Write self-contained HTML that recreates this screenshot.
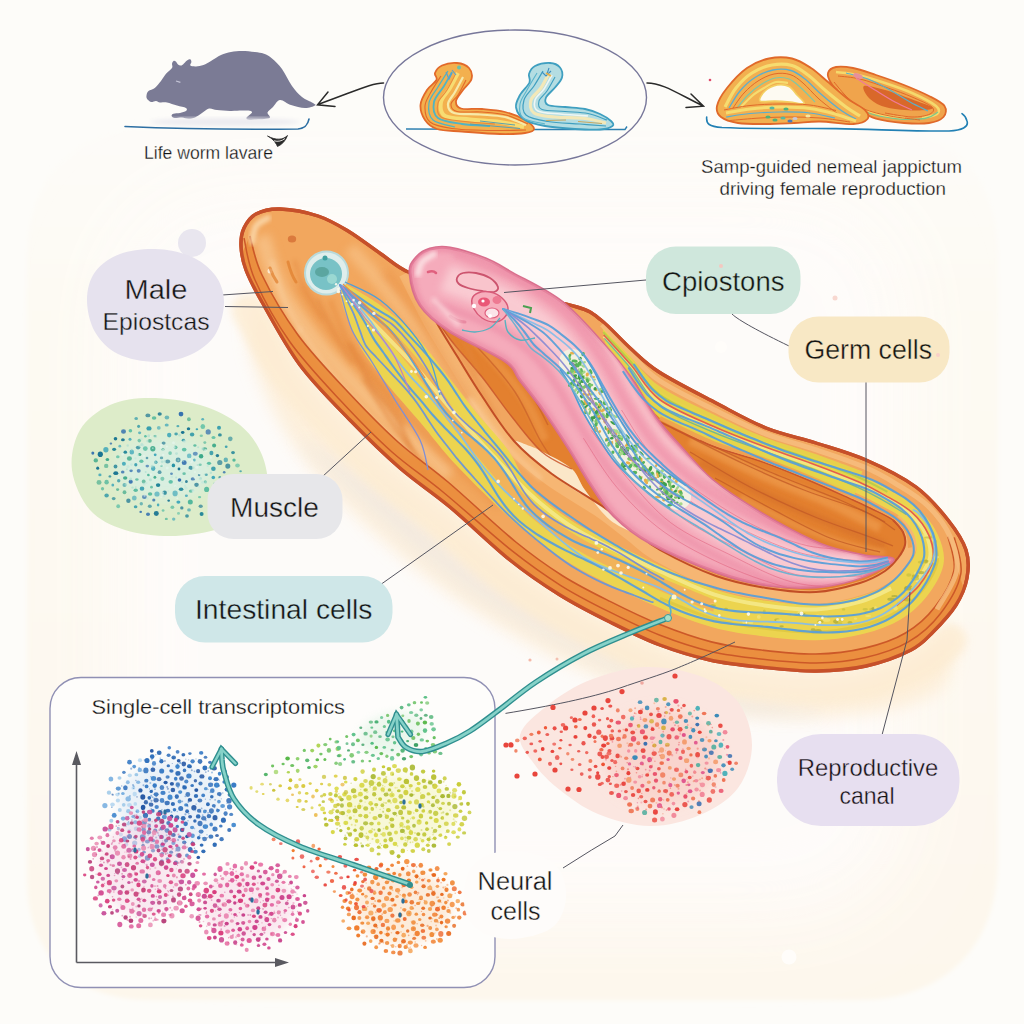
<!DOCTYPE html>
<html><head><meta charset="utf-8"><title>Worm single-cell atlas</title>
<style>
html,body{margin:0;padding:0;background:#fdfcf9;}
body{width:1024px;height:1024px;overflow:hidden;font-family:"Liberation Sans",sans-serif;}
svg{display:block}
text{font-family:"Liberation Sans",sans-serif;fill:#141414}
</style></head><body>
<svg width="1024" height="1024" viewBox="0 0 1024 1024">
<defs>
<filter id="b2" x="-20%" y="-20%" width="140%" height="140%"><feGaussianBlur stdDeviation="2"/></filter>
<filter id="b4" x="-20%" y="-20%" width="140%" height="140%"><feGaussianBlur stdDeviation="4"/></filter>
<filter id="b8" x="-20%" y="-20%" width="140%" height="140%"><feGaussianBlur stdDeviation="8"/></filter>
<filter id="b14" x="-20%" y="-20%" width="140%" height="140%"><feGaussianBlur stdDeviation="14"/></filter>
<linearGradient id="gOr" x1="0" y1="0" x2="1" y2="1">
<stop offset="0" stop-color="#f3a75a"/><stop offset="0.5" stop-color="#f0a052"/><stop offset="1" stop-color="#ec9440"/></linearGradient>
<linearGradient id="gPk" x1="0" y1="0" x2="1" y2="1">
<stop offset="0" stop-color="#f4a6b4"/><stop offset="1" stop-color="#f2a0b2"/></linearGradient>
</defs>
<rect width="1024" height="1024" fill="#fdfcf9"/>
<linearGradient id="gBlob" x1="0" y1="120" x2="0" y2="1000" gradientUnits="userSpaceOnUse"><stop offset="0" stop-color="#fdfcf9"/><stop offset="0.2" stop-color="#fdfaf3"/><stop offset="1" stop-color="#fdf7ec"/></linearGradient><filter id="b40" x="-20%" y="-20%" width="140%" height="140%"><feGaussianBlur stdDeviation="40"/></filter>
<path d="M27,260 C27,170 80,125 160,122 L870,122 C950,125 998,170 998,260 L998,860 C998,950 940,1000 860,1000 L150,1000 C70,1000 27,950 27,880 Z" fill="url(#gBlob)" filter="url(#b2)"/>
<rect x="110" y="190" width="800" height="730" rx="120" fill="#fefcfa" opacity="0.95" filter="url(#b40)"/>
<path d="M146.6,95.0 C146.8,93.7 147.1,92.2 148.5,91.0 C149.9,89.8 152.7,89.7 154.8,88.0 C156.8,86.3 159.1,83.4 161.0,81.0 C162.9,78.6 164.2,75.9 166.0,73.8 C167.8,71.6 171.0,69.7 172.0,68.0 C173.0,66.3 171.8,64.9 172.0,63.8 C172.2,62.6 172.9,61.4 173.5,61.0 C174.1,60.6 175.0,60.9 175.8,61.5 C176.5,62.1 177.2,63.7 178.0,64.4 C178.8,65.1 179.6,65.6 180.4,65.6 C181.2,65.6 181.9,65.2 183.0,64.4 C184.1,63.6 185.8,61.4 187.0,60.6 C188.2,59.8 189.7,59.2 190.4,59.4 C191.1,59.6 191.4,61.0 191.4,62.0 C191.4,63.0 189.6,64.8 190.4,65.6 C191.2,66.3 193.8,66.6 196.0,66.5 C198.2,66.4 201.0,65.9 203.5,65.0 C206.0,64.1 208.1,62.7 211.0,61.0 C213.9,59.3 217.7,56.5 221.0,55.0 C224.3,53.5 227.5,52.7 231.0,52.0 C234.5,51.3 238.0,51.0 242.0,51.0 C246.0,51.0 251.1,51.5 254.8,52.0 C258.4,52.5 261.1,52.7 264.0,53.8 C266.9,54.8 269.0,56.0 272.0,58.5 C275.0,61.0 278.7,64.4 282.0,69.0 C285.3,73.6 288.7,81.3 292.0,86.0 C295.3,90.7 298.5,94.2 302.0,97.0 C305.5,99.8 310.8,101.6 313.0,103.0 C315.2,104.4 316.3,104.7 315.0,105.5 C313.7,106.3 309.0,108.1 305.0,108.0 C301.0,107.9 295.2,106.3 291.0,105.0 C286.8,103.7 283.0,99.7 280.0,100.0 C277.0,100.3 275.1,104.9 273.0,107.0 C270.9,109.1 268.0,110.8 267.5,112.5 C267.0,114.2 270.6,116.4 270.0,117.5 C269.4,118.6 266.3,118.7 264.0,119.0 C261.7,119.3 258.6,119.3 256.0,119.4 C253.4,119.5 250.1,120.1 248.5,119.8 C246.9,119.4 246.0,118.7 246.6,117.5 C247.2,116.3 251.7,113.7 252.0,112.5 C252.3,111.3 250.2,110.9 248.5,110.6 C246.8,110.3 245.1,110.5 242.0,110.6 C238.9,110.7 234.2,111.1 230.0,111.0 C225.8,110.9 220.5,110.4 217.0,110.0 C213.5,109.6 211.5,108.0 209.0,108.5 C206.5,109.0 204.3,111.5 202.0,113.0 C199.7,114.5 197.2,116.5 195.0,117.5 C192.8,118.5 190.7,118.8 188.5,118.8 C186.3,118.8 184.3,117.6 182.0,117.5 C179.7,117.4 176.5,118.2 174.8,118.0 C173.0,117.8 171.8,116.7 171.6,116.0 C171.4,115.3 172.1,114.2 173.5,113.8 C174.9,113.2 177.9,113.5 180.0,113.0 C182.1,112.5 185.0,111.8 186.0,111.0 C187.0,110.2 187.5,108.9 186.0,108.0 C184.5,107.1 180.2,106.5 177.0,105.6 C173.8,104.7 169.8,103.0 167.0,102.5 C164.2,102.0 161.8,102.8 160.0,102.5 C158.2,102.2 157.5,101.1 156.0,101.0 C154.5,100.9 152.5,102.4 151.0,102.0 C149.5,101.6 147.7,99.9 147.0,98.8 C146.3,97.6 146.3,96.3 146.6,95.0Z" fill="#7b7b95"/>
<path d="M176,81 l4.4,1.3" stroke="#c4c4d6" stroke-width="1.3" fill="none"/>
<ellipse cx="225" cy="122" rx="75" ry="4" fill="#ecebf0" filter="url(#b2)"/>
<path d="M125,126.5 C180,129 250,129.5 298,129 C306,128 308,124 309,119" stroke="#2d6fa3" stroke-width="1.6" fill="none" stroke-linecap="round"/>
<path d="M267.5,136 C272,138.5 275,141 277.5,146.5 C282,144.5 285.5,141 287.5,135.5 C283,140 276,140.5 267.5,136Z" fill="#2a2a2a" stroke="#2a2a2a" stroke-width="0.8" stroke-linejoin="round"/>
<path d="M274,140.8 C278,142 282,141 285,138.5" stroke="#f4f2ee" stroke-width="0.9" fill="none"/>
<text x="144" y="159" font-size="18" textLength="129" lengthAdjust="spacingAndGlyphs" stroke="#fdfcf9" stroke-width="0.26">Life worm lavare</text>
<ellipse cx="515" cy="97.5" rx="131.5" ry="67.5" fill="#fdfcf9" stroke="#77779a" stroke-width="1.4"/>
<path d="M383.5,83 C372,83 358,90 318,104.5 M328,92 L317.5,104.8 L335,106.5" stroke="#2a2a2a" stroke-width="1.5" fill="none" stroke-linecap="round"/>
<path d="M647,83 C662,83 675,92 703,106 M691,94 L703.5,106.2 L686,107.5" stroke="#2a2a2a" stroke-width="1.5" fill="none" stroke-linecap="round"/>
<path d="M406,129 C470,129.5 560,129.5 625,129.5 L627,126.5" stroke="#2d7fb0" stroke-width="1.4" fill="none"/>
<path d="M435.0,73.0 C435.9,70.6 438.3,67.2 442.0,65.5 C445.7,63.8 452.5,62.6 457.0,63.0 C461.5,63.4 466.6,65.3 469.0,68.0 C471.4,70.7 472.5,75.3 471.5,79.0 C470.5,82.7 465.6,86.3 463.0,90.0 C460.4,93.7 456.3,97.9 456.0,101.0 C455.7,104.1 456.7,107.2 461.0,108.5 C465.3,109.8 474.7,108.4 482.0,109.0 C489.3,109.6 497.8,110.2 505.0,112.0 C512.2,113.8 520.2,117.2 525.0,120.0 C529.8,122.8 534.0,126.8 534.0,129.0 C534.0,131.2 530.7,132.2 525.0,133.0 C519.3,133.8 510.5,134.2 500.0,134.0 C489.5,133.8 472.5,132.3 462.0,131.5 C451.5,130.7 443.2,130.9 437.0,129.0 C430.8,127.1 427.8,124.0 425.0,120.0 C422.2,116.0 420.2,110.0 420.5,105.0 C420.8,100.0 424.3,94.2 427.0,90.0 C429.7,85.8 435.2,82.8 436.5,80.0 C437.8,77.2 434.1,75.4 435.0,73.0Z" fill="#f3b04e" stroke="#e2692a" stroke-width="1.8"/>
<path d="M458.0,73.0 C456.7,75.5 452.8,83.2 450.0,88.0 C447.2,92.8 441.8,97.3 441.0,102.0 C440.2,106.7 440.2,113.1 445.0,116.0 C449.8,118.9 460.8,118.5 470.0,119.5 C479.2,120.5 491.0,120.8 500.0,122.0 C509.0,123.2 520.0,126.2 524.0,127.0" fill="none" stroke="#f7dc72" stroke-width="4"/>
<path d="M463.0,77.0 C461.7,79.5 457.5,87.5 455.0,92.0 C452.5,96.5 448.2,100.5 448.0,104.0 C447.8,107.5 448.7,111.2 454.0,113.0 C459.3,114.8 471.5,113.8 480.0,114.5 C488.5,115.2 497.3,115.2 505.0,117.0 C512.7,118.8 522.5,123.7 526.0,125.0" fill="none" stroke="#f7e9a8" stroke-width="2.2"/>
<path d="M452.0,72.0 C450.7,74.3 447.0,81.0 444.0,86.0 C441.0,91.0 435.0,96.7 434.0,102.0 C433.0,107.3 433.3,114.3 438.0,118.0 C442.7,121.7 453.3,122.7 462.0,124.0 C470.7,125.3 485.3,125.7 490.0,126.0" fill="none" stroke="#4fb4c4" stroke-width="1.8"/>
<path d="M448.0,71.0 C446.3,73.7 441.2,81.7 438.0,87.0 C434.8,92.3 429.8,97.5 429.0,103.0 C428.2,108.5 428.7,116.0 433.0,120.0 C437.3,124.0 451.3,125.8 455.0,127.0" fill="none" stroke="#4fb4c4" stroke-width="1.2"/>
<path d="M466.0,80.0 C464.7,82.5 460.5,91.0 458.0,95.0 C455.5,99.0 451.2,101.2 451.0,104.0 C450.8,106.8 451.8,110.2 457.0,111.5 C462.2,112.8 473.8,111.4 482.0,112.0 C490.2,112.6 498.3,113.0 506.0,115.0 C513.7,117.0 524.3,122.5 528.0,124.0" fill="none" stroke="#e2692a" stroke-width="1.1"/>
<path d="M441.0,76.0 C439.3,78.7 433.7,87.0 431.0,92.0 C428.3,97.0 425.2,101.0 425.0,106.0 C424.8,111.0 425.5,118.2 430.0,122.0 C434.5,125.8 442.0,127.1 452.0,128.5 C462.0,129.9 477.7,130.2 490.0,130.5 C502.3,130.8 520.0,130.1 526.0,130.0" fill="none" stroke="#e2692a" stroke-width="1.1"/>
<path d="M455.0,75.0 C453.7,77.5 449.8,85.3 447.0,90.0 C444.2,94.7 439.0,98.5 438.0,103.0 C437.0,107.5 436.5,113.9 441.0,117.0 C445.5,120.1 456.0,120.3 465.0,121.5 C474.0,122.7 490.0,123.6 495.0,124.0" fill="none" stroke="#e98a3a" stroke-width="1.1"/>
<path d="M446,72 l3,7 l3,-6 M452,70 l4,5" stroke="#5a9fd0" stroke-width="1.2" fill="none"/>
<circle cx="459" cy="67.5" r="2" fill="#6cc0a8"/>
<path d="M470,124 L520,128.5 M480,121 L515,125" stroke="#5aa0b0" stroke-width="1" fill="none"/>
<path d="M529.0,74.0 C529.9,71.2 531.5,67.8 535.0,66.0 C538.5,64.2 545.8,62.8 550.0,63.0 C554.2,63.2 558.0,65.1 560.0,67.5 C562.0,69.9 562.8,74.2 562.0,77.5 C561.2,80.8 557.7,84.2 555.0,87.5 C552.3,90.8 547.2,94.6 546.0,97.5 C544.8,100.4 544.8,103.4 548.0,105.0 C551.2,106.6 558.8,106.3 565.0,107.0 C571.2,107.7 579.2,107.8 585.0,109.0 C590.8,110.2 595.7,112.0 600.0,114.0 C604.3,116.0 608.9,119.0 611.0,121.0 C613.1,123.0 614.3,124.6 612.5,126.0 C610.7,127.4 606.2,129.0 600.0,129.5 C593.8,130.0 584.2,129.6 575.0,129.0 C565.8,128.4 553.3,127.5 545.0,126.0 C536.7,124.5 529.8,123.1 525.0,120.0 C520.2,116.9 516.8,111.7 516.0,107.5 C515.2,103.3 517.8,99.2 520.0,95.0 C522.2,90.8 528.0,86.0 529.5,82.5 C531.0,79.0 528.1,76.8 529.0,74.0Z" fill="#b4dde2" stroke="#3f9fc0" stroke-width="1.8"/>
<path d="M549.0,73.0 C547.7,75.5 544.0,83.5 541.0,88.0 C538.0,92.5 532.2,95.8 531.0,100.0 C529.8,104.2 530.0,110.2 534.0,113.0 C538.0,115.8 546.5,116.1 555.0,117.0 C563.5,117.9 576.5,117.5 585.0,118.5 C593.5,119.5 602.5,122.2 606.0,123.0" fill="none" stroke="#f3e8b8" stroke-width="3.2"/>
<path d="M543.0,71.0 C541.5,73.5 537.2,81.2 534.0,86.0 C530.8,90.8 525.3,95.2 524.0,100.0 C522.7,104.8 522.0,111.4 526.0,115.0 C530.0,118.6 539.0,120.0 548.0,121.5 C557.0,123.0 570.3,123.2 580.0,124.0 C589.7,124.8 601.7,125.7 606.0,126.0" fill="none" stroke="#3f9fc0" stroke-width="1.2"/>
<path d="M555.0,77.0 C553.7,79.3 549.7,87.0 547.0,91.0 C544.3,95.0 539.8,97.9 539.0,101.0 C538.2,104.1 537.7,107.8 542.0,109.5 C546.3,111.2 557.3,110.8 565.0,111.5 C572.7,112.2 581.0,112.1 588.0,113.5 C595.0,114.9 603.8,118.9 607.0,120.0" fill="none" stroke="#3f9fc0" stroke-width="1.1"/>
<path d="M537.0,73.0 C535.3,75.8 529.8,84.8 527.0,90.0 C524.2,95.2 520.7,99.3 520.0,104.0 C519.3,108.7 518.8,114.7 523.0,118.0 C527.2,121.3 541.3,123.0 545.0,124.0" fill="none" stroke="#5ab4cc" stroke-width="1.1"/>
<path d="M552.0,75.0 C550.7,77.3 546.8,84.8 544.0,89.0 C541.2,93.2 536.0,96.3 535.0,100.0 C534.0,103.7 533.8,108.7 538.0,111.0 C542.2,113.3 551.7,113.2 560.0,114.0 C568.3,114.8 583.3,115.7 588.0,116.0" fill="none" stroke="#eef6f4" stroke-width="1.6"/>
<path d="M542,72 l4,4 l5,-5 M549,68 l-2,6" stroke="#3f8fc0" stroke-width="1.1" fill="none"/>
<path d="M546,73 l5,3" stroke="#e8b04a" stroke-width="1.6" fill="none"/>
<path d="M546,120.5 L566,120 M578,121.5 L602,123.5" stroke="#c8a860" stroke-width="1" fill="none"/>
<path d="M706.7,117 C706,124 709,126.5 722,127.5 C760,129.5 800,128 836,128.6 C880,129.5 920,131.5 949,131 C962,130.5 969,127 967,121 C966,117 964,115 962,113.7" stroke="#2280b4" stroke-width="1.6" fill="none" stroke-linecap="round"/>
<path d="M828.0,73.0 C828.8,70.3 831.8,67.8 836.0,67.0 C840.2,66.2 846.3,66.7 853.0,68.0 C859.7,69.3 867.5,72.2 876.0,75.0 C884.5,77.8 895.2,81.5 904.0,85.0 C912.8,88.5 922.2,92.5 929.0,96.0 C935.8,99.5 942.1,102.5 944.5,106.0 C946.9,109.5 946.1,114.2 943.5,117.0 C940.9,119.8 935.6,122.0 929.0,123.0 C922.4,124.0 912.8,123.7 904.0,123.0 C895.2,122.3 883.5,120.9 876.0,118.7 C868.5,116.5 864.7,113.8 859.0,110.0 C853.3,106.2 846.7,100.5 842.0,96.0 C837.3,91.5 833.3,86.8 831.0,83.0 C828.7,79.2 827.2,75.7 828.0,73.0Z" fill="#f0a44c" stroke="#e0692a" stroke-width="1.8"/>
<path d="M864.0,86.0 C866.8,84.6 878.5,88.2 887.0,90.6 C895.5,93.0 907.3,97.6 915.0,100.5 C922.7,103.4 933.0,106.3 933.0,108.0 C933.0,109.7 922.7,110.6 915.0,110.5 C907.3,110.4 894.5,109.4 887.0,107.5 C879.5,105.6 873.8,102.6 870.0,99.0 C866.2,95.4 861.2,87.4 864.0,86.0Z" fill="#d9682a"/>
<path d="M836.0,72.0 C839.7,72.5 849.8,73.2 858.0,75.0 C866.2,76.8 876.0,80.0 885.0,83.0 C894.0,86.0 903.5,89.2 912.0,93.0 C920.5,96.8 931.8,102.5 936.0,106.0 C940.2,109.5 939.3,112.0 937.0,114.0 C934.7,116.0 924.5,117.3 922.0,118.0" fill="none" stroke="#f5d96c" stroke-width="2.6"/>
<path d="M838.0,76.0 C841.7,76.5 851.7,77.0 860.0,79.0 C868.3,81.0 879.3,85.0 888.0,88.0 C896.7,91.0 904.7,93.8 912.0,97.0 C919.3,100.2 929.0,104.2 932.0,107.0 C935.0,109.8 933.3,112.3 930.0,114.0 C926.7,115.7 919.5,117.2 912.0,117.0 C904.5,116.8 889.5,113.7 885.0,113.0" fill="none" stroke="#e0692a" stroke-width="1"/>
<path d="M846.0,73.0 C849.7,74.0 860.7,76.2 868.0,79.0 C875.3,81.8 883.0,86.2 890.0,90.0 C897.0,93.8 903.7,98.5 910.0,102.0 C916.3,105.5 925.0,109.5 928.0,111.0" fill="none" stroke="#5ab0c8" stroke-width="1.2"/>
<path d="M856.0,78.0 C859.2,80.0 868.5,86.0 875.0,90.0 C881.5,94.0 888.8,98.7 895.0,102.0 C901.2,105.3 909.2,108.7 912.0,110.0" fill="none" stroke="#f07a9a" stroke-width="1.3"/>
<path d="M846.0,98.0 C849.3,100.3 857.8,108.6 866.0,112.0 C874.2,115.4 885.2,117.4 895.0,118.5 C904.8,119.6 917.8,119.6 925.0,118.5 C932.2,117.4 935.8,113.1 938.0,112.0" fill="none" stroke="#7cc78c" stroke-width="1.3"/>
<path d="M838.0,90.0 C841.0,92.7 849.0,101.9 856.0,106.0 C863.0,110.1 871.8,112.5 880.0,114.5 C888.2,116.5 900.8,117.4 905.0,118.0" fill="none" stroke="#f5d96c" stroke-width="2"/>
<path d="M834.0,82.0 C836.3,84.7 843.0,93.5 848.0,98.0 C853.0,102.5 857.0,106.0 864.0,109.0 C871.0,112.0 880.7,114.2 890.0,116.0 C899.3,117.8 915.0,119.3 920.0,120.0" fill="none" stroke="#e0692a" stroke-width="1"/>
<ellipse cx="858" cy="76" rx="5" ry="2.5" fill="#e8909a" transform="rotate(20 858 76)"/>
<path d="M717.0,106.0 C718.0,101.2 722.0,94.3 727.0,88.0 C732.0,81.7 740.0,72.9 747.0,68.0 C754.0,63.1 761.5,60.1 769.0,58.5 C776.5,56.9 785.0,56.9 792.0,58.5 C799.0,60.1 805.0,64.1 811.0,68.0 C817.0,71.9 821.8,76.8 828.0,82.0 C834.2,87.2 841.8,94.3 848.0,99.0 C854.2,103.7 861.8,106.7 865.0,110.0 C868.2,113.3 869.4,116.7 867.5,119.0 C865.6,121.3 861.4,123.6 853.5,124.0 C845.6,124.4 829.9,121.7 820.0,121.5 C810.1,121.3 803.0,122.6 794.0,123.0 C785.0,123.4 775.3,124.0 766.0,124.0 C756.7,124.0 745.5,124.2 738.0,123.0 C730.5,121.8 724.5,119.8 721.0,117.0 C717.5,114.2 716.0,110.8 717.0,106.0Z" fill="#f2b050" stroke="#e0692a" stroke-width="1.8"/>
<path d="M725.0,107.0 C726.8,103.8 731.5,93.7 736.0,88.0 C740.5,82.3 746.0,76.8 752.0,73.0 C758.0,69.2 765.3,66.2 772.0,65.0 C778.7,63.8 786.0,63.8 792.0,65.5 C798.0,67.2 802.3,70.8 808.0,75.0 C813.7,79.2 819.7,85.7 826.0,91.0 C832.3,96.3 840.3,102.8 846.0,107.0 C851.7,111.2 857.7,114.5 860.0,116.0" fill="none" stroke="#f6dc70" stroke-width="3.2"/>
<path d="M729.0,108.0 C730.8,105.2 735.7,96.1 740.0,91.0 C744.3,85.9 749.5,81.0 755.0,77.5 C760.5,74.0 767.0,71.2 773.0,70.0 C779.0,68.8 785.7,69.0 791.0,70.5 C796.3,72.0 799.8,74.9 805.0,79.0 C810.2,83.1 815.8,89.7 822.0,95.0 C828.2,100.3 836.3,107.0 842.0,111.0 C847.7,115.0 853.7,117.7 856.0,119.0" fill="none" stroke="#5aaed0" stroke-width="1.3"/>
<path d="M733.0,108.0 C734.8,105.5 739.8,97.5 744.0,93.0 C748.2,88.5 753.0,84.2 758.0,81.0 C763.0,77.8 768.7,75.1 774.0,74.0 C779.3,72.9 785.2,73.0 790.0,74.5 C794.8,76.0 798.2,78.9 803.0,83.0 C807.8,87.1 813.2,93.8 819.0,99.0 C824.8,104.2 834.8,111.5 838.0,114.0" fill="none" stroke="#e0692a" stroke-width="1"/>
<path d="M737.0,108.0 C738.8,105.8 744.0,98.9 748.0,95.0 C752.0,91.1 756.5,87.3 761.0,84.5 C765.5,81.7 770.3,78.9 775.0,78.0 C779.7,77.1 784.8,77.5 789.0,79.0 C793.2,80.5 795.7,83.2 800.0,87.0 C804.3,90.8 812.5,99.5 815.0,102.0" fill="none" stroke="#7cc8a8" stroke-width="1.2"/>
<path d="M741.0,107.0 C742.8,105.2 748.2,99.2 752.0,96.0 C755.8,92.8 760.0,90.3 764.0,88.0 C768.0,85.7 772.0,82.8 776.0,82.0 C780.0,81.2 786.0,82.8 788.0,83.0" fill="none" stroke="#f6dc70" stroke-width="2.2"/>
<path d="M760.0,101.0 C758.3,99.3 762.2,93.7 765.0,91.0 C767.8,88.3 773.0,85.8 777.0,85.0 C781.0,84.2 785.7,84.8 789.0,86.5 C792.3,88.2 794.5,92.2 797.0,95.0 C799.5,97.8 805.2,102.3 804.0,103.5 C802.8,104.7 794.8,102.4 790.0,102.0 C785.2,101.6 780.0,101.2 775.0,101.0 C770.0,100.8 761.7,102.7 760.0,101.0Z" fill="#fdfaf2" stroke="#f3cf62" stroke-width="1.6"/>
<path d="M726.0,113.0 C730.0,112.3 741.0,110.0 750.0,109.0 C759.0,108.0 770.0,107.1 780.0,107.0 C790.0,106.9 800.8,107.3 810.0,108.5 C819.2,109.7 827.3,111.9 835.0,114.0 C842.7,116.1 852.5,119.8 856.0,121.0" fill="none" stroke="#f6dc70" stroke-width="3"/>
<path d="M724.0,110.0 C728.3,109.2 740.7,106.5 750.0,105.5 C759.3,104.5 770.0,104.1 780.0,104.0 C790.0,103.9 800.7,103.9 810.0,105.0 C819.3,106.1 831.7,109.6 836.0,110.5" fill="none" stroke="#e0692a" stroke-width="1"/>
<path d="M726.0,117.0 C730.0,116.4 741.0,114.3 750.0,113.5 C759.0,112.7 770.0,112.1 780.0,112.0 C790.0,111.9 800.8,112.0 810.0,113.0 C819.2,114.0 830.8,117.2 835.0,118.0" fill="none" stroke="#5aaed0" stroke-width="1.2"/>
<path d="M730.0,120.5 C735.0,120.1 750.0,118.6 760.0,118.0 C770.0,117.4 780.0,117.0 790.0,117.0 C800.0,117.0 810.0,117.2 820.0,118.0 C830.0,118.8 845.0,121.3 850.0,122.0" fill="none" stroke="#e0692a" stroke-width="1"/>
<ellipse cx="768.0" cy="117.0" rx="2.6" ry="1.6" fill="#4fb07a"/>
<ellipse cx="775.0" cy="120.0" rx="2.6" ry="1.6" fill="#4fb07a"/>
<ellipse cx="783.0" cy="118.0" rx="2.6" ry="1.6" fill="#58b8a0"/>
<ellipse cx="795.0" cy="118.5" rx="2.6" ry="1.6" fill="#c8c8d8"/>
<ellipse cx="790.0" cy="121.0" rx="2.6" ry="1.6" fill="#4a7ab8"/>
<ellipse cx="808.0" cy="116.0" rx="2.6" ry="1.6" fill="#f6e8a0"/>
<ellipse cx="772.0" cy="108.0" rx="2.6" ry="1.6" fill="#58b8a0"/>
<ellipse cx="786.0" cy="109.0" rx="2.6" ry="1.6" fill="#4fb07a"/>
<text x="701" y="172.5" font-size="17.5" textLength="261" lengthAdjust="spacingAndGlyphs" stroke="#fdfcf9" stroke-width="0.26">Samp-guided nemeal jappictum</text>
<text x="719.5" y="195" font-size="17.5" textLength="226.5" lengthAdjust="spacingAndGlyphs" stroke="#fdfcf9" stroke-width="0.26">driving female reproduction</text>
<path d="M262.0,300.0 C270.3,305.0 282.0,353.3 300.0,380.0 C318.0,406.7 345.0,435.8 370.0,460.0 C395.0,484.2 418.3,500.8 450.0,525.0 C481.7,549.2 521.7,581.2 560.0,605.0 C598.3,628.8 640.0,653.8 680.0,668.0 C720.0,682.2 763.3,689.7 800.0,690.0 C836.7,690.3 875.0,678.3 900.0,670.0 C925.0,661.7 943.3,636.7 950.0,640.0 C956.7,643.3 955.0,677.5 940.0,690.0 C925.0,702.5 893.3,710.8 860.0,715.0 C826.7,719.2 783.3,721.2 740.0,715.0 C696.7,708.8 645.0,695.8 600.0,678.0 C555.0,660.2 510.0,634.3 470.0,608.0 C430.0,581.7 390.0,548.0 360.0,520.0 C330.0,492.0 308.3,468.3 290.0,440.0 C271.7,411.7 254.7,373.3 250.0,350.0 C245.3,326.7 253.7,295.0 262.0,300.0Z" fill="#fdebd0" opacity="0.7" filter="url(#b8)"/>
<path d="M300.0,440.0 C300.0,445.0 350.0,493.3 380.0,520.0 C410.0,546.7 443.3,575.8 480.0,600.0 C516.7,624.2 560.0,646.7 600.0,665.0 C640.0,683.3 683.3,702.2 720.0,710.0 C756.7,717.8 820.0,715.3 820.0,712.0 C820.0,708.7 756.7,701.2 720.0,690.0 C683.3,678.8 640.0,664.2 600.0,645.0 C560.0,625.8 516.7,600.8 480.0,575.0 C443.3,549.2 410.0,512.5 380.0,490.0 C350.0,467.5 300.0,435.0 300.0,440.0Z" fill="#ebe6e2" opacity="0.55" filter="url(#b8)"/>
<path d="M248.3,310.3 C254.8,321.0 272.1,354.4 287.2,374.6 C302.2,394.7 321.5,413.6 338.5,431.1 C355.6,448.7 372.6,465.4 389.5,480.1 C406.4,494.8 421.3,503.9 439.7,519.3 C458.2,534.7 481.4,557.6 500.0,572.5 C518.6,587.4 534.4,598.0 551.6,608.6 C568.7,619.2 585.7,627.8 602.8,636.3 C620.0,644.9 637.0,653.4 654.3,660.0 C671.6,666.5 689.2,671.8 706.6,675.6 C723.9,679.5 740.1,681.0 758.3,682.9 C776.6,684.8 797.6,687.2 816.2,687.0 C834.7,686.8 852.4,685.4 869.5,681.6 C886.5,677.8 904.9,671.0 918.3,664.2 C931.7,657.4 944.4,644.7 949.7,640.7" fill="none" stroke="#fdecd2" stroke-width="34" opacity="0.8" stroke-linecap="round" filter="url(#b4)"/>
<path d="M241.0,246.0 C240.7,239.0 241.5,233.3 244.0,228.0 C246.5,222.7 250.0,217.2 256.0,214.0 C262.0,210.8 269.7,208.7 280.0,209.0 C290.3,209.3 306.7,212.3 318.0,216.0 C329.3,219.7 337.5,224.7 348.0,231.0 C358.5,237.3 370.7,247.0 381.0,254.0 C391.3,261.0 396.8,267.0 410.0,273.0 C423.2,279.0 441.7,286.2 460.0,290.0 C478.3,293.8 500.5,293.2 520.0,296.0 C539.5,298.8 563.5,303.0 577.0,307.0 C590.5,311.0 592.2,313.2 601.0,320.0 C609.8,326.8 620.3,339.3 630.0,348.0 C639.7,356.7 644.7,362.8 659.0,372.0 C673.3,381.2 698.2,393.7 716.0,403.0 C733.8,412.3 749.3,421.3 766.0,428.0 C782.7,434.7 799.3,437.7 816.0,443.0 C832.7,448.3 849.3,452.7 866.0,460.0 C882.7,467.3 902.3,477.0 916.0,487.0 C929.7,497.0 939.7,509.5 948.0,520.0 C956.3,530.5 962.8,540.3 966.0,550.0 C969.2,559.7 968.7,568.8 967.0,578.0 C965.3,587.2 961.7,596.0 956.0,605.0 C950.3,614.0 940.5,624.5 933.0,632.0 C925.5,639.5 922.2,644.3 911.0,650.0 C899.8,655.7 881.8,662.5 866.0,666.0 C850.2,669.5 833.7,670.8 816.0,671.0 C798.3,671.2 777.7,668.8 760.0,667.0 C742.3,665.2 726.7,663.7 710.0,660.0 C693.3,656.3 676.7,651.3 660.0,645.0 C643.3,638.7 626.7,630.3 610.0,622.0 C593.3,613.7 576.7,605.3 560.0,595.0 C543.3,584.7 528.3,574.7 510.0,560.0 C491.7,545.3 468.3,522.3 450.0,507.0 C431.7,491.7 416.7,482.5 400.0,468.0 C383.3,453.5 366.7,437.2 350.0,420.0 C333.3,402.8 314.7,384.7 300.0,365.0 C285.3,345.3 271.0,317.8 262.0,302.0 C253.0,286.2 249.5,279.3 246.0,270.0 C242.5,260.7 241.3,253.0 241.0,246.0Z" fill="#f2a75e" stroke="#c6502a" stroke-width="3.4" stroke-linejoin="round"/>
<clipPath id="cOuter"><path d="M241.0,246.0 C240.7,239.0 241.5,233.3 244.0,228.0 C246.5,222.7 250.0,217.2 256.0,214.0 C262.0,210.8 269.7,208.7 280.0,209.0 C290.3,209.3 306.7,212.3 318.0,216.0 C329.3,219.7 337.5,224.7 348.0,231.0 C358.5,237.3 370.7,247.0 381.0,254.0 C391.3,261.0 396.8,267.0 410.0,273.0 C423.2,279.0 441.7,286.2 460.0,290.0 C478.3,293.8 500.5,293.2 520.0,296.0 C539.5,298.8 563.5,303.0 577.0,307.0 C590.5,311.0 592.2,313.2 601.0,320.0 C609.8,326.8 620.3,339.3 630.0,348.0 C639.7,356.7 644.7,362.8 659.0,372.0 C673.3,381.2 698.2,393.7 716.0,403.0 C733.8,412.3 749.3,421.3 766.0,428.0 C782.7,434.7 799.3,437.7 816.0,443.0 C832.7,448.3 849.3,452.7 866.0,460.0 C882.7,467.3 902.3,477.0 916.0,487.0 C929.7,497.0 939.7,509.5 948.0,520.0 C956.3,530.5 962.8,540.3 966.0,550.0 C969.2,559.7 968.7,568.8 967.0,578.0 C965.3,587.2 961.7,596.0 956.0,605.0 C950.3,614.0 940.5,624.5 933.0,632.0 C925.5,639.5 922.2,644.3 911.0,650.0 C899.8,655.7 881.8,662.5 866.0,666.0 C850.2,669.5 833.7,670.8 816.0,671.0 C798.3,671.2 777.7,668.8 760.0,667.0 C742.3,665.2 726.7,663.7 710.0,660.0 C693.3,656.3 676.7,651.3 660.0,645.0 C643.3,638.7 626.7,630.3 610.0,622.0 C593.3,613.7 576.7,605.3 560.0,595.0 C543.3,584.7 528.3,574.7 510.0,560.0 C491.7,545.3 468.3,522.3 450.0,507.0 C431.7,491.7 416.7,482.5 400.0,468.0 C383.3,453.5 366.7,437.2 350.0,420.0 C333.3,402.8 314.7,384.7 300.0,365.0 C285.3,345.3 271.0,317.8 262.0,302.0 C253.0,286.2 249.5,279.3 246.0,270.0 C242.5,260.7 241.3,253.0 241.0,246.0Z"/></clipPath>
<g clip-path="url(#cOuter)">
<path d="M420.0,300.0 C420.0,297.0 433.3,314.5 450.0,322.0 C466.7,329.5 495.0,339.5 520.0,345.0 C545.0,350.5 579.2,347.2 600.0,355.0 C620.8,362.8 634.0,381.2 645.0,392.0 C656.0,402.8 654.8,411.0 666.0,420.0 C677.2,429.0 696.3,439.2 712.0,446.0 C727.7,452.8 744.0,455.3 760.0,461.0 C776.0,466.7 792.5,473.5 808.0,480.0 C823.5,486.5 842.3,495.2 853.0,500.0 C863.7,504.8 865.3,505.7 872.0,509.0 C878.7,512.3 887.8,516.2 893.0,520.0 C898.2,523.8 901.0,527.8 903.0,532.0 C905.0,536.2 905.8,540.8 905.0,545.0 C904.2,549.2 901.3,553.0 898.0,557.0 C894.7,561.0 891.3,565.0 885.0,569.0 C878.7,573.0 871.5,577.5 860.0,581.0 C848.5,584.5 831.7,589.2 816.0,590.0 C800.3,590.8 782.7,588.7 766.0,586.0 C749.3,583.3 733.7,580.3 716.0,574.0 C698.3,567.7 677.7,556.3 660.0,548.0 C642.3,539.7 621.7,532.0 610.0,524.0 C598.3,516.0 596.3,509.0 590.0,500.0 C583.7,491.0 579.5,477.5 572.0,470.0 C564.5,462.5 555.0,463.7 545.0,455.0 C535.0,446.3 522.5,431.0 512.0,418.0 C501.5,405.0 492.3,390.0 482.0,377.0 C471.7,364.0 460.3,352.8 450.0,340.0 C439.7,327.2 420.0,303.0 420.0,300.0Z" fill="#e3802f"/>
<path d="M690.0,440.0 C701.7,445.7 736.7,463.5 760.0,474.0 C783.3,484.5 810.0,494.0 830.0,503.0 C850.0,512.0 871.7,523.8 880.0,528.0" fill="none" stroke="#ee9a4c" stroke-width="10" opacity="0.75" filter="url(#b2)"/>
<path d="M700.0,462.0 C711.7,467.8 746.7,486.2 770.0,497.0 C793.3,507.8 820.8,519.0 840.0,527.0 C859.2,535.0 877.5,542.0 885.0,545.0" fill="none" stroke="#d5702a" stroke-width="8" opacity="0.6" filter="url(#b2)"/>
<path d="M740.0,497.0 C750.0,502.0 781.7,519.0 800.0,527.0 C818.3,535.0 835.8,540.7 850.0,545.0 C864.2,549.3 879.2,551.7 885.0,553.0" fill="none" stroke="#ec974a" stroke-width="6" opacity="0.7" filter="url(#b2)"/>
<path d="M672.0,428.0 C683.7,433.8 720.0,452.7 742.0,463.0 C764.0,473.3 783.3,481.8 804.0,490.0 C824.7,498.2 850.8,505.3 866.0,512.0 C881.2,518.7 890.2,527.0 895.0,530.0" fill="none" stroke="#c25a26" stroke-width="1.3" opacity="0.75"/>
<path d="M690.0,452.0 C700.0,457.8 729.2,476.2 750.0,487.0 C770.8,497.8 795.0,508.7 815.0,517.0 C835.0,525.3 857.0,532.2 870.0,537.0 C883.0,541.8 889.2,544.5 893.0,546.0" fill="none" stroke="#c25a26" stroke-width="1.3" opacity="0.75"/>
<path d="M715.0,478.0 C724.2,483.0 750.8,498.0 770.0,508.0 C789.2,518.0 811.7,530.7 830.0,538.0 C848.3,545.3 871.7,549.7 880.0,552.0" fill="none" stroke="#c25a26" stroke-width="1.3" opacity="0.75"/>
<path d="M700.0,440.0 C711.7,445.3 746.7,462.0 770.0,472.0 C793.3,482.0 820.8,491.7 840.0,500.0 C859.2,508.3 877.5,518.3 885.0,522.0" fill="none" stroke="#c25a26" stroke-width="1.3" opacity="0.75"/>
<path d="M450.0,318.0 C456.7,324.3 477.5,342.3 490.0,356.0 C502.5,369.7 515.8,386.0 525.0,400.0 C534.2,414.0 541.7,433.3 545.0,440.0" fill="none" stroke="#ee9a4c" stroke-width="9" opacity="0.6" filter="url(#b2)"/>
<path d="M440.0,312.0 C446.7,318.3 467.5,336.7 480.0,350.0 C492.5,363.3 505.0,377.0 515.0,392.0 C525.0,407.0 532.5,427.0 540.0,440.0 C547.5,453.0 556.7,465.0 560.0,470.0" fill="none" stroke="#c9602a" stroke-width="1.4" opacity="0.7"/>
<path d="M462.0,320.0 C468.3,325.3 488.7,340.0 500.0,352.0 C511.3,364.0 522.0,379.8 530.0,392.0 C538.0,404.2 545.0,419.5 548.0,425.0" fill="none" stroke="#c9602a" stroke-width="1.4" opacity="0.7"/>
<path d="M404.7,273.7 C408.7,281.6 420.9,306.7 428.7,320.9 C436.6,335.1 443.8,346.1 451.9,359.1 C459.9,372.2 467.4,385.0 477.0,399.3 C486.6,413.7 497.6,431.8 509.5,445.0 C521.4,458.3 533.6,467.8 548.4,478.8 C563.3,489.8 584.8,501.5 598.6,510.9 C612.4,520.4 621.6,528.4 631.4,535.8 C641.1,543.2 643.3,547.6 657.1,555.2 C670.9,562.9 696.0,575.2 714.0,581.6 C732.0,588.1 748.0,591.2 765.1,593.9 C782.1,596.6 800.2,598.9 816.3,598.0 C832.4,597.1 849.8,592.4 861.7,588.7 C873.7,585.1 881.5,580.5 888.3,576.0 C895.1,571.5 899.0,566.6 902.8,561.7 C906.5,556.7 909.9,551.5 910.9,546.1 C911.8,540.8 910.6,534.4 908.4,529.4 C906.2,524.4 899.4,518.4 897.6,516.2" fill="none" stroke="#f6b673" stroke-width="12"/>
<path d="M410.0,271.0 C414.0,278.8 426.2,303.8 434.0,318.0 C441.8,332.2 449.0,343.0 457.0,356.0 C465.0,369.0 472.5,381.8 482.0,396.0 C491.5,410.2 502.3,428.0 514.0,441.0 C525.7,454.0 545.7,468.5 552.0,474.0 L572.0,469.0 C567.0,466.2 552.0,460.7 542.0,452.0 C532.0,443.3 522.0,429.5 512.0,417.0 C502.0,404.5 492.3,390.0 482.0,377.0 C471.7,364.0 459.7,351.8 450.0,339.0 C440.3,326.2 428.3,306.5 424.0,300.0Z" fill="#f1a660"/>
<path d="M514.0,441.0 C514.0,439.3 524.8,444.0 530.0,446.0 C535.2,448.0 538.0,449.2 545.0,453.0 C552.0,456.8 565.3,462.8 572.0,469.0 C578.7,475.2 578.7,481.5 585.0,490.0 C591.3,498.5 601.3,512.8 610.0,520.0 C618.7,527.2 638.3,535.3 637.0,533.0 C635.7,530.7 612.2,513.0 602.0,506.0 C591.8,499.0 584.3,496.3 576.0,491.0 C567.7,485.7 559.7,479.8 552.0,474.0 C544.3,468.2 536.3,461.5 530.0,456.0 C523.7,450.5 514.0,442.7 514.0,441.0Z" fill="#fbe7c8"/>
<path d="M424.0,300.0 C428.3,306.5 440.3,326.2 450.0,339.0 C459.7,351.8 471.7,364.0 482.0,377.0 C492.3,390.0 502.0,404.5 512.0,417.0 C522.0,429.5 532.0,443.3 542.0,452.0 C552.0,460.7 567.0,466.2 572.0,469.0" fill="none" stroke="#c9552a" stroke-width="1.4" opacity="0.85"/>
<path d="M262.0,236.0 C265.3,245.3 271.5,272.7 282.0,292.0 C292.5,311.3 307.8,331.5 325.0,352.0 C342.2,372.5 364.2,394.5 385.0,415.0 C405.8,435.5 439.2,465.0 450.0,475.0" fill="none" stroke="#f9cc98" stroke-width="16" opacity="0.6" filter="url(#b4)"/>
<path d="M350.0,248.0 C357.0,256.0 378.3,279.3 392.0,296.0 C405.7,312.7 419.0,329.8 432.0,348.0 C445.0,366.2 458.7,388.8 470.0,405.0 C481.3,421.2 495.0,438.3 500.0,445.0" fill="none" stroke="#f8c48a" stroke-width="14" opacity="0.65" filter="url(#b4)"/>
<path d="M300.0,285.0 C306.7,294.2 325.0,321.7 340.0,340.0 C355.0,358.3 373.3,376.7 390.0,395.0 C406.7,413.3 421.7,431.7 440.0,450.0 C458.3,468.3 490.0,495.8 500.0,505.0" fill="none" stroke="#e88c40" stroke-width="9" opacity="0.5" filter="url(#b4)"/>
<path d="M385.0,272.0 C390.0,278.7 405.0,297.0 415.0,312.0 C425.0,327.0 435.8,347.3 445.0,362.0 C454.2,376.7 465.8,393.7 470.0,400.0" fill="none" stroke="#e88c40" stroke-width="8" opacity="0.5" filter="url(#b4)"/>
<path d="M330.0,300.0 C333.3,307.5 341.7,330.8 350.0,345.0 C358.3,359.2 370.8,371.7 380.0,385.0 C389.2,398.3 400.8,418.3 405.0,425.0" fill="none" stroke="#e88c40" stroke-width="6" opacity="0.45" filter="url(#b2)"/>
<path d="M350.0,345.0 C353.7,351.7 364.0,372.5 372.0,385.0 C380.0,397.5 391.3,408.3 398.0,420.0 C404.7,431.7 409.7,449.2 412.0,455.0" fill="none" stroke="#e2853e" stroke-width="5.0" opacity="0.55" stroke-linecap="round" filter="url(#b2)"/>
<path d="M365.0,380.0 C369.2,386.7 380.8,406.3 390.0,420.0 C399.2,433.7 413.7,450.3 420.0,462.0 C426.3,473.7 426.7,485.3 428.0,490.0" fill="none" stroke="#e2853e" stroke-width="5.0" opacity="0.50" stroke-linecap="round" filter="url(#b2)"/>
<path d="M318.0,300.0 C320.8,305.8 329.3,324.7 335.0,335.0 C340.7,345.3 349.2,357.5 352.0,362.0" fill="none" stroke="#e2853e" stroke-width="4.0" opacity="0.45" stroke-linecap="round" filter="url(#b2)"/>
<path d="M295.0,262.0 C296.7,266.7 300.5,280.7 305.0,290.0 C309.5,299.3 319.2,313.3 322.0,318.0" fill="none" stroke="#e2853e" stroke-width="4.0" opacity="0.40" stroke-linecap="round" filter="url(#b2)"/>
<path d="M440.0,305.0 C443.7,310.5 455.7,326.8 462.0,338.0 C468.3,349.2 475.3,366.3 478.0,372.0" fill="none" stroke="#e2853e" stroke-width="4.0" opacity="0.45" stroke-linecap="round" filter="url(#b2)"/>
<path d="M455.0,345.0 C458.5,350.8 469.3,368.3 476.0,380.0 C482.7,391.7 491.8,409.2 495.0,415.0" fill="none" stroke="#e2853e" stroke-width="3.5" opacity="0.40" stroke-linecap="round" filter="url(#b2)"/>
<path d="M400.0,262.0 C403.3,265.3 414.0,275.3 420.0,282.0 C426.0,288.7 433.3,298.7 436.0,302.0" fill="none" stroke="#e2853e" stroke-width="3.5" opacity="0.40" stroke-linecap="round" filter="url(#b2)"/>
<path d="M500.0,470.0 C506.7,475.8 527.5,495.0 540.0,505.0 C552.5,515.0 569.2,525.8 575.0,530.0" fill="none" stroke="#e2853e" stroke-width="4.0" opacity="0.40" stroke-linecap="round" filter="url(#b2)"/>
<path d="M300.0,330.0 C305.0,337.0 318.7,357.8 330.0,372.0 C341.3,386.2 354.7,401.2 368.0,415.0 C381.3,428.8 403.0,448.3 410.0,455.0" fill="none" stroke="#fbd0a0" stroke-width="6.0" opacity="0.50" stroke-linecap="round" filter="url(#b2)"/>
<path d="M272.0,262.0 C274.0,268.3 279.3,288.7 284.0,300.0 C288.7,311.3 297.3,325.0 300.0,330.0" fill="none" stroke="#fbd0a0" stroke-width="5.0" opacity="0.50" stroke-linecap="round" filter="url(#b2)"/>
<path d="M470.0,400.0 C475.0,406.7 488.3,427.0 500.0,440.0 C511.7,453.0 533.3,471.7 540.0,478.0" fill="none" stroke="#fbd0a0" stroke-width="5.0" opacity="0.50" stroke-linecap="round" filter="url(#b2)"/>
<path d="M338.0,286.0 C339.3,290.8 342.0,304.3 346.0,315.0 C350.0,325.7 355.0,338.3 362.0,350.0 C369.0,361.7 378.3,373.0 388.0,385.0 C397.7,397.0 408.3,408.3 420.0,422.0 C431.7,435.7 441.4,449.6 458.0,467.0 C474.6,484.4 501.7,511.1 519.5,526.6 C537.3,542.1 549.5,550.3 564.6,560.0 C579.6,569.7 594.1,576.7 610.0,584.8 C625.9,592.8 643.0,601.0 660.0,608.1 C677.0,615.2 695.2,622.6 712.3,627.3 C729.3,632.0 745.0,634.1 762.3,636.2 C779.6,638.4 799.1,640.6 816.0,640.2 C832.9,639.8 849.5,637.2 863.7,633.7 C877.9,630.2 890.5,625.5 901.1,619.2 C911.7,612.9 920.1,605.1 927.1,596.1 C934.2,587.0 941.6,574.9 943.4,564.8 C945.3,554.8 942.4,545.0 938.3,535.7 C934.3,526.5 927.2,517.1 919.0,509.5 C910.9,501.8 899.0,495.5 889.4,489.8 C879.7,484.1 873.8,480.7 861.1,475.2 C848.3,469.7 829.2,462.8 813.0,457.1 C796.7,451.3 780.1,446.8 763.7,440.5 C747.3,434.3 731.9,427.6 714.5,419.3 C697.1,411.1 673.3,400.9 659.4,391.0 C645.4,381.1 640.2,369.9 630.8,359.8 C621.3,349.7 607.5,335.2 602.9,330.3 L605.1,342.1 C609.5,347.4 622.5,361.6 631.6,373.4 C640.8,385.2 646.3,402.2 659.8,413.0 C673.3,423.8 695.8,431.2 712.7,438.3 C729.6,445.3 745.0,449.2 761.1,455.1 C777.2,460.9 793.7,467.0 809.4,473.3 C825.2,479.6 844.1,487.8 855.3,492.8 C866.6,497.8 869.5,499.4 877.0,503.4 C884.6,507.4 894.5,512.0 900.6,516.9 C906.6,521.9 910.7,527.4 913.3,533.1 C915.9,538.7 917.3,544.9 916.2,550.8 C915.0,556.6 910.9,562.9 906.5,568.3 C902.0,573.8 897.2,578.9 889.7,583.6 C882.1,588.2 873.4,592.8 861.1,596.3 C848.8,599.8 832.0,603.9 816.0,604.6 C800.0,605.3 781.8,603.1 764.9,600.6 C748.1,598.1 732.4,595.3 714.9,589.5 C697.4,583.6 677.5,573.4 660.0,565.5 C642.5,557.5 625.0,549.3 610.0,541.6 C595.0,534.0 583.1,528.5 569.8,519.6 C556.6,510.6 540.8,499.4 530.5,487.8 C520.2,476.2 517.1,462.6 508.0,450.0 C498.9,437.4 486.2,424.5 476.0,412.0 C465.8,399.5 457.2,387.8 447.0,375.0 C436.8,362.2 426.2,346.7 415.0,335.0 C403.8,323.3 391.8,313.7 380.0,305.0 C368.2,296.3 350.0,286.7 344.0,283.0Z" fill="#ecd84e" opacity="0.92"/>
<path d="M862.4,471.2 C854.3,468.2 830.1,459.0 813.8,453.4 C797.4,447.7 780.8,443.6 764.3,437.2 C747.8,430.9 732.4,423.6 714.9,415.0 C697.4,406.5 673.3,395.7 659.3,386.0 C645.2,376.3 640.0,366.4 630.6,356.7 C621.1,346.9 607.1,332.4 602.4,327.6 L605.6,344.8 C610.0,350.1 622.8,364.3 631.8,376.5 C640.9,388.7 646.5,407.0 659.9,418.0 C673.3,429.0 695.6,435.8 712.3,442.6 C729.1,449.3 744.4,452.6 760.5,458.4 C776.5,464.1 793.0,470.6 808.6,477.0 C824.2,483.4 846.5,493.5 854.0,496.8Z" fill="#e6d548" opacity="0.9"/>
<path d="M341.0,285.0 C344.5,289.3 353.5,301.0 362.0,311.0 C370.5,321.0 382.0,333.2 392.0,345.0 C402.0,356.8 412.8,369.5 422.0,382.0 C431.2,394.5 437.0,406.7 447.0,420.0 C457.0,433.3 469.2,446.9 482.0,462.0 C494.8,477.1 509.9,497.1 524.0,510.7 C538.1,524.3 552.4,534.1 566.7,543.5 C581.1,552.9 594.5,559.3 610.0,567.1 C625.5,575.0 642.8,583.2 660.0,590.7 C677.2,598.1 704.5,608.3 713.4,611.8 L714.2,599.8 C705.2,596.0 677.4,584.8 660.0,577.1 C642.6,569.4 625.3,561.1 610.0,553.4 C594.7,545.6 582.1,539.8 568.4,530.6 C554.6,521.4 540.1,510.8 527.5,498.4 C514.9,486.0 504.6,469.9 493.0,456.0 C481.4,442.1 468.0,428.0 458.0,415.0 C448.0,402.0 442.3,390.3 433.0,378.0 C423.7,365.7 412.5,352.5 402.0,341.0 C391.5,329.5 379.8,318.5 370.0,309.0 C360.2,299.5 347.5,288.2 343.0,284.0Z" fill="#f2ad5c" opacity="0.85"/>
<path d="M350.0,300.0 C355.8,305.8 373.3,323.0 385.0,335.0 C396.7,347.0 409.2,359.8 420.0,372.0 C430.8,384.2 439.2,395.5 450.0,408.0 C460.8,420.5 471.8,432.8 485.0,447.0 C498.2,461.2 515.0,480.1 529.0,493.1 C543.0,506.1 555.6,516.0 569.1,525.1 C582.6,534.1 594.9,539.8 610.0,547.5 C625.1,555.2 642.6,563.4 660.0,571.3 C677.4,579.1 697.1,588.9 714.6,594.6 C732.0,600.3 747.7,603.0 764.6,605.4 C781.5,607.9 799.9,610.1 816.0,609.4 C832.1,608.8 848.9,604.9 861.4,601.4 C874.0,597.9 886.3,590.6 891.2,588.4" fill="none" stroke="#f6ea8c" stroke-width="4" opacity="0.85"/>
<path d="M660.0,598.4 C668.8,601.8 695.7,613.8 712.9,618.7 C730.0,623.7 745.7,625.9 762.9,628.1 C780.1,630.4 799.3,632.6 816.0,632.1 C832.7,631.6 849.4,628.7 863.1,625.2 C876.9,621.7 888.6,617.0 898.5,611.1 C908.4,605.2 916.0,598.0 922.4,589.8 C928.9,581.5 935.5,570.7 937.2,561.6 C938.9,552.5 933.4,539.5 932.6,535.1" fill="none" stroke="#d8c23a" stroke-width="3" opacity="0.6"/>
<path d="M916.8,582.2 C919.0,578.1 928.3,565.8 929.8,557.8 C931.3,549.8 929.1,541.8 925.8,534.4 C922.5,527.0 916.9,519.5 909.8,513.2 C902.7,506.9 891.8,501.5 883.2,496.6 C874.6,491.7 870.2,489.2 858.2,484.0 C846.2,478.8 827.2,471.2 811.2,465.2 C795.2,459.2 778.7,453.9 762.4,447.8 C746.1,441.7 730.7,436.4 713.6,428.8 C696.5,421.2 673.3,412.4 659.6,402.0 C645.9,391.6 640.5,377.6 631.2,366.6 C621.9,355.6 608.5,341.3 604.0,336.2" fill="none" stroke="#f6ea8c" stroke-width="3.5" opacity="0.8"/>
<ellipse cx="907.5" cy="599.8" rx="3.9" ry="1.7" fill="#b8b030" opacity="0.7"/>
<ellipse cx="933.2" cy="556.2" rx="1.6" ry="1.2" fill="#f4e47a" opacity="0.7"/>
<ellipse cx="867.2" cy="611.9" rx="2.9" ry="1.0" fill="#c8c040" opacity="0.7"/>
<ellipse cx="850.0" cy="622.7" rx="2.5" ry="1.8" fill="#b8b030" opacity="0.7"/>
<ellipse cx="764.3" cy="611.4" rx="1.5" ry="1.9" fill="#c8c040" opacity="0.7"/>
<ellipse cx="930.5" cy="566.1" rx="1.9" ry="1.3" fill="#c8c040" opacity="0.7"/>
<ellipse cx="891.2" cy="599.2" rx="3.9" ry="1.7" fill="#a8a838" opacity="0.7"/>
<ellipse cx="817.7" cy="615.7" rx="1.9" ry="1.1" fill="#f4e47a" opacity="0.7"/>
<ellipse cx="927.7" cy="566.3" rx="3.3" ry="1.1" fill="#f4e47a" opacity="0.7"/>
<ellipse cx="925.9" cy="561.1" rx="2.7" ry="1.7" fill="#b8b030" opacity="0.7"/>
<ellipse cx="813.1" cy="629.7" rx="2.4" ry="1.4" fill="#a8a838" opacity="0.7"/>
<ellipse cx="843.6" cy="609.4" rx="1.6" ry="1.2" fill="#c8c040" opacity="0.7"/>
<ellipse cx="750.7" cy="622.5" rx="2.7" ry="1.5" fill="#f4e47a" opacity="0.7"/>
<ellipse cx="915.3" cy="576.2" rx="3.5" ry="1.9" fill="#b8b030" opacity="0.7"/>
<ellipse cx="872.0" cy="609.3" rx="2.8" ry="1.4" fill="#c8c040" opacity="0.7"/>
<ellipse cx="841.3" cy="620.4" rx="2.3" ry="1.3" fill="#c8c040" opacity="0.7"/>
<ellipse cx="926.8" cy="571.7" rx="2.3" ry="1.5" fill="#b8b030" opacity="0.7"/>
<ellipse cx="743.7" cy="621.7" rx="1.6" ry="1.7" fill="#f4e47a" opacity="0.7"/>
<ellipse cx="926.2" cy="561.7" rx="1.6" ry="1.9" fill="#b8b030" opacity="0.7"/>
<ellipse cx="921.8" cy="562.0" rx="4.0" ry="1.6" fill="#c8c040" opacity="0.7"/>
<ellipse cx="909.4" cy="586.4" rx="2.6" ry="1.1" fill="#a8a838" opacity="0.7"/>
<ellipse cx="818.1" cy="630.9" rx="3.6" ry="2.0" fill="#a8a838" opacity="0.7"/>
<ellipse cx="930.3" cy="537.6" rx="2.2" ry="1.5" fill="#c8c040" opacity="0.7"/>
<ellipse cx="758.8" cy="616.9" rx="1.9" ry="1.9" fill="#f4e47a" opacity="0.7"/>
<ellipse cx="777.1" cy="619.7" rx="2.9" ry="1.5" fill="#b8b030" opacity="0.7"/>
<ellipse cx="928.3" cy="573.5" rx="3.2" ry="1.8" fill="#f4e47a" opacity="0.7"/>
<ellipse cx="895.6" cy="608.6" rx="2.2" ry="2.0" fill="#f4e47a" opacity="0.7"/>
<ellipse cx="924.1" cy="535.7" rx="3.6" ry="1.5" fill="#f4e47a" opacity="0.7"/>
<ellipse cx="825.0" cy="616.5" rx="2.8" ry="1.7" fill="#f4e47a" opacity="0.7"/>
<ellipse cx="838.8" cy="623.5" rx="3.6" ry="1.4" fill="#c8c040" opacity="0.7"/>
<ellipse cx="932.8" cy="564.3" rx="3.9" ry="1.5" fill="#c8c040" opacity="0.7"/>
<ellipse cx="781.6" cy="626.3" rx="2.2" ry="1.1" fill="#a8a838" opacity="0.7"/>
<ellipse cx="779.3" cy="620.7" rx="3.2" ry="1.4" fill="#f4e47a" opacity="0.7"/>
<ellipse cx="908.9" cy="575.0" rx="2.6" ry="1.7" fill="#c8c040" opacity="0.7"/>
<ellipse cx="915.1" cy="578.5" rx="4.0" ry="2.0" fill="#c8c040" opacity="0.7"/>
<ellipse cx="726.0" cy="608.9" rx="2.0" ry="1.2" fill="#b8b030" opacity="0.7"/>
<ellipse cx="855.5" cy="618.6" rx="1.7" ry="1.2" fill="#f4e47a" opacity="0.7"/>
<ellipse cx="712.1" cy="604.5" rx="2.5" ry="1.1" fill="#f4e47a" opacity="0.7"/>
<ellipse cx="927.7" cy="536.7" rx="2.2" ry="1.5" fill="#f4e47a" opacity="0.7"/>
<ellipse cx="932.7" cy="539.8" rx="3.5" ry="1.6" fill="#f4e47a" opacity="0.7"/>
<ellipse cx="865.2" cy="609.2" rx="2.7" ry="1.2" fill="#c8c040" opacity="0.7"/>
<ellipse cx="898.3" cy="603.5" rx="1.5" ry="1.1" fill="#c8c040" opacity="0.7"/>
<ellipse cx="835.7" cy="621.5" rx="2.6" ry="2.0" fill="#a8a838" opacity="0.7"/>
<ellipse cx="826.4" cy="619.9" rx="3.9" ry="1.9" fill="#f4e47a" opacity="0.7"/>
<ellipse cx="915.6" cy="573.2" rx="1.5" ry="1.9" fill="#f4e47a" opacity="0.7"/>
<ellipse cx="873.2" cy="608.6" rx="1.8" ry="1.6" fill="#a8a838" opacity="0.7"/>
<ellipse cx="793.0" cy="614.7" rx="2.5" ry="1.5" fill="#f4e47a" opacity="0.7"/>
<ellipse cx="800.0" cy="612.9" rx="2.7" ry="1.8" fill="#f4e47a" opacity="0.7"/>
<ellipse cx="820.4" cy="621.6" rx="3.1" ry="1.6" fill="#b8b030" opacity="0.7"/>
<ellipse cx="712.5" cy="605.6" rx="3.3" ry="1.6" fill="#b8b030" opacity="0.7"/>
<ellipse cx="868.2" cy="616.0" rx="3.0" ry="1.0" fill="#f4e47a" opacity="0.7"/>
<ellipse cx="894.5" cy="596.1" rx="3.2" ry="1.2" fill="#a8a838" opacity="0.7"/>
<ellipse cx="921.3" cy="572.6" rx="3.3" ry="1.6" fill="#a8a838" opacity="0.7"/>
<ellipse cx="935.9" cy="557.1" rx="3.2" ry="1.7" fill="#f4e47a" opacity="0.7"/>
<ellipse cx="875.5" cy="608.0" rx="1.5" ry="1.8" fill="#f4e47a" opacity="0.7"/>
<ellipse cx="906.4" cy="587.7" rx="1.9" ry="1.7" fill="#a8a838" opacity="0.7"/>
<ellipse cx="927.2" cy="537.5" rx="2.9" ry="1.0" fill="#c8c040" opacity="0.7"/>
<ellipse cx="801.7" cy="614.0" rx="3.9" ry="1.3" fill="#a8a838" opacity="0.7"/>
<ellipse cx="935.4" cy="541.5" rx="1.6" ry="1.8" fill="#c8c040" opacity="0.7"/>
<ellipse cx="907.7" cy="588.6" rx="3.7" ry="2.0" fill="#a8a838" opacity="0.7"/>
<path d="M250.0,236.0 C252.0,242.5 254.0,258.5 262.0,275.0 C270.0,291.5 283.7,315.5 298.0,335.0 C312.3,354.5 331.3,374.2 348.0,392.0 C364.7,409.8 381.3,427.0 398.0,442.0 C414.7,457.0 428.5,465.4 448.0,482.0 C467.5,498.6 496.2,525.9 515.2,541.5 C534.3,557.1 546.7,565.7 562.5,575.7 C578.3,585.7 593.8,593.3 610.0,601.4 C626.2,609.6 643.1,617.9 660.0,624.6 C676.9,631.4 694.4,637.7 711.3,641.9 C728.1,646.2 743.8,648.0 761.3,650.0 C778.7,652.0 798.8,654.3 816.0,654.0 C833.2,653.7 849.8,651.6 864.7,648.1 C879.7,644.6 893.8,639.9 905.5,633.0 C917.3,626.1 927.1,617.2 935.1,606.8 C943.2,596.3 951.8,582.0 954.0,570.3 C956.1,558.6 949.0,542.3 948.0,536.7 L967,600 L990,700 L700,760 L400,600 L220,300Z" fill="#ea8d3c" opacity="0.9"/>
<path d="M244.0,238.0 C245.8,245.0 247.3,262.7 255.0,280.0 C262.7,297.3 275.8,322.0 290.0,342.0 C304.2,362.0 323.0,381.7 340.0,400.0 C357.0,418.3 374.8,436.7 392.0,452.0 C409.2,467.3 422.9,475.5 443.0,492.0 C463.1,508.5 492.8,535.6 512.5,551.2 C532.2,566.8 545.0,575.6 561.2,585.8 C577.5,596.0 593.5,604.0 610.0,612.2 C626.5,620.5 643.2,628.8 660.0,635.3 C676.8,641.8 693.8,647.5 710.6,651.4 C727.4,655.3 743.0,657.0 760.6,658.9 C778.2,660.8 798.5,663.1 816.0,662.9 C833.5,662.7 850.0,661.0 865.4,657.5 C880.8,654.0 895.9,649.2 908.4,641.9 C920.9,634.6 931.6,625.1 940.3,613.7 C949.0,602.4 958.5,586.5 960.8,573.8 C963.1,561.1 955.4,543.5 954.3,537.4" fill="none" stroke="#cc5828" stroke-width="1.5"/>
<path d="M250.0,236.0 C252.0,242.5 254.0,258.5 262.0,275.0 C270.0,291.5 283.7,315.5 298.0,335.0 C312.3,354.5 331.3,374.2 348.0,392.0 C364.7,409.8 381.3,427.0 398.0,442.0 C414.7,457.0 428.5,465.4 448.0,482.0 C467.5,498.6 496.2,525.9 515.2,541.5 C534.3,557.1 546.7,565.7 562.5,575.7 C578.3,585.7 593.8,593.3 610.0,601.4 C626.2,609.6 643.1,617.9 660.0,624.6 C676.9,631.4 694.4,637.7 711.3,641.9 C728.1,646.2 743.8,648.0 761.3,650.0 C778.7,652.0 798.8,654.3 816.0,654.0 C833.2,653.7 849.8,651.6 864.7,648.1 C879.7,644.6 893.8,639.9 905.5,633.0 C917.3,626.1 927.1,617.2 935.1,606.8 C943.2,596.3 951.8,582.0 954.0,570.3 C956.1,558.6 949.0,542.3 948.0,536.7" fill="none" stroke="#cc5828" stroke-width="1.6"/>
<path d="M410.0,271.0 C414.0,278.8 426.2,303.8 434.0,318.0 C441.8,332.2 449.0,343.0 457.0,356.0 C465.0,369.0 472.5,381.8 482.0,396.0 C491.5,410.2 502.3,428.0 514.0,441.0 C525.7,454.0 537.3,463.2 552.0,474.0 C566.7,484.8 588.2,496.5 602.0,506.0 C615.8,515.5 625.3,523.7 635.0,531.0 C644.7,538.3 646.5,542.5 660.0,550.0 C673.5,557.5 698.3,569.7 716.0,576.0 C733.7,582.3 749.3,585.3 766.0,588.0 C782.7,590.7 800.3,592.8 816.0,592.0 C831.7,591.2 848.5,586.5 860.0,583.0 C871.5,579.5 878.7,575.2 885.0,571.0 C891.3,566.8 894.7,562.3 898.0,558.0 C901.3,553.7 904.2,549.3 905.0,545.0 C905.8,540.7 905.0,536.2 903.0,532.0 C901.0,527.8 894.7,522.0 893.0,520.0" fill="none" stroke="#c24e26" stroke-width="2"/>
<path d="M903.0,532.0 C901.3,530.0 898.2,523.8 893.0,520.0 C887.8,516.2 878.7,512.3 872.0,509.0 C865.3,505.7 863.7,504.8 853.0,500.0 C842.3,495.2 823.5,486.5 808.0,480.0 C792.5,473.5 776.0,466.7 760.0,461.0 C744.0,455.3 728.7,452.5 712.0,446.0 C695.3,439.5 668.7,426.0 660.0,422.0" fill="none" stroke="#c9552a" stroke-width="1.5"/>
<path d="M896.7,605.5 C900.4,602.1 913.1,593.0 919.1,585.4 C925.2,577.7 931.3,567.8 932.9,559.4 C934.5,551.0 932.1,542.5 928.6,534.7 C925.1,526.9 919.2,519.0 911.9,512.4 C904.6,505.7 893.4,500.1 884.6,495.1 C875.8,490.0 871.0,487.3 858.9,482.0 C846.7,476.7 827.6,469.3 811.6,463.4 C795.6,457.4 779.0,452.3 762.7,446.1 C746.4,440.0 731.0,434.4 713.8,426.6 C696.6,418.9 673.3,409.8 659.5,399.5 C645.8,389.2 640.4,375.8 631.1,365.1 C621.8,354.3 608.3,339.9 603.8,334.9" fill="none" stroke="#e4504c" stroke-width="1.6" opacity="0.9"/>
<path d="M937.0,609.3 C940.3,603.0 954.2,583.6 956.5,571.6 C958.7,559.5 955.1,547.9 950.3,537.0 C945.5,526.0 937.0,514.8 927.9,505.9 C918.7,496.9 905.9,489.8 895.2,483.3 C884.6,476.8 877.2,472.5 863.8,466.8 C850.4,461.1 831.1,454.8 814.6,449.3 C798.2,443.8 781.5,440.1 765.0,433.6 C748.4,427.1 733.0,419.2 715.3,410.3 C697.7,401.5 673.3,390.0 659.2,380.5 C645.0,371.0 639.9,362.6 630.3,353.3 C620.8,344.0 606.6,329.4 601.9,324.6" fill="none" stroke="#f7c084" stroke-width="5" opacity="0.75"/>
<path d="M910.0,547.6 C909.6,545.0 909.8,537.3 907.6,532.5 C905.3,527.7 901.9,523.0 896.4,518.6 C890.8,514.3 881.3,510.2 874.2,506.5 C867.2,502.9 865.0,501.7 854.0,496.8 C843.1,491.9 824.2,483.4 808.6,477.0 C793.0,470.6 776.5,464.1 760.5,458.4 C744.4,452.6 729.1,449.3 712.3,442.6 C695.6,435.8 668.7,422.1 659.9,418.0" fill="none" stroke="#f0a050" stroke-width="4" opacity="0.9"/>
<path d="M887.4,491.9 C882.9,489.6 872.6,483.4 860.1,478.0 C847.6,472.6 828.5,465.5 812.4,459.6 C796.3,453.8 779.7,449.1 763.3,442.9 C746.9,436.6 731.5,430.4 714.2,422.4 C696.9,414.3 673.3,404.6 659.5,394.5 C645.6,384.4 640.3,372.3 630.9,361.9 C621.5,351.6 607.9,337.1 603.2,332.1" fill="none" stroke="#9cc84a" stroke-width="2" opacity="0.6"/>
<path d="M906.4,514.6 C902.2,512.0 889.2,503.6 881.0,499.1 C872.7,494.5 868.9,492.4 857.2,487.2 C845.4,482.0 826.4,474.3 810.6,468.2 C794.7,462.0 778.1,456.4 761.9,450.4 C745.7,444.5 730.3,439.6 713.3,432.2 C696.2,424.8 673.3,416.5 659.7,406.0 C646.0,395.5 640.6,380.4 631.4,369.1 C622.1,357.8 608.9,343.5 604.4,338.4" fill="none" stroke="#58b0a0" stroke-width="1.3" opacity="0.8"/>
<ellipse cx="292" cy="239" rx="4.2" ry="3.6" fill="#d8763a" opacity="0.9"/><circle cx="270" cy="271" r="2.5" fill="#fde8d0"/>
<path d="M288,262 C290,270 292,276 296,282" stroke="#e07f2e" stroke-width="3" fill="none" stroke-linecap="round" opacity="0.7"/>
<path d="M270,268 C272,274 274,278 277,282" stroke="#e07f2e" stroke-width="3" fill="none" stroke-linecap="round" opacity="0.7"/>
<path d="M252.0,242.0 C252.7,239.3 253.3,230.0 256.0,226.0 C258.7,222.0 266.0,219.3 268.0,218.0" fill="none" stroke="#fbdcb0" stroke-width="6" opacity="0.85" stroke-linecap="round" filter="url(#b2)"/>
</g>
<path d="M241.0,246.0 C240.7,239.0 241.5,233.3 244.0,228.0 C246.5,222.7 250.0,217.2 256.0,214.0 C262.0,210.8 269.7,208.7 280.0,209.0 C290.3,209.3 306.7,212.3 318.0,216.0 C329.3,219.7 337.5,224.7 348.0,231.0 C358.5,237.3 370.7,247.0 381.0,254.0 C391.3,261.0 396.8,267.0 410.0,273.0 C423.2,279.0 441.7,286.2 460.0,290.0 C478.3,293.8 500.5,293.2 520.0,296.0 C539.5,298.8 563.5,303.0 577.0,307.0 C590.5,311.0 592.2,313.2 601.0,320.0 C609.8,326.8 620.3,339.3 630.0,348.0 C639.7,356.7 644.7,362.8 659.0,372.0 C673.3,381.2 698.2,393.7 716.0,403.0 C733.8,412.3 749.3,421.3 766.0,428.0 C782.7,434.7 799.3,437.7 816.0,443.0 C832.7,448.3 849.3,452.7 866.0,460.0 C882.7,467.3 902.3,477.0 916.0,487.0 C929.7,497.0 939.7,509.5 948.0,520.0 C956.3,530.5 962.8,540.3 966.0,550.0 C969.2,559.7 968.7,568.8 967.0,578.0 C965.3,587.2 961.7,596.0 956.0,605.0 C950.3,614.0 940.5,624.5 933.0,632.0 C925.5,639.5 922.2,644.3 911.0,650.0 C899.8,655.7 881.8,662.5 866.0,666.0 C850.2,669.5 833.7,670.8 816.0,671.0 C798.3,671.2 777.7,668.8 760.0,667.0 C742.3,665.2 726.7,663.7 710.0,660.0 C693.3,656.3 676.7,651.3 660.0,645.0 C643.3,638.7 626.7,630.3 610.0,622.0 C593.3,613.7 576.7,605.3 560.0,595.0 C543.3,584.7 528.3,574.7 510.0,560.0 C491.7,545.3 468.3,522.3 450.0,507.0 C431.7,491.7 416.7,482.5 400.0,468.0 C383.3,453.5 366.7,437.2 350.0,420.0 C333.3,402.8 314.7,384.7 300.0,365.0 C285.3,345.3 271.0,317.8 262.0,302.0 C253.0,286.2 249.5,279.3 246.0,270.0 C242.5,260.7 241.3,253.0 241.0,246.0Z" fill="none" stroke="#c6502a" stroke-width="3.4" stroke-linejoin="round"/>
<path d="M410.0,273.0 C409.3,265.2 412.7,262.0 416.0,258.0 C419.3,254.0 424.3,250.7 430.0,249.0 C435.7,247.3 440.7,246.3 450.0,248.0 C459.3,249.7 475.7,254.8 486.0,259.0 C496.3,263.2 499.3,265.8 512.0,273.0 C524.7,280.2 546.3,289.7 562.0,302.0 C577.7,314.3 594.7,334.5 606.0,347.0 C617.3,359.5 621.7,365.2 630.0,377.0 C638.3,388.8 647.7,406.5 656.0,418.0 C664.3,429.5 670.7,435.7 680.0,446.0 C689.3,456.3 700.2,469.8 712.0,480.0 C723.8,490.2 737.8,498.7 751.0,507.0 C764.2,515.3 778.2,523.3 791.0,530.0 C803.8,536.7 815.5,542.7 828.0,547.0 C840.5,551.3 855.2,554.0 866.0,556.0 C876.8,558.0 891.0,556.7 893.0,559.0 C895.0,561.3 884.7,566.5 878.0,570.0 C871.3,573.5 863.3,577.2 853.0,580.0 C842.7,582.8 830.5,586.2 816.0,587.0 C801.5,587.8 782.7,587.5 766.0,585.0 C749.3,582.5 735.3,579.0 716.0,572.0 C696.7,565.0 667.0,552.3 650.0,543.0 C633.0,533.7 623.8,525.7 614.0,516.0 C604.2,506.3 598.5,496.2 591.0,485.0 C583.5,473.8 577.0,461.5 569.0,449.0 C561.0,436.5 551.2,421.5 543.0,410.0 C534.8,398.5 526.3,388.2 520.0,380.0 C513.7,371.8 516.8,369.2 505.0,361.0 C493.2,352.8 463.2,340.3 449.0,331.0 C434.8,321.7 426.5,314.7 420.0,305.0 C413.5,295.3 410.7,280.8 410.0,273.0Z" fill="#f5abbb" stroke="#d96f8d" stroke-width="3" stroke-linejoin="round"/>
<clipPath id="cPink"><path d="M410.0,273.0 C409.3,265.2 412.7,262.0 416.0,258.0 C419.3,254.0 424.3,250.7 430.0,249.0 C435.7,247.3 440.7,246.3 450.0,248.0 C459.3,249.7 475.7,254.8 486.0,259.0 C496.3,263.2 499.3,265.8 512.0,273.0 C524.7,280.2 546.3,289.7 562.0,302.0 C577.7,314.3 594.7,334.5 606.0,347.0 C617.3,359.5 621.7,365.2 630.0,377.0 C638.3,388.8 647.7,406.5 656.0,418.0 C664.3,429.5 670.7,435.7 680.0,446.0 C689.3,456.3 700.2,469.8 712.0,480.0 C723.8,490.2 737.8,498.7 751.0,507.0 C764.2,515.3 778.2,523.3 791.0,530.0 C803.8,536.7 815.5,542.7 828.0,547.0 C840.5,551.3 855.2,554.0 866.0,556.0 C876.8,558.0 891.0,556.7 893.0,559.0 C895.0,561.3 884.7,566.5 878.0,570.0 C871.3,573.5 863.3,577.2 853.0,580.0 C842.7,582.8 830.5,586.2 816.0,587.0 C801.5,587.8 782.7,587.5 766.0,585.0 C749.3,582.5 735.3,579.0 716.0,572.0 C696.7,565.0 667.0,552.3 650.0,543.0 C633.0,533.7 623.8,525.7 614.0,516.0 C604.2,506.3 598.5,496.2 591.0,485.0 C583.5,473.8 577.0,461.5 569.0,449.0 C561.0,436.5 551.2,421.5 543.0,410.0 C534.8,398.5 526.3,388.2 520.0,380.0 C513.7,371.8 516.8,369.2 505.0,361.0 C493.2,352.8 463.2,340.3 449.0,331.0 C434.8,321.7 426.5,314.7 420.0,305.0 C413.5,295.3 410.7,280.8 410.0,273.0Z"/></clipPath>
<g clip-path="url(#cPink)">
<path d="M410.0,273.0 C409.3,265.2 412.7,262.0 416.0,258.0 C419.3,254.0 424.3,250.7 430.0,249.0 C435.7,247.3 440.7,246.3 450.0,248.0 C459.3,249.7 475.7,254.8 486.0,259.0 C496.3,263.2 499.3,265.8 512.0,273.0 C524.7,280.2 546.3,289.7 562.0,302.0 C577.7,314.3 594.7,334.5 606.0,347.0 C617.3,359.5 621.7,365.2 630.0,377.0 C638.3,388.8 647.7,406.5 656.0,418.0 C664.3,429.5 670.7,435.7 680.0,446.0 C689.3,456.3 700.2,469.8 712.0,480.0 C723.8,490.2 737.8,498.7 751.0,507.0 C764.2,515.3 778.2,523.3 791.0,530.0 C803.8,536.7 815.5,542.7 828.0,547.0 C840.5,551.3 855.2,554.0 866.0,556.0 C876.8,558.0 891.0,556.7 893.0,559.0 C895.0,561.3 884.7,566.5 878.0,570.0 C871.3,573.5 863.3,577.2 853.0,580.0 C842.7,582.8 830.5,586.2 816.0,587.0 C801.5,587.8 782.7,587.5 766.0,585.0 C749.3,582.5 735.3,579.0 716.0,572.0 C696.7,565.0 667.0,552.3 650.0,543.0 C633.0,533.7 623.8,525.7 614.0,516.0 C604.2,506.3 598.5,496.2 591.0,485.0 C583.5,473.8 577.0,461.5 569.0,449.0 C561.0,436.5 551.2,421.5 543.0,410.0 C534.8,398.5 526.3,388.2 520.0,380.0 C513.7,371.8 516.8,369.2 505.0,361.0 C493.2,352.8 463.2,340.3 449.0,331.0 C434.8,321.7 426.5,314.7 420.0,305.0 C413.5,295.3 410.7,280.8 410.0,273.0Z" fill="none" stroke="#ea86a2" stroke-width="10" opacity="0.6" filter="url(#b2)"/>
<path d="M445.0,278.0 C454.2,281.7 482.8,291.0 500.0,300.0 C517.2,309.0 534.7,320.0 548.0,332.0 C561.3,344.0 570.0,357.3 580.0,372.0 C590.0,386.7 598.0,404.5 608.0,420.0 C618.0,435.5 627.2,450.8 640.0,465.0 C652.8,479.2 668.3,492.8 685.0,505.0 C701.7,517.2 720.8,528.5 740.0,538.0 C759.2,547.5 780.0,557.0 800.0,562.0 C820.0,567.0 850.0,567.0 860.0,568.0" fill="none" stroke="#fad3d8" stroke-width="28" opacity="0.8" filter="url(#b4)"/>
<path d="M435.0,303.1 C443.7,306.5 471.6,315.7 487.5,323.9 C503.3,332.1 518.2,341.5 529.9,352.1 C541.6,362.6 548.5,373.4 557.7,387.2 C566.9,401.0 574.9,418.7 585.3,434.6 C595.7,450.6 606.0,467.8 620.0,483.1 C634.0,498.5 651.1,513.6 669.1,526.8 C687.1,540.0 707.3,552.0 728.0,562.2 C748.7,572.4 771.9,582.7 793.5,588.2 C815.0,593.6 846.7,593.8 857.3,594.9" fill="none" stroke="#ec8ca6" stroke-width="8" opacity="0.55" filter="url(#b2)"/>
<path d="M454.3,254.8 C463.8,258.6 493.2,268.1 511.6,277.9 C530.0,287.6 549.9,300.1 564.7,313.4 C579.6,326.8 589.9,342.4 600.7,357.9 C611.4,373.4 619.4,391.4 629.0,406.4 C638.7,421.5 646.7,435.2 658.5,448.2 C670.3,461.3 684.3,473.6 699.7,484.8 C715.2,496.0 733.4,506.8 751.1,515.6 C768.8,524.4 787.5,533.2 806.1,537.7 C824.6,542.3 853.1,542.2 862.5,543.1" fill="none" stroke="#ee90a8" stroke-width="7" opacity="0.55" filter="url(#b2)"/>
<path d="M458.4,244.6 C468.1,248.5 497.8,258.0 516.7,268.1 C535.7,278.2 556.6,291.3 572.1,305.2 C587.6,319.2 598.7,335.8 609.7,351.7 C620.8,367.6 628.8,385.6 638.3,400.5 C647.7,415.3 655.4,428.3 666.7,440.8 C678.0,453.4 691.3,465.1 706.2,475.9 C721.1,486.7 738.9,497.2 756.0,505.7 C773.1,514.3 790.8,522.7 808.7,527.1 C826.7,531.5 854.4,531.3 863.6,532.2" fill="none" stroke="#f9c6cc" stroke-width="6" opacity="0.8" filter="url(#b2)"/>
<path d="M621.5,410.0 C626.6,417.5 639.6,441.5 651.9,454.8 C664.3,468.0 679.0,478.0 695.4,489.5 C711.8,500.9 731.9,514.3 750.4,523.6 C768.9,533.0 788.3,541.2 806.5,545.5 C824.8,549.8 851.0,548.8 859.9,549.4" fill="none" stroke="#e0607e" stroke-width="1" opacity="0.55"/>
<path d="M614.5,415.7 C620.0,422.8 635.4,444.6 647.8,458.6 C660.1,472.6 672.7,487.8 688.6,499.7 C704.6,511.6 724.7,521.1 743.5,530.0 C762.3,538.9 782.2,548.1 801.4,553.2 C820.6,558.4 849.2,559.6 858.8,560.8" fill="none" stroke="#e0607e" stroke-width="1" opacity="0.55"/>
<path d="M602.4,423.8 C607.9,431.6 622.7,454.9 635.4,470.1 C648.2,485.4 662.3,502.7 678.9,515.5 C695.4,528.3 715.3,537.2 734.7,547.0 C754.1,556.8 774.3,569.6 795.5,574.5 C816.7,579.3 850.9,575.7 861.9,576.0" fill="none" stroke="#e0607e" stroke-width="1" opacity="0.55"/>
<path d="M591.4,430.4 C597.4,438.4 614.4,463.0 627.6,478.3 C640.9,493.7 653.9,510.0 670.7,522.7 C687.6,535.3 708.3,544.2 728.6,554.1 C748.9,564.1 770.7,576.4 792.6,582.2 C814.5,587.9 848.8,587.5 860.1,588.6" fill="none" stroke="#e0607e" stroke-width="1" opacity="0.55"/>
<path d="M583.4,438.2 C589.0,446.4 603.7,472.0 617.2,487.7 C630.7,503.3 646.0,519.0 664.4,532.2 C682.9,545.3 706.2,557.2 727.9,566.7 C749.6,576.2 772.7,584.0 794.5,589.3 C816.4,594.7 848.2,597.2 858.9,598.8" fill="none" stroke="#e0607e" stroke-width="1" opacity="0.55"/>
</g>
<path d="M572.0,362.0 C573.8,365.0 579.2,372.8 583.0,380.0 C586.8,387.2 590.5,396.7 595.0,405.0 C599.5,413.3 605.0,422.2 610.0,430.0 C615.0,437.8 619.2,445.0 625.0,452.0 C630.8,459.0 638.3,466.0 645.0,472.0 C651.7,478.0 659.5,483.8 665.0,488.0 C670.5,492.2 675.8,495.5 678.0,497.0" fill="none" stroke="#f3f1e2" stroke-width="26" stroke-linecap="round"/>
<ellipse cx="591.9" cy="393.9" rx="2.3" ry="1.5" fill="#a5d88a" transform="rotate(155 591.9 393.9)"/>
<ellipse cx="580.1" cy="358.6" rx="1.8" ry="1.6" fill="#3f9e4a" transform="rotate(138 580.1 358.6)"/>
<ellipse cx="661.6" cy="488.6" rx="1.9" ry="1.1" fill="#3f9e4a" transform="rotate(133 661.6 488.6)"/>
<ellipse cx="595.8" cy="429.1" rx="2.8" ry="1.5" fill="#3f9e4a" transform="rotate(77 595.8 429.1)"/>
<ellipse cx="661.0" cy="474.5" rx="2.7" ry="1.7" fill="#a5d88a" transform="rotate(109 661.0 474.5)"/>
<ellipse cx="612.8" cy="423.0" rx="3.0" ry="1.1" fill="#3f9e4a" transform="rotate(34 612.8 423.0)"/>
<ellipse cx="611.9" cy="443.8" rx="3.0" ry="1.3" fill="#e8b04a" transform="rotate(98 611.9 443.8)"/>
<ellipse cx="626.1" cy="450.4" rx="3.0" ry="1.5" fill="#3f9e4a" transform="rotate(7 626.1 450.4)"/>
<ellipse cx="675.2" cy="491.5" rx="2.7" ry="1.3" fill="#3f9e4a" transform="rotate(138 675.2 491.5)"/>
<ellipse cx="670.8" cy="495.5" rx="2.6" ry="1.8" fill="#3f9e4a" transform="rotate(68 670.8 495.5)"/>
<ellipse cx="585.8" cy="412.3" rx="1.7" ry="1.6" fill="#57b35a" transform="rotate(105 585.8 412.3)"/>
<ellipse cx="658.6" cy="489.0" rx="3.0" ry="1.0" fill="#57b35a" transform="rotate(157 658.6 489.0)"/>
<ellipse cx="649.1" cy="479.1" rx="3.0" ry="1.8" fill="#a5d88a" transform="rotate(129 649.1 479.1)"/>
<ellipse cx="581.1" cy="385.9" rx="2.5" ry="1.0" fill="#57b35a" transform="rotate(50 581.1 385.9)"/>
<ellipse cx="671.0" cy="490.2" rx="1.6" ry="1.7" fill="#e8b04a" transform="rotate(80 671.0 490.2)"/>
<ellipse cx="595.2" cy="425.6" rx="2.3" ry="1.4" fill="#57b35a" transform="rotate(164 595.2 425.6)"/>
<ellipse cx="669.7" cy="480.3" rx="2.0" ry="1.5" fill="#a5d88a" transform="rotate(60 669.7 480.3)"/>
<ellipse cx="670.9" cy="487.9" rx="2.4" ry="1.0" fill="#7cc66a" transform="rotate(106 670.9 487.9)"/>
<ellipse cx="673.0" cy="493.6" rx="2.6" ry="1.0" fill="#a5d88a" transform="rotate(160 673.0 493.6)"/>
<ellipse cx="596.8" cy="421.9" rx="2.7" ry="1.6" fill="#a5d88a" transform="rotate(5 596.8 421.9)"/>
<ellipse cx="637.1" cy="444.5" rx="1.9" ry="1.4" fill="#7cc66a" transform="rotate(151 637.1 444.5)"/>
<ellipse cx="622.4" cy="449.6" rx="2.9" ry="1.2" fill="#7cc66a" transform="rotate(96 622.4 449.6)"/>
<ellipse cx="586.6" cy="385.1" rx="2.7" ry="1.2" fill="#e8b04a" transform="rotate(56 586.6 385.1)"/>
<ellipse cx="631.7" cy="459.9" rx="2.2" ry="1.6" fill="#e8b04a" transform="rotate(26 631.7 459.9)"/>
<ellipse cx="638.5" cy="459.8" rx="2.2" ry="1.7" fill="#3f9e4a" transform="rotate(43 638.5 459.8)"/>
<ellipse cx="583.2" cy="366.2" rx="2.3" ry="1.2" fill="#a5d88a" transform="rotate(30 583.2 366.2)"/>
<ellipse cx="584.2" cy="362.4" rx="1.8" ry="1.2" fill="#a5d88a" transform="rotate(164 584.2 362.4)"/>
<ellipse cx="581.1" cy="374.7" rx="2.0" ry="1.6" fill="#57b35a" transform="rotate(69 581.1 374.7)"/>
<ellipse cx="616.6" cy="431.2" rx="2.2" ry="1.7" fill="#a5d88a" transform="rotate(39 616.6 431.2)"/>
<ellipse cx="587.3" cy="396.9" rx="3.2" ry="1.3" fill="#a5d88a" transform="rotate(56 587.3 396.9)"/>
<ellipse cx="573.6" cy="371.4" rx="2.4" ry="1.2" fill="#e8b04a" transform="rotate(87 573.6 371.4)"/>
<ellipse cx="675.6" cy="497.6" rx="1.7" ry="1.2" fill="#7cc66a" transform="rotate(8 675.6 497.6)"/>
<ellipse cx="673.3" cy="499.8" rx="2.5" ry="1.0" fill="#57b35a" transform="rotate(30 673.3 499.8)"/>
<ellipse cx="581.2" cy="388.5" rx="2.4" ry="1.0" fill="#a5d88a" transform="rotate(156 581.2 388.5)"/>
<ellipse cx="572.9" cy="386.2" rx="2.3" ry="1.6" fill="#a5d88a" transform="rotate(90 572.9 386.2)"/>
<ellipse cx="581.6" cy="401.8" rx="1.8" ry="1.6" fill="#57b35a" transform="rotate(32 581.6 401.8)"/>
<ellipse cx="649.9" cy="486.9" rx="1.6" ry="1.2" fill="#57b35a" transform="rotate(68 649.9 486.9)"/>
<ellipse cx="631.9" cy="449.1" rx="2.8" ry="1.0" fill="#7cc66a" transform="rotate(14 631.9 449.1)"/>
<ellipse cx="644.0" cy="469.4" rx="3.2" ry="1.7" fill="#57b35a" transform="rotate(22 644.0 469.4)"/>
<ellipse cx="618.9" cy="436.2" rx="2.1" ry="1.5" fill="#57b35a" transform="rotate(150 618.9 436.2)"/>
<ellipse cx="592.0" cy="418.5" rx="1.7" ry="1.4" fill="#57b35a" transform="rotate(97 592.0 418.5)"/>
<ellipse cx="657.7" cy="471.5" rx="2.5" ry="1.6" fill="#57b35a" transform="rotate(97 657.7 471.5)"/>
<ellipse cx="624.5" cy="469.3" rx="2.1" ry="1.4" fill="#57b35a" transform="rotate(179 624.5 469.3)"/>
<ellipse cx="607.5" cy="408.4" rx="1.9" ry="1.4" fill="#57b35a" transform="rotate(177 607.5 408.4)"/>
<ellipse cx="634.0" cy="448.8" rx="3.0" ry="1.7" fill="#3f9e4a" transform="rotate(95 634.0 448.8)"/>
<ellipse cx="676.4" cy="502.8" rx="2.3" ry="1.1" fill="#57b35a" transform="rotate(169 676.4 502.8)"/>
<ellipse cx="664.6" cy="484.6" rx="2.7" ry="1.5" fill="#57b35a" transform="rotate(26 664.6 484.6)"/>
<ellipse cx="663.2" cy="482.3" rx="2.8" ry="1.0" fill="#3f9e4a" transform="rotate(23 663.2 482.3)"/>
<ellipse cx="627.6" cy="448.3" rx="2.1" ry="1.7" fill="#57b35a" transform="rotate(6 627.6 448.3)"/>
<ellipse cx="666.8" cy="493.6" rx="2.5" ry="1.6" fill="#7cc66a" transform="rotate(9 666.8 493.6)"/>
<ellipse cx="679.0" cy="497.4" rx="1.7" ry="1.6" fill="#3f9e4a" transform="rotate(141 679.0 497.4)"/>
<ellipse cx="573.0" cy="371.0" rx="1.9" ry="1.1" fill="#57b35a" transform="rotate(63 573.0 371.0)"/>
<ellipse cx="616.9" cy="443.2" rx="2.1" ry="1.3" fill="#7cc66a" transform="rotate(89 616.9 443.2)"/>
<ellipse cx="633.2" cy="447.1" rx="3.2" ry="1.3" fill="#3f9e4a" transform="rotate(41 633.2 447.1)"/>
<ellipse cx="610.0" cy="429.3" rx="2.7" ry="1.1" fill="#a5d88a" transform="rotate(102 610.0 429.3)"/>
<ellipse cx="661.3" cy="482.0" rx="2.3" ry="1.6" fill="#e8b04a" transform="rotate(113 661.3 482.0)"/>
<ellipse cx="634.6" cy="446.5" rx="1.7" ry="1.4" fill="#3f9e4a" transform="rotate(59 634.6 446.5)"/>
<ellipse cx="665.0" cy="493.2" rx="2.7" ry="1.3" fill="#e8b04a" transform="rotate(149 665.0 493.2)"/>
<ellipse cx="622.0" cy="447.9" rx="2.0" ry="1.6" fill="#57b35a" transform="rotate(51 622.0 447.9)"/>
<ellipse cx="582.5" cy="381.4" rx="2.2" ry="1.6" fill="#3f9e4a" transform="rotate(179 582.5 381.4)"/>
<ellipse cx="628.2" cy="462.9" rx="2.4" ry="1.4" fill="#e8b04a" transform="rotate(18 628.2 462.9)"/>
<ellipse cx="662.8" cy="492.9" rx="2.3" ry="1.2" fill="#57b35a" transform="rotate(60 662.8 492.9)"/>
<ellipse cx="641.6" cy="453.7" rx="3.0" ry="1.2" fill="#3f9e4a" transform="rotate(48 641.6 453.7)"/>
<ellipse cx="646.0" cy="481.4" rx="3.0" ry="1.7" fill="#e8b04a" transform="rotate(65 646.0 481.4)"/>
<ellipse cx="575.7" cy="378.0" rx="2.7" ry="1.1" fill="#57b35a" transform="rotate(23 575.7 378.0)"/>
<ellipse cx="601.9" cy="391.5" rx="2.5" ry="1.5" fill="#57b35a" transform="rotate(1 601.9 391.5)"/>
<ellipse cx="570.7" cy="363.2" rx="1.9" ry="1.5" fill="#57b35a" transform="rotate(125 570.7 363.2)"/>
<ellipse cx="607.0" cy="415.4" rx="1.6" ry="1.3" fill="#7cc66a" transform="rotate(112 607.0 415.4)"/>
<ellipse cx="676.3" cy="481.4" rx="2.1" ry="1.6" fill="#e8b04a" transform="rotate(115 676.3 481.4)"/>
<ellipse cx="599.7" cy="410.0" rx="1.7" ry="1.8" fill="#7cc66a" transform="rotate(86 599.7 410.0)"/>
<ellipse cx="640.0" cy="458.1" rx="2.4" ry="1.0" fill="#57b35a" transform="rotate(75 640.0 458.1)"/>
<ellipse cx="641.4" cy="460.3" rx="2.7" ry="1.1" fill="#e8b04a" transform="rotate(94 641.4 460.3)"/>
<ellipse cx="671.2" cy="482.2" rx="1.7" ry="1.3" fill="#a5d88a" transform="rotate(166 671.2 482.2)"/>
<ellipse cx="629.8" cy="458.7" rx="2.3" ry="1.6" fill="#57b35a" transform="rotate(180 629.8 458.7)"/>
<ellipse cx="581.8" cy="376.0" rx="2.5" ry="1.3" fill="#a5d88a" transform="rotate(25 581.8 376.0)"/>
<ellipse cx="590.9" cy="409.3" rx="2.3" ry="1.2" fill="#57b35a" transform="rotate(178 590.9 409.3)"/>
<ellipse cx="649.6" cy="474.6" rx="2.3" ry="1.6" fill="#57b35a" transform="rotate(17 649.6 474.6)"/>
<ellipse cx="609.3" cy="408.6" rx="2.5" ry="1.5" fill="#7cc66a" transform="rotate(144 609.3 408.6)"/>
<ellipse cx="658.8" cy="472.6" rx="2.5" ry="1.5" fill="#3f9e4a" transform="rotate(100 658.8 472.6)"/>
<ellipse cx="664.4" cy="485.3" rx="3.0" ry="1.6" fill="#3f9e4a" transform="rotate(139 664.4 485.3)"/>
<ellipse cx="621.8" cy="439.0" rx="2.1" ry="1.2" fill="#7cc66a" transform="rotate(113 621.8 439.0)"/>
<ellipse cx="677.5" cy="487.7" rx="3.0" ry="1.2" fill="#a5d88a" transform="rotate(127 677.5 487.7)"/>
<ellipse cx="679.8" cy="491.3" rx="2.3" ry="1.5" fill="#e8b04a" transform="rotate(162 679.8 491.3)"/>
<ellipse cx="577.9" cy="365.7" rx="1.8" ry="1.5" fill="#57b35a" transform="rotate(50 577.9 365.7)"/>
<ellipse cx="587.9" cy="379.1" rx="3.1" ry="1.8" fill="#a5d88a" transform="rotate(28 587.9 379.1)"/>
<ellipse cx="634.1" cy="459.4" rx="2.3" ry="1.1" fill="#3f9e4a" transform="rotate(12 634.1 459.4)"/>
<ellipse cx="576.5" cy="365.3" rx="2.4" ry="1.7" fill="#57b35a" transform="rotate(82 576.5 365.3)"/>
<ellipse cx="596.2" cy="416.5" rx="3.0" ry="1.5" fill="#57b35a" transform="rotate(8 596.2 416.5)"/>
<ellipse cx="650.3" cy="468.9" rx="3.1" ry="1.7" fill="#3f9e4a" transform="rotate(111 650.3 468.9)"/>
<ellipse cx="637.0" cy="466.0" rx="2.2" ry="1.7" fill="#57b35a" transform="rotate(180 637.0 466.0)"/>
<ellipse cx="584.4" cy="387.3" rx="2.9" ry="1.2" fill="#a5d88a" transform="rotate(125 584.4 387.3)"/>
<ellipse cx="596.2" cy="413.7" rx="2.2" ry="1.4" fill="#57b35a" transform="rotate(9 596.2 413.7)"/>
<ellipse cx="643.0" cy="469.9" rx="2.1" ry="1.3" fill="#a5d88a" transform="rotate(0 643.0 469.9)"/>
<ellipse cx="652.5" cy="479.3" rx="2.4" ry="1.1" fill="#57b35a" transform="rotate(5 652.5 479.3)"/>
<ellipse cx="583.3" cy="377.9" rx="1.7" ry="1.5" fill="#57b35a" transform="rotate(113 583.3 377.9)"/>
<ellipse cx="607.2" cy="429.5" rx="2.0" ry="1.0" fill="#57b35a" transform="rotate(13 607.2 429.5)"/>
<ellipse cx="581.4" cy="396.7" rx="1.9" ry="1.3" fill="#3f9e4a" transform="rotate(48 581.4 396.7)"/>
<ellipse cx="587.4" cy="380.6" rx="2.5" ry="1.6" fill="#57b35a" transform="rotate(74 587.4 380.6)"/>
<ellipse cx="600.2" cy="402.4" rx="2.3" ry="1.4" fill="#7cc66a" transform="rotate(7 600.2 402.4)"/>
<ellipse cx="661.8" cy="480.0" rx="1.6" ry="1.3" fill="#57b35a" transform="rotate(22 661.8 480.0)"/>
<ellipse cx="617.5" cy="445.1" rx="1.5" ry="1.4" fill="#57b35a" transform="rotate(123 617.5 445.1)"/>
<ellipse cx="579.4" cy="377.2" rx="3.0" ry="1.6" fill="#3f9e4a" transform="rotate(87 579.4 377.2)"/>
<ellipse cx="666.3" cy="491.2" rx="2.1" ry="1.6" fill="#57b35a" transform="rotate(161 666.3 491.2)"/>
<ellipse cx="664.5" cy="489.3" rx="1.7" ry="1.3" fill="#57b35a" transform="rotate(85 664.5 489.3)"/>
<ellipse cx="627.2" cy="444.6" rx="3.0" ry="1.3" fill="#e8b04a" transform="rotate(141 627.2 444.6)"/>
<ellipse cx="596.1" cy="424.2" rx="1.9" ry="1.6" fill="#57b35a" transform="rotate(123 596.1 424.2)"/>
<ellipse cx="608.0" cy="415.6" rx="3.1" ry="1.6" fill="#a5d88a" transform="rotate(124 608.0 415.6)"/>
<ellipse cx="568.4" cy="372.7" rx="1.7" ry="1.6" fill="#57b35a" transform="rotate(169 568.4 372.7)"/>
<ellipse cx="574.0" cy="381.4" rx="1.6" ry="1.5" fill="#e8b04a" transform="rotate(12 574.0 381.4)"/>
<ellipse cx="620.6" cy="438.2" rx="3.2" ry="1.0" fill="#7cc66a" transform="rotate(49 620.6 438.2)"/>
<ellipse cx="616.5" cy="416.6" rx="2.0" ry="1.4" fill="#a5d88a" transform="rotate(166 616.5 416.6)"/>
<ellipse cx="592.6" cy="401.9" rx="1.7" ry="1.8" fill="#e8b04a" transform="rotate(28 592.6 401.9)"/>
<ellipse cx="600.1" cy="389.4" rx="2.4" ry="1.4" fill="#a5d88a" transform="rotate(154 600.1 389.4)"/>
<ellipse cx="606.5" cy="416.7" rx="1.8" ry="1.1" fill="#57b35a" transform="rotate(28 606.5 416.7)"/>
<ellipse cx="636.3" cy="447.4" rx="1.6" ry="1.4" fill="#7cc66a" transform="rotate(57 636.3 447.4)"/>
<ellipse cx="664.4" cy="476.2" rx="2.8" ry="1.7" fill="#57b35a" transform="rotate(88 664.4 476.2)"/>
<ellipse cx="610.7" cy="431.3" rx="2.9" ry="1.5" fill="#7cc66a" transform="rotate(97 610.7 431.3)"/>
<ellipse cx="589.1" cy="390.3" rx="2.6" ry="1.3" fill="#e8b04a" transform="rotate(49 589.1 390.3)"/>
<ellipse cx="606.9" cy="439.7" rx="2.1" ry="1.6" fill="#e8b04a" transform="rotate(17 606.9 439.7)"/>
<ellipse cx="623.8" cy="453.7" rx="2.1" ry="1.3" fill="#57b35a" transform="rotate(21 623.8 453.7)"/>
<ellipse cx="588.4" cy="404.2" rx="2.7" ry="1.7" fill="#3f9e4a" transform="rotate(156 588.4 404.2)"/>
<ellipse cx="618.1" cy="442.8" rx="3.1" ry="1.7" fill="#7cc66a" transform="rotate(104 618.1 442.8)"/>
<ellipse cx="621.6" cy="436.6" rx="3.1" ry="1.2" fill="#a5d88a" transform="rotate(4 621.6 436.6)"/>
<ellipse cx="578.0" cy="392.0" rx="2.4" ry="1.0" fill="#7cc66a" transform="rotate(120 578.0 392.0)"/>
<ellipse cx="580.3" cy="362.4" rx="1.6" ry="1.4" fill="#57b35a" transform="rotate(50 580.3 362.4)"/>
<ellipse cx="645.1" cy="467.3" rx="3.0" ry="1.4" fill="#7cc66a" transform="rotate(52 645.1 467.3)"/>
<ellipse cx="589.4" cy="386.0" rx="3.2" ry="1.7" fill="#57b35a" transform="rotate(95 589.4 386.0)"/>
<ellipse cx="671.4" cy="502.6" rx="2.4" ry="1.4" fill="#57b35a" transform="rotate(92 671.4 502.6)"/>
<ellipse cx="669.6" cy="484.4" rx="3.0" ry="1.6" fill="#7cc66a" transform="rotate(76 669.6 484.4)"/>
<ellipse cx="658.7" cy="476.1" rx="1.7" ry="1.4" fill="#57b35a" transform="rotate(137 658.7 476.1)"/>
<ellipse cx="583.1" cy="354.2" rx="2.1" ry="1.8" fill="#57b35a" transform="rotate(92 583.1 354.2)"/>
<ellipse cx="666.3" cy="489.1" rx="2.0" ry="1.7" fill="#57b35a" transform="rotate(13 666.3 489.1)"/>
<ellipse cx="636.0" cy="455.4" rx="1.9" ry="1.6" fill="#7cc66a" transform="rotate(107 636.0 455.4)"/>
<ellipse cx="642.8" cy="463.1" rx="2.6" ry="1.5" fill="#57b35a" transform="rotate(144 642.8 463.1)"/>
<ellipse cx="584.1" cy="403.7" rx="2.4" ry="1.7" fill="#57b35a" transform="rotate(141 584.1 403.7)"/>
<ellipse cx="572.1" cy="369.3" rx="2.6" ry="1.7" fill="#57b35a" transform="rotate(117 572.1 369.3)"/>
<ellipse cx="617.6" cy="445.0" rx="2.4" ry="1.3" fill="#a5d88a" transform="rotate(161 617.6 445.0)"/>
<ellipse cx="578.7" cy="388.7" rx="1.7" ry="1.6" fill="#a5d88a" transform="rotate(113 578.7 388.7)"/>
<ellipse cx="619.1" cy="433.1" rx="1.8" ry="1.3" fill="#a5d88a" transform="rotate(133 619.1 433.1)"/>
<ellipse cx="574.6" cy="361.1" rx="3.1" ry="1.5" fill="#57b35a" transform="rotate(7 574.6 361.1)"/>
<ellipse cx="600.3" cy="402.3" rx="2.0" ry="1.6" fill="#3f9e4a" transform="rotate(68 600.3 402.3)"/>
<ellipse cx="583.4" cy="372.2" rx="2.3" ry="1.6" fill="#a5d88a" transform="rotate(164 583.4 372.2)"/>
<ellipse cx="608.1" cy="429.7" rx="2.2" ry="1.7" fill="#e8b04a" transform="rotate(80 608.1 429.7)"/>
<ellipse cx="569.8" cy="358.5" rx="2.0" ry="1.3" fill="#7cc66a" transform="rotate(72 569.8 358.5)"/>
<ellipse cx="573.0" cy="364.7" rx="2.3" ry="1.8" fill="#57b35a" transform="rotate(20 573.0 364.7)"/>
<ellipse cx="634.7" cy="472.5" rx="2.6" ry="1.7" fill="#57b35a" transform="rotate(1 634.7 472.5)"/>
<ellipse cx="682.7" cy="497.4" rx="2.0" ry="1.4" fill="#57b35a" transform="rotate(68 682.7 497.4)"/>
<ellipse cx="596.6" cy="398.8" rx="3.1" ry="1.1" fill="#57b35a" transform="rotate(180 596.6 398.8)"/>
<ellipse cx="596.3" cy="389.8" rx="1.5" ry="1.3" fill="#e8b04a" transform="rotate(46 596.3 389.8)"/>
<ellipse cx="644.5" cy="470.5" rx="3.0" ry="1.0" fill="#3f9e4a" transform="rotate(38 644.5 470.5)"/>
<ellipse cx="618.7" cy="438.1" rx="1.8" ry="1.0" fill="#57b35a" transform="rotate(26 618.7 438.1)"/>
<ellipse cx="574.7" cy="370.7" rx="3.1" ry="1.5" fill="#7cc66a" transform="rotate(49 574.7 370.7)"/>
<ellipse cx="569.9" cy="355.4" rx="1.9" ry="1.3" fill="#57b35a" transform="rotate(124 569.9 355.4)"/>
<ellipse cx="587.3" cy="374.5" rx="2.1" ry="1.6" fill="#e8b04a" transform="rotate(113 587.3 374.5)"/>
<ellipse cx="624.0" cy="452.4" rx="1.8" ry="1.4" fill="#57b35a" transform="rotate(98 624.0 452.4)"/>
<ellipse cx="589.8" cy="399.2" rx="1.8" ry="1.8" fill="#e8b04a" transform="rotate(42 589.8 399.2)"/>
<ellipse cx="605.4" cy="402.7" rx="3.2" ry="1.3" fill="#a5d88a" transform="rotate(45 605.4 402.7)"/>
<ellipse cx="570.6" cy="384.2" rx="3.2" ry="1.5" fill="#57b35a" transform="rotate(134 570.6 384.2)"/>
<ellipse cx="637.9" cy="468.8" rx="2.3" ry="1.1" fill="#a5d88a" transform="rotate(153 637.9 468.8)"/>
<ellipse cx="588.4" cy="394.6" rx="2.0" ry="1.3" fill="#e8b04a" transform="rotate(153 588.4 394.6)"/>
<ellipse cx="657.6" cy="475.1" rx="2.9" ry="1.2" fill="#e8b04a" transform="rotate(76 657.6 475.1)"/>
<ellipse cx="585.7" cy="402.2" rx="3.2" ry="1.6" fill="#e8b04a" transform="rotate(63 585.7 402.2)"/>
<ellipse cx="604.5" cy="403.4" rx="2.1" ry="1.6" fill="#57b35a" transform="rotate(45 604.5 403.4)"/>
<ellipse cx="677.4" cy="494.9" rx="1.6" ry="1.3" fill="#a5d88a" transform="rotate(140 677.4 494.9)"/>
<ellipse cx="669.5" cy="477.7" rx="2.2" ry="1.8" fill="#57b35a" transform="rotate(93 669.5 477.7)"/>
<ellipse cx="609.6" cy="443.0" rx="2.2" ry="1.7" fill="#57b35a" transform="rotate(143 609.6 443.0)"/>
<ellipse cx="598.8" cy="418.4" rx="2.2" ry="1.7" fill="#57b35a" transform="rotate(175 598.8 418.4)"/>
<ellipse cx="668.4" cy="481.7" rx="1.5" ry="1.1" fill="#3f9e4a" transform="rotate(0 668.4 481.7)"/>
<ellipse cx="574.0" cy="375.8" rx="1.8" ry="1.0" fill="#7cc66a" transform="rotate(80 574.0 375.8)"/>
<ellipse cx="626.1" cy="453.2" rx="2.3" ry="1.5" fill="#3f9e4a" transform="rotate(30 626.1 453.2)"/>
<ellipse cx="627.5" cy="436.7" rx="3.0" ry="1.2" fill="#3f9e4a" transform="rotate(48 627.5 436.7)"/>
<ellipse cx="574.2" cy="384.8" rx="1.5" ry="1.3" fill="#57b35a" transform="rotate(1 574.2 384.8)"/>
<ellipse cx="626.7" cy="438.9" rx="2.2" ry="1.4" fill="#3f9e4a" transform="rotate(110 626.7 438.9)"/>
<ellipse cx="636.5" cy="449.8" rx="1.7" ry="1.8" fill="#7cc66a" transform="rotate(176 636.5 449.8)"/>
<ellipse cx="657.7" cy="497.2" rx="3.2" ry="1.1" fill="#e8b04a" transform="rotate(2 657.7 497.2)"/>
<ellipse cx="607.7" cy="414.5" rx="2.9" ry="1.3" fill="#57b35a" transform="rotate(107 607.7 414.5)"/>
<ellipse cx="661.5" cy="485.8" rx="2.2" ry="1.1" fill="#e8b04a" transform="rotate(164 661.5 485.8)"/>
<ellipse cx="627.9" cy="444.0" rx="2.5" ry="1.1" fill="#3f9e4a" transform="rotate(59 627.9 444.0)"/>
<ellipse cx="666.7" cy="492.7" rx="2.0" ry="1.8" fill="#57b35a" transform="rotate(169 666.7 492.7)"/>
<ellipse cx="668.7" cy="496.1" rx="3.0" ry="1.1" fill="#7cc66a" transform="rotate(136 668.7 496.1)"/>
<ellipse cx="603.6" cy="414.9" rx="3.0" ry="1.6" fill="#a5d88a" transform="rotate(52 603.6 414.9)"/>
<ellipse cx="616.6" cy="440.4" rx="1.8" ry="1.7" fill="#e8b04a" transform="rotate(55 616.6 440.4)"/>
<ellipse cx="578.1" cy="386.2" rx="2.2" ry="1.2" fill="#a5d88a" transform="rotate(47 578.1 386.2)"/>
<ellipse cx="647.0" cy="471.2" rx="2.9" ry="1.0" fill="#e8b04a" transform="rotate(102 647.0 471.2)"/>
<ellipse cx="597.7" cy="414.7" rx="1.9" ry="1.6" fill="#7cc66a" transform="rotate(87 597.7 414.7)"/>
<ellipse cx="641.4" cy="469.9" rx="2.5" ry="1.2" fill="#3f9e4a" transform="rotate(179 641.4 469.9)"/>
<ellipse cx="595.1" cy="388.8" rx="1.8" ry="1.6" fill="#3f9e4a" transform="rotate(100 595.1 388.8)"/>
<ellipse cx="627.2" cy="449.0" rx="2.3" ry="1.0" fill="#7cc66a" transform="rotate(137 627.2 449.0)"/>
<ellipse cx="665.0" cy="489.8" rx="2.4" ry="1.3" fill="#7cc66a" transform="rotate(126 665.0 489.8)"/>
<ellipse cx="596.3" cy="404.0" rx="2.2" ry="1.5" fill="#7cc66a" transform="rotate(45 596.3 404.0)"/>
<ellipse cx="579.1" cy="384.1" rx="2.5" ry="1.1" fill="#3f9e4a" transform="rotate(135 579.1 384.1)"/>
<ellipse cx="579.1" cy="383.4" rx="3.0" ry="1.4" fill="#3f9e4a" transform="rotate(126 579.1 383.4)"/>
<ellipse cx="572.0" cy="370.1" rx="1.7" ry="1.6" fill="#a5d88a" transform="rotate(141 572.0 370.1)"/>
<ellipse cx="629.8" cy="458.7" rx="2.4" ry="1.8" fill="#7cc66a" transform="rotate(166 629.8 458.7)"/>
<ellipse cx="585.3" cy="409.7" rx="2.8" ry="1.3" fill="#e8b04a" transform="rotate(94 585.3 409.7)"/>
<ellipse cx="619.3" cy="455.5" rx="2.9" ry="1.6" fill="#a5d88a" transform="rotate(82 619.3 455.5)"/>
<ellipse cx="619.4" cy="454.0" rx="2.4" ry="1.4" fill="#3f9e4a" transform="rotate(104 619.4 454.0)"/>
<ellipse cx="620.2" cy="453.8" rx="2.3" ry="1.2" fill="#a5d88a" transform="rotate(129 620.2 453.8)"/>
<ellipse cx="630.2" cy="466.3" rx="3.1" ry="1.7" fill="#57b35a" transform="rotate(131 630.2 466.3)"/>
<ellipse cx="593.4" cy="409.8" rx="2.0" ry="1.8" fill="#e8b04a" transform="rotate(30 593.4 409.8)"/>
<ellipse cx="580.6" cy="389.4" rx="1.9" ry="1.8" fill="#3f9e4a" transform="rotate(47 580.6 389.4)"/>
<ellipse cx="599.1" cy="410.7" rx="1.9" ry="1.8" fill="#e8b04a" transform="rotate(88 599.1 410.7)"/>
<ellipse cx="656.1" cy="465.7" rx="1.7" ry="1.1" fill="#e8b04a" transform="rotate(117 656.1 465.7)"/>
<ellipse cx="592.0" cy="420.3" rx="1.8" ry="1.5" fill="#3f9e4a" transform="rotate(68 592.0 420.3)"/>
<ellipse cx="669.9" cy="505.1" rx="2.8" ry="1.4" fill="#57b35a" transform="rotate(175 669.9 505.1)"/>
<ellipse cx="635.4" cy="450.9" rx="2.4" ry="1.5" fill="#7cc66a" transform="rotate(99 635.4 450.9)"/>
<ellipse cx="574.1" cy="380.5" rx="1.9" ry="1.6" fill="#57b35a" transform="rotate(129 574.1 380.5)"/>
<ellipse cx="640.9" cy="477.8" rx="2.1" ry="1.0" fill="#e8b04a" transform="rotate(142 640.9 477.8)"/>
<ellipse cx="634.0" cy="447.8" rx="1.8" ry="1.8" fill="#57b35a" transform="rotate(18 634.0 447.8)"/>
<ellipse cx="620.9" cy="431.3" rx="2.1" ry="1.7" fill="#a5d88a" transform="rotate(41 620.9 431.3)"/>
<ellipse cx="584.1" cy="391.5" rx="1.7" ry="1.0" fill="#e8b04a" transform="rotate(21 584.1 391.5)"/>
<ellipse cx="633.5" cy="464.4" rx="3.2" ry="1.5" fill="#a5d88a" transform="rotate(67 633.5 464.4)"/>
<ellipse cx="592.7" cy="376.8" rx="2.7" ry="1.1" fill="#e8b04a" transform="rotate(8 592.7 376.8)"/>
<ellipse cx="605.1" cy="420.9" rx="1.7" ry="1.6" fill="#7cc66a" transform="rotate(99 605.1 420.9)"/>
<ellipse cx="573.6" cy="372.6" rx="2.1" ry="1.2" fill="#e8b04a" transform="rotate(115 573.6 372.6)"/>
<ellipse cx="580.5" cy="390.4" rx="2.2" ry="1.1" fill="#3f9e4a" transform="rotate(80 580.5 390.4)"/>
<ellipse cx="668.2" cy="499.3" rx="2.0" ry="1.0" fill="#3f9e4a" transform="rotate(6 668.2 499.3)"/>
<ellipse cx="621.6" cy="453.4" rx="2.0" ry="1.6" fill="#a5d88a" transform="rotate(153 621.6 453.4)"/>
<ellipse cx="613.4" cy="415.6" rx="2.2" ry="1.2" fill="#a5d88a" transform="rotate(16 613.4 415.6)"/>
<ellipse cx="584.9" cy="386.7" rx="3.1" ry="1.5" fill="#7cc66a" transform="rotate(159 584.9 386.7)"/>
<ellipse cx="583.8" cy="376.9" rx="1.8" ry="1.3" fill="#a5d88a" transform="rotate(75 583.8 376.9)"/>
<ellipse cx="581.4" cy="377.0" rx="2.8" ry="1.6" fill="#3f9e4a" transform="rotate(5 581.4 377.0)"/>
<ellipse cx="572.3" cy="353.1" rx="2.4" ry="1.4" fill="#e8b04a" transform="rotate(3 572.3 353.1)"/>
<ellipse cx="579.4" cy="363.9" rx="2.3" ry="1.6" fill="#57b35a" transform="rotate(33 579.4 363.9)"/>
<ellipse cx="598.8" cy="407.1" rx="1.6" ry="1.8" fill="#e8b04a" transform="rotate(49 598.8 407.1)"/>
<ellipse cx="583.8" cy="394.3" rx="2.8" ry="1.4" fill="#e8b04a" transform="rotate(161 583.8 394.3)"/>
<ellipse cx="594.5" cy="379.6" rx="1.5" ry="1.1" fill="#a5d88a" transform="rotate(173 594.5 379.6)"/>
<ellipse cx="608.8" cy="444.5" rx="2.5" ry="1.3" fill="#7cc66a" transform="rotate(119 608.8 444.5)"/>
<ellipse cx="610.3" cy="411.4" rx="2.8" ry="1.2" fill="#57b35a" transform="rotate(121 610.3 411.4)"/>
<ellipse cx="643.5" cy="467.3" rx="2.8" ry="1.8" fill="#7cc66a" transform="rotate(122 643.5 467.3)"/>
<ellipse cx="655.1" cy="478.5" rx="1.9" ry="1.5" fill="#e8b04a" transform="rotate(156 655.1 478.5)"/>
<ellipse cx="604.8" cy="421.6" rx="1.8" ry="1.4" fill="#e8b04a" transform="rotate(65 604.8 421.6)"/>
<ellipse cx="608.6" cy="432.0" rx="2.2" ry="1.0" fill="#57b35a" transform="rotate(100 608.6 432.0)"/>
<ellipse cx="607.9" cy="413.9" rx="1.7" ry="1.7" fill="#3f9e4a" transform="rotate(155 607.9 413.9)"/>
<ellipse cx="572.6" cy="373.1" rx="2.8" ry="1.4" fill="#a5d88a" transform="rotate(96 572.6 373.1)"/>
<ellipse cx="619.0" cy="443.8" rx="2.2" ry="1.5" fill="#57b35a" transform="rotate(41 619.0 443.8)"/>
<ellipse cx="663.8" cy="499.9" rx="1.7" ry="1.7" fill="#e8b04a" transform="rotate(101 663.8 499.9)"/>
<ellipse cx="662.1" cy="471.0" rx="1.9" ry="1.7" fill="#a5d88a" transform="rotate(140 662.1 471.0)"/>
<ellipse cx="673.3" cy="486.4" rx="1.8" ry="1.6" fill="#3f9e4a" transform="rotate(160 673.3 486.4)"/>
<ellipse cx="605.5" cy="427.7" rx="1.9" ry="1.0" fill="#57b35a" transform="rotate(87 605.5 427.7)"/>
<ellipse cx="595.9" cy="420.5" rx="1.8" ry="1.2" fill="#7cc66a" transform="rotate(99 595.9 420.5)"/>
<ellipse cx="585.6" cy="406.9" rx="2.8" ry="1.1" fill="#3f9e4a" transform="rotate(142 585.6 406.9)"/>
<ellipse cx="590.9" cy="409.0" rx="2.7" ry="1.0" fill="#a5d88a" transform="rotate(164 590.9 409.0)"/>
<ellipse cx="603.4" cy="416.3" rx="2.9" ry="1.1" fill="#7cc66a" transform="rotate(64 603.4 416.3)"/>
<ellipse cx="596.7" cy="411.9" rx="3.0" ry="1.7" fill="#3f9e4a" transform="rotate(142 596.7 411.9)"/>
<ellipse cx="653.4" cy="474.3" rx="3.0" ry="1.2" fill="#a5d88a" transform="rotate(73 653.4 474.3)"/>
<ellipse cx="661.5" cy="483.7" rx="2.0" ry="1.5" fill="#3f9e4a" transform="rotate(27 661.5 483.7)"/>
<ellipse cx="615.0" cy="433.3" rx="2.8" ry="1.2" fill="#e8b04a" transform="rotate(31 615.0 433.3)"/>
<ellipse cx="622.2" cy="450.2" rx="2.1" ry="1.1" fill="#7cc66a" transform="rotate(83 622.2 450.2)"/>
<ellipse cx="581.5" cy="370.2" rx="2.2" ry="1.3" fill="#57b35a" transform="rotate(74 581.5 370.2)"/>
<ellipse cx="572.3" cy="368.9" rx="2.3" ry="1.1" fill="#3f9e4a" transform="rotate(43 572.3 368.9)"/>
<ellipse cx="611.2" cy="415.0" rx="1.8" ry="1.4" fill="#a5d88a" transform="rotate(121 611.2 415.0)"/>
<ellipse cx="600.2" cy="408.0" rx="2.1" ry="1.5" fill="#a5d88a" transform="rotate(137 600.2 408.0)"/>
<ellipse cx="611.8" cy="438.1" rx="1.9" ry="1.4" fill="#3f9e4a" transform="rotate(168 611.8 438.1)"/>
<ellipse cx="659.0" cy="494.8" rx="2.0" ry="1.3" fill="#7cc66a" transform="rotate(1 659.0 494.8)"/>
<ellipse cx="669.7" cy="493.9" rx="1.6" ry="1.3" fill="#a5d88a" transform="rotate(27 669.7 493.9)"/>
<ellipse cx="634.8" cy="458.5" rx="2.9" ry="1.8" fill="#57b35a" transform="rotate(173 634.8 458.5)"/>
<ellipse cx="613.8" cy="435.9" rx="3.0" ry="1.1" fill="#57b35a" transform="rotate(21 613.8 435.9)"/>
<ellipse cx="579.6" cy="381.5" rx="1.5" ry="1.2" fill="#7cc66a" transform="rotate(112 579.6 381.5)"/>
<ellipse cx="575.1" cy="375.9" rx="2.1" ry="1.4" fill="#3f9e4a" transform="rotate(158 575.1 375.9)"/>
<ellipse cx="593.1" cy="417.7" rx="2.7" ry="1.5" fill="#3f9e4a" transform="rotate(3 593.1 417.7)"/>
<ellipse cx="591.0" cy="385.2" rx="2.3" ry="1.4" fill="#7cc66a" transform="rotate(171 591.0 385.2)"/>
<ellipse cx="617.0" cy="445.3" rx="3.0" ry="1.2" fill="#7cc66a" transform="rotate(59 617.0 445.3)"/>
<ellipse cx="652.1" cy="473.5" rx="1.9" ry="1.7" fill="#57b35a" transform="rotate(137 652.1 473.5)"/>
<ellipse cx="595.0" cy="416.3" rx="2.0" ry="1.1" fill="#3f9e4a" transform="rotate(98 595.0 416.3)"/>
<ellipse cx="649.1" cy="471.7" rx="2.2" ry="1.2" fill="#a5d88a" transform="rotate(25 649.1 471.7)"/>
<ellipse cx="622.3" cy="464.5" rx="3.1" ry="1.5" fill="#57b35a" transform="rotate(117 622.3 464.5)"/>
<ellipse cx="627.5" cy="440.4" rx="2.4" ry="1.6" fill="#57b35a" transform="rotate(49 627.5 440.4)"/>
<ellipse cx="674.1" cy="478.2" rx="1.6" ry="1.4" fill="#e8b04a" transform="rotate(113 674.1 478.2)"/>
<ellipse cx="599.5" cy="431.7" rx="1.7" ry="1.4" fill="#e8b04a" transform="rotate(147 599.5 431.7)"/>
<ellipse cx="603.3" cy="410.0" rx="3.1" ry="1.4" fill="#e8b04a" transform="rotate(144 603.3 410.0)"/>
<ellipse cx="578.4" cy="370.5" rx="2.6" ry="1.0" fill="#a5d88a" transform="rotate(112 578.4 370.5)"/>
<ellipse cx="598.8" cy="416.4" rx="2.0" ry="1.2" fill="#e8b04a" transform="rotate(160 598.8 416.4)"/>
<ellipse cx="614.6" cy="430.8" rx="2.3" ry="1.2" fill="#a5d88a" transform="rotate(51 614.6 430.8)"/>
<ellipse cx="620.2" cy="449.9" rx="2.9" ry="1.1" fill="#7cc66a" transform="rotate(121 620.2 449.9)"/>
<ellipse cx="575.7" cy="390.0" rx="2.9" ry="1.4" fill="#a5d88a" transform="rotate(130 575.7 390.0)"/>
<ellipse cx="624.6" cy="466.1" rx="2.7" ry="1.3" fill="#3f9e4a" transform="rotate(146 624.6 466.1)"/>
<ellipse cx="589.7" cy="412.6" rx="2.5" ry="1.1" fill="#7cc66a" transform="rotate(109 589.7 412.6)"/>
<ellipse cx="636.8" cy="465.0" rx="2.9" ry="1.7" fill="#57b35a" transform="rotate(178 636.8 465.0)"/>
<ellipse cx="644.4" cy="487.4" rx="2.0" ry="1.1" fill="#57b35a" transform="rotate(46 644.4 487.4)"/>
<ellipse cx="680.9" cy="492.7" rx="2.2" ry="1.7" fill="#57b35a" transform="rotate(63 680.9 492.7)"/>
<ellipse cx="648.4" cy="458.5" rx="3.1" ry="1.1" fill="#7cc66a" transform="rotate(171 648.4 458.5)"/>
<ellipse cx="599.7" cy="405.9" rx="2.7" ry="1.3" fill="#3f9e4a" transform="rotate(130 599.7 405.9)"/>
<ellipse cx="600.0" cy="393.3" rx="2.1" ry="1.5" fill="#e8b04a" transform="rotate(58 600.0 393.3)"/>
<ellipse cx="608.1" cy="413.2" rx="2.3" ry="1.2" fill="#3f9e4a" transform="rotate(145 608.1 413.2)"/>
<ellipse cx="676.5" cy="494.4" rx="2.5" ry="1.7" fill="#a5d88a" transform="rotate(42 676.5 494.4)"/>
<ellipse cx="648.2" cy="471.0" rx="2.8" ry="1.3" fill="#57b35a" transform="rotate(52 648.2 471.0)"/>
<ellipse cx="596.4" cy="428.9" rx="2.5" ry="1.7" fill="#e8b04a" transform="rotate(91 596.4 428.9)"/>
<ellipse cx="599.9" cy="404.6" rx="2.1" ry="1.4" fill="#e8b04a" transform="rotate(111 599.9 404.6)"/>
<ellipse cx="580.7" cy="373.0" rx="3.0" ry="1.6" fill="#7cc66a" transform="rotate(71 580.7 373.0)"/>
<ellipse cx="640.4" cy="477.5" rx="2.6" ry="1.2" fill="#57b35a" transform="rotate(55 640.4 477.5)"/>
<ellipse cx="617.3" cy="446.4" rx="1.9" ry="1.7" fill="#57b35a" transform="rotate(30 617.3 446.4)"/>
<ellipse cx="668.3" cy="497.4" rx="2.6" ry="1.5" fill="#57b35a" transform="rotate(8 668.3 497.4)"/>
<ellipse cx="680.7" cy="495.1" rx="2.0" ry="1.3" fill="#7cc66a" transform="rotate(134 680.7 495.1)"/>
<ellipse cx="590.8" cy="371.8" rx="2.8" ry="1.5" fill="#57b35a" transform="rotate(66 590.8 371.8)"/>
<ellipse cx="612.9" cy="452.2" rx="1.6" ry="1.7" fill="#57b35a" transform="rotate(3 612.9 452.2)"/>
<ellipse cx="680.5" cy="504.0" rx="2.2" ry="1.7" fill="#a5d88a" transform="rotate(159 680.5 504.0)"/>
<ellipse cx="604.2" cy="419.3" rx="3.0" ry="1.3" fill="#e8b04a" transform="rotate(19 604.2 419.3)"/>
<ellipse cx="607.3" cy="439.3" rx="2.8" ry="1.1" fill="#57b35a" transform="rotate(139 607.3 439.3)"/>
<ellipse cx="571.7" cy="371.4" rx="2.8" ry="1.7" fill="#7cc66a" transform="rotate(148 571.7 371.4)"/>
<path d="M583.9,354.7 C585.8,357.8 591.4,366.1 595.3,373.4 C599.2,380.7 602.9,390.2 607.3,398.3 C611.7,406.5 617.1,415.0 621.8,422.5 C626.5,429.9 630.3,436.5 635.8,443.0 C641.2,449.6 648.1,456.0 654.4,461.6 C660.6,467.2 668.2,472.9 673.5,476.8 C678.7,480.8 683.9,484.0 686.0,485.5" fill="none" stroke="#4f9fd6" stroke-width="1.7"/>
<path d="M560.1,369.3 C561.8,372.2 566.9,379.5 570.7,386.6 C574.4,393.7 578.1,403.2 582.7,411.7 C587.3,420.1 592.9,429.3 598.2,437.5 C603.5,445.8 608.0,453.5 614.2,461.0 C620.5,468.4 628.6,476.0 635.6,482.4 C642.7,488.8 650.8,494.8 656.5,499.2 C662.3,503.5 667.8,507.0 670.0,508.5" fill="none" stroke="#4f9fd6" stroke-width="1.7"/>
<path d="M572.0,362.0 C573.8,365.0 579.2,372.8 583.0,380.0 C586.8,387.2 590.5,396.7 595.0,405.0 C599.5,413.3 605.0,422.2 610.0,430.0 C615.0,437.8 619.2,445.0 625.0,452.0 C630.8,459.0 638.3,466.0 645.0,472.0 C651.7,478.0 659.5,483.8 665.0,488.0 C670.5,492.2 675.8,495.5 678.0,497.0" fill="none" stroke="#9a7fc0" stroke-width="1.2"/>
<path d="M457.0,278.0 C457.7,276.2 459.8,273.8 463.0,273.0 C466.2,272.2 471.5,272.2 476.0,273.0 C480.5,273.8 486.3,275.7 490.0,278.0 C493.7,280.3 497.3,284.7 498.0,287.0 C498.7,289.3 496.7,291.3 494.0,292.0 C491.3,292.7 486.3,291.7 482.0,291.0 C477.7,290.3 471.8,289.2 468.0,288.0 C464.2,286.8 460.8,285.7 459.0,284.0 C457.2,282.3 456.3,279.8 457.0,278.0Z" fill="#f9c4cc" stroke="#cc546e" stroke-width="1.8"/>
<path d="M472.0,299.0 C472.7,296.3 475.0,294.2 478.0,293.0 C481.0,291.8 486.0,291.2 490.0,292.0 C494.0,292.8 499.0,295.3 502.0,298.0 C505.0,300.7 507.7,304.7 508.0,308.0 C508.3,311.3 506.3,315.7 504.0,318.0 C501.7,320.3 497.7,322.0 494.0,322.0 C490.3,322.0 485.3,320.2 482.0,318.0 C478.7,315.8 475.7,312.2 474.0,309.0 C472.3,305.8 471.3,301.7 472.0,299.0Z" fill="#f7aebc" stroke="#d85a78" stroke-width="1.5"/>
<ellipse cx="484" cy="302" rx="6" ry="4.5" fill="#e8486a" opacity="0.85"/>
<ellipse cx="497" cy="300" rx="4.5" ry="4" fill="#ee7a92"/>
<ellipse cx="492" cy="313" rx="7" ry="5" fill="#fbe4e8" stroke="#e0607e" stroke-width="1.2"/>
<circle cx="474" cy="306" r="2.2" fill="#ffffff"/><circle cx="490" cy="316" r="2" fill="#ffffff"/><circle cx="483" cy="301" r="1.6" fill="#fff"/>
<path d="M428,272 C431,271 434,271 436,273" stroke="#e0607e" stroke-width="2.5" stroke-linecap="round" fill="none"/>
<path d="M450,316 C455,320 460,322 465,322" stroke="#e98aa2" stroke-width="3" stroke-linecap="round" fill="none"/>
<path d="M418.0,274.0 C418.7,272.0 419.3,265.3 422.0,262.0 C424.7,258.7 432.0,255.3 434.0,254.0" fill="none" stroke="#fce4e6" stroke-width="6" opacity="0.9" stroke-linecap="round" filter="url(#b2)"/>
<path d="M434.0,300.0 C436.0,302.0 442.0,308.0 446.0,312.0 C450.0,316.0 456.0,322.0 458.0,324.0" fill="none" stroke="#fbd8dc" stroke-width="5" opacity="0.8" stroke-linecap="round" filter="url(#b2)"/>
<path d="M503.0,309.0 C505.5,309.7 513.0,311.8 517.9,313.4 C522.9,315.0 527.4,316.6 532.5,318.6 C537.7,320.6 544.1,322.7 548.8,325.3 C553.5,327.8 556.5,330.7 560.7,334.0 C564.9,337.2 569.9,341.0 574.0,344.8 C578.1,348.6 582.0,352.8 585.3,356.9 C588.7,361.1 591.3,365.2 594.1,369.7 C596.9,374.2 599.3,379.1 602.0,383.9 C604.7,388.6 607.3,393.5 610.2,398.4 C613.1,403.4 616.1,408.6 619.2,413.7 C622.4,418.7 625.7,424.1 629.1,428.9 C632.6,433.6 636.2,438.1 639.9,442.3 C643.5,446.4 647.2,450.0 651.0,453.7 C654.7,457.4 658.5,460.8 662.4,464.4 C666.2,467.9 670.1,471.3 674.2,474.9 C678.3,478.4 682.6,482.1 687.1,485.6 C691.6,489.2 696.4,492.9 701.2,496.4 C706.1,500.0 711.8,504.0 716.2,507.0 C720.7,510.0 724.0,512.2 728.1,514.6 C732.1,517.0 736.4,519.3 740.6,521.4 C744.8,523.5 749.2,525.4 753.4,527.3 C757.6,529.1 761.1,530.4 765.9,532.3 C770.6,534.2 776.8,536.5 782.1,538.8 C787.3,541.1 792.3,543.7 797.3,546.0 C802.4,548.3 807.1,550.6 812.3,552.5 C817.4,554.4 822.9,556.0 828.4,557.3 C833.9,558.6 840.0,559.5 845.2,560.2 C850.4,560.9 854.9,561.5 859.6,561.5 C864.4,561.6 869.1,561.2 873.7,560.5 C878.3,559.9 884.8,558.2 887.1,557.8" fill="none" stroke="#5a9fd8" stroke-width="2.0" opacity="0.95" stroke-linecap="round"/>
<path d="M503.0,309.0 C505.3,310.0 512.2,313.1 516.8,315.2 C521.3,317.4 525.5,319.4 530.3,321.7 C535.2,324.0 541.1,326.6 545.7,329.3 C550.2,331.9 553.4,334.5 557.5,337.7 C561.6,340.9 566.4,344.7 570.3,348.4 C574.3,352.2 577.9,356.3 581.1,360.3 C584.2,364.4 586.7,368.5 589.4,372.9 C592.1,377.4 594.5,382.2 597.2,387.0 C599.8,391.8 602.4,396.6 605.2,401.7 C608.0,406.7 610.9,411.9 613.9,417.1 C617.0,422.2 620.2,427.7 623.5,432.7 C626.9,437.6 630.5,442.4 634.1,446.8 C637.8,451.1 641.6,454.9 645.5,458.7 C649.4,462.5 653.4,465.9 657.5,469.4 C661.7,472.8 665.9,476.1 670.4,479.5 C674.9,482.8 679.6,486.1 684.4,489.5 C689.2,492.8 694.2,496.1 699.2,499.6 C704.1,503.0 709.9,506.9 714.3,510.0 C718.8,513.2 721.9,515.6 725.8,518.4 C729.7,521.2 733.6,524.1 737.6,526.7 C741.6,529.3 745.7,532.0 749.7,534.3 C753.8,536.6 757.2,538.4 762.1,540.5 C766.9,542.7 773.2,545.2 778.7,547.2 C784.2,549.2 789.7,551.1 795.2,552.7 C800.6,554.3 805.8,555.7 811.3,556.9 C816.8,558.1 822.5,559.0 828.2,559.7 C833.8,560.5 839.9,561.1 845.2,561.6 C850.4,562.1 854.9,562.8 859.7,562.9 C864.5,562.9 869.4,562.7 874.0,562.1 C878.7,561.5 885.3,559.8 887.5,559.4" fill="none" stroke="#86bde8" stroke-width="1.7" opacity="0.95" stroke-linecap="round"/>
<path d="M503.0,309.0 C505.2,310.2 511.8,313.8 516.1,316.2 C520.5,318.6 524.7,320.6 529.2,323.3 C533.7,326.0 539.1,329.2 543.2,332.4 C547.2,335.6 549.9,338.6 553.4,342.3 C556.9,346.0 560.9,350.5 564.2,354.5 C567.5,358.5 570.4,362.6 573.3,366.6 C576.2,370.5 578.6,374.2 581.6,378.2 C584.5,382.3 587.8,386.6 591.1,390.9 C594.4,395.2 598.0,399.5 601.5,404.0 C605.0,408.6 608.6,413.3 612.0,418.3 C615.4,423.3 618.7,428.7 621.9,433.8 C625.1,438.9 628.2,444.1 631.4,448.9 C634.6,453.7 637.6,458.4 641.0,462.8 C644.4,467.2 647.8,471.4 651.7,475.4 C655.6,479.4 659.8,483.2 664.4,486.7 C669.0,490.2 674.1,493.4 679.3,496.5 C684.4,499.7 690.0,502.4 695.3,505.4 C700.7,508.4 706.9,511.7 711.6,514.4 C716.3,517.2 719.6,519.3 723.6,522.0 C727.6,524.7 731.5,527.7 735.4,530.5 C739.4,533.3 743.3,536.3 747.3,538.8 C751.4,541.4 754.7,543.6 759.6,546.0 C764.4,548.3 770.7,551.0 776.4,553.0 C782.0,555.0 787.8,556.5 793.5,557.9 C799.2,559.3 804.7,560.3 810.4,561.3 C816.1,562.2 821.9,562.9 827.7,563.6 C833.5,564.3 839.7,564.9 845.0,565.4 C850.4,565.8 855.0,566.4 860.0,566.4 C864.9,566.3 870.0,565.9 874.7,565.0 C879.4,564.2 885.8,561.9 888.1,561.3" fill="none" stroke="#5a9fd8" stroke-width="1.9" opacity="0.95" stroke-linecap="round"/>
<path d="M503.0,309.0 C505.1,310.4 511.4,314.6 515.3,317.5 C519.3,320.4 523.0,323.2 526.9,326.6 C530.8,330.0 535.2,334.4 538.8,337.9 C542.4,341.4 545.2,344.2 548.6,347.8 C552.0,351.3 556.1,355.5 559.4,359.3 C562.7,363.0 565.6,366.7 568.5,370.4 C571.4,374.1 573.8,377.6 576.7,381.5 C579.6,385.5 582.7,389.9 585.9,394.3 C589.1,398.6 592.6,403.0 596.0,407.6 C599.5,412.1 603.0,416.9 606.5,421.8 C610.0,426.7 613.5,432.1 617.1,437.1 C620.6,442.1 624.1,447.2 627.6,451.9 C631.0,456.7 634.4,461.1 638.0,465.5 C641.5,470.0 644.9,474.3 648.8,478.5 C652.6,482.7 656.5,487.0 660.9,491.0 C665.3,495.0 670.0,498.9 674.9,502.5 C679.9,506.2 685.2,509.6 690.5,512.8 C695.8,516.1 702.0,519.5 706.8,522.1 C711.7,524.7 715.4,526.4 719.7,528.5 C724.1,530.6 728.5,532.8 732.9,534.9 C737.3,537.1 741.7,539.2 746.0,541.4 C750.3,543.5 753.8,545.4 758.7,547.8 C763.6,550.3 769.7,553.4 775.2,556.0 C780.7,558.5 786.2,561.0 791.9,563.0 C797.5,565.0 803.1,566.8 808.9,568.1 C814.8,569.3 821.0,570.1 826.9,570.6 C832.9,571.1 839.3,571.1 844.8,570.9 C850.4,570.8 855.2,570.6 860.2,569.8 C865.2,569.1 870.3,567.9 875.0,566.6 C879.7,565.2 886.0,562.6 888.2,561.9" fill="none" stroke="#8a8cd2" stroke-width="1.6" opacity="0.95" stroke-linecap="round"/>
<path d="M503.0,309.0 C504.8,310.7 510.6,315.8 514.1,319.5 C517.5,323.1 520.5,326.8 523.7,331.0 C527.0,335.1 530.3,340.7 533.7,344.5 C537.0,348.2 540.0,350.2 543.6,353.4 C547.2,356.6 551.5,360.2 555.1,363.5 C558.7,366.7 562.0,369.8 565.1,373.1 C568.3,376.4 571.0,379.5 574.0,383.4 C577.0,387.2 580.1,391.6 583.1,396.1 C586.2,400.5 589.2,405.1 592.2,410.0 C595.2,414.9 598.0,420.0 601.0,425.3 C604.0,430.6 606.9,436.4 610.1,441.8 C613.3,447.2 616.7,452.7 620.2,457.6 C623.8,462.6 627.5,467.1 631.4,471.5 C635.4,475.8 639.4,479.7 643.8,483.6 C648.2,487.5 652.9,491.1 657.8,494.7 C662.7,498.2 668.0,501.6 673.2,505.0 C678.4,508.3 683.9,511.5 689.2,514.9 C694.5,518.2 700.4,521.9 705.1,524.9 C709.7,528.0 712.9,530.4 716.9,533.2 C720.9,536.0 724.9,539.0 729.1,541.7 C733.2,544.5 737.4,547.3 741.6,549.8 C745.9,552.3 749.6,554.3 754.6,556.6 C759.7,558.9 766.2,561.7 772.1,563.7 C778.0,565.6 784.2,567.0 790.2,568.2 C796.2,569.4 802.2,570.2 808.3,570.9 C814.4,571.5 820.7,571.9 826.8,572.1 C832.8,572.4 839.2,572.4 844.8,572.4 C850.3,572.3 855.2,572.4 860.3,571.8 C865.5,571.3 870.8,570.3 875.5,569.0 C880.3,567.7 886.6,564.8 888.9,564.0" fill="none" stroke="#5a9fd8" stroke-width="2.0" opacity="0.95" stroke-linecap="round"/>
<path d="M503.0,309.0 C504.6,311.1 509.7,317.4 512.7,321.6 C515.8,325.8 518.3,329.9 521.4,334.3 C524.4,338.7 527.5,344.4 530.9,348.0 C534.2,351.6 537.7,353.0 541.4,355.9 C545.2,358.8 549.6,362.2 553.1,365.5 C556.6,368.7 559.7,371.8 562.5,375.2 C565.4,378.6 567.7,381.8 570.4,385.8 C573.0,389.8 575.8,394.4 578.6,399.0 C581.4,403.6 584.2,408.4 587.1,413.3 C590.0,418.2 592.8,423.3 595.9,428.6 C599.0,433.9 602.1,439.6 605.5,445.0 C608.9,450.3 612.5,455.8 616.3,460.7 C620.0,465.7 623.9,470.2 628.0,474.6 C632.0,479.0 636.1,483.0 640.6,487.0 C645.0,491.0 649.6,494.9 654.5,498.6 C659.4,502.4 664.7,506.0 670.0,509.5 C675.2,513.0 680.7,516.2 686.1,519.6 C691.5,522.9 697.6,526.4 702.3,529.3 C707.1,532.2 710.5,534.4 714.6,537.0 C718.8,539.6 723.0,542.3 727.2,544.9 C731.5,547.6 735.8,550.3 740.1,552.8 C744.4,555.3 748.0,557.5 753.0,560.1 C758.1,562.7 764.3,566.0 770.2,568.3 C776.1,570.5 782.3,572.3 788.4,573.7 C794.6,575.1 800.8,576.0 807.1,576.6 C813.4,577.2 819.9,577.4 826.2,577.3 C832.4,577.2 838.9,576.7 844.6,576.2 C850.3,575.7 855.3,575.2 860.5,574.1 C865.7,573.1 871.0,571.7 875.8,570.1 C880.5,568.5 886.8,565.4 889.0,564.5" fill="none" stroke="#6ab0d0" stroke-width="1.6" opacity="0.95" stroke-linecap="round"/>
<path d="M500.0,318.0 C498.3,319.7 494.2,325.7 490.0,328.0 C485.8,330.3 479.7,331.7 475.0,332.0 C470.3,332.3 464.2,330.3 462.0,330.0" fill="none" stroke="#5ab0c0" stroke-width="1.4"/>
<path d="M505.0,320.0 C505.5,322.0 505.5,328.7 508.0,332.0 C510.5,335.3 515.5,339.0 520.0,340.0 C524.5,341.0 532.5,338.3 535.0,338.0" fill="none" stroke="#5ab0c0" stroke-width="1.4"/>
<path d="M523,306 l8,2 l-1,5" stroke="#4aa050" stroke-width="2" fill="none"/>
<circle cx="326.5" cy="273" r="21.5" fill="#dfeeec" stroke="#b9dadb" stroke-width="2"/>
<circle cx="326" cy="274" r="16" fill="#78c2c6"/>
<ellipse cx="322" cy="272" rx="7" ry="5" fill="#4f9a90" opacity="0.7"/>
<circle cx="332" cy="279" r="5" fill="#9ad8d2"/>
<circle cx="325" cy="258" r="2.5" fill="#3fa0a0"/>
<path d="M340.0,285.0 C342.2,286.4 348.7,290.2 353.4,293.3 C358.1,296.4 363.5,300.6 368.1,303.7 C372.6,306.7 376.3,308.9 380.7,311.7 C385.1,314.4 390.4,317.0 394.6,320.4 C398.9,323.9 402.3,328.4 406.1,332.4 C409.9,336.4 413.6,340.4 417.4,344.4 C421.2,348.5 425.0,352.8 428.6,356.9 C432.3,361.1 436.0,365.4 439.3,369.5 C442.6,373.6 445.5,377.3 448.6,381.7 C451.7,386.1 455.0,391.5 457.9,395.8 C460.7,400.0 462.6,403.1 465.6,407.2 C468.6,411.3 472.8,416.5 476.0,420.5 C479.2,424.6 481.8,427.8 484.8,431.6 C487.9,435.4 491.2,439.3 494.4,443.2 C497.7,447.1 500.9,451.0 504.1,454.9 C507.3,458.9 510.5,463.0 513.7,466.8 C516.9,470.7 520.0,474.5 523.2,478.0 C526.3,481.5 529.4,484.9 532.5,487.8 C535.6,490.8 538.0,492.8 541.8,495.8 C545.5,498.8 550.5,502.7 555.0,505.9 C559.5,509.2 564.1,512.2 568.6,515.3 C573.0,518.4 577.5,521.5 581.8,524.3 C586.1,527.2 590.1,529.7 594.4,532.4 C598.7,535.1 603.0,537.6 607.6,540.4 C612.2,543.1 617.0,546.0 622.0,548.8 C627.0,551.7 632.3,554.6 637.6,557.4 C643.0,560.3 649.3,563.3 654.1,565.6 C659.0,567.9 662.5,569.4 666.9,571.2 C671.2,573.0 675.8,574.8 680.3,576.4 C684.8,578.1 689.5,579.8 693.9,581.3 C698.4,582.7 702.1,583.9 707.0,585.3 C712.0,586.8 718.3,588.6 723.6,589.9 C728.9,591.2 733.8,592.1 738.9,593.1 C744.0,594.1 749.0,594.9 754.3,595.9 C759.6,596.8 765.0,597.8 770.5,598.7 C776.0,599.7 781.9,600.8 787.4,601.7 C793.0,602.6 798.6,603.5 803.9,604.0 C809.2,604.5 814.1,604.8 819.1,604.8 C824.1,604.7 829.1,604.4 834.0,603.8 C838.9,603.3 843.9,602.4 848.4,601.5 C852.9,600.6 856.6,599.6 860.9,598.2 C865.1,596.8 870.1,594.9 873.9,593.2 C877.8,591.4 880.8,589.7 884.1,587.6 C887.4,585.4 891.0,582.8 893.9,580.3 C896.8,577.7 899.1,575.1 901.5,572.4 C903.8,569.7 906.2,566.7 908.2,563.8 C910.2,560.9 912.4,558.1 913.2,555.1 C914.1,552.0 913.9,548.8 913.5,545.6 C913.0,542.5 912.2,539.6 910.6,536.3 C909.0,532.9 906.4,528.8 903.8,525.7 C901.1,522.6 898.3,520.2 894.7,517.5 C891.0,514.8 886.1,512.1 881.7,509.6 C877.3,507.0 872.5,504.2 868.2,502.0 C864.0,499.8 860.2,498.2 856.0,496.4 C851.8,494.6 848.0,493.2 843.2,491.3 C838.5,489.4 832.8,487.2 827.3,485.1 C821.9,483.0 816.2,480.7 810.8,478.6 C805.4,476.5 800.3,474.4 795.0,472.3 C789.7,470.2 784.3,468.2 779.0,466.0 C773.6,463.8 768.2,461.6 762.9,459.3 C757.5,457.1 752.2,454.7 747.0,452.4 C741.7,450.1 736.5,447.9 731.1,445.5 C725.7,443.2 719.6,440.4 714.7,438.1 C709.8,435.9 706.2,434.0 701.5,431.9 C696.9,429.9 691.9,427.9 687.0,425.7 C682.0,423.6 676.9,421.5 672.1,419.1 C667.3,416.7 662.9,414.9 658.1,411.5 C653.3,408.2 647.7,403.6 643.4,399.1 C639.0,394.7 635.4,389.3 632.1,384.8 C628.7,380.2 624.8,374.0 623.3,371.9" fill="none" stroke="#5a9fd8" stroke-width="2.0" opacity="0.95" stroke-linecap="round" clip-path="url(#cOuter)"/>
<path d="M340.0,285.0 C341.9,286.7 347.4,291.4 351.6,294.9 C355.8,298.5 360.8,303.1 365.0,306.4 C369.3,309.7 372.9,311.9 377.2,314.8 C381.6,317.6 386.9,320.1 391.1,323.5 C395.4,326.9 399.1,331.1 402.8,335.1 C406.5,339.2 410.0,343.4 413.3,347.8 C416.6,352.2 419.7,356.9 422.7,361.6 C425.7,366.2 428.5,371.0 431.2,375.6 C433.8,380.1 435.9,384.0 438.7,388.6 C441.4,393.2 444.6,398.8 447.6,403.2 C450.6,407.5 453.1,410.6 456.7,414.5 C460.3,418.4 465.3,423.0 469.3,426.6 C473.2,430.1 476.7,432.5 480.4,435.7 C484.1,438.9 488.0,442.2 491.6,445.8 C495.1,449.3 498.6,453.0 501.7,456.9 C504.9,460.9 507.7,465.2 510.4,469.4 C513.1,473.6 515.5,478.0 518.0,482.1 C520.5,486.3 522.9,490.4 525.5,494.1 C528.2,497.8 530.3,500.7 534.0,504.3 C537.6,507.8 542.7,512.1 547.4,515.5 C552.1,518.9 557.1,521.9 562.0,524.7 C566.9,527.5 572.0,530.0 576.8,532.3 C581.6,534.7 586.3,536.6 591.0,538.7 C595.7,540.9 600.2,542.8 605.1,545.3 C609.9,547.7 615.3,550.7 619.9,553.3 C624.6,556.0 628.6,558.6 633.0,561.3 C637.4,564.1 641.8,566.9 646.5,569.7 C651.2,572.5 658.3,576.3 661.1,577.9 C664.0,579.5 663.1,579.1 663.5,579.3" fill="none" stroke="#7a8cd2" stroke-width="1.7" opacity="0.95" stroke-linecap="round" clip-path="url(#cOuter)"/>
<path d="M340.0,285.0 C341.8,286.8 346.7,292.0 350.6,295.8 C354.5,299.6 359.4,304.3 363.4,307.8 C367.5,311.3 370.9,313.8 374.8,317.0 C378.7,320.2 383.3,323.3 387.1,327.1 C390.9,330.8 394.3,335.2 397.7,339.5 C401.0,343.8 404.0,348.2 407.1,352.8 C410.2,357.3 413.1,362.2 416.0,366.8 C418.9,371.4 421.7,376.2 424.4,380.6 C427.1,385.0 429.3,388.7 432.2,393.2 C435.0,397.6 438.4,403.1 441.6,407.4 C444.8,411.7 447.6,414.9 451.4,418.9 C455.2,422.8 460.3,427.5 464.3,431.1 C468.3,434.7 471.7,437.2 475.4,440.4 C479.1,443.6 483.0,446.8 486.5,450.3 C490.0,453.8 493.5,457.3 496.6,461.1 C499.8,465.0 502.7,469.1 505.4,473.2 C508.2,477.4 510.7,481.7 513.4,485.9 C516.0,490.0 518.4,494.2 521.1,498.1 C523.8,502.0 525.9,505.2 529.5,509.1 C533.2,513.0 538.2,517.6 542.8,521.4 C547.3,525.2 552.2,528.6 557.1,531.7 C562.0,534.8 567.0,537.7 571.9,540.2 C576.8,542.7 581.6,544.7 586.5,546.7 C591.4,548.8 596.3,550.4 601.4,552.5 C606.4,554.5 611.7,556.6 617.0,559.0 C622.3,561.4 627.8,564.0 633.2,566.7 C638.7,569.4 644.9,572.7 649.7,575.3 C654.5,577.9 657.8,580.0 661.9,582.5 C666.0,584.9 670.1,587.5 674.4,590.0 C678.6,592.4 683.0,594.9 687.4,597.1 C691.7,599.3 695.5,601.2 700.7,603.1 C705.8,604.9 712.5,607.1 718.2,608.4 C724.0,609.7 729.5,610.5 735.1,611.1 C740.7,611.7 746.1,611.9 751.7,612.2 C757.3,612.5 762.9,612.6 768.7,612.9 C774.4,613.2 780.4,613.6 786.2,614.0 C792.0,614.5 797.9,615.0 803.5,615.4 C809.1,615.7 814.4,616.1 819.8,616.3 C825.2,616.5 830.6,616.5 835.8,616.3 C841.1,616.2 846.5,615.8 851.4,615.3 C856.3,614.7 860.5,614.2 865.3,613.0 C870.1,611.9 875.6,610.1 880.2,608.2 C884.7,606.3 888.4,604.2 892.4,601.5 C896.3,598.8 900.5,595.3 903.8,591.9 C907.1,588.6 909.5,585.0 912.1,581.3 C914.6,577.6 916.9,573.8 918.9,569.7 C920.9,565.7 923.3,561.3 924.0,556.9 C924.8,552.4 924.2,547.6 923.4,543.2 C922.6,538.9 921.3,535.2 919.3,531.0 C917.2,526.9 914.3,522.2 911.2,518.4 C908.2,514.6 904.8,511.5 900.8,508.4 C896.9,505.3 891.9,502.4 887.3,499.7 C882.8,497.0 877.9,494.2 873.5,492.0 C869.0,489.8 864.9,488.1 860.5,486.5 C856.1,484.8 852.1,483.6 847.1,481.9 C842.2,480.2 836.3,478.3 830.8,476.4 C825.2,474.5 819.3,472.5 813.8,470.6 C808.3,468.6 803.1,466.7 797.7,464.7 C792.4,462.7 787.0,460.7 781.6,458.5 C776.3,456.4 770.9,454.1 765.6,451.8 C760.3,449.5 755.0,447.2 749.8,444.9 C744.5,442.6 739.4,440.4 734.0,438.1 C728.7,435.8 722.6,433.2 717.7,431.0 C712.8,428.9 709.1,427.3 704.4,425.4 C699.7,423.5 694.6,421.6 689.7,419.6 C684.8,417.6 679.7,415.7 675.0,413.5 C670.3,411.4 666.2,409.8 661.7,406.7 C657.1,403.6 651.8,399.3 647.7,395.1 C643.7,390.8 640.3,385.6 637.1,381.1 C634.0,376.6 630.3,370.3 628.9,368.1" fill="none" stroke="#5a9fd8" stroke-width="2.1" opacity="0.95" stroke-linecap="round" clip-path="url(#cOuter)"/>
<path d="M340.0,285.0 C341.6,286.9 346.1,292.5 349.6,296.7 C353.2,300.8 357.8,305.7 361.2,309.8 C364.7,313.8 367.3,316.9 370.4,321.0 C373.4,325.0 376.3,329.6 379.3,334.0 C382.3,338.4 385.4,343.0 388.4,347.4 C391.4,351.8 394.3,356.2 397.5,360.5 C400.8,364.8 404.2,369.2 407.7,373.3 C411.2,377.4 415.0,381.3 418.5,385.1 C422.0,388.8 425.1,391.7 428.6,395.7 C432.2,399.6 436.2,404.7 439.6,408.9 C443.0,413.1 445.6,416.5 449.0,420.8 C452.5,425.1 456.8,430.5 460.1,434.9 C463.3,439.2 465.7,442.8 468.5,446.8 C471.4,450.7 474.2,454.9 477.1,458.7 C480.0,462.6 482.8,466.3 485.9,470.0 C488.9,473.7 492.0,477.4 495.4,481.1 C498.7,484.7 502.3,488.4 505.8,491.8 C509.4,495.3 513.1,498.7 516.7,502.0 C520.3,505.2 523.4,507.8 527.5,511.3 C531.5,514.9 536.7,519.4 541.2,523.3 C545.8,527.3 550.3,531.2 554.8,535.1 C559.2,538.9 563.6,542.9 568.1,546.3 C572.5,549.8 576.9,553.0 581.5,555.9 C586.1,558.8 590.7,561.1 595.7,563.5 C600.7,565.9 606.0,568.0 611.5,570.1 C616.9,572.2 622.8,574.2 628.6,576.3 C634.4,578.4 641.2,580.7 646.3,582.7 C651.5,584.6 655.2,585.9 659.5,587.9 C663.9,589.9 668.1,592.1 672.4,594.5 C676.7,596.8 681.0,599.6 685.3,602.0 C689.6,604.5 693.3,607.0 698.4,609.3 C703.5,611.7 710.2,614.4 716.0,616.2 C721.8,617.9 727.6,619.0 733.3,619.9 C739.0,620.7 744.6,620.9 750.3,621.2 C756.0,621.5 761.7,621.5 767.6,621.7 C773.4,621.9 779.5,622.1 785.4,622.4 C791.4,622.8 797.4,623.3 803.2,623.7 C809.0,624.2 814.6,624.7 820.3,625.0 C825.9,625.2 831.6,625.3 837.1,625.1 C842.6,624.9 848.2,624.5 853.2,623.8 C858.3,623.0 862.7,622.2 867.6,620.6 C872.5,619.0 878.1,616.7 882.7,614.2 C887.2,611.8 891.0,609.1 895.0,606.0 C899.1,602.9 903.3,599.1 906.9,595.6 C910.4,592.0 913.2,588.5 916.3,584.8 C919.3,581.0 922.4,577.6 925.3,573.2 C928.1,568.8 931.9,563.8 933.3,558.4 C934.8,552.9 934.9,546.2 934.0,540.6 C933.1,535.0 930.6,529.5 928.0,524.9 C925.3,520.3 920.4,515.3 918.0,512.9 C915.6,510.4 914.3,510.5 913.6,510.0" fill="none" stroke="#86bde8" stroke-width="1.8" opacity="0.95" stroke-linecap="round" clip-path="url(#cOuter)"/>
<path d="M340.0,285.0 C341.4,287.1 345.5,293.1 348.6,297.6 C351.7,302.1 355.7,307.6 358.7,312.1 C361.6,316.6 363.7,320.2 366.2,324.7 C368.7,329.2 371.0,334.4 373.8,338.9 C376.6,343.5 379.9,347.7 383.0,352.0 C386.0,356.3 388.9,360.6 392.1,365.0 C395.2,369.3 398.5,373.7 401.8,377.9 C405.0,382.1 408.5,386.3 411.7,390.1 C414.9,394.0 417.7,396.9 421.1,400.9 C424.5,404.9 428.5,410.0 432.1,414.2 C435.8,418.3 439.0,421.7 442.9,425.8 C446.8,429.9 451.9,434.9 455.7,438.8 C459.5,442.7 462.6,445.7 465.8,449.3 C469.0,452.9 472.2,456.7 475.2,460.5 C478.1,464.3 480.8,468.1 483.4,472.1 C486.0,476.1 488.4,480.3 491.0,484.5 C493.5,488.7 496.1,493.1 498.9,497.3 C501.8,501.5 504.8,505.8 508.1,509.7 C511.4,513.6 514.5,516.9 518.8,520.7 C523.2,524.5 528.9,528.8 534.1,532.4 C539.3,536.0 544.7,539.0 549.9,542.0 C555.1,545.0 560.4,547.8 565.5,550.4 C570.6,553.0 575.6,555.2 580.5,557.6 C585.5,560.0 590.2,562.1 595.2,564.6 C600.2,567.0 605.1,569.7 610.3,572.5 C615.4,575.3 620.7,578.5 626.1,581.5 C631.5,584.6 637.7,588.2 642.5,591.0 C647.3,593.8 650.7,596.0 654.9,598.4 C659.1,600.7 663.3,603.1 667.7,605.3 C672.1,607.5 676.7,609.6 681.4,611.5 C686.1,613.4 690.2,615.0 695.8,616.6 C701.3,618.3 708.4,620.2 714.5,621.4 C720.6,622.6 726.6,623.3 732.4,624.0 C738.3,624.7 743.9,625.0 749.6,625.5 C755.4,625.9 761.0,626.3 766.9,626.9 C772.7,627.5 778.8,628.3 784.8,629.0 C790.8,629.7 797.0,630.5 803.0,631.1 C809.0,631.7 814.8,632.3 820.7,632.4 C826.6,632.6 832.5,632.5 838.2,632.1 C843.8,631.8 849.4,631.1 854.6,630.2 C859.9,629.3 864.4,628.4 869.5,626.9 C874.6,625.3 880.5,623.2 885.4,620.8 C890.3,618.5 894.6,615.9 899.0,612.7 C903.5,609.6 908.2,605.6 912.0,601.7 C915.7,597.7 918.7,593.6 921.7,589.3 C924.7,585.0 927.4,580.8 929.8,575.7 C932.2,570.7 935.3,564.7 936.1,558.8 C937.0,553.0 936.2,546.1 935.1,540.5 C933.9,534.8 931.9,530.0 929.2,525.0 C926.6,520.0 923.0,514.8 919.3,510.5 C915.5,506.2 911.4,502.7 906.9,499.4 C902.5,496.1 897.3,493.3 892.5,490.5 C887.8,487.7 882.9,485.0 878.3,482.7 C873.6,480.5 869.3,478.8 864.7,477.1 C860.2,475.4 856.1,474.2 851.0,472.5 C845.9,470.9 840.0,469.1 834.4,467.3 C828.7,465.5 822.7,463.6 817.1,461.8 C811.5,460.0 806.2,458.3 800.7,456.4 C795.2,454.6 789.7,452.8 784.3,450.9 C778.9,448.9 773.5,446.9 768.1,444.8 C762.8,442.7 757.5,440.4 752.2,438.3 C746.9,436.1 741.8,434.0 736.5,431.7 C731.2,429.5 725.2,426.9 720.3,424.7 C715.4,422.6 711.8,421.0 707.2,419.0 C702.6,417.0 697.5,415.0 692.7,413.0 C688.0,410.9 683.0,408.9 678.5,406.8 C674.1,404.7 670.4,403.4 666.1,400.6 C661.9,397.8 657.0,394.0 653.1,390.1 C649.2,386.1 645.9,381.4 642.7,377.1 C639.6,372.9 635.6,366.7 634.1,364.6" fill="none" stroke="#5a9fd8" stroke-width="2.1" opacity="0.95" stroke-linecap="round" clip-path="url(#cOuter)"/>
<path d="M340.0,285.0 C341.1,287.4 344.3,294.2 346.7,299.3 C349.1,304.5 352.3,310.6 354.5,315.8 C356.6,321.0 357.9,325.4 359.8,330.4 C361.8,335.4 363.2,341.3 366.0,345.8 C368.8,350.3 373.0,353.6 376.5,357.5 C380.1,361.3 383.6,365.0 387.2,368.9 C390.8,372.8 394.6,376.8 398.2,380.7 C401.8,384.6 405.5,388.6 408.7,392.4 C411.9,396.2 414.4,399.3 417.4,403.5 C420.5,407.8 423.8,413.2 426.9,417.9 C430.0,422.5 432.6,426.7 436.0,431.5 C439.4,436.2 443.9,441.9 447.4,446.3 C450.8,450.7 453.5,454.1 456.5,457.9 C459.6,461.6 462.8,465.3 465.9,468.8 C469.0,472.3 471.9,475.5 475.0,479.0 C478.1,482.4 481.2,485.9 484.5,489.5 C487.8,493.1 491.2,496.9 494.7,500.7 C498.2,504.4 501.8,508.3 505.5,512.0 C509.2,515.7 512.5,518.9 516.9,522.8 C521.2,526.8 526.7,531.5 531.6,535.6 C536.4,539.7 541.3,543.6 546.1,547.4 C551.0,551.2 555.7,555.0 560.5,558.5 C565.2,561.9 569.9,565.2 574.7,568.1 C579.5,571.1 584.2,573.7 589.2,576.3 C594.2,579.0 599.8,581.7 604.9,583.9 C609.9,586.2 614.5,588.0 619.5,589.9 C624.4,591.9 629.4,593.6 634.5,595.5 C639.6,597.5 647.2,600.4 650.2,601.5 C653.3,602.6 652.4,602.0 652.8,602.1" fill="none" stroke="#6a96d6" stroke-width="1.8" opacity="0.95" stroke-linecap="round" clip-path="url(#cOuter)"/>
<path d="M340.0,290.0 C342.0,296.7 346.7,318.0 352.0,330.0 C357.3,342.0 364.8,350.3 372.0,362.0 C379.2,373.7 387.0,387.0 395.0,400.0 C403.0,413.0 414.5,428.3 420.0,440.0 C425.5,451.7 426.7,465.0 428.0,470.0" fill="none" stroke="#7f8fd6" stroke-width="1.3"/>
<path d="M345.0,282.0 C350.8,285.0 369.2,292.0 380.0,300.0 C390.8,308.0 401.7,320.0 410.0,330.0 C418.3,340.0 425.0,349.2 430.0,360.0 C435.0,370.8 438.3,389.2 440.0,395.0" fill="none" stroke="#4f9fd6" stroke-width="1.3"/>
<path d="M342.0,286.0 C345.8,291.3 356.7,307.0 365.0,318.0 C373.3,329.0 384.5,339.7 392.0,352.0 C399.5,364.3 407.0,385.3 410.0,392.0" fill="none" stroke="#c07fc0" stroke-width="1.2"/>
<path d="M343.0,284.0 C347.8,288.7 362.2,301.8 372.0,312.0 C381.8,322.2 393.2,334.0 402.0,345.0 C410.8,356.0 421.2,372.5 425.0,378.0" fill="none" stroke="#e8904a" stroke-width="1.2"/>
<circle cx="543.1" cy="516.4" r="1.8" fill="#fdfbee" opacity="0.9"/>
<circle cx="342.2" cy="294.6" r="0.9" fill="#fdfbee" opacity="0.9"/>
<circle cx="601.8" cy="549.3" r="1.2" fill="#fdfbee" opacity="0.9"/>
<circle cx="704.6" cy="609.2" r="1.0" fill="#fdfbee" opacity="0.9"/>
<circle cx="426.3" cy="396.7" r="1.8" fill="#fdfbee" opacity="0.9"/>
<circle cx="628.2" cy="567.4" r="1.6" fill="#fdfbee" opacity="0.9"/>
<circle cx="373.4" cy="330.0" r="1.6" fill="#fdfbee" opacity="0.9"/>
<circle cx="514.0" cy="498.7" r="1.0" fill="#fdfbee" opacity="0.9"/>
<circle cx="454.0" cy="412.4" r="1.8" fill="#fdfbee" opacity="0.9"/>
<circle cx="822.4" cy="617.9" r="1.3" fill="#fdfbee" opacity="0.9"/>
<circle cx="346.5" cy="301.2" r="0.9" fill="#fdfbee" opacity="0.9"/>
<circle cx="621.0" cy="573.0" r="1.8" fill="#fdfbee" opacity="0.9"/>
<circle cx="411.4" cy="371.5" r="1.4" fill="#fdfbee" opacity="0.9"/>
<circle cx="338.4" cy="291.5" r="1.8" fill="#fdfbee" opacity="0.9"/>
<circle cx="518.8" cy="504.3" r="0.9" fill="#fdfbee" opacity="0.9"/>
<circle cx="610.0" cy="567.9" r="1.9" fill="#fdfbee" opacity="0.9"/>
<circle cx="359.2" cy="307.4" r="1.0" fill="#fdfbee" opacity="0.9"/>
<circle cx="452.8" cy="420.4" r="0.9" fill="#fdfbee" opacity="0.9"/>
<circle cx="715.1" cy="601.0" r="1.5" fill="#fdfbee" opacity="0.9"/>
<circle cx="352.0" cy="304.4" r="1.4" fill="#fdfbee" opacity="0.9"/>
<circle cx="748.4" cy="614.1" r="1.8" fill="#fdfbee" opacity="0.9"/>
<circle cx="618.0" cy="565.6" r="1.9" fill="#fdfbee" opacity="0.9"/>
<circle cx="603.4" cy="569.6" r="1.2" fill="#fdfbee" opacity="0.9"/>
<circle cx="522.8" cy="508.5" r="1.2" fill="#fdfbee" opacity="0.9"/>
<circle cx="373.9" cy="313.4" r="1.7" fill="#fdfbee" opacity="0.9"/>
<circle cx="353.6" cy="300.1" r="1.3" fill="#fdfbee" opacity="0.9"/>
<circle cx="705.4" cy="611.2" r="1.3" fill="#fdfbee" opacity="0.9"/>
<circle cx="439.2" cy="391.4" r="1.2" fill="#fdfbee" opacity="0.9"/>
<circle cx="815.4" cy="625.1" r="1.0" fill="#fdfbee" opacity="0.9"/>
<circle cx="801.5" cy="613.5" r="1.9" fill="#fdfbee" opacity="0.9"/>
<circle cx="415.6" cy="371.7" r="1.5" fill="#fdfbee" opacity="0.9"/>
<circle cx="336.1" cy="284.2" r="1.2" fill="#fdfbee" opacity="0.9"/>
<circle cx="646.5" cy="573.8" r="1.0" fill="#fdfbee" opacity="0.9"/>
<circle cx="597.8" cy="552.6" r="1.4" fill="#fdfbee" opacity="0.9"/>
<circle cx="692.1" cy="602.0" r="1.6" fill="#fdfbee" opacity="0.9"/>
<circle cx="746.4" cy="622.4" r="1.0" fill="#fdfbee" opacity="0.9"/>
<circle cx="719.3" cy="615.4" r="1.3" fill="#fdfbee" opacity="0.9"/>
<circle cx="367.9" cy="326.1" r="1.0" fill="#fdfbee" opacity="0.9"/>
<circle cx="643.3" cy="587.5" r="1.0" fill="#fdfbee" opacity="0.9"/>
<circle cx="338.5" cy="289.1" r="1.4" fill="#fdfbee" opacity="0.9"/>
<circle cx="498.2" cy="481.4" r="1.8" fill="#fdfbee" opacity="0.9"/>
<circle cx="596.4" cy="542.9" r="1.9" fill="#fdfbee" opacity="0.9"/>
<circle cx="837.5" cy="619.5" r="1.4" fill="#fdfbee" opacity="0.9"/>
<circle cx="842.2" cy="619.5" r="1.4" fill="#fdfbee" opacity="0.9"/>
<circle cx="461.8" cy="432.6" r="0.9" fill="#fdfbee" opacity="0.9"/>
<circle cx="701.7" cy="603.8" r="1.5" fill="#fdfbee" opacity="0.9"/>
<circle cx="359.6" cy="302.7" r="1.8" fill="#fdfbee" opacity="0.9"/>
<circle cx="436.7" cy="397.4" r="1.5" fill="#fdfbee" opacity="0.9"/>
<circle cx="819.8" cy="622.2" r="1.5" fill="#fdfbee" opacity="0.9"/>
<circle cx="684.7" cy="589.7" r="1.0" fill="#fdfbee" opacity="0.9"/>
<path d="M672,596 C664,604 676,610 668,618" stroke="#5bb0c8" stroke-width="1.6" fill="none"/>
<circle cx="674" cy="597" r="2.5" fill="#fdf6d0"/>
<path d="M222,295 L273,291.5 M225,306.5 L288,307.5" stroke="#555560" stroke-width="1" fill="none"/>
<path d="M322,477 L371,432" stroke="#555560" stroke-width="1" fill="none"/>
<path d="M380,585 L493,505" stroke="#555560" stroke-width="1" fill="none"/>
<path d="M646,280 L504,292.5" stroke="#555560" stroke-width="1" fill="none"/>
<path d="M732,314 C738,320 760,332 789,346" stroke="#555560" stroke-width="1" fill="none"/>
<path d="M866,382 L866,552" stroke="#555560" stroke-width="1" fill="none"/>
<path d="M882,735 L907,640 L910,592" stroke="#555560" stroke-width="1" fill="none"/>
<circle cx="192" cy="243" r="14" fill="#e9e6ef"/>
<path d="M87.0,300.0 C87.0,290.0 89.5,279.7 95.0,272.0 C100.5,264.3 110.0,257.8 120.0,254.0 C130.0,250.2 143.3,248.7 155.0,249.0 C166.7,249.3 180.0,251.7 190.0,256.0 C200.0,260.3 209.3,267.3 215.0,275.0 C220.7,282.7 224.0,292.0 224.0,302.0 C224.0,312.0 220.7,326.2 215.0,335.0 C209.3,343.8 200.0,350.5 190.0,355.0 C180.0,359.5 167.0,362.2 155.0,362.0 C143.0,361.8 128.0,359.0 118.0,354.0 C108.0,349.0 100.2,341.0 95.0,332.0 C89.8,323.0 87.0,310.0 87.0,300.0Z" fill="#e6e2ee"/>
<text x="156" y="299" font-size="28" text-anchor="middle" textLength="63" lengthAdjust="spacingAndGlyphs" stroke="#e6e2ee" stroke-width="0.36">Male</text>
<text x="156" y="330" font-size="24" text-anchor="middle" textLength="107" lengthAdjust="spacingAndGlyphs" stroke="#e6e2ee" stroke-width="0.36">Epiostcas</text>
<path d="M72.0,470.0 C70.3,456.7 73.7,440.8 80.0,430.0 C86.3,419.2 98.3,410.3 110.0,405.0 C121.7,399.7 135.0,398.0 150.0,398.0 C165.0,398.0 185.0,400.5 200.0,405.0 C215.0,409.5 229.7,416.7 240.0,425.0 C250.3,433.3 257.5,444.2 262.0,455.0 C266.5,465.8 269.0,480.0 267.0,490.0 C265.0,500.0 258.7,508.3 250.0,515.0 C241.3,521.7 228.3,526.5 215.0,530.0 C201.7,533.5 185.0,536.0 170.0,536.0 C155.0,536.0 138.3,534.3 125.0,530.0 C111.7,525.7 98.8,520.0 90.0,510.0 C81.2,500.0 73.7,483.3 72.0,470.0Z" fill="#ddecc9"/>
<rect x="175.0" y="576.0" width="217.5" height="66.5" rx="30.0" fill="#cfe7e8"/>
<text x="195" y="619" font-size="28" textLength="177.5" lengthAdjust="spacingAndGlyphs" stroke="#cfe7e8" stroke-width="0.36">Intestinal cells</text>
<rect x="646.0" y="246.5" width="154.5" height="67.5" rx="30.0" fill="#cfe7dc"/>
<text x="662" y="291" font-size="27" textLength="122.5" lengthAdjust="spacingAndGlyphs" stroke="#cfe7dc" stroke-width="0.36">Cpiostons</text>
<rect x="788.5" y="316.5" width="161.0" height="66.0" rx="30.0" fill="#f8e8c5"/>
<text x="804.5" y="359" font-size="27" textLength="127.5" lengthAdjust="spacingAndGlyphs" stroke="#f8e8c5" stroke-width="0.36">Germ cells</text>
<rect x="777.0" y="734.0" width="182.5" height="92.0" rx="44.0" fill="#e7dff0"/>
<text x="868" y="776" font-size="24" text-anchor="middle" textLength="140.5" lengthAdjust="spacingAndGlyphs" stroke="#e7dff0" stroke-width="0.36">Reproductive</text>
<text x="867" y="804" font-size="24" text-anchor="middle" textLength="55" lengthAdjust="spacingAndGlyphs" stroke="#e7dff0" stroke-width="0.36">canal</text>
<rect x="50" y="677.5" width="445" height="310" rx="31" fill="#fefdfb" stroke="#9090b4" stroke-width="1.4"/>
<text x="91.5" y="714" font-size="20.5" textLength="253.5" lengthAdjust="spacingAndGlyphs" stroke="#fefdfb" stroke-width="0.26">Single-cell transcriptomics</text>
<path d="M76.5,962.5 L76.5,760 M76.5,962.5 L280,962.5" stroke="#5a5a60" stroke-width="1.6" fill="none"/>
<path d="M76.5,751 L72,765 L81,765Z M289,962.5 L275,958 L275,967Z" fill="#5a5a60"/>
<ellipse cx="165" cy="468" rx="50" ry="32" fill="#d8f0e6" opacity="0.8" filter="url(#b8)"/>
<ellipse cx="159.6" cy="472.2" rx="1.9" ry="1.9" fill="#1a7592" opacity="0.66"/>
<ellipse cx="161.8" cy="465.9" rx="1.3" ry="1.2" fill="#48b498" opacity="0.86"/>
<ellipse cx="115.5" cy="466.4" rx="1.9" ry="2.0" fill="#1f8498" opacity="0.82"/>
<ellipse cx="192.9" cy="478.9" rx="2.2" ry="1.7" fill="#2f6cae" opacity="0.75"/>
<ellipse cx="161.5" cy="457.9" rx="1.7" ry="1.4" fill="#1f8498" opacity="0.63"/>
<ellipse cx="170.7" cy="481.8" rx="2.2" ry="1.9" fill="#58bea4" opacity="0.92"/>
<ellipse cx="194.3" cy="459.9" rx="1.4" ry="1.5" fill="#38a4b8" opacity="0.69"/>
<ellipse cx="223.6" cy="489.9" rx="2.6" ry="2.3" fill="#2f6cae" opacity="0.65"/>
<ellipse cx="122.9" cy="439.7" rx="1.9" ry="1.5" fill="#1a7592" opacity="0.95"/>
<ellipse cx="211.4" cy="453.0" rx="2.0" ry="2.2" fill="#2492a4" opacity="0.82"/>
<ellipse cx="213.5" cy="437.4" rx="2.0" ry="1.5" fill="#58bea4" opacity="0.87"/>
<ellipse cx="158.8" cy="427.9" rx="1.9" ry="1.8" fill="#38a4b8" opacity="0.61"/>
<ellipse cx="106.6" cy="482.2" rx="2.2" ry="2.4" fill="#48b498" opacity="0.74"/>
<ellipse cx="139.3" cy="440.6" rx="1.8" ry="1.8" fill="#48b498" opacity="0.65"/>
<ellipse cx="99.9" cy="474.9" rx="1.6" ry="1.4" fill="#38a4b8" opacity="0.83"/>
<ellipse cx="184.2" cy="449.6" rx="2.3" ry="1.9" fill="#58bea4" opacity="0.93"/>
<ellipse cx="219.9" cy="434.9" rx="1.9" ry="1.7" fill="#1f8498" opacity="0.87"/>
<ellipse cx="230.6" cy="477.4" rx="1.4" ry="1.1" fill="#2f9aac" opacity="0.90"/>
<ellipse cx="201.3" cy="435.8" rx="1.6" ry="1.2" fill="#48b498" opacity="0.61"/>
<ellipse cx="183.4" cy="440.2" rx="1.7" ry="1.4" fill="#2492a4" opacity="0.81"/>
<ellipse cx="122.7" cy="472.1" rx="1.8" ry="1.5" fill="#2f6cae" opacity="0.79"/>
<ellipse cx="129.4" cy="458.5" rx="2.5" ry="2.3" fill="#3aa888" opacity="0.79"/>
<ellipse cx="114.1" cy="449.3" rx="2.0" ry="1.6" fill="#1f8498" opacity="0.96"/>
<ellipse cx="199.1" cy="475.1" rx="1.3" ry="1.1" fill="#1a7592" opacity="0.67"/>
<ellipse cx="164.6" cy="492.7" rx="2.3" ry="2.2" fill="#1f8498" opacity="0.85"/>
<ellipse cx="175.1" cy="493.4" rx="2.6" ry="2.8" fill="#38a4b8" opacity="0.66"/>
<ellipse cx="206.6" cy="489.4" rx="2.5" ry="2.7" fill="#48b498" opacity="0.86"/>
<ellipse cx="153.8" cy="499.9" rx="1.6" ry="1.5" fill="#2f6cae" opacity="0.80"/>
<ellipse cx="179.5" cy="480.0" rx="1.8" ry="1.7" fill="#2f6cae" opacity="0.96"/>
<ellipse cx="206.3" cy="474.7" rx="1.5" ry="1.3" fill="#2492a4" opacity="0.71"/>
<ellipse cx="184.2" cy="462.7" rx="2.5" ry="2.4" fill="#2f6cae" opacity="0.88"/>
<ellipse cx="200.2" cy="464.7" rx="1.6" ry="1.3" fill="#48b498" opacity="0.61"/>
<ellipse cx="196.9" cy="429.3" rx="1.3" ry="1.0" fill="#38a4b8" opacity="0.95"/>
<ellipse cx="117.8" cy="456.7" rx="1.8" ry="1.5" fill="#58bea4" opacity="0.79"/>
<ellipse cx="148.4" cy="475.0" rx="1.4" ry="1.3" fill="#48b498" opacity="0.90"/>
<ellipse cx="130.4" cy="430.7" rx="1.8" ry="1.8" fill="#58bea4" opacity="0.92"/>
<ellipse cx="159.7" cy="414.0" rx="2.1" ry="1.8" fill="#1a7592" opacity="0.86"/>
<ellipse cx="107.4" cy="459.6" rx="1.8" ry="1.5" fill="#3aa888" opacity="0.96"/>
<ellipse cx="202.8" cy="426.5" rx="2.3" ry="2.5" fill="#58bea4" opacity="0.81"/>
<ellipse cx="142.0" cy="488.7" rx="2.3" ry="2.1" fill="#2f9aac" opacity="0.88"/>
<ellipse cx="186.4" cy="495.7" rx="1.5" ry="1.3" fill="#38a4b8" opacity="0.80"/>
<ellipse cx="190.9" cy="491.1" rx="2.1" ry="1.7" fill="#58bea4" opacity="0.83"/>
<ellipse cx="226.2" cy="446.8" rx="1.4" ry="1.2" fill="#2f9aac" opacity="0.87"/>
<ellipse cx="166.3" cy="518.9" rx="1.5" ry="1.2" fill="#48b498" opacity="0.72"/>
<ellipse cx="205.3" cy="481.7" rx="1.5" ry="1.5" fill="#58bea4" opacity="0.75"/>
<ellipse cx="224.2" cy="472.2" rx="1.3" ry="1.2" fill="#2f6cae" opacity="0.79"/>
<ellipse cx="171.5" cy="473.8" rx="1.4" ry="1.3" fill="#2f6cae" opacity="0.70"/>
<ellipse cx="173.4" cy="465.4" rx="1.7" ry="1.9" fill="#2492a4" opacity="0.99"/>
<ellipse cx="170.1" cy="453.1" rx="1.8" ry="1.9" fill="#58bea4" opacity="0.72"/>
<ellipse cx="163.6" cy="443.1" rx="2.0" ry="1.6" fill="#1a7592" opacity="0.66"/>
<ellipse cx="187.0" cy="516.0" rx="1.9" ry="1.8" fill="#1f8498" opacity="0.78"/>
<ellipse cx="138.1" cy="447.6" rx="2.3" ry="1.8" fill="#1f8498" opacity="0.76"/>
<ellipse cx="169.2" cy="435.1" rx="2.2" ry="2.3" fill="#38a4b8" opacity="0.87"/>
<ellipse cx="153.2" cy="468.5" rx="2.2" ry="2.4" fill="#38a4b8" opacity="0.83"/>
<ellipse cx="118.7" cy="480.8" rx="1.7" ry="1.7" fill="#2492a4" opacity="0.73"/>
<ellipse cx="172.4" cy="507.2" rx="1.9" ry="1.7" fill="#48b498" opacity="0.67"/>
<ellipse cx="124.5" cy="492.2" rx="1.9" ry="2.0" fill="#3aa888" opacity="0.70"/>
<ellipse cx="151.5" cy="487.2" rx="1.4" ry="1.4" fill="#48b498" opacity="0.76"/>
<ellipse cx="200.7" cy="506.3" rx="2.1" ry="1.8" fill="#1a7592" opacity="0.66"/>
<ellipse cx="199.6" cy="497.1" rx="1.6" ry="1.2" fill="#58bea4" opacity="0.76"/>
<ellipse cx="141.4" cy="461.3" rx="2.1" ry="1.8" fill="#58bea4" opacity="0.91"/>
<ellipse cx="143.7" cy="481.6" rx="1.9" ry="2.1" fill="#3aa888" opacity="0.67"/>
<ellipse cx="194.9" cy="445.5" rx="1.6" ry="1.3" fill="#48b498" opacity="0.81"/>
<ellipse cx="179.0" cy="469.0" rx="1.4" ry="1.4" fill="#1a7592" opacity="0.99"/>
<ellipse cx="190.3" cy="502.1" rx="2.5" ry="2.5" fill="#48b498" opacity="0.93"/>
<ellipse cx="155.9" cy="462.3" rx="1.6" ry="1.7" fill="#2492a4" opacity="0.82"/>
<ellipse cx="219.8" cy="477.4" rx="1.4" ry="1.4" fill="#1f8498" opacity="0.67"/>
<ellipse cx="158.1" cy="485.1" rx="2.2" ry="1.9" fill="#1f8498" opacity="0.99"/>
<ellipse cx="213.4" cy="468.7" rx="2.3" ry="2.2" fill="#2492a4" opacity="0.84"/>
<ellipse cx="119.8" cy="446.2" rx="1.4" ry="1.4" fill="#38a4b8" opacity="0.68"/>
<ellipse cx="155.0" cy="436.0" rx="1.4" ry="1.1" fill="#3aa888" opacity="0.92"/>
<ellipse cx="138.7" cy="470.8" rx="2.0" ry="1.9" fill="#2f6cae" opacity="0.74"/>
<ellipse cx="134.3" cy="498.1" rx="2.4" ry="2.5" fill="#38a4b8" opacity="0.61"/>
<ellipse cx="204.8" cy="449.0" rx="2.4" ry="1.8" fill="#3aa888" opacity="0.80"/>
<ellipse cx="145.3" cy="448.6" rx="2.4" ry="2.4" fill="#58bea4" opacity="0.82"/>
<ellipse cx="149.0" cy="428.4" rx="2.6" ry="2.2" fill="#2f9aac" opacity="0.94"/>
<ellipse cx="177.9" cy="426.2" rx="1.5" ry="1.1" fill="#2f9aac" opacity="0.77"/>
<ellipse cx="230.3" cy="438.8" rx="2.3" ry="2.4" fill="#1f8498" opacity="0.61"/>
<ellipse cx="192.1" cy="434.5" rx="2.2" ry="2.1" fill="#2492a4" opacity="0.84"/>
<ellipse cx="190.6" cy="467.9" rx="2.1" ry="2.1" fill="#1f8498" opacity="0.78"/>
<ellipse cx="217.4" cy="455.6" rx="1.7" ry="1.7" fill="#1a7592" opacity="0.92"/>
<ellipse cx="115.5" cy="438.7" rx="1.8" ry="1.8" fill="#1a7592" opacity="0.98"/>
<ellipse cx="219.8" cy="462.5" rx="2.6" ry="2.6" fill="#1a7592" opacity="0.66"/>
<ellipse cx="163.0" cy="449.6" rx="1.5" ry="1.3" fill="#3aa888" opacity="0.87"/>
<ellipse cx="110.9" cy="443.6" rx="1.3" ry="1.1" fill="#2f6cae" opacity="0.77"/>
<ellipse cx="181.8" cy="507.9" rx="1.7" ry="1.6" fill="#1a7592" opacity="0.74"/>
<ellipse cx="221.9" cy="483.5" rx="1.8" ry="1.9" fill="#2f6cae" opacity="0.74"/>
<ellipse cx="178.1" cy="460.0" rx="2.5" ry="2.4" fill="#1a7592" opacity="0.63"/>
<ellipse cx="139.7" cy="454.5" rx="1.7" ry="1.5" fill="#3aa888" opacity="0.94"/>
<ellipse cx="215.3" cy="484.2" rx="2.2" ry="2.0" fill="#48b498" opacity="0.70"/>
<ellipse cx="147.3" cy="466.1" rx="1.8" ry="1.4" fill="#2f6cae" opacity="0.67"/>
<ellipse cx="175.5" cy="447.3" rx="2.0" ry="1.9" fill="#48b498" opacity="0.75"/>
<ellipse cx="188.5" cy="428.7" rx="1.7" ry="1.5" fill="#1a7592" opacity="0.98"/>
<ellipse cx="209.0" cy="463.3" rx="2.1" ry="1.6" fill="#58bea4" opacity="0.96"/>
<ellipse cx="156.3" cy="513.5" rx="2.5" ry="2.4" fill="#1a7592" opacity="0.94"/>
<ellipse cx="178.5" cy="513.4" rx="1.5" ry="1.3" fill="#58bea4" opacity="0.62"/>
<ellipse cx="173.7" cy="519.1" rx="1.7" ry="1.6" fill="#38a4b8" opacity="0.64"/>
<ellipse cx="135.8" cy="464.8" rx="1.6" ry="1.7" fill="#2f9aac" opacity="0.87"/>
<ellipse cx="204.8" cy="442.6" rx="1.5" ry="1.4" fill="#48b498" opacity="0.63"/>
<ellipse cx="135.7" cy="490.3" rx="2.2" ry="1.8" fill="#48b498" opacity="0.86"/>
<ellipse cx="130.7" cy="481.8" rx="2.1" ry="2.0" fill="#2f6cae" opacity="0.90"/>
<ellipse cx="131.1" cy="470.8" rx="1.7" ry="1.4" fill="#2f6cae" opacity="0.76"/>
<ellipse cx="113.7" cy="498.6" rx="1.9" ry="1.7" fill="#1f8498" opacity="0.70"/>
<ellipse cx="123.9" cy="463.7" rx="2.0" ry="2.0" fill="#38a4b8" opacity="0.86"/>
<ellipse cx="128.4" cy="500.8" rx="2.2" ry="2.3" fill="#1a7592" opacity="0.74"/>
<ellipse cx="136.9" cy="479.5" rx="1.7" ry="1.3" fill="#48b498" opacity="0.76"/>
<ellipse cx="152.8" cy="448.7" rx="2.6" ry="2.7" fill="#3aa888" opacity="0.88"/>
<ellipse cx="149.8" cy="440.8" rx="2.0" ry="1.9" fill="#3aa888" opacity="0.70"/>
<ellipse cx="176.1" cy="434.0" rx="1.8" ry="1.4" fill="#2492a4" opacity="0.78"/>
<ellipse cx="149.8" cy="506.2" rx="2.0" ry="1.7" fill="#1f8498" opacity="0.65"/>
<ellipse cx="144.4" cy="496.9" rx="2.4" ry="2.1" fill="#2f6cae" opacity="0.72"/>
<ellipse cx="109.9" cy="476.4" rx="1.4" ry="1.2" fill="#1f8498" opacity="0.75"/>
<ellipse cx="178.4" cy="502.1" rx="2.0" ry="1.7" fill="#38a4b8" opacity="0.93"/>
<ellipse cx="181.1" cy="489.2" rx="2.3" ry="1.8" fill="#1f8498" opacity="0.91"/>
<ellipse cx="162.4" cy="478.8" rx="2.0" ry="2.1" fill="#48b498" opacity="0.61"/>
<ellipse cx="148.0" cy="514.2" rx="2.0" ry="1.8" fill="#2f6cae" opacity="0.85"/>
<ellipse cx="138.6" cy="426.3" rx="1.5" ry="1.6" fill="#2492a4" opacity="0.77"/>
<ellipse cx="168.7" cy="500.6" rx="1.3" ry="1.2" fill="#1a7592" opacity="0.94"/>
<ellipse cx="202.7" cy="419.2" rx="1.4" ry="1.3" fill="#38a4b8" opacity="0.78"/>
<ellipse cx="131.8" cy="452.0" rx="2.3" ry="2.5" fill="#38a4b8" opacity="0.76"/>
<ellipse cx="145.4" cy="436.2" rx="1.3" ry="1.2" fill="#58bea4" opacity="0.96"/>
<ellipse cx="158.1" cy="505.0" rx="1.3" ry="1.4" fill="#38a4b8" opacity="0.87"/>
<ellipse cx="184.1" cy="473.7" rx="1.7" ry="1.4" fill="#48b498" opacity="0.76"/>
<ellipse cx="189.2" cy="456.0" rx="2.3" ry="2.4" fill="#38a4b8" opacity="0.63"/>
<ellipse cx="150.1" cy="494.0" rx="2.2" ry="1.7" fill="#48b498" opacity="0.86"/>
<ellipse cx="135.6" cy="506.7" rx="1.8" ry="1.5" fill="#2f9aac" opacity="0.86"/>
<ellipse cx="211.2" cy="501.7" rx="2.4" ry="1.9" fill="#3aa888" opacity="0.63"/>
<ellipse cx="130.0" cy="439.2" rx="1.5" ry="1.5" fill="#38a4b8" opacity="0.81"/>
<ellipse cx="97.7" cy="468.2" rx="1.5" ry="1.6" fill="#1a7592" opacity="0.99"/>
<ellipse cx="117.6" cy="489.6" rx="1.6" ry="1.4" fill="#3aa888" opacity="0.71"/>
<ellipse cx="214.1" cy="445.6" rx="2.0" ry="2.0" fill="#3aa888" opacity="0.93"/>
<ellipse cx="237.5" cy="465.5" rx="2.3" ry="1.9" fill="#58bea4" opacity="0.68"/>
<ellipse cx="227.8" cy="466.1" rx="2.5" ry="2.7" fill="#1a7592" opacity="0.74"/>
<ellipse cx="163.1" cy="510.5" rx="1.4" ry="1.3" fill="#58bea4" opacity="0.74"/>
<ellipse cx="210.7" cy="494.6" rx="1.4" ry="1.2" fill="#38a4b8" opacity="0.85"/>
<ellipse cx="166.7" cy="425.0" rx="2.0" ry="1.5" fill="#38a4b8" opacity="0.73"/>
<ellipse cx="147.9" cy="415.4" rx="2.5" ry="1.9" fill="#1a7592" opacity="0.70"/>
<ellipse cx="201.6" cy="514.0" rx="2.0" ry="2.1" fill="#1f8498" opacity="0.95"/>
<ellipse cx="154.9" cy="477.2" rx="1.4" ry="1.5" fill="#3aa888" opacity="0.90"/>
<ellipse cx="100.3" cy="454.3" rx="2.6" ry="2.8" fill="#1a7592" opacity="1.00"/>
<ellipse cx="196.5" cy="484.8" rx="2.3" ry="2.1" fill="#1a7592" opacity="0.73"/>
<ellipse cx="186.4" cy="481.6" rx="1.4" ry="1.5" fill="#1a7592" opacity="0.86"/>
<ellipse cx="233.0" cy="452.6" rx="1.9" ry="1.6" fill="#1f8498" opacity="0.85"/>
<ellipse cx="181.0" cy="414.1" rx="2.4" ry="2.3" fill="#2f6cae" opacity="0.96"/>
<ellipse cx="123.5" cy="431.5" rx="2.5" ry="2.3" fill="#2f6cae" opacity="0.81"/>
<ellipse cx="125.3" cy="452.2" rx="1.8" ry="1.6" fill="#1f8498" opacity="0.94"/>
<ellipse cx="95.8" cy="460.4" rx="2.2" ry="2.1" fill="#3aa888" opacity="0.81"/>
<ellipse cx="225.8" cy="459.9" rx="2.2" ry="2.4" fill="#2f9aac" opacity="0.68"/>
<ellipse cx="136.2" cy="418.6" rx="1.8" ry="1.5" fill="#2f9aac" opacity="0.73"/>
<ellipse cx="157.0" cy="494.0" rx="2.6" ry="2.6" fill="#38a4b8" opacity="0.64"/>
<ellipse cx="201.1" cy="456.3" rx="2.2" ry="2.3" fill="#3aa888" opacity="0.99"/>
<ellipse cx="99.0" cy="482.4" rx="2.5" ry="2.4" fill="#3aa888" opacity="0.63"/>
<ellipse cx="106.2" cy="465.9" rx="2.2" ry="2.2" fill="#3aa888" opacity="0.62"/>
<ellipse cx="188.9" cy="419.2" rx="1.9" ry="2.0" fill="#3aa888" opacity="0.66"/>
<ellipse cx="112.8" cy="485.0" rx="1.4" ry="1.5" fill="#38a4b8" opacity="0.82"/>
<ellipse cx="92.8" cy="453.1" rx="1.5" ry="1.6" fill="#2f6cae" opacity="0.92"/>
<ellipse cx="105.9" cy="449.7" rx="2.6" ry="2.7" fill="#38a4b8" opacity="0.82"/>
<ellipse cx="102.5" cy="488.7" rx="1.6" ry="1.7" fill="#48b498" opacity="0.70"/>
<ellipse cx="213.3" cy="477.5" rx="1.8" ry="1.7" fill="#38a4b8" opacity="0.95"/>
<ellipse cx="106.6" cy="495.6" rx="2.2" ry="2.0" fill="#2492a4" opacity="0.78"/>
<ellipse cx="222.9" cy="496.5" rx="2.0" ry="2.1" fill="#58bea4" opacity="0.91"/>
<ellipse cx="124.5" cy="485.0" rx="2.0" ry="2.0" fill="#2492a4" opacity="0.60"/>
<ellipse cx="154.1" cy="418.0" rx="2.3" ry="1.8" fill="#48b498" opacity="0.82"/>
<ellipse cx="155.2" cy="454.8" rx="1.4" ry="1.4" fill="#38a4b8" opacity="0.93"/>
<ellipse cx="219.0" cy="427.7" rx="2.0" ry="2.0" fill="#2f9aac" opacity="0.92"/>
<ellipse cx="115.8" cy="473.2" rx="2.5" ry="1.9" fill="#1a7592" opacity="0.99"/>
<ellipse cx="240.6" cy="471.3" rx="1.3" ry="1.0" fill="#2492a4" opacity="0.71"/>
<ellipse cx="167.7" cy="461.5" rx="2.5" ry="2.1" fill="#1a7592" opacity="0.65"/>
<ellipse cx="212.0" cy="509.1" rx="2.2" ry="1.7" fill="#2f9aac" opacity="0.95"/>
<ellipse cx="118.2" cy="506.2" rx="1.9" ry="2.0" fill="#58bea4" opacity="0.75"/>
<ellipse cx="229.8" cy="492.0" rx="1.7" ry="1.5" fill="#2f9aac" opacity="0.64"/>
<ellipse cx="234.0" cy="460.1" rx="1.7" ry="1.6" fill="#48b498" opacity="0.91"/>
<ellipse cx="189.0" cy="509.9" rx="1.9" ry="1.7" fill="#2f9aac" opacity="0.63"/>
<ellipse cx="140.7" cy="511.9" rx="1.3" ry="1.1" fill="#2f6cae" opacity="0.87"/>
<ellipse cx="230.7" cy="485.3" rx="2.4" ry="2.6" fill="#58bea4" opacity="0.95"/>
<ellipse cx="166.9" cy="417.6" rx="2.3" ry="2.0" fill="#2f9aac" opacity="0.64"/>
<ellipse cx="195.3" cy="453.7" rx="2.5" ry="2.0" fill="#2f6cae" opacity="0.67"/>
<ellipse cx="208.2" cy="431.9" rx="2.6" ry="2.7" fill="#2f6cae" opacity="0.72"/>
<ellipse cx="141.3" cy="503.7" rx="1.7" ry="1.7" fill="#2492a4" opacity="0.60"/>
<ellipse cx="139.6" cy="432.8" rx="1.6" ry="1.4" fill="#38a4b8" opacity="0.73"/>
<ellipse cx="125.2" cy="478.0" rx="2.2" ry="1.8" fill="#3aa888" opacity="0.92"/>
<ellipse cx="182.7" cy="432.5" rx="1.8" ry="1.4" fill="#1a7592" opacity="1.00"/>
<ellipse cx="147.0" cy="458.0" rx="1.3" ry="1.2" fill="#1a7592" opacity="0.63"/>
<circle cx="162.7" cy="494.8" r="1.3" fill="#e8f6f0" opacity="0.6"/>
<circle cx="141.9" cy="444.6" r="1.5" fill="#a8dcd0" opacity="0.6"/>
<circle cx="163.2" cy="454.9" r="1.2" fill="#e8f6f0" opacity="0.6"/>
<circle cx="164.7" cy="461.2" r="0.9" fill="#a8dcd0" opacity="0.6"/>
<circle cx="160.4" cy="464.5" r="1.0" fill="#e8f6f0" opacity="0.6"/>
<circle cx="202.6" cy="482.2" r="1.5" fill="#bfe6dc" opacity="0.6"/>
<circle cx="184.5" cy="441.3" r="1.6" fill="#bfe6dc" opacity="0.6"/>
<circle cx="150.4" cy="479.8" r="1.5" fill="#a8dcd0" opacity="0.6"/>
<circle cx="135.5" cy="458.4" r="1.1" fill="#bfe6dc" opacity="0.6"/>
<circle cx="139.5" cy="446.2" r="1.1" fill="#a8dcd0" opacity="0.6"/>
<circle cx="179.5" cy="435.2" r="1.4" fill="#a8dcd0" opacity="0.6"/>
<circle cx="127.7" cy="445.5" r="1.2" fill="#a8dcd0" opacity="0.6"/>
<circle cx="145.7" cy="471.9" r="1.0" fill="#a8dcd0" opacity="0.6"/>
<circle cx="146.5" cy="483.1" r="1.0" fill="#bfe6dc" opacity="0.6"/>
<circle cx="150.9" cy="474.4" r="1.2" fill="#e8f6f0" opacity="0.6"/>
<circle cx="122.7" cy="454.4" r="1.4" fill="#e8f6f0" opacity="0.6"/>
<circle cx="200.4" cy="479.0" r="1.6" fill="#bfe6dc" opacity="0.6"/>
<circle cx="196.9" cy="467.3" r="1.5" fill="#e8f6f0" opacity="0.6"/>
<circle cx="192.7" cy="490.5" r="1.5" fill="#a8dcd0" opacity="0.6"/>
<circle cx="164.0" cy="495.8" r="1.4" fill="#bfe6dc" opacity="0.6"/>
<circle cx="198.2" cy="447.3" r="1.0" fill="#a8dcd0" opacity="0.6"/>
<circle cx="135.7" cy="487.1" r="0.9" fill="#a8dcd0" opacity="0.6"/>
<circle cx="131.8" cy="449.7" r="1.0" fill="#a8dcd0" opacity="0.6"/>
<circle cx="204.6" cy="474.4" r="0.8" fill="#a8dcd0" opacity="0.6"/>
<circle cx="161.0" cy="447.6" r="1.0" fill="#e8f6f0" opacity="0.6"/>
<circle cx="173.5" cy="442.7" r="1.5" fill="#e8f6f0" opacity="0.6"/>
<circle cx="200.7" cy="478.3" r="1.2" fill="#a8dcd0" opacity="0.6"/>
<circle cx="148.7" cy="435.8" r="1.5" fill="#a8dcd0" opacity="0.6"/>
<circle cx="167.2" cy="468.0" r="1.6" fill="#e8f6f0" opacity="0.6"/>
<circle cx="125.9" cy="484.5" r="1.3" fill="#a8dcd0" opacity="0.6"/>
<circle cx="194.7" cy="477.8" r="1.1" fill="#e8f6f0" opacity="0.6"/>
<circle cx="193.3" cy="467.7" r="1.2" fill="#a8dcd0" opacity="0.6"/>
<circle cx="131.4" cy="464.6" r="1.3" fill="#bfe6dc" opacity="0.6"/>
<circle cx="174.1" cy="447.4" r="1.4" fill="#e8f6f0" opacity="0.6"/>
<circle cx="163.2" cy="450.0" r="1.3" fill="#e8f6f0" opacity="0.6"/>
<circle cx="163.0" cy="492.7" r="1.1" fill="#e8f6f0" opacity="0.6"/>
<circle cx="138.2" cy="455.0" r="1.3" fill="#bfe6dc" opacity="0.6"/>
<circle cx="195.0" cy="472.0" r="0.9" fill="#e8f6f0" opacity="0.6"/>
<circle cx="162.5" cy="465.7" r="1.4" fill="#e8f6f0" opacity="0.6"/>
<circle cx="118.6" cy="477.4" r="1.1" fill="#e8f6f0" opacity="0.6"/>
<circle cx="157.1" cy="488.5" r="0.9" fill="#e8f6f0" opacity="0.6"/>
<circle cx="198.9" cy="486.7" r="1.0" fill="#bfe6dc" opacity="0.6"/>
<circle cx="143.9" cy="456.1" r="1.1" fill="#e8f6f0" opacity="0.6"/>
<circle cx="144.1" cy="484.1" r="1.5" fill="#bfe6dc" opacity="0.6"/>
<circle cx="199.5" cy="473.6" r="0.9" fill="#e8f6f0" opacity="0.6"/>
<circle cx="144.6" cy="495.5" r="1.2" fill="#e8f6f0" opacity="0.6"/>
<circle cx="202.9" cy="448.7" r="1.5" fill="#a8dcd0" opacity="0.6"/>
<circle cx="185.0" cy="485.8" r="1.1" fill="#bfe6dc" opacity="0.6"/>
<circle cx="161.1" cy="497.3" r="0.8" fill="#e8f6f0" opacity="0.6"/>
<circle cx="141.3" cy="438.9" r="1.2" fill="#bfe6dc" opacity="0.6"/>
<circle cx="175.4" cy="486.8" r="0.8" fill="#a8dcd0" opacity="0.6"/>
<circle cx="178.3" cy="460.2" r="0.9" fill="#a8dcd0" opacity="0.6"/>
<circle cx="166.9" cy="446.6" r="1.1" fill="#e8f6f0" opacity="0.6"/>
<circle cx="191.0" cy="462.6" r="0.9" fill="#e8f6f0" opacity="0.6"/>
<circle cx="183.2" cy="461.3" r="0.8" fill="#a8dcd0" opacity="0.6"/>
<circle cx="155.4" cy="436.4" r="1.6" fill="#a8dcd0" opacity="0.6"/>
<circle cx="130.6" cy="479.1" r="1.5" fill="#a8dcd0" opacity="0.6"/>
<circle cx="150.7" cy="436.3" r="0.8" fill="#e8f6f0" opacity="0.6"/>
<circle cx="147.4" cy="498.3" r="1.2" fill="#bfe6dc" opacity="0.6"/>
<circle cx="176.1" cy="477.6" r="1.0" fill="#a8dcd0" opacity="0.6"/>
<circle cx="189.5" cy="470.1" r="1.1" fill="#e8f6f0" opacity="0.6"/>
<circle cx="210.8" cy="457.7" r="1.1" fill="#e8f6f0" opacity="0.6"/>
<circle cx="207.7" cy="465.8" r="1.2" fill="#bfe6dc" opacity="0.6"/>
<circle cx="185.9" cy="488.1" r="1.6" fill="#bfe6dc" opacity="0.6"/>
<circle cx="175.4" cy="486.3" r="1.2" fill="#e8f6f0" opacity="0.6"/>
<circle cx="210.9" cy="472.8" r="1.2" fill="#a8dcd0" opacity="0.6"/>
<circle cx="171.8" cy="476.7" r="1.3" fill="#bfe6dc" opacity="0.6"/>
<circle cx="205.7" cy="482.5" r="1.3" fill="#a8dcd0" opacity="0.6"/>
<circle cx="176.5" cy="453.6" r="1.4" fill="#a8dcd0" opacity="0.6"/>
<circle cx="162.1" cy="461.8" r="1.2" fill="#a8dcd0" opacity="0.6"/>
<circle cx="192.9" cy="491.1" r="0.9" fill="#e8f6f0" opacity="0.6"/>
<circle cx="161.4" cy="445.2" r="1.4" fill="#e8f6f0" opacity="0.6"/>
<circle cx="126.9" cy="469.2" r="1.0" fill="#a8dcd0" opacity="0.6"/>
<circle cx="128.0" cy="466.4" r="1.5" fill="#bfe6dc" opacity="0.6"/>
<circle cx="143.1" cy="445.5" r="1.2" fill="#bfe6dc" opacity="0.6"/>
<circle cx="168.2" cy="490.9" r="0.8" fill="#bfe6dc" opacity="0.6"/>
<circle cx="205.6" cy="450.3" r="1.5" fill="#e8f6f0" opacity="0.6"/>
<circle cx="147.6" cy="441.1" r="1.3" fill="#a8dcd0" opacity="0.6"/>
<circle cx="199.5" cy="482.6" r="0.9" fill="#e8f6f0" opacity="0.6"/>
<circle cx="155.4" cy="462.4" r="1.3" fill="#a8dcd0" opacity="0.6"/>
<circle cx="164.3" cy="461.6" r="1.2" fill="#bfe6dc" opacity="0.6"/>
<circle cx="132.5" cy="487.6" r="1.2" fill="#a8dcd0" opacity="0.6"/>
<circle cx="152.3" cy="466.3" r="1.5" fill="#a8dcd0" opacity="0.6"/>
<circle cx="192.2" cy="461.2" r="1.3" fill="#e8f6f0" opacity="0.6"/>
<circle cx="152.8" cy="448.2" r="0.9" fill="#bfe6dc" opacity="0.6"/>
<circle cx="189.4" cy="459.3" r="1.5" fill="#e8f6f0" opacity="0.6"/>
<circle cx="197.7" cy="465.0" r="1.1" fill="#a8dcd0" opacity="0.6"/>
<circle cx="174.5" cy="461.9" r="1.0" fill="#e8f6f0" opacity="0.6"/>
<circle cx="182.0" cy="482.2" r="1.0" fill="#a8dcd0" opacity="0.6"/>
<circle cx="177.4" cy="498.3" r="1.0" fill="#e8f6f0" opacity="0.6"/>
<path d="M520.0,735.0 C522.2,725.0 536.3,714.2 548.0,705.0 C559.7,695.8 573.8,686.3 590.0,680.0 C606.2,673.7 626.7,667.7 645.0,667.0 C663.3,666.3 684.5,670.2 700.0,676.0 C715.5,681.8 729.3,690.5 738.0,702.0 C746.7,713.5 752.0,730.7 752.0,745.0 C752.0,759.3 746.7,776.3 738.0,788.0 C729.3,799.7 714.7,808.7 700.0,815.0 C685.3,821.3 667.0,826.2 650.0,826.0 C633.0,825.8 613.0,820.0 598.0,814.0 C583.0,808.0 570.5,798.2 560.0,790.0 C549.5,781.8 541.7,774.2 535.0,765.0 C528.3,755.8 517.8,745.0 520.0,735.0Z" fill="#fbe6e0"/>
<ellipse cx="660" cy="757" rx="55" ry="45" fill="#f9d4cc" opacity="0.75" filter="url(#b8)"/>
<path d="M505.5,713.4 C550,706 590,698 620,688 C640,681 660,675 675,669 C692,662 706,656 735,642" stroke="#555560" stroke-width="1" fill="none"/>
<ellipse cx="664.0" cy="758.0" rx="55.0" ry="48.2" fill="#f9d0c8" opacity="0.42" filter="url(#b4)" transform="rotate(0 664.0 758.0)"/>
<ellipse cx="626.2" cy="758.3" rx="2.1" ry="1.8" fill="#f07a5a" opacity="0.87"/>
<ellipse cx="698.1" cy="765.1" rx="2.3" ry="2.1" fill="#58b0a0" opacity="0.96"/>
<ellipse cx="676.7" cy="737.4" rx="2.3" ry="2.2" fill="#e94f6a" opacity="0.83"/>
<ellipse cx="616.5" cy="775.1" rx="2.4" ry="2.1" fill="#e94f6a" opacity="0.87"/>
<ellipse cx="654.4" cy="745.5" rx="2.1" ry="1.9" fill="#d8b040" opacity="0.95"/>
<ellipse cx="723.5" cy="765.3" rx="2.2" ry="2.1" fill="#3a8ab8" opacity="0.89"/>
<ellipse cx="643.1" cy="750.7" rx="2.5" ry="2.4" fill="#e8413a" opacity="0.90"/>
<ellipse cx="676.5" cy="769.8" rx="2.5" ry="2.3" fill="#ee5a50" opacity="0.84"/>
<ellipse cx="652.6" cy="799.9" rx="2.5" ry="2.5" fill="#f07a5a" opacity="0.97"/>
<ellipse cx="690.1" cy="791.2" rx="2.3" ry="2.0" fill="#e0508a" opacity="0.93"/>
<ellipse cx="632.1" cy="788.0" rx="1.9" ry="2.0" fill="#f07a5a" opacity="0.90"/>
<ellipse cx="697.6" cy="754.7" rx="2.4" ry="2.6" fill="#e8413a" opacity="0.90"/>
<ellipse cx="637.5" cy="768.5" rx="2.0" ry="1.7" fill="#e8413a" opacity="0.91"/>
<ellipse cx="691.4" cy="765.7" rx="1.8" ry="2.0" fill="#ee5a50" opacity="0.90"/>
<ellipse cx="699.7" cy="732.2" rx="2.0" ry="1.7" fill="#e8413a" opacity="0.99"/>
<ellipse cx="661.7" cy="763.1" rx="2.3" ry="1.9" fill="#ee6a4a" opacity="0.95"/>
<ellipse cx="688.6" cy="748.5" rx="2.2" ry="1.7" fill="#f39a6a" opacity="0.98"/>
<ellipse cx="674.0" cy="779.1" rx="2.1" ry="1.8" fill="#f39a6a" opacity="0.92"/>
<ellipse cx="680.8" cy="774.9" rx="2.5" ry="2.3" fill="#f07a5a" opacity="0.81"/>
<ellipse cx="667.4" cy="744.7" rx="2.5" ry="2.0" fill="#d8b040" opacity="0.80"/>
<ellipse cx="729.9" cy="756.0" rx="2.4" ry="2.1" fill="#3a6fb0" opacity="0.87"/>
<ellipse cx="667.7" cy="799.8" rx="1.9" ry="1.9" fill="#ee6a4a" opacity="0.91"/>
<ellipse cx="660.2" cy="799.2" rx="2.2" ry="2.2" fill="#e94f6a" opacity="0.85"/>
<ellipse cx="702.4" cy="784.8" rx="2.6" ry="2.4" fill="#f2889a" opacity="0.84"/>
<ellipse cx="713.8" cy="784.6" rx="2.2" ry="2.3" fill="#f07a5a" opacity="0.84"/>
<ellipse cx="649.6" cy="759.6" rx="2.4" ry="2.6" fill="#e0508a" opacity="0.94"/>
<ellipse cx="664.0" cy="782.7" rx="1.8" ry="1.9" fill="#f07a5a" opacity="0.82"/>
<ellipse cx="702.2" cy="794.4" rx="2.5" ry="2.6" fill="#f2889a" opacity="0.99"/>
<ellipse cx="680.5" cy="758.1" rx="2.1" ry="2.0" fill="#e94f6a" opacity="0.87"/>
<ellipse cx="689.9" cy="713.5" rx="2.0" ry="1.9" fill="#58b0a0" opacity="0.81"/>
<ellipse cx="648.8" cy="782.3" rx="1.9" ry="1.7" fill="#f39a6a" opacity="0.89"/>
<ellipse cx="623.2" cy="717.1" rx="2.3" ry="2.3" fill="#ee5a50" opacity="0.86"/>
<ellipse cx="630.8" cy="744.7" rx="2.4" ry="2.0" fill="#ee6a4a" opacity="0.85"/>
<ellipse cx="697.3" cy="724.6" rx="2.0" ry="1.8" fill="#3a6fb0" opacity="0.97"/>
<ellipse cx="695.8" cy="742.7" rx="1.9" ry="1.9" fill="#e0508a" opacity="0.91"/>
<ellipse cx="671.8" cy="709.8" rx="2.0" ry="1.9" fill="#e8413a" opacity="0.89"/>
<ellipse cx="622.6" cy="768.4" rx="1.9" ry="1.9" fill="#f07a5a" opacity="0.89"/>
<ellipse cx="606.5" cy="756.7" rx="2.5" ry="2.2" fill="#ee5a50" opacity="0.95"/>
<ellipse cx="657.1" cy="724.7" rx="2.2" ry="2.4" fill="#f07a5a" opacity="0.85"/>
<ellipse cx="669.8" cy="767.9" rx="2.0" ry="1.8" fill="#f39a6a" opacity="0.96"/>
<ellipse cx="639.7" cy="776.7" rx="1.9" ry="1.8" fill="#f2889a" opacity="0.81"/>
<ellipse cx="619.4" cy="731.0" rx="1.8" ry="1.6" fill="#e8413a" opacity="0.80"/>
<ellipse cx="671.0" cy="718.3" rx="2.3" ry="2.5" fill="#f39a6a" opacity="0.91"/>
<ellipse cx="605.3" cy="738.1" rx="2.6" ry="2.8" fill="#e8413a" opacity="0.94"/>
<ellipse cx="624.6" cy="736.4" rx="2.1" ry="2.3" fill="#f07a5a" opacity="0.92"/>
<ellipse cx="678.3" cy="793.1" rx="1.7" ry="1.6" fill="#e0508a" opacity="0.89"/>
<ellipse cx="662.7" cy="775.0" rx="2.6" ry="2.7" fill="#f07a5a" opacity="0.89"/>
<ellipse cx="686.4" cy="727.4" rx="1.8" ry="1.6" fill="#58b0a0" opacity="0.91"/>
<ellipse cx="632.7" cy="732.5" rx="2.4" ry="2.1" fill="#e8413a" opacity="0.90"/>
<ellipse cx="659.5" cy="805.7" rx="2.6" ry="2.4" fill="#e0508a" opacity="0.82"/>
<ellipse cx="680.1" cy="729.3" rx="2.5" ry="2.4" fill="#e8413a" opacity="0.88"/>
<ellipse cx="609.2" cy="768.1" rx="1.8" ry="1.7" fill="#e8413a" opacity="0.86"/>
<ellipse cx="645.4" cy="737.4" rx="2.5" ry="2.2" fill="#e8413a" opacity="0.95"/>
<ellipse cx="609.5" cy="750.7" rx="2.1" ry="1.7" fill="#e8413a" opacity="0.83"/>
<ellipse cx="694.7" cy="772.3" rx="1.7" ry="1.7" fill="#f2889a" opacity="0.97"/>
<ellipse cx="650.8" cy="766.7" rx="1.9" ry="1.8" fill="#e94f6a" opacity="0.94"/>
<ellipse cx="629.5" cy="763.9" rx="1.7" ry="1.7" fill="#e0508a" opacity="0.82"/>
<ellipse cx="690.9" cy="754.9" rx="1.7" ry="1.6" fill="#ee6a4a" opacity="0.97"/>
<ellipse cx="676.9" cy="749.7" rx="1.8" ry="1.8" fill="#e94f6a" opacity="0.82"/>
<ellipse cx="656.4" cy="700.1" rx="2.4" ry="2.4" fill="#58b0a0" opacity="0.84"/>
<ellipse cx="628.4" cy="773.2" rx="2.0" ry="2.1" fill="#e8413a" opacity="1.00"/>
<ellipse cx="662.5" cy="735.6" rx="2.2" ry="2.1" fill="#4ab0b8" opacity="0.83"/>
<ellipse cx="654.2" cy="753.6" rx="2.6" ry="2.3" fill="#ee5a50" opacity="0.97"/>
<ellipse cx="651.0" cy="714.3" rx="1.9" ry="1.9" fill="#e8413a" opacity="0.89"/>
<ellipse cx="673.5" cy="803.6" rx="1.8" ry="1.8" fill="#f2889a" opacity="0.90"/>
<ellipse cx="699.1" cy="803.8" rx="2.5" ry="2.5" fill="#3a6fb0" opacity="0.88"/>
<ellipse cx="654.9" cy="773.9" rx="2.3" ry="2.0" fill="#e94f6a" opacity="0.96"/>
<ellipse cx="612.0" cy="738.2" rx="2.3" ry="2.2" fill="#e8413a" opacity="0.94"/>
<ellipse cx="645.5" cy="801.5" rx="2.0" ry="1.7" fill="#e8413a" opacity="0.87"/>
<ellipse cx="697.2" cy="718.1" rx="2.0" ry="1.6" fill="#3a8ab8" opacity="0.98"/>
<ellipse cx="645.9" cy="726.4" rx="2.3" ry="2.2" fill="#3a8ab8" opacity="0.86"/>
<ellipse cx="711.3" cy="752.8" rx="2.5" ry="2.3" fill="#3a6fb0" opacity="0.86"/>
<ellipse cx="663.9" cy="721.4" rx="2.7" ry="2.9" fill="#3a8ab8" opacity="0.92"/>
<ellipse cx="638.3" cy="743.3" rx="2.0" ry="2.0" fill="#f07a5a" opacity="0.93"/>
<ellipse cx="710.8" cy="731.7" rx="1.9" ry="1.9" fill="#58b0a0" opacity="0.93"/>
<ellipse cx="696.6" cy="789.5" rx="2.2" ry="1.9" fill="#f2889a" opacity="0.88"/>
<ellipse cx="684.5" cy="741.9" rx="2.4" ry="2.6" fill="#f39a6a" opacity="0.95"/>
<ellipse cx="685.4" cy="796.5" rx="2.1" ry="2.3" fill="#e94f6a" opacity="0.98"/>
<ellipse cx="702.8" cy="772.6" rx="2.0" ry="1.7" fill="#e0508a" opacity="0.87"/>
<ellipse cx="653.8" cy="787.7" rx="1.7" ry="1.8" fill="#e94f6a" opacity="0.89"/>
<ellipse cx="684.9" cy="804.6" rx="2.6" ry="2.7" fill="#e8413a" opacity="0.86"/>
<ellipse cx="642.4" cy="785.7" rx="2.1" ry="2.0" fill="#e94f6a" opacity="0.83"/>
<ellipse cx="706.6" cy="763.1" rx="2.1" ry="1.7" fill="#f2889a" opacity="0.85"/>
<ellipse cx="628.7" cy="751.0" rx="1.7" ry="1.8" fill="#f2889a" opacity="0.87"/>
<ellipse cx="652.0" cy="738.2" rx="2.3" ry="1.9" fill="#f2889a" opacity="0.97"/>
<ellipse cx="625.9" cy="791.6" rx="1.9" ry="1.6" fill="#e8413a" opacity="0.83"/>
<ellipse cx="619.6" cy="745.8" rx="2.4" ry="2.3" fill="#f39a6a" opacity="0.95"/>
<ellipse cx="696.2" cy="780.8" rx="2.1" ry="1.8" fill="#f2889a" opacity="0.93"/>
<ellipse cx="611.5" cy="793.0" rx="2.5" ry="2.1" fill="#e8413a" opacity="0.86"/>
<ellipse cx="616.7" cy="785.7" rx="2.6" ry="2.2" fill="#ee5a50" opacity="0.91"/>
<ellipse cx="650.0" cy="806.1" rx="2.4" ry="2.4" fill="#f07a5a" opacity="0.98"/>
<ellipse cx="668.1" cy="759.4" rx="1.7" ry="1.5" fill="#e0508a" opacity="0.89"/>
<ellipse cx="665.6" cy="791.0" rx="2.6" ry="2.1" fill="#e8413a" opacity="0.81"/>
<ellipse cx="715.3" cy="775.9" rx="1.8" ry="1.8" fill="#ee6a4a" opacity="0.87"/>
<ellipse cx="723.7" cy="779.9" rx="1.9" ry="2.0" fill="#ee6a4a" opacity="0.93"/>
<ellipse cx="626.3" cy="729.9" rx="1.8" ry="1.7" fill="#e8413a" opacity="0.98"/>
<ellipse cx="669.2" cy="753.1" rx="2.5" ry="2.7" fill="#f07a5a" opacity="0.93"/>
<ellipse cx="677.6" cy="785.8" rx="2.2" ry="2.0" fill="#f07a5a" opacity="0.86"/>
<ellipse cx="640.4" cy="712.0" rx="2.5" ry="2.3" fill="#e8413a" opacity="0.98"/>
<ellipse cx="708.5" cy="723.2" rx="2.4" ry="2.3" fill="#58b0a0" opacity="0.87"/>
<ellipse cx="713.8" cy="747.0" rx="2.5" ry="2.6" fill="#58b0a0" opacity="0.94"/>
<ellipse cx="644.9" cy="720.1" rx="2.5" ry="2.1" fill="#f39a6a" opacity="0.92"/>
<ellipse cx="716.8" cy="715.6" rx="2.3" ry="1.9" fill="#3a8ab8" opacity="0.99"/>
<ellipse cx="715.6" cy="761.9" rx="2.5" ry="2.4" fill="#f39a6a" opacity="0.87"/>
<ellipse cx="598.8" cy="732.2" rx="2.6" ry="2.6" fill="#e8413a" opacity="0.83"/>
<ellipse cx="647.3" cy="789.9" rx="2.2" ry="1.9" fill="#e8413a" opacity="0.98"/>
<ellipse cx="712.9" cy="791.5" rx="2.4" ry="2.4" fill="#ee5a50" opacity="0.80"/>
<ellipse cx="693.1" cy="798.4" rx="2.1" ry="2.0" fill="#ee6a4a" opacity="0.84"/>
<ellipse cx="676.9" cy="722.3" rx="2.1" ry="1.8" fill="#58b0a0" opacity="0.84"/>
<ellipse cx="677.1" cy="809.3" rx="2.3" ry="2.0" fill="#e8413a" opacity="0.96"/>
<ellipse cx="633.1" cy="795.0" rx="2.2" ry="2.1" fill="#e8413a" opacity="0.91"/>
<ellipse cx="611.3" cy="720.6" rx="2.0" ry="1.9" fill="#ee5a50" opacity="0.96"/>
<ellipse cx="709.5" cy="740.8" rx="2.1" ry="1.7" fill="#f39a6a" opacity="0.98"/>
<ellipse cx="615.2" cy="762.2" rx="2.0" ry="2.1" fill="#ee5a50" opacity="0.87"/>
<ellipse cx="607.9" cy="780.1" rx="2.4" ry="2.4" fill="#e8413a" opacity="0.83"/>
<ellipse cx="638.7" cy="725.9" rx="1.7" ry="1.9" fill="#d8b040" opacity="0.93"/>
<ellipse cx="632.0" cy="718.5" rx="2.1" ry="2.2" fill="#4ab0b8" opacity="0.90"/>
<ellipse cx="666.2" cy="712.6" rx="1.9" ry="1.7" fill="#d8b040" opacity="0.86"/>
<ellipse cx="688.8" cy="784.8" rx="1.7" ry="1.4" fill="#e0508a" opacity="0.87"/>
<ellipse cx="597.8" cy="776.9" rx="2.7" ry="2.8" fill="#e8413a" opacity="0.92"/>
<ellipse cx="637.4" cy="809.0" rx="2.0" ry="1.9" fill="#f07a5a" opacity="0.85"/>
<ellipse cx="719.7" cy="756.9" rx="2.5" ry="2.0" fill="#58b0a0" opacity="0.94"/>
<ellipse cx="685.9" cy="721.1" rx="2.2" ry="2.0" fill="#3a8ab8" opacity="0.92"/>
<ellipse cx="641.2" cy="796.8" rx="2.1" ry="1.8" fill="#ee5a50" opacity="0.88"/>
<ellipse cx="642.4" cy="731.7" rx="2.6" ry="2.5" fill="#e94f6a" opacity="0.92"/>
<ellipse cx="641.8" cy="763.4" rx="2.0" ry="1.9" fill="#e0508a" opacity="0.87"/>
<ellipse cx="635.0" cy="757.6" rx="2.7" ry="2.3" fill="#3a8ab8" opacity="1.00"/>
<ellipse cx="669.0" cy="736.7" rx="2.5" ry="2.7" fill="#e8413a" opacity="0.82"/>
<ellipse cx="719.0" cy="734.1" rx="2.4" ry="2.0" fill="#4ab0b8" opacity="0.81"/>
<ellipse cx="680.3" cy="716.6" rx="2.4" ry="2.3" fill="#ee6a4a" opacity="0.88"/>
<ellipse cx="652.6" cy="729.2" rx="1.9" ry="1.9" fill="#e8413a" opacity="0.98"/>
<ellipse cx="644.6" cy="812.5" rx="2.5" ry="2.6" fill="#58b0a0" opacity="0.91"/>
<ellipse cx="718.6" cy="770.1" rx="2.6" ry="2.2" fill="#f2889a" opacity="0.90"/>
<ellipse cx="686.6" cy="760.7" rx="2.6" ry="2.4" fill="#f39a6a" opacity="0.89"/>
<ellipse cx="647.1" cy="707.9" rx="2.3" ry="2.4" fill="#3a8ab8" opacity="0.90"/>
<ellipse cx="640.1" cy="702.2" rx="2.3" ry="1.9" fill="#3a8ab8" opacity="0.83"/>
<ellipse cx="672.6" cy="729.4" rx="2.3" ry="2.1" fill="#e94f6a" opacity="1.00"/>
<ellipse cx="659.0" cy="715.4" rx="2.7" ry="2.5" fill="#e8413a" opacity="0.96"/>
<ellipse cx="689.7" cy="777.5" rx="2.0" ry="1.7" fill="#e8413a" opacity="0.89"/>
<ellipse cx="704.5" cy="749.5" rx="2.5" ry="2.0" fill="#3a8ab8" opacity="0.87"/>
<ellipse cx="664.6" cy="699.1" rx="2.3" ry="2.0" fill="#d8b040" opacity="0.95"/>
<ellipse cx="630.5" cy="724.9" rx="2.4" ry="2.2" fill="#e94f6a" opacity="0.92"/>
<ellipse cx="684.0" cy="705.5" rx="1.8" ry="1.8" fill="#e8413a" opacity="0.88"/>
<ellipse cx="690.4" cy="736.9" rx="1.9" ry="2.1" fill="#3a8ab8" opacity="0.92"/>
<ellipse cx="595.6" cy="766.4" rx="1.9" ry="1.7" fill="#e8413a" opacity="0.92"/>
<ellipse cx="669.0" cy="809.0" rx="1.8" ry="1.7" fill="#e94f6a" opacity="0.90"/>
<ellipse cx="628.8" cy="779.9" rx="2.7" ry="2.8" fill="#f39a6a" opacity="0.94"/>
<ellipse cx="661.6" cy="750.0" rx="2.5" ry="2.7" fill="#f39a6a" opacity="0.83"/>
<ellipse cx="655.4" cy="812.0" rx="2.5" ry="2.7" fill="#e8413a" opacity="0.96"/>
<ellipse cx="683.7" cy="780.8" rx="2.3" ry="2.4" fill="#e0508a" opacity="0.93"/>
<ellipse cx="659.2" cy="791.2" rx="1.8" ry="1.7" fill="#f07a5a" opacity="0.95"/>
<ellipse cx="663.5" cy="727.9" rx="2.4" ry="2.4" fill="#d8b040" opacity="0.98"/>
<ellipse cx="612.3" cy="730.9" rx="1.8" ry="1.6" fill="#ee5a50" opacity="0.94"/>
<ellipse cx="618.3" cy="722.5" rx="2.7" ry="2.1" fill="#e94f6a" opacity="0.94"/>
<ellipse cx="686.4" cy="771.7" rx="1.9" ry="1.8" fill="#e94f6a" opacity="0.93"/>
<ellipse cx="709.3" cy="800.0" rx="2.6" ry="2.7" fill="#e8413a" opacity="0.83"/>
<ellipse cx="658.9" cy="768.8" rx="1.9" ry="1.7" fill="#e8413a" opacity="0.83"/>
<ellipse cx="704.1" cy="713.5" rx="2.3" ry="1.8" fill="#ee6a4a" opacity="0.91"/>
<ellipse cx="617.6" cy="755.9" rx="2.2" ry="2.3" fill="#e8413a" opacity="0.91"/>
<ellipse cx="603.7" cy="745.6" rx="2.6" ry="2.1" fill="#e8413a" opacity="1.00"/>
<ellipse cx="691.5" cy="807.1" rx="2.1" ry="1.9" fill="#3a8ab8" opacity="0.81"/>
<ellipse cx="702.1" cy="740.0" rx="2.3" ry="2.1" fill="#3a8ab8" opacity="0.86"/>
<ellipse cx="599.8" cy="754.0" rx="2.5" ry="2.4" fill="#e8413a" opacity="0.84"/>
<ellipse cx="657.9" cy="708.8" rx="2.0" ry="1.8" fill="#f07a5a" opacity="0.90"/>
<ellipse cx="708.4" cy="778.1" rx="2.6" ry="2.3" fill="#e8413a" opacity="0.80"/>
<ellipse cx="625.6" cy="798.2" rx="2.4" ry="2.1" fill="#f2889a" opacity="0.95"/>
<ellipse cx="673.9" cy="815.3" rx="2.5" ry="2.6" fill="#f2889a" opacity="0.97"/>
<ellipse cx="720.9" cy="745.2" rx="2.3" ry="2.6" fill="#4ab0b8" opacity="0.94"/>
<ellipse cx="715.9" cy="740.7" rx="1.8" ry="1.5" fill="#3a8ab8" opacity="0.91"/>
<ellipse cx="706.1" cy="756.6" rx="1.9" ry="2.0" fill="#3a8ab8" opacity="0.90"/>
<ellipse cx="710.3" cy="770.7" rx="2.6" ry="2.3" fill="#3a6fb0" opacity="0.94"/>
<ellipse cx="736.1" cy="763.2" rx="1.9" ry="1.8" fill="#ee6a4a" opacity="0.81"/>
<ellipse cx="720.4" cy="725.8" rx="2.3" ry="2.2" fill="#e8413a" opacity="0.92"/>
<ellipse cx="629.6" cy="804.5" rx="2.5" ry="2.3" fill="#ee6a4a" opacity="0.91"/>
<ellipse cx="630.5" cy="710.3" rx="2.0" ry="2.0" fill="#f39a6a" opacity="0.81"/>
<ellipse cx="732.2" cy="769.3" rx="1.9" ry="1.8" fill="#3a8ab8" opacity="0.84"/>
<ellipse cx="725.1" cy="732.3" rx="2.4" ry="2.3" fill="#f2889a" opacity="0.98"/>
<ellipse cx="654.6" cy="819.9" rx="2.6" ry="2.5" fill="#ee5a50" opacity="0.92"/>
<ellipse cx="647.2" cy="775.0" rx="2.0" ry="1.7" fill="#e8413a" opacity="0.91"/>
<ellipse cx="594.6" cy="737.3" rx="2.0" ry="1.9" fill="#e8413a" opacity="0.85"/>
<ellipse cx="670.3" cy="785.1" rx="2.1" ry="2.2" fill="#e0508a" opacity="0.89"/>
<ellipse cx="697.7" cy="708.3" rx="2.3" ry="2.5" fill="#4ab0b8" opacity="0.98"/>
<ellipse cx="662.4" cy="818.9" rx="2.4" ry="2.5" fill="#f2889a" opacity="0.81"/>
<ellipse cx="721.1" cy="790.9" rx="2.5" ry="2.1" fill="#e94f6a" opacity="0.84"/>
<ellipse cx="727.5" cy="746.8" rx="1.9" ry="1.9" fill="#e94f6a" opacity="0.89"/>
<ellipse cx="618.7" cy="795.4" rx="2.5" ry="2.7" fill="#e94f6a" opacity="0.97"/>
<ellipse cx="660.5" cy="742.0" rx="2.0" ry="2.2" fill="#58b0a0" opacity="0.91"/>
<ellipse cx="676.0" cy="701.3" rx="2.6" ry="2.4" fill="#e94f6a" opacity="0.98"/>
<ellipse cx="662.4" cy="756.4" rx="2.6" ry="2.6" fill="#f39a6a" opacity="0.83"/>
<ellipse cx="633.5" cy="738.8" rx="2.7" ry="2.9" fill="#e94f6a" opacity="0.95"/>
<ellipse cx="599.8" cy="784.4" rx="2.0" ry="1.7" fill="#e8413a" opacity="0.85"/>
<ellipse cx="683.0" cy="751.8" rx="2.0" ry="2.2" fill="#ee5a50" opacity="0.90"/>
<ellipse cx="631.2" cy="811.0" rx="2.7" ry="2.2" fill="#f07a5a" opacity="0.97"/>
<ellipse cx="618.5" cy="739.0" rx="2.5" ry="2.3" fill="#ee6a4a" opacity="0.88"/>
<ellipse cx="623.6" cy="783.8" rx="2.3" ry="2.3" fill="#e8413a" opacity="0.95"/>
<ellipse cx="683.8" cy="735.0" rx="2.1" ry="2.1" fill="#e0508a" opacity="0.98"/>
<ellipse cx="651.6" cy="721.2" rx="2.4" ry="2.2" fill="#d8b040" opacity="0.85"/>
<ellipse cx="656.0" cy="780.6" rx="2.1" ry="2.2" fill="#e94f6a" opacity="0.96"/>
<ellipse cx="635.2" cy="782.1" rx="2.0" ry="1.6" fill="#f2889a" opacity="0.83"/>
<ellipse cx="699.4" cy="812.2" rx="1.9" ry="1.9" fill="#f07a5a" opacity="0.96"/>
<ellipse cx="693.3" cy="730.2" rx="2.1" ry="2.2" fill="#3a8ab8" opacity="0.92"/>
<ellipse cx="729.7" cy="762.7" rx="2.1" ry="2.2" fill="#e8413a" opacity="0.98"/>
<ellipse cx="645.4" cy="743.7" rx="2.0" ry="2.0" fill="#3a6fb0" opacity="0.99"/>
<ellipse cx="668.3" cy="704.2" rx="2.1" ry="2.0" fill="#3a8ab8" opacity="0.87"/>
<ellipse cx="617.8" cy="710.4" rx="1.9" ry="2.1" fill="#ee6a4a" opacity="0.80"/>
<ellipse cx="671.7" cy="794.4" rx="2.4" ry="2.3" fill="#ee5a50" opacity="0.90"/>
<ellipse cx="635.7" cy="750.9" rx="1.7" ry="1.8" fill="#f2889a" opacity="0.86"/>
<ellipse cx="643.8" cy="757.0" rx="2.1" ry="1.9" fill="#e94f6a" opacity="0.88"/>
<ellipse cx="724.9" cy="773.4" rx="2.6" ry="2.7" fill="#4ab0b8" opacity="0.96"/>
<ellipse cx="638.7" cy="790.9" rx="2.3" ry="2.3" fill="#ee5a50" opacity="1.00"/>
<ellipse cx="678.5" cy="710.4" rx="1.7" ry="1.7" fill="#ee6a4a" opacity="1.00"/>
<circle cx="637.7" cy="808.2" r="1.1" fill="#e0508a" opacity="0.45"/>
<circle cx="646.1" cy="809.6" r="1.0" fill="#ee5a50" opacity="0.45"/>
<circle cx="641.8" cy="793.3" r="0.6" fill="#e8413a" opacity="0.45"/>
<circle cx="641.4" cy="802.4" r="1.0" fill="#f2889a" opacity="0.45"/>
<circle cx="652.3" cy="742.4" r="0.9" fill="#f2889a" opacity="0.45"/>
<circle cx="663.2" cy="731.7" r="0.8" fill="#e8413a" opacity="0.45"/>
<circle cx="637.4" cy="802.8" r="0.7" fill="#e0508a" opacity="0.45"/>
<circle cx="661.9" cy="758.4" r="1.0" fill="#f39a6a" opacity="0.45"/>
<circle cx="712.8" cy="780.1" r="0.6" fill="#e94f6a" opacity="0.45"/>
<circle cx="675.0" cy="725.2" r="0.9" fill="#e94f6a" opacity="0.45"/>
<circle cx="638.7" cy="742.0" r="0.9" fill="#f2889a" opacity="0.45"/>
<circle cx="601.4" cy="748.4" r="0.8" fill="#ee6a4a" opacity="0.45"/>
<circle cx="638.4" cy="798.4" r="0.8" fill="#e8413a" opacity="0.45"/>
<circle cx="681.0" cy="758.7" r="0.8" fill="#e94f6a" opacity="0.45"/>
<circle cx="610.1" cy="784.3" r="0.7" fill="#e94f6a" opacity="0.45"/>
<circle cx="706.1" cy="776.0" r="0.7" fill="#e0508a" opacity="0.45"/>
<circle cx="688.1" cy="801.6" r="1.0" fill="#e0508a" opacity="0.45"/>
<circle cx="703.6" cy="748.6" r="1.0" fill="#f07a5a" opacity="0.45"/>
<circle cx="627.4" cy="743.3" r="1.0" fill="#f39a6a" opacity="0.45"/>
<circle cx="666.4" cy="792.9" r="0.8" fill="#ee6a4a" opacity="0.45"/>
<circle cx="680.3" cy="733.8" r="0.9" fill="#e0508a" opacity="0.45"/>
<circle cx="642.9" cy="764.7" r="0.9" fill="#ee6a4a" opacity="0.45"/>
<circle cx="628.0" cy="769.3" r="1.1" fill="#e8413a" opacity="0.45"/>
<circle cx="658.8" cy="752.0" r="1.0" fill="#f07a5a" opacity="0.45"/>
<circle cx="663.6" cy="800.0" r="0.7" fill="#f07a5a" opacity="0.45"/>
<circle cx="708.6" cy="751.4" r="0.8" fill="#f39a6a" opacity="0.45"/>
<circle cx="614.9" cy="791.9" r="0.6" fill="#f2889a" opacity="0.45"/>
<circle cx="666.1" cy="745.9" r="0.8" fill="#e8413a" opacity="0.45"/>
<circle cx="646.1" cy="719.6" r="0.6" fill="#ee5a50" opacity="0.45"/>
<circle cx="630.6" cy="777.2" r="0.6" fill="#e0508a" opacity="0.45"/>
<circle cx="640.7" cy="719.2" r="0.9" fill="#e0508a" opacity="0.45"/>
<circle cx="681.4" cy="707.9" r="1.0" fill="#e8413a" opacity="0.45"/>
<circle cx="669.6" cy="713.4" r="0.9" fill="#e8413a" opacity="0.45"/>
<circle cx="670.8" cy="777.9" r="0.6" fill="#e94f6a" opacity="0.45"/>
<circle cx="711.6" cy="731.8" r="0.6" fill="#ee6a4a" opacity="0.45"/>
<circle cx="662.0" cy="807.4" r="1.1" fill="#e8413a" opacity="0.45"/>
<circle cx="634.2" cy="737.4" r="0.9" fill="#f07a5a" opacity="0.45"/>
<circle cx="622.8" cy="737.9" r="0.9" fill="#e8413a" opacity="0.45"/>
<circle cx="636.1" cy="767.8" r="1.0" fill="#f39a6a" opacity="0.45"/>
<circle cx="652.3" cy="758.2" r="1.1" fill="#f39a6a" opacity="0.45"/>
<circle cx="650.4" cy="760.9" r="0.8" fill="#f2889a" opacity="0.45"/>
<circle cx="675.3" cy="769.8" r="0.6" fill="#e8413a" opacity="0.45"/>
<circle cx="693.7" cy="781.3" r="1.0" fill="#ee6a4a" opacity="0.45"/>
<circle cx="665.7" cy="707.1" r="1.0" fill="#ee6a4a" opacity="0.45"/>
<circle cx="698.9" cy="801.0" r="0.9" fill="#ee6a4a" opacity="0.45"/>
<circle cx="673.6" cy="722.8" r="0.7" fill="#f39a6a" opacity="0.45"/>
<circle cx="621.1" cy="756.8" r="1.0" fill="#ee6a4a" opacity="0.45"/>
<circle cx="648.2" cy="773.2" r="0.9" fill="#f39a6a" opacity="0.45"/>
<circle cx="654.3" cy="703.2" r="1.0" fill="#f39a6a" opacity="0.45"/>
<circle cx="720.6" cy="772.8" r="0.9" fill="#e0508a" opacity="0.45"/>
<circle cx="700.0" cy="779.4" r="0.9" fill="#f07a5a" opacity="0.45"/>
<circle cx="663.4" cy="734.9" r="0.7" fill="#ee5a50" opacity="0.45"/>
<circle cx="699.9" cy="790.9" r="0.7" fill="#e8413a" opacity="0.45"/>
<circle cx="694.2" cy="780.6" r="0.7" fill="#f07a5a" opacity="0.45"/>
<circle cx="654.4" cy="737.5" r="1.0" fill="#e0508a" opacity="0.45"/>
<circle cx="680.3" cy="731.8" r="1.1" fill="#f2889a" opacity="0.45"/>
<circle cx="686.4" cy="785.1" r="1.0" fill="#e8413a" opacity="0.45"/>
<circle cx="616.4" cy="771.4" r="0.8" fill="#ee6a4a" opacity="0.45"/>
<circle cx="648.9" cy="761.6" r="0.8" fill="#e8413a" opacity="0.45"/>
<circle cx="627.2" cy="762.7" r="0.8" fill="#e8413a" opacity="0.45"/>
<circle cx="637.7" cy="806.5" r="1.0" fill="#ee5a50" opacity="0.45"/>
<circle cx="664.7" cy="716.0" r="0.7" fill="#f39a6a" opacity="0.45"/>
<circle cx="655.5" cy="810.9" r="0.7" fill="#e94f6a" opacity="0.45"/>
<circle cx="662.9" cy="813.8" r="0.7" fill="#f07a5a" opacity="0.45"/>
<circle cx="669.4" cy="782.3" r="0.6" fill="#f39a6a" opacity="0.45"/>
<circle cx="702.1" cy="778.3" r="1.0" fill="#ee6a4a" opacity="0.45"/>
<circle cx="642.3" cy="709.3" r="1.1" fill="#ee5a50" opacity="0.45"/>
<circle cx="654.9" cy="761.3" r="0.8" fill="#ee5a50" opacity="0.45"/>
<circle cx="678.4" cy="705.6" r="1.1" fill="#e94f6a" opacity="0.45"/>
<circle cx="711.1" cy="724.4" r="0.7" fill="#e94f6a" opacity="0.45"/>
<circle cx="706.3" cy="778.8" r="1.0" fill="#f07a5a" opacity="0.45"/>
<circle cx="671.9" cy="754.8" r="0.9" fill="#ee6a4a" opacity="0.45"/>
<circle cx="674.8" cy="785.0" r="0.9" fill="#ee6a4a" opacity="0.45"/>
<circle cx="666.5" cy="810.1" r="0.8" fill="#e8413a" opacity="0.45"/>
<circle cx="676.5" cy="752.9" r="0.8" fill="#e94f6a" opacity="0.45"/>
<circle cx="694.9" cy="772.4" r="1.0" fill="#f39a6a" opacity="0.45"/>
<circle cx="649.7" cy="770.6" r="1.0" fill="#e0508a" opacity="0.45"/>
<circle cx="664.9" cy="712.8" r="1.0" fill="#e0508a" opacity="0.45"/>
<circle cx="633.7" cy="716.4" r="0.9" fill="#e0508a" opacity="0.45"/>
<circle cx="659.7" cy="755.3" r="0.8" fill="#e8413a" opacity="0.45"/>
<circle cx="642.4" cy="774.8" r="0.9" fill="#f2889a" opacity="0.45"/>
<circle cx="694.4" cy="770.7" r="0.8" fill="#f2889a" opacity="0.45"/>
<circle cx="636.5" cy="772.8" r="0.8" fill="#e8413a" opacity="0.45"/>
<circle cx="621.7" cy="791.0" r="0.8" fill="#e0508a" opacity="0.45"/>
<circle cx="640.5" cy="717.2" r="0.8" fill="#e94f6a" opacity="0.45"/>
<circle cx="686.7" cy="793.5" r="1.0" fill="#f39a6a" opacity="0.45"/>
<circle cx="706.4" cy="737.2" r="1.0" fill="#f39a6a" opacity="0.45"/>
<circle cx="665.5" cy="750.7" r="0.6" fill="#f39a6a" opacity="0.45"/>
<circle cx="652.2" cy="765.4" r="0.8" fill="#f07a5a" opacity="0.45"/>
<circle cx="678.9" cy="736.6" r="0.9" fill="#f07a5a" opacity="0.45"/>
<circle cx="700.1" cy="790.1" r="0.7" fill="#ee6a4a" opacity="0.45"/>
<circle cx="630.6" cy="726.7" r="1.0" fill="#e0508a" opacity="0.45"/>
<circle cx="653.1" cy="746.1" r="0.9" fill="#ee6a4a" opacity="0.45"/>
<circle cx="655.8" cy="745.1" r="0.7" fill="#e0508a" opacity="0.45"/>
<circle cx="682.9" cy="748.9" r="1.0" fill="#f2889a" opacity="0.45"/>
<circle cx="625.0" cy="778.7" r="0.9" fill="#e94f6a" opacity="0.45"/>
<circle cx="625.4" cy="782.0" r="0.6" fill="#ee6a4a" opacity="0.45"/>
<circle cx="635.1" cy="708.2" r="1.0" fill="#ee6a4a" opacity="0.45"/>
<circle cx="659.0" cy="728.0" r="0.9" fill="#f39a6a" opacity="0.45"/>
<circle cx="633.7" cy="766.6" r="0.6" fill="#e0508a" opacity="0.45"/>
<circle cx="715.6" cy="787.0" r="1.1" fill="#f2889a" opacity="0.45"/>
<circle cx="620.6" cy="784.8" r="1.0" fill="#e8413a" opacity="0.45"/>
<circle cx="637.4" cy="725.4" r="0.8" fill="#ee5a50" opacity="0.45"/>
<circle cx="664.0" cy="809.0" r="0.7" fill="#ee6a4a" opacity="0.45"/>
<circle cx="678.8" cy="744.7" r="0.9" fill="#e94f6a" opacity="0.45"/>
<circle cx="659.1" cy="790.3" r="1.1" fill="#e94f6a" opacity="0.45"/>
<circle cx="726.8" cy="754.8" r="1.0" fill="#e0508a" opacity="0.45"/>
<circle cx="623.4" cy="729.6" r="0.9" fill="#f07a5a" opacity="0.45"/>
<circle cx="678.2" cy="786.1" r="0.9" fill="#f07a5a" opacity="0.45"/>
<circle cx="697.6" cy="757.5" r="1.0" fill="#f2889a" opacity="0.45"/>
<circle cx="659.7" cy="806.9" r="0.7" fill="#f39a6a" opacity="0.45"/>
<circle cx="635.4" cy="767.0" r="0.9" fill="#e0508a" opacity="0.45"/>
<circle cx="687.8" cy="725.1" r="0.8" fill="#e8413a" opacity="0.45"/>
<circle cx="727.6" cy="754.7" r="0.7" fill="#e94f6a" opacity="0.45"/>
<circle cx="620.2" cy="755.6" r="0.8" fill="#f39a6a" opacity="0.45"/>
<circle cx="634.7" cy="713.2" r="0.9" fill="#e8413a" opacity="0.45"/>
<circle cx="628.3" cy="745.8" r="0.7" fill="#ee5a50" opacity="0.45"/>
<circle cx="651.9" cy="727.6" r="1.0" fill="#e94f6a" opacity="0.45"/>
<circle cx="636.0" cy="713.7" r="0.7" fill="#f07a5a" opacity="0.45"/>
<circle cx="694.2" cy="710.6" r="0.8" fill="#e8413a" opacity="0.45"/>
<circle cx="723.3" cy="739.9" r="1.0" fill="#e94f6a" opacity="0.45"/>
<circle cx="645.7" cy="769.6" r="0.9" fill="#e94f6a" opacity="0.45"/>
<circle cx="653.8" cy="811.8" r="0.8" fill="#f07a5a" opacity="0.45"/>
<circle cx="692.3" cy="716.5" r="1.0" fill="#ee5a50" opacity="0.45"/>
<circle cx="656.4" cy="802.8" r="0.9" fill="#f39a6a" opacity="0.45"/>
<circle cx="692.7" cy="776.1" r="0.9" fill="#f2889a" opacity="0.45"/>
<circle cx="705.3" cy="768.5" r="1.1" fill="#e8413a" opacity="0.45"/>
<circle cx="691.2" cy="727.9" r="1.0" fill="#f07a5a" opacity="0.45"/>
<circle cx="686.9" cy="779.1" r="0.7" fill="#e94f6a" opacity="0.45"/>
<circle cx="698.3" cy="780.0" r="0.6" fill="#f07a5a" opacity="0.45"/>
<circle cx="687.9" cy="782.3" r="1.0" fill="#f07a5a" opacity="0.45"/>
<circle cx="709.0" cy="758.4" r="1.1" fill="#f39a6a" opacity="0.45"/>
<circle cx="659.0" cy="716.8" r="1.1" fill="#e0508a" opacity="0.45"/>
<circle cx="628.6" cy="746.4" r="0.6" fill="#e94f6a" opacity="0.45"/>
<circle cx="670.3" cy="709.6" r="1.0" fill="#e0508a" opacity="0.45"/>
<circle cx="708.1" cy="725.2" r="1.0" fill="#f39a6a" opacity="0.45"/>
<circle cx="636.0" cy="729.6" r="0.8" fill="#f2889a" opacity="0.45"/>
<circle cx="712.3" cy="727.6" r="0.8" fill="#e8413a" opacity="0.45"/>
<circle cx="660.0" cy="804.0" r="0.9" fill="#e94f6a" opacity="0.45"/>
<circle cx="727.1" cy="762.0" r="0.9" fill="#e94f6a" opacity="0.45"/>
<circle cx="635.4" cy="808.0" r="0.6" fill="#ee5a50" opacity="0.45"/>
<circle cx="678.5" cy="788.7" r="1.0" fill="#ee6a4a" opacity="0.45"/>
<circle cx="685.7" cy="769.4" r="0.8" fill="#e94f6a" opacity="0.45"/>
<circle cx="679.1" cy="742.5" r="0.7" fill="#e8413a" opacity="0.45"/>
<circle cx="670.4" cy="788.2" r="0.8" fill="#e8413a" opacity="0.45"/>
<circle cx="610.3" cy="740.0" r="0.9" fill="#f07a5a" opacity="0.45"/>
<circle cx="611.3" cy="736.6" r="0.7" fill="#f39a6a" opacity="0.45"/>
<circle cx="697.7" cy="748.7" r="1.1" fill="#ee5a50" opacity="0.45"/>
<circle cx="625.9" cy="729.2" r="0.7" fill="#ee5a50" opacity="0.45"/>
<circle cx="658.4" cy="711.4" r="1.0" fill="#e0508a" opacity="0.45"/>
<circle cx="678.4" cy="725.9" r="1.0" fill="#f07a5a" opacity="0.45"/>
<circle cx="612.9" cy="776.6" r="0.7" fill="#e8413a" opacity="0.45"/>
<circle cx="615.6" cy="766.4" r="0.7" fill="#ee5a50" opacity="0.45"/>
<circle cx="668.2" cy="745.4" r="1.0" fill="#ee6a4a" opacity="0.45"/>
<circle cx="612.4" cy="741.8" r="0.9" fill="#e94f6a" opacity="0.45"/>
<circle cx="699.9" cy="783.3" r="0.9" fill="#f2889a" opacity="0.45"/>
<circle cx="642.3" cy="776.8" r="0.7" fill="#e94f6a" opacity="0.45"/>
<circle cx="649.8" cy="781.9" r="0.6" fill="#f07a5a" opacity="0.45"/>
<circle cx="640.7" cy="709.2" r="0.8" fill="#f2889a" opacity="0.45"/>
<circle cx="606.0" cy="759.7" r="0.9" fill="#e94f6a" opacity="0.45"/>
<circle cx="668.8" cy="807.9" r="0.6" fill="#ee6a4a" opacity="0.45"/>
<circle cx="631.6" cy="758.8" r="0.6" fill="#ee5a50" opacity="0.45"/>
<circle cx="645.7" cy="775.6" r="0.7" fill="#e0508a" opacity="0.45"/>
<circle cx="672.3" cy="755.4" r="1.1" fill="#f2889a" opacity="0.45"/>
<circle cx="653.4" cy="750.2" r="0.8" fill="#f2889a" opacity="0.45"/>
<circle cx="707.1" cy="769.5" r="0.8" fill="#e0508a" opacity="0.45"/>
<circle cx="724.7" cy="748.8" r="0.7" fill="#ee5a50" opacity="0.45"/>
<circle cx="664.7" cy="716.0" r="0.6" fill="#e0508a" opacity="0.45"/>
<ellipse cx="583.5" cy="743.2" rx="2.1" ry="2.2" fill="#e8413a" opacity="0.88"/>
<ellipse cx="539.8" cy="759.4" rx="1.9" ry="1.9" fill="#ee5030" opacity="0.93"/>
<ellipse cx="589.5" cy="735.8" rx="2.2" ry="2.3" fill="#e8413a" opacity="0.98"/>
<ellipse cx="609.0" cy="753.3" rx="2.4" ry="2.1" fill="#ee5a50" opacity="0.82"/>
<ellipse cx="601.4" cy="749.8" rx="2.2" ry="1.8" fill="#ee5030" opacity="0.81"/>
<ellipse cx="559.9" cy="748.3" rx="1.7" ry="1.3" fill="#ee5030" opacity="0.88"/>
<ellipse cx="575.5" cy="736.9" rx="2.1" ry="1.8" fill="#e8413a" opacity="1.00"/>
<ellipse cx="560.9" cy="740.2" rx="1.5" ry="1.3" fill="#e8413a" opacity="0.95"/>
<ellipse cx="535.3" cy="751.0" rx="2.0" ry="1.8" fill="#ee5a50" opacity="0.91"/>
<ellipse cx="610.4" cy="783.8" rx="1.6" ry="1.3" fill="#e8413a" opacity="0.81"/>
<ellipse cx="593.4" cy="716.3" rx="1.8" ry="2.0" fill="#ee5a50" opacity="0.97"/>
<ellipse cx="597.7" cy="772.8" rx="1.6" ry="1.6" fill="#e8413a" opacity="0.96"/>
<ellipse cx="560.8" cy="763.8" rx="1.5" ry="1.4" fill="#e8413a" opacity="0.89"/>
<ellipse cx="570.1" cy="745.0" rx="1.7" ry="1.3" fill="#e8413a" opacity="0.79"/>
<ellipse cx="517.3" cy="740.4" rx="2.3" ry="1.9" fill="#f07a5a" opacity="0.83"/>
<ellipse cx="602.0" cy="783.2" rx="1.8" ry="1.5" fill="#ee5a50" opacity="0.88"/>
<ellipse cx="563.0" cy="724.8" rx="2.3" ry="1.9" fill="#ee5a50" opacity="0.90"/>
<ellipse cx="607.5" cy="718.7" rx="1.6" ry="1.6" fill="#e8413a" opacity="0.85"/>
<ellipse cx="578.7" cy="751.2" rx="1.6" ry="1.2" fill="#e8413a" opacity="0.81"/>
<ellipse cx="579.8" cy="719.5" rx="1.9" ry="1.6" fill="#ee5030" opacity="0.81"/>
<ellipse cx="594.0" cy="724.5" rx="2.2" ry="2.3" fill="#e8413a" opacity="0.87"/>
<ellipse cx="567.8" cy="753.7" rx="1.7" ry="1.8" fill="#f07a5a" opacity="0.83"/>
<ellipse cx="609.2" cy="726.3" rx="2.2" ry="1.9" fill="#e8413a" opacity="0.83"/>
<ellipse cx="547.3" cy="734.6" rx="1.9" ry="1.5" fill="#e8413a" opacity="0.81"/>
<ellipse cx="590.4" cy="761.1" rx="2.0" ry="2.0" fill="#f07a5a" opacity="0.94"/>
<ellipse cx="607.9" cy="743.4" rx="1.8" ry="1.5" fill="#ee5030" opacity="0.89"/>
<ellipse cx="538.8" cy="732.6" rx="1.9" ry="2.0" fill="#ee5030" opacity="0.90"/>
<ellipse cx="602.2" cy="736.2" rx="1.6" ry="1.7" fill="#ee5030" opacity="0.77"/>
<ellipse cx="609.3" cy="768.0" rx="2.1" ry="1.8" fill="#e8413a" opacity="0.94"/>
<ellipse cx="581.7" cy="774.1" rx="1.9" ry="1.8" fill="#e8413a" opacity="0.79"/>
<ellipse cx="524.8" cy="738.3" rx="2.1" ry="1.9" fill="#ee5a50" opacity="0.90"/>
<ellipse cx="602.1" cy="708.6" rx="1.8" ry="1.5" fill="#e8413a" opacity="0.89"/>
<ellipse cx="595.0" cy="741.5" rx="1.5" ry="1.5" fill="#ee5030" opacity="0.76"/>
<ellipse cx="515.9" cy="750.9" rx="1.7" ry="1.8" fill="#f07a5a" opacity="0.90"/>
<ellipse cx="610.3" cy="706.1" rx="2.1" ry="1.6" fill="#e8413a" opacity="0.88"/>
<ellipse cx="554.6" cy="728.3" rx="2.0" ry="2.1" fill="#e8413a" opacity="0.92"/>
<ellipse cx="575.8" cy="726.8" rx="1.9" ry="1.8" fill="#ee5030" opacity="0.88"/>
<ellipse cx="552.4" cy="751.4" rx="1.9" ry="1.7" fill="#e8413a" opacity="0.98"/>
<ellipse cx="531.4" cy="734.3" rx="2.0" ry="1.6" fill="#f07a5a" opacity="0.98"/>
<ellipse cx="527.3" cy="752.3" rx="1.7" ry="1.6" fill="#e8413a" opacity="0.85"/>
<ellipse cx="572.5" cy="759.5" rx="1.8" ry="1.4" fill="#f07a5a" opacity="0.85"/>
<ellipse cx="561.3" cy="731.7" rx="1.7" ry="1.3" fill="#e8413a" opacity="0.81"/>
<ellipse cx="531.3" cy="743.9" rx="1.9" ry="1.4" fill="#e8413a" opacity="0.82"/>
<ellipse cx="612.0" cy="760.5" rx="1.7" ry="1.6" fill="#e8413a" opacity="0.84"/>
<ellipse cx="589.8" cy="769.8" rx="2.1" ry="1.8" fill="#e8413a" opacity="0.78"/>
<ellipse cx="586.7" cy="752.6" rx="1.7" ry="1.7" fill="#ee5a50" opacity="0.89"/>
<ellipse cx="589.8" cy="777.1" rx="1.8" ry="1.8" fill="#e8413a" opacity="0.81"/>
<ellipse cx="540.1" cy="741.3" rx="1.7" ry="1.4" fill="#e8413a" opacity="0.83"/>
<ellipse cx="585.3" cy="728.1" rx="2.0" ry="2.1" fill="#e8413a" opacity="0.98"/>
<ellipse cx="571.9" cy="769.7" rx="1.6" ry="1.2" fill="#e8413a" opacity="0.78"/>
<ellipse cx="510.8" cy="743.9" rx="2.3" ry="1.7" fill="#e8413a" opacity="0.83"/>
<ellipse cx="550.0" cy="763.8" rx="2.0" ry="2.1" fill="#e8413a" opacity="0.77"/>
<ellipse cx="602.4" cy="757.0" rx="1.9" ry="2.0" fill="#e8413a" opacity="0.91"/>
<ellipse cx="545.5" cy="727.7" rx="1.7" ry="1.7" fill="#ee5030" opacity="0.95"/>
<ellipse cx="557.2" cy="757.5" rx="2.3" ry="2.5" fill="#e8413a" opacity="0.77"/>
<ellipse cx="579.7" cy="764.5" rx="1.8" ry="1.5" fill="#e8413a" opacity="0.75"/>
<ellipse cx="609.3" cy="776.6" rx="1.7" ry="1.7" fill="#e8413a" opacity="0.87"/>
<ellipse cx="611.1" cy="735.9" rx="2.3" ry="2.1" fill="#f07a5a" opacity="0.92"/>
<ellipse cx="542.7" cy="749.0" rx="1.9" ry="2.1" fill="#e8413a" opacity="1.00"/>
<ellipse cx="554.2" cy="744.1" rx="2.0" ry="1.6" fill="#ee5a50" opacity="0.80"/>
<ellipse cx="603.1" cy="764.3" rx="1.9" ry="1.9" fill="#ee5030" opacity="0.98"/>
<ellipse cx="571.4" cy="717.7" rx="1.6" ry="1.4" fill="#ee5a50" opacity="0.87"/>
<ellipse cx="599.6" cy="720.1" rx="1.7" ry="1.4" fill="#e8413a" opacity="0.76"/>
<circle cx="553.0" cy="707.4" r="2.6" fill="#e8453c"/>
<circle cx="565.6" cy="728.0" r="2.6" fill="#e8453c"/>
<circle cx="575.0" cy="720.0" r="2.6" fill="#e8453c"/>
<circle cx="585.0" cy="713.0" r="2.6" fill="#e8453c"/>
<circle cx="594.0" cy="708.0" r="2.6" fill="#e8453c"/>
<circle cx="608.0" cy="700.6" r="2.6" fill="#e8453c"/>
<circle cx="622.0" cy="691.6" r="2.6" fill="#e8453c"/>
<circle cx="675.0" cy="676.0" r="2.6" fill="#e8453c"/>
<circle cx="517.0" cy="776.0" r="2.6" fill="#e8453c"/>
<circle cx="535.0" cy="774.0" r="2.6" fill="#e8453c"/>
<circle cx="555.0" cy="770.0" r="2.6" fill="#e8453c"/>
<circle cx="568.0" cy="789.0" r="2.6" fill="#e8453c"/>
<circle cx="579.0" cy="789.5" r="2.6" fill="#e8453c"/>
<circle cx="506.0" cy="745.0" r="2.6" fill="#e8453c"/>
<circle cx="511.0" cy="745.0" r="2.6" fill="#e8453c"/>
<rect x="207.5" y="474.0" width="135.0" height="65.0" rx="26.0" fill="#e7e7ea"/>
<text x="230" y="516.5" font-size="28" textLength="89" lengthAdjust="spacingAndGlyphs" stroke="#e7e7ea" stroke-width="0.36">Muscle</text>
<ellipse cx="170.0" cy="805.0" rx="51.6" ry="44.7" fill="#cfe2f4" opacity="0.42" filter="url(#b4)" transform="rotate(0 170.0 805.0)"/>
<ellipse cx="155.2" cy="830.4" rx="2.1" ry="2.0" fill="#2658a4" opacity="0.88"/>
<ellipse cx="119.8" cy="809.9" rx="2.0" ry="2.0" fill="#9cc8e8" opacity="0.82"/>
<ellipse cx="146.6" cy="786.4" rx="1.9" ry="1.9" fill="#3478c4" opacity="0.94"/>
<ellipse cx="216.7" cy="785.1" rx="2.7" ry="2.7" fill="#3f86cc" opacity="0.99"/>
<ellipse cx="220.8" cy="825.9" rx="1.8" ry="1.5" fill="#3070bc" opacity="0.89"/>
<ellipse cx="210.9" cy="836.7" rx="2.5" ry="2.1" fill="#3070bc" opacity="0.89"/>
<ellipse cx="189.4" cy="766.2" rx="2.4" ry="2.0" fill="#2b68b4" opacity="0.98"/>
<ellipse cx="210.0" cy="778.3" rx="2.0" ry="2.0" fill="#3f86cc" opacity="0.96"/>
<ellipse cx="187.1" cy="811.3" rx="1.9" ry="2.0" fill="#2b68b4" opacity="0.92"/>
<ellipse cx="128.2" cy="798.8" rx="2.7" ry="2.6" fill="#7ab0e0" opacity="0.84"/>
<ellipse cx="162.4" cy="844.9" rx="2.3" ry="2.5" fill="#3478c4" opacity="0.96"/>
<ellipse cx="127.8" cy="782.3" rx="1.9" ry="2.0" fill="#7ab0e0" opacity="0.80"/>
<ellipse cx="218.9" cy="801.6" rx="1.8" ry="1.9" fill="#3f86cc" opacity="0.82"/>
<ellipse cx="185.6" cy="823.8" rx="2.3" ry="2.4" fill="#3070bc" opacity="0.93"/>
<ellipse cx="201.1" cy="831.6" rx="2.5" ry="2.1" fill="#3070bc" opacity="0.83"/>
<ellipse cx="140.0" cy="760.3" rx="2.1" ry="2.0" fill="#b8d8f0" opacity="0.86"/>
<ellipse cx="173.3" cy="835.0" rx="2.4" ry="2.1" fill="#2658a4" opacity="0.96"/>
<ellipse cx="199.9" cy="800.4" rx="2.4" ry="2.0" fill="#2b68b4" opacity="0.81"/>
<ellipse cx="117.4" cy="794.6" rx="2.2" ry="1.8" fill="#b8d8f0" opacity="0.85"/>
<ellipse cx="153.5" cy="778.4" rx="2.7" ry="2.3" fill="#3f86cc" opacity="0.93"/>
<ellipse cx="199.1" cy="810.7" rx="2.2" ry="2.0" fill="#2b68b4" opacity="0.84"/>
<ellipse cx="151.2" cy="791.4" rx="1.7" ry="1.7" fill="#2b68b4" opacity="0.98"/>
<ellipse cx="154.0" cy="763.4" rx="2.1" ry="2.3" fill="#3478c4" opacity="0.82"/>
<ellipse cx="148.7" cy="832.3" rx="2.4" ry="2.2" fill="#2658a4" opacity="0.99"/>
<ellipse cx="135.4" cy="822.2" rx="2.3" ry="2.0" fill="#7ab0e0" opacity="0.99"/>
<ellipse cx="167.6" cy="777.0" rx="2.1" ry="1.8" fill="#3070bc" opacity="0.81"/>
<ellipse cx="153.4" cy="840.6" rx="1.9" ry="1.6" fill="#2b68b4" opacity="0.87"/>
<ellipse cx="217.8" cy="810.6" rx="1.8" ry="1.8" fill="#3478c4" opacity="0.90"/>
<ellipse cx="114.2" cy="815.2" rx="2.4" ry="2.5" fill="#3f86cc" opacity="0.91"/>
<ellipse cx="152.5" cy="810.9" rx="2.2" ry="1.9" fill="#3478c4" opacity="0.92"/>
<ellipse cx="193.9" cy="807.7" rx="2.6" ry="2.7" fill="#2658a4" opacity="0.92"/>
<ellipse cx="177.5" cy="766.6" rx="2.2" ry="2.4" fill="#3f86cc" opacity="1.00"/>
<ellipse cx="195.4" cy="780.7" rx="1.7" ry="1.7" fill="#2658a4" opacity="0.83"/>
<ellipse cx="135.3" cy="803.9" rx="1.8" ry="1.9" fill="#b8d8f0" opacity="0.92"/>
<ellipse cx="211.8" cy="796.7" rx="1.8" ry="1.8" fill="#2b68b4" opacity="0.93"/>
<ellipse cx="167.0" cy="830.6" rx="2.5" ry="2.3" fill="#2b68b4" opacity="0.92"/>
<ellipse cx="195.4" cy="851.8" rx="2.4" ry="2.0" fill="#3478c4" opacity="0.89"/>
<ellipse cx="160.1" cy="812.7" rx="2.5" ry="2.6" fill="#2658a4" opacity="0.88"/>
<ellipse cx="118.3" cy="788.6" rx="2.6" ry="2.1" fill="#3f86cc" opacity="0.82"/>
<ellipse cx="159.1" cy="779.2" rx="2.4" ry="2.1" fill="#2658a4" opacity="0.81"/>
<ellipse cx="161.8" cy="828.4" rx="2.1" ry="2.0" fill="#2b68b4" opacity="1.00"/>
<ellipse cx="211.4" cy="810.8" rx="2.5" ry="2.6" fill="#2b68b4" opacity="0.82"/>
<ellipse cx="177.1" cy="817.7" rx="2.3" ry="2.4" fill="#2658a4" opacity="0.83"/>
<ellipse cx="137.4" cy="811.2" rx="1.9" ry="2.0" fill="#7ab0e0" opacity="0.83"/>
<ellipse cx="111.3" cy="820.7" rx="2.0" ry="2.0" fill="#9cc8e8" opacity="0.82"/>
<ellipse cx="198.7" cy="837.8" rx="1.8" ry="1.8" fill="#3070bc" opacity="0.99"/>
<ellipse cx="188.9" cy="775.9" rx="2.7" ry="2.5" fill="#3478c4" opacity="0.90"/>
<ellipse cx="156.7" cy="807.0" rx="2.2" ry="1.9" fill="#3478c4" opacity="0.88"/>
<ellipse cx="145.9" cy="770.4" rx="2.6" ry="2.9" fill="#3070bc" opacity="0.87"/>
<ellipse cx="123.9" cy="772.3" rx="1.8" ry="1.6" fill="#3070bc" opacity="0.81"/>
<ellipse cx="182.1" cy="830.0" rx="2.2" ry="2.3" fill="#2b68b4" opacity="0.93"/>
<ellipse cx="156.1" cy="800.2" rx="2.6" ry="2.3" fill="#2658a4" opacity="0.82"/>
<ellipse cx="184.6" cy="787.4" rx="2.3" ry="2.2" fill="#3070bc" opacity="0.99"/>
<ellipse cx="161.7" cy="771.0" rx="2.5" ry="2.6" fill="#3478c4" opacity="0.96"/>
<ellipse cx="205.8" cy="788.7" rx="1.9" ry="1.6" fill="#3f86cc" opacity="0.81"/>
<ellipse cx="153.0" cy="850.6" rx="2.1" ry="1.9" fill="#2b68b4" opacity="0.81"/>
<ellipse cx="184.5" cy="770.4" rx="1.8" ry="1.8" fill="#3070bc" opacity="0.93"/>
<ellipse cx="196.3" cy="790.1" rx="2.0" ry="1.9" fill="#2658a4" opacity="1.00"/>
<ellipse cx="187.8" cy="794.5" rx="2.4" ry="2.4" fill="#2b68b4" opacity="0.82"/>
<ellipse cx="198.1" cy="771.1" rx="2.1" ry="2.2" fill="#2658a4" opacity="0.85"/>
<ellipse cx="147.4" cy="841.4" rx="2.5" ry="2.0" fill="#2b68b4" opacity="0.86"/>
<ellipse cx="181.5" cy="778.5" rx="2.4" ry="2.3" fill="#2658a4" opacity="0.82"/>
<ellipse cx="203.4" cy="851.3" rx="2.1" ry="1.9" fill="#2b68b4" opacity="0.96"/>
<ellipse cx="171.5" cy="771.0" rx="2.1" ry="1.8" fill="#3070bc" opacity="0.90"/>
<ellipse cx="161.7" cy="837.0" rx="2.3" ry="2.0" fill="#2658a4" opacity="0.87"/>
<ellipse cx="183.8" cy="764.0" rx="2.3" ry="2.4" fill="#2658a4" opacity="0.89"/>
<ellipse cx="205.4" cy="826.6" rx="2.7" ry="2.4" fill="#3f86cc" opacity="0.94"/>
<ellipse cx="168.6" cy="755.2" rx="2.0" ry="1.8" fill="#2b68b4" opacity="0.83"/>
<ellipse cx="183.4" cy="754.8" rx="1.9" ry="1.7" fill="#2b68b4" opacity="0.92"/>
<ellipse cx="198.2" cy="816.4" rx="2.3" ry="2.2" fill="#2b68b4" opacity="0.96"/>
<ellipse cx="162.0" cy="800.5" rx="2.3" ry="2.4" fill="#3478c4" opacity="0.86"/>
<ellipse cx="143.1" cy="807.4" rx="2.3" ry="2.6" fill="#2658a4" opacity="1.00"/>
<ellipse cx="171.9" cy="783.8" rx="2.1" ry="1.9" fill="#2658a4" opacity="0.96"/>
<ellipse cx="215.0" cy="817.7" rx="2.5" ry="2.6" fill="#2658a4" opacity="0.92"/>
<ellipse cx="128.2" cy="823.8" rx="1.8" ry="1.8" fill="#9cc8e8" opacity="0.98"/>
<ellipse cx="219.3" cy="794.0" rx="2.4" ry="1.9" fill="#2b68b4" opacity="0.86"/>
<ellipse cx="146.3" cy="780.7" rx="2.1" ry="1.9" fill="#3070bc" opacity="0.85"/>
<ellipse cx="136.4" cy="774.7" rx="1.9" ry="1.6" fill="#9cc8e8" opacity="0.98"/>
<ellipse cx="207.9" cy="804.2" rx="1.9" ry="2.0" fill="#2b68b4" opacity="0.96"/>
<ellipse cx="123.7" cy="804.8" rx="1.8" ry="1.9" fill="#9cc8e8" opacity="0.87"/>
<ellipse cx="142.8" cy="797.0" rx="2.5" ry="2.7" fill="#2658a4" opacity="0.98"/>
<ellipse cx="134.7" cy="794.1" rx="2.2" ry="2.3" fill="#b8d8f0" opacity="0.89"/>
<ellipse cx="201.6" cy="845.1" rx="1.9" ry="1.6" fill="#2b68b4" opacity="0.97"/>
<ellipse cx="128.3" cy="811.2" rx="2.2" ry="2.1" fill="#9cc8e8" opacity="0.96"/>
<ellipse cx="158.2" cy="818.6" rx="2.2" ry="2.2" fill="#2b68b4" opacity="0.93"/>
<ellipse cx="178.0" cy="773.4" rx="2.6" ry="2.3" fill="#2b68b4" opacity="0.95"/>
<ellipse cx="140.4" cy="790.4" rx="2.1" ry="2.2" fill="#2658a4" opacity="0.95"/>
<ellipse cx="225.6" cy="813.6" rx="2.1" ry="2.3" fill="#3070bc" opacity="0.86"/>
<ellipse cx="194.9" cy="821.0" rx="1.7" ry="1.8" fill="#2b68b4" opacity="0.90"/>
<ellipse cx="133.2" cy="816.6" rx="1.9" ry="1.6" fill="#7ab0e0" opacity="0.95"/>
<ellipse cx="164.4" cy="817.0" rx="2.5" ry="2.2" fill="#3f86cc" opacity="0.83"/>
<ellipse cx="200.0" cy="761.4" rx="2.4" ry="2.4" fill="#2b68b4" opacity="0.88"/>
<ellipse cx="142.5" cy="836.9" rx="2.6" ry="2.6" fill="#2b68b4" opacity="0.91"/>
<ellipse cx="143.7" cy="829.7" rx="2.2" ry="2.4" fill="#3070bc" opacity="0.97"/>
<ellipse cx="167.9" cy="810.7" rx="2.4" ry="1.9" fill="#2b68b4" opacity="0.93"/>
<ellipse cx="179.6" cy="801.5" rx="2.0" ry="2.0" fill="#3f86cc" opacity="0.81"/>
<ellipse cx="149.3" cy="819.7" rx="1.8" ry="1.9" fill="#2b68b4" opacity="0.89"/>
<ellipse cx="177.8" cy="784.7" rx="2.3" ry="2.4" fill="#3070bc" opacity="0.80"/>
<ellipse cx="172.9" cy="803.9" rx="2.1" ry="2.0" fill="#2b68b4" opacity="0.96"/>
<ellipse cx="132.5" cy="850.5" rx="1.7" ry="1.5" fill="#7ab0e0" opacity="0.83"/>
<ellipse cx="184.2" cy="842.3" rx="2.2" ry="1.9" fill="#2b68b4" opacity="0.82"/>
<ellipse cx="118.5" cy="828.7" rx="1.8" ry="1.8" fill="#9cc8e8" opacity="0.94"/>
<ellipse cx="125.4" cy="787.7" rx="2.3" ry="2.5" fill="#3070bc" opacity="0.88"/>
<ellipse cx="123.1" cy="818.6" rx="2.3" ry="2.1" fill="#7ab0e0" opacity="0.99"/>
<ellipse cx="117.9" cy="800.5" rx="2.1" ry="2.0" fill="#b8d8f0" opacity="0.98"/>
<ellipse cx="145.5" cy="815.4" rx="2.6" ry="2.6" fill="#2b68b4" opacity="0.94"/>
<ellipse cx="124.4" cy="839.1" rx="2.7" ry="2.9" fill="#3f86cc" opacity="0.96"/>
<ellipse cx="168.4" cy="823.1" rx="2.2" ry="2.1" fill="#2b68b4" opacity="0.86"/>
<ellipse cx="151.1" cy="804.6" rx="2.3" ry="2.2" fill="#2658a4" opacity="0.83"/>
<ellipse cx="183.2" cy="818.3" rx="2.4" ry="2.4" fill="#2b68b4" opacity="0.95"/>
<ellipse cx="138.2" cy="782.2" rx="2.1" ry="1.8" fill="#7ab0e0" opacity="0.86"/>
<ellipse cx="201.9" cy="776.4" rx="2.6" ry="2.2" fill="#2658a4" opacity="0.87"/>
<ellipse cx="171.5" cy="816.4" rx="1.8" ry="1.9" fill="#2658a4" opacity="0.98"/>
<ellipse cx="176.8" cy="796.6" rx="2.1" ry="2.3" fill="#2b68b4" opacity="0.93"/>
<ellipse cx="129.4" cy="805.1" rx="2.4" ry="2.0" fill="#b8d8f0" opacity="0.89"/>
<ellipse cx="171.1" cy="852.2" rx="2.0" ry="1.6" fill="#2b68b4" opacity="0.98"/>
<ellipse cx="144.0" cy="852.2" rx="1.8" ry="1.4" fill="#3478c4" opacity="0.98"/>
<ellipse cx="173.4" cy="842.9" rx="2.1" ry="2.0" fill="#3f86cc" opacity="0.98"/>
<ellipse cx="186.1" cy="804.9" rx="2.0" ry="1.7" fill="#3f86cc" opacity="0.93"/>
<ellipse cx="154.7" cy="785.6" rx="2.2" ry="2.4" fill="#3478c4" opacity="0.98"/>
<ellipse cx="152.9" cy="769.7" rx="2.4" ry="2.3" fill="#2658a4" opacity="0.90"/>
<ellipse cx="109.0" cy="792.7" rx="2.2" ry="2.1" fill="#9cc8e8" opacity="0.85"/>
<ellipse cx="177.3" cy="826.4" rx="1.7" ry="1.6" fill="#2b68b4" opacity="0.86"/>
<ellipse cx="229.0" cy="800.7" rx="2.7" ry="2.8" fill="#2b68b4" opacity="0.86"/>
<ellipse cx="161.4" cy="761.2" rx="2.1" ry="2.2" fill="#3070bc" opacity="0.99"/>
<ellipse cx="192.6" cy="835.8" rx="2.2" ry="2.3" fill="#3f86cc" opacity="0.81"/>
<ellipse cx="173.7" cy="757.6" rx="2.3" ry="2.0" fill="#2b68b4" opacity="0.89"/>
<ellipse cx="136.2" cy="828.7" rx="2.4" ry="2.2" fill="#9cc8e8" opacity="0.86"/>
<ellipse cx="200.5" cy="783.5" rx="2.1" ry="2.0" fill="#2b68b4" opacity="0.87"/>
<ellipse cx="135.1" cy="837.2" rx="1.9" ry="1.8" fill="#2658a4" opacity="0.92"/>
<ellipse cx="192.7" cy="843.3" rx="2.1" ry="1.8" fill="#3070bc" opacity="0.86"/>
<ellipse cx="161.9" cy="787.4" rx="2.3" ry="2.5" fill="#3070bc" opacity="0.83"/>
<ellipse cx="203.7" cy="818.3" rx="2.6" ry="2.2" fill="#2b68b4" opacity="0.82"/>
<ellipse cx="233.7" cy="825.0" rx="2.4" ry="2.2" fill="#3f86cc" opacity="0.93"/>
<ellipse cx="118.0" cy="821.9" rx="1.7" ry="1.7" fill="#7ab0e0" opacity="0.99"/>
<ellipse cx="192.1" cy="827.5" rx="2.1" ry="1.8" fill="#3f86cc" opacity="0.84"/>
<ellipse cx="192.2" cy="785.4" rx="1.8" ry="1.5" fill="#3070bc" opacity="0.94"/>
<ellipse cx="170.0" cy="797.2" rx="2.5" ry="2.6" fill="#3f86cc" opacity="0.97"/>
<ellipse cx="122.9" cy="793.5" rx="1.8" ry="1.5" fill="#7ab0e0" opacity="1.00"/>
<ellipse cx="179.8" cy="836.7" rx="1.8" ry="1.5" fill="#3070bc" opacity="0.91"/>
<ellipse cx="143.1" cy="845.3" rx="1.7" ry="1.5" fill="#2658a4" opacity="0.89"/>
<ellipse cx="159.2" cy="752.7" rx="2.4" ry="2.3" fill="#2b68b4" opacity="0.93"/>
<ellipse cx="213.8" cy="805.7" rx="2.0" ry="1.8" fill="#3070bc" opacity="0.88"/>
<ellipse cx="189.9" cy="753.6" rx="1.7" ry="1.4" fill="#3070bc" opacity="0.86"/>
<ellipse cx="212.3" cy="790.7" rx="2.3" ry="2.4" fill="#3478c4" opacity="0.87"/>
<ellipse cx="162.2" cy="853.5" rx="1.9" ry="1.6" fill="#3070bc" opacity="0.94"/>
<ellipse cx="189.9" cy="799.9" rx="2.2" ry="1.9" fill="#2658a4" opacity="0.94"/>
<ellipse cx="167.2" cy="803.0" rx="2.6" ry="2.3" fill="#2b68b4" opacity="0.88"/>
<ellipse cx="180.7" cy="808.5" rx="2.5" ry="2.5" fill="#3070bc" opacity="0.92"/>
<ellipse cx="205.5" cy="757.2" rx="1.8" ry="1.5" fill="#2b68b4" opacity="0.82"/>
<ellipse cx="163.0" cy="792.9" rx="2.6" ry="2.1" fill="#3478c4" opacity="0.91"/>
<ellipse cx="214.1" cy="768.3" rx="2.7" ry="2.2" fill="#2658a4" opacity="0.90"/>
<ellipse cx="214.7" cy="844.7" rx="2.2" ry="2.3" fill="#2b68b4" opacity="0.96"/>
<ellipse cx="221.6" cy="839.2" rx="2.2" ry="2.1" fill="#2b68b4" opacity="0.87"/>
<ellipse cx="129.4" cy="830.3" rx="2.0" ry="1.6" fill="#b8d8f0" opacity="0.86"/>
<ellipse cx="204.9" cy="768.0" rx="2.5" ry="2.4" fill="#3070bc" opacity="0.99"/>
<ellipse cx="169.3" cy="747.7" rx="1.8" ry="1.8" fill="#3478c4" opacity="0.85"/>
<ellipse cx="231.2" cy="814.4" rx="2.0" ry="1.7" fill="#3070bc" opacity="0.82"/>
<ellipse cx="186.3" cy="781.4" rx="2.1" ry="2.0" fill="#3478c4" opacity="0.87"/>
<ellipse cx="215.0" cy="829.1" rx="2.6" ry="2.5" fill="#3070bc" opacity="0.88"/>
<ellipse cx="227.0" cy="789.6" rx="2.4" ry="2.1" fill="#2b68b4" opacity="0.94"/>
<ellipse cx="129.5" cy="762.2" rx="2.4" ry="2.4" fill="#3478c4" opacity="0.89"/>
<ellipse cx="210.6" cy="784.7" rx="2.6" ry="2.3" fill="#3070bc" opacity="0.83"/>
<ellipse cx="133.4" cy="787.9" rx="1.9" ry="1.6" fill="#b8d8f0" opacity="0.95"/>
<ellipse cx="181.6" cy="861.6" rx="1.7" ry="1.6" fill="#3478c4" opacity="0.99"/>
<ellipse cx="190.1" cy="816.7" rx="2.0" ry="1.8" fill="#2658a4" opacity="0.85"/>
<ellipse cx="144.4" cy="822.7" rx="2.5" ry="2.3" fill="#2b68b4" opacity="0.83"/>
<ellipse cx="134.2" cy="766.6" rx="1.9" ry="1.8" fill="#3f86cc" opacity="0.85"/>
<ellipse cx="192.6" cy="761.3" rx="2.2" ry="2.1" fill="#3478c4" opacity="0.90"/>
<ellipse cx="229.7" cy="794.7" rx="2.1" ry="2.0" fill="#2b68b4" opacity="0.83"/>
<ellipse cx="120.9" cy="834.6" rx="2.0" ry="2.0" fill="#b8d8f0" opacity="0.91"/>
<ellipse cx="196.0" cy="795.9" rx="2.2" ry="2.0" fill="#2b68b4" opacity="0.95"/>
<ellipse cx="217.0" cy="835.5" rx="1.9" ry="1.6" fill="#2658a4" opacity="0.84"/>
<ellipse cx="129.8" cy="775.3" rx="2.1" ry="1.9" fill="#b8d8f0" opacity="0.93"/>
<ellipse cx="149.1" cy="825.9" rx="1.9" ry="2.0" fill="#3478c4" opacity="0.85"/>
<ellipse cx="168.3" cy="765.8" rx="1.7" ry="1.5" fill="#3070bc" opacity="0.95"/>
<ellipse cx="203.2" cy="795.4" rx="1.9" ry="1.8" fill="#3478c4" opacity="0.91"/>
<ellipse cx="174.5" cy="809.8" rx="1.8" ry="1.8" fill="#3478c4" opacity="0.95"/>
<ellipse cx="204.8" cy="811.4" rx="1.8" ry="1.9" fill="#3f86cc" opacity="0.88"/>
<ellipse cx="172.9" cy="790.0" rx="2.3" ry="2.2" fill="#2658a4" opacity="0.92"/>
<ellipse cx="175.8" cy="862.7" rx="2.2" ry="2.2" fill="#2658a4" opacity="0.98"/>
<ellipse cx="223.4" cy="820.2" rx="2.5" ry="2.6" fill="#2b68b4" opacity="0.96"/>
<ellipse cx="180.2" cy="792.1" rx="2.1" ry="1.8" fill="#3f86cc" opacity="0.91"/>
<ellipse cx="161.9" cy="860.8" rx="1.9" ry="1.6" fill="#3f86cc" opacity="0.95"/>
<ellipse cx="129.5" cy="836.5" rx="2.5" ry="2.5" fill="#2b68b4" opacity="1.00"/>
<ellipse cx="222.6" cy="806.0" rx="2.4" ry="2.0" fill="#3f86cc" opacity="0.81"/>
<ellipse cx="187.0" cy="836.5" rx="1.8" ry="1.7" fill="#2658a4" opacity="0.97"/>
<ellipse cx="204.6" cy="839.0" rx="2.4" ry="2.3" fill="#2b68b4" opacity="0.80"/>
<ellipse cx="219.6" cy="773.7" rx="1.8" ry="2.0" fill="#3f86cc" opacity="0.98"/>
<ellipse cx="178.0" cy="848.9" rx="2.5" ry="2.6" fill="#2b68b4" opacity="0.81"/>
<ellipse cx="211.2" cy="824.5" rx="1.8" ry="1.9" fill="#3478c4" opacity="0.85"/>
<ellipse cx="226.9" cy="777.0" rx="2.0" ry="2.1" fill="#2658a4" opacity="0.88"/>
<ellipse cx="139.0" cy="849.5" rx="1.8" ry="1.8" fill="#7ab0e0" opacity="0.96"/>
<ellipse cx="190.2" cy="849.6" rx="2.4" ry="2.6" fill="#2b68b4" opacity="0.94"/>
<ellipse cx="236.2" cy="802.6" rx="1.8" ry="1.6" fill="#2b68b4" opacity="0.97"/>
<ellipse cx="208.9" cy="816.1" rx="2.3" ry="2.2" fill="#2b68b4" opacity="0.87"/>
<ellipse cx="147.0" cy="760.5" rx="2.5" ry="2.6" fill="#3070bc" opacity="0.98"/>
<ellipse cx="156.1" cy="794.3" rx="2.5" ry="2.1" fill="#3070bc" opacity="0.89"/>
<ellipse cx="119.5" cy="778.0" rx="2.0" ry="1.7" fill="#9cc8e8" opacity="0.85"/>
<ellipse cx="177.9" cy="855.3" rx="2.2" ry="2.0" fill="#2b68b4" opacity="0.83"/>
<ellipse cx="229.2" cy="830.0" rx="2.0" ry="2.0" fill="#2b68b4" opacity="0.88"/>
<ellipse cx="175.7" cy="778.7" rx="1.8" ry="2.0" fill="#3478c4" opacity="0.95"/>
<ellipse cx="201.2" cy="752.9" rx="2.2" ry="1.8" fill="#3478c4" opacity="0.90"/>
<ellipse cx="109.6" cy="829.7" rx="1.9" ry="1.9" fill="#9cc8e8" opacity="0.88"/>
<ellipse cx="166.1" cy="840.5" rx="2.0" ry="1.9" fill="#2658a4" opacity="0.93"/>
<ellipse cx="139.7" cy="856.2" rx="1.7" ry="1.6" fill="#9cc8e8" opacity="0.98"/>
<ellipse cx="187.0" cy="855.5" rx="2.0" ry="2.1" fill="#3478c4" opacity="0.84"/>
<ellipse cx="112.5" cy="804.5" rx="2.3" ry="1.9" fill="#b8d8f0" opacity="0.95"/>
<ellipse cx="178.7" cy="760.8" rx="1.9" ry="1.8" fill="#2658a4" opacity="0.96"/>
<ellipse cx="152.2" cy="756.6" rx="2.3" ry="2.3" fill="#3070bc" opacity="0.99"/>
<ellipse cx="233.8" cy="785.1" rx="2.6" ry="2.7" fill="#3478c4" opacity="0.97"/>
<ellipse cx="149.3" cy="797.8" rx="1.8" ry="1.9" fill="#2b68b4" opacity="0.99"/>
<ellipse cx="139.8" cy="769.9" rx="2.2" ry="2.2" fill="#7ab0e0" opacity="0.95"/>
<ellipse cx="110.9" cy="778.9" rx="2.4" ry="2.5" fill="#7ab0e0" opacity="0.92"/>
<ellipse cx="224.2" cy="782.0" rx="1.8" ry="1.8" fill="#3478c4" opacity="0.94"/>
<ellipse cx="126.2" cy="844.4" rx="2.1" ry="2.1" fill="#b8d8f0" opacity="0.96"/>
<ellipse cx="139.4" cy="817.5" rx="2.5" ry="2.0" fill="#b8d8f0" opacity="0.95"/>
<ellipse cx="167.5" cy="858.9" rx="1.9" ry="1.7" fill="#2b68b4" opacity="0.84"/>
<ellipse cx="147.5" cy="858.0" rx="2.7" ry="2.8" fill="#2b68b4" opacity="0.91"/>
<ellipse cx="104.9" cy="805.6" rx="2.6" ry="2.7" fill="#7ab0e0" opacity="0.90"/>
<ellipse cx="200.0" cy="823.5" rx="2.5" ry="2.7" fill="#2b68b4" opacity="0.85"/>
<ellipse cx="177.6" cy="751.8" rx="1.9" ry="1.9" fill="#3070bc" opacity="0.84"/>
<ellipse cx="134.7" cy="843.0" rx="2.6" ry="2.6" fill="#7ab0e0" opacity="0.82"/>
<ellipse cx="198.3" cy="857.4" rx="1.8" ry="1.7" fill="#2658a4" opacity="0.99"/>
<ellipse cx="210.0" cy="762.3" rx="1.9" ry="1.6" fill="#2b68b4" opacity="0.83"/>
<ellipse cx="162.5" cy="822.6" rx="1.7" ry="1.4" fill="#3070bc" opacity="0.82"/>
<ellipse cx="216.1" cy="779.2" rx="2.6" ry="2.1" fill="#2b68b4" opacity="0.91"/>
<ellipse cx="156.9" cy="846.5" rx="2.6" ry="2.2" fill="#2b68b4" opacity="0.93"/>
<ellipse cx="151.8" cy="750.9" rx="1.9" ry="1.8" fill="#2658a4" opacity="0.98"/>
<ellipse cx="165.6" cy="782.5" rx="2.1" ry="1.7" fill="#2658a4" opacity="0.99"/>
<ellipse cx="225.2" cy="771.4" rx="1.8" ry="1.6" fill="#3478c4" opacity="0.82"/>
<ellipse cx="145.9" cy="802.3" rx="2.1" ry="2.3" fill="#2658a4" opacity="0.86"/>
<ellipse cx="229.6" cy="806.8" rx="2.6" ry="2.6" fill="#3478c4" opacity="0.87"/>
<circle cx="121.7" cy="786.0" r="0.7" fill="#2b68b4" opacity="0.45"/>
<circle cx="152.9" cy="767.1" r="0.6" fill="#3070bc" opacity="0.45"/>
<circle cx="160.8" cy="837.5" r="0.8" fill="#2b68b4" opacity="0.45"/>
<circle cx="144.5" cy="823.4" r="0.8" fill="#2658a4" opacity="0.45"/>
<circle cx="188.8" cy="813.6" r="0.9" fill="#3070bc" opacity="0.45"/>
<circle cx="227.0" cy="803.4" r="0.7" fill="#3f86cc" opacity="0.45"/>
<circle cx="219.2" cy="780.2" r="0.6" fill="#3f86cc" opacity="0.45"/>
<circle cx="177.6" cy="764.0" r="0.7" fill="#2b68b4" opacity="0.45"/>
<circle cx="170.5" cy="851.8" r="0.9" fill="#2658a4" opacity="0.45"/>
<circle cx="176.9" cy="849.6" r="0.8" fill="#3f86cc" opacity="0.45"/>
<circle cx="218.3" cy="785.6" r="1.0" fill="#3f86cc" opacity="0.45"/>
<circle cx="148.7" cy="832.5" r="0.7" fill="#2658a4" opacity="0.45"/>
<circle cx="173.4" cy="827.7" r="0.6" fill="#2b68b4" opacity="0.45"/>
<circle cx="196.0" cy="758.9" r="0.6" fill="#3f86cc" opacity="0.45"/>
<circle cx="188.4" cy="801.9" r="1.0" fill="#2b68b4" opacity="0.45"/>
<circle cx="140.1" cy="831.7" r="0.6" fill="#2b68b4" opacity="0.45"/>
<circle cx="174.9" cy="817.4" r="0.8" fill="#3070bc" opacity="0.45"/>
<circle cx="135.9" cy="780.5" r="0.7" fill="#2658a4" opacity="0.45"/>
<circle cx="188.8" cy="837.0" r="1.0" fill="#3f86cc" opacity="0.45"/>
<circle cx="128.6" cy="821.8" r="0.7" fill="#2658a4" opacity="0.45"/>
<circle cx="190.7" cy="851.9" r="0.8" fill="#3070bc" opacity="0.45"/>
<circle cx="168.1" cy="755.2" r="1.1" fill="#3f86cc" opacity="0.45"/>
<circle cx="111.9" cy="807.3" r="0.7" fill="#3478c4" opacity="0.45"/>
<circle cx="152.5" cy="847.3" r="0.7" fill="#2b68b4" opacity="0.45"/>
<circle cx="129.9" cy="796.0" r="1.1" fill="#3f86cc" opacity="0.45"/>
<circle cx="148.5" cy="847.0" r="0.6" fill="#3478c4" opacity="0.45"/>
<circle cx="178.0" cy="839.7" r="0.9" fill="#2b68b4" opacity="0.45"/>
<circle cx="151.2" cy="808.7" r="0.7" fill="#2658a4" opacity="0.45"/>
<circle cx="208.3" cy="771.0" r="0.9" fill="#2b68b4" opacity="0.45"/>
<circle cx="165.5" cy="783.8" r="0.6" fill="#3478c4" opacity="0.45"/>
<circle cx="192.2" cy="841.2" r="0.7" fill="#3070bc" opacity="0.45"/>
<circle cx="151.9" cy="759.4" r="0.8" fill="#2658a4" opacity="0.45"/>
<circle cx="199.6" cy="835.3" r="0.9" fill="#2b68b4" opacity="0.45"/>
<circle cx="131.2" cy="768.7" r="1.1" fill="#2b68b4" opacity="0.45"/>
<circle cx="149.7" cy="803.6" r="1.0" fill="#2b68b4" opacity="0.45"/>
<circle cx="162.9" cy="829.1" r="0.6" fill="#3478c4" opacity="0.45"/>
<circle cx="168.5" cy="826.9" r="0.7" fill="#3070bc" opacity="0.45"/>
<circle cx="136.0" cy="838.9" r="1.0" fill="#2658a4" opacity="0.45"/>
<circle cx="155.8" cy="754.8" r="0.7" fill="#3478c4" opacity="0.45"/>
<circle cx="170.4" cy="770.4" r="1.1" fill="#2b68b4" opacity="0.45"/>
<circle cx="208.1" cy="812.8" r="0.9" fill="#3478c4" opacity="0.45"/>
<circle cx="158.4" cy="835.1" r="0.6" fill="#2b68b4" opacity="0.45"/>
<circle cx="139.1" cy="767.6" r="0.7" fill="#3070bc" opacity="0.45"/>
<circle cx="187.8" cy="806.4" r="0.8" fill="#3f86cc" opacity="0.45"/>
<circle cx="167.2" cy="787.0" r="1.0" fill="#2658a4" opacity="0.45"/>
<circle cx="133.0" cy="785.0" r="1.0" fill="#3070bc" opacity="0.45"/>
<circle cx="171.7" cy="855.0" r="1.0" fill="#2b68b4" opacity="0.45"/>
<circle cx="167.9" cy="788.8" r="1.1" fill="#2658a4" opacity="0.45"/>
<circle cx="194.5" cy="848.2" r="0.7" fill="#2658a4" opacity="0.45"/>
<circle cx="217.1" cy="809.0" r="0.7" fill="#2658a4" opacity="0.45"/>
<circle cx="150.1" cy="819.2" r="0.9" fill="#2b68b4" opacity="0.45"/>
<circle cx="214.6" cy="807.5" r="0.8" fill="#2658a4" opacity="0.45"/>
<circle cx="150.3" cy="782.9" r="1.0" fill="#3f86cc" opacity="0.45"/>
<circle cx="183.1" cy="786.0" r="0.7" fill="#2b68b4" opacity="0.45"/>
<circle cx="207.0" cy="834.8" r="0.7" fill="#3478c4" opacity="0.45"/>
<circle cx="160.0" cy="838.4" r="0.7" fill="#2658a4" opacity="0.45"/>
<circle cx="111.8" cy="807.1" r="0.6" fill="#3478c4" opacity="0.45"/>
<circle cx="183.9" cy="828.5" r="1.0" fill="#2b68b4" opacity="0.45"/>
<circle cx="137.0" cy="796.9" r="0.8" fill="#2658a4" opacity="0.45"/>
<circle cx="201.6" cy="808.4" r="0.9" fill="#2b68b4" opacity="0.45"/>
<circle cx="178.2" cy="784.4" r="0.7" fill="#2b68b4" opacity="0.45"/>
<circle cx="136.7" cy="811.6" r="0.6" fill="#3478c4" opacity="0.45"/>
<circle cx="169.5" cy="799.5" r="0.7" fill="#3f86cc" opacity="0.45"/>
<circle cx="221.3" cy="798.8" r="0.6" fill="#3478c4" opacity="0.45"/>
<circle cx="222.8" cy="793.0" r="0.8" fill="#3070bc" opacity="0.45"/>
<circle cx="189.1" cy="765.4" r="1.1" fill="#3478c4" opacity="0.45"/>
<circle cx="214.0" cy="828.3" r="1.0" fill="#3070bc" opacity="0.45"/>
<circle cx="164.1" cy="844.3" r="1.0" fill="#3f86cc" opacity="0.45"/>
<circle cx="219.2" cy="785.8" r="0.9" fill="#2b68b4" opacity="0.45"/>
<circle cx="150.7" cy="776.7" r="0.7" fill="#3478c4" opacity="0.45"/>
<circle cx="175.2" cy="810.0" r="0.9" fill="#3478c4" opacity="0.45"/>
<circle cx="205.8" cy="772.1" r="0.9" fill="#2b68b4" opacity="0.45"/>
<circle cx="164.9" cy="761.0" r="0.9" fill="#2658a4" opacity="0.45"/>
<circle cx="167.4" cy="849.5" r="0.7" fill="#2b68b4" opacity="0.45"/>
<circle cx="195.3" cy="810.8" r="0.7" fill="#3f86cc" opacity="0.45"/>
<circle cx="173.3" cy="758.3" r="1.0" fill="#2658a4" opacity="0.45"/>
<circle cx="143.5" cy="785.2" r="1.0" fill="#2b68b4" opacity="0.45"/>
<circle cx="133.7" cy="786.2" r="1.0" fill="#3f86cc" opacity="0.45"/>
<circle cx="208.1" cy="789.5" r="0.6" fill="#3478c4" opacity="0.45"/>
<circle cx="161.8" cy="843.3" r="1.0" fill="#2658a4" opacity="0.45"/>
<circle cx="156.1" cy="837.5" r="1.1" fill="#2b68b4" opacity="0.45"/>
<circle cx="113.0" cy="794.8" r="1.0" fill="#2b68b4" opacity="0.45"/>
<circle cx="152.6" cy="797.2" r="0.9" fill="#3070bc" opacity="0.45"/>
<circle cx="182.4" cy="801.4" r="0.8" fill="#2b68b4" opacity="0.45"/>
<circle cx="151.2" cy="795.7" r="1.0" fill="#2b68b4" opacity="0.45"/>
<circle cx="147.6" cy="802.9" r="0.8" fill="#3f86cc" opacity="0.45"/>
<circle cx="161.9" cy="849.4" r="0.9" fill="#2658a4" opacity="0.45"/>
<circle cx="183.7" cy="786.4" r="1.1" fill="#2658a4" opacity="0.45"/>
<circle cx="169.1" cy="792.1" r="0.9" fill="#3478c4" opacity="0.45"/>
<circle cx="166.6" cy="835.3" r="1.0" fill="#3f86cc" opacity="0.45"/>
<circle cx="125.7" cy="825.9" r="0.9" fill="#2b68b4" opacity="0.45"/>
<circle cx="208.7" cy="768.0" r="0.8" fill="#3f86cc" opacity="0.45"/>
<circle cx="118.8" cy="793.6" r="1.0" fill="#3f86cc" opacity="0.45"/>
<circle cx="139.0" cy="848.9" r="0.6" fill="#3f86cc" opacity="0.45"/>
<circle cx="205.6" cy="820.2" r="1.1" fill="#2b68b4" opacity="0.45"/>
<circle cx="187.3" cy="805.2" r="1.0" fill="#2658a4" opacity="0.45"/>
<circle cx="178.1" cy="787.5" r="1.0" fill="#3f86cc" opacity="0.45"/>
<circle cx="155.4" cy="843.3" r="1.0" fill="#2658a4" opacity="0.45"/>
<circle cx="142.8" cy="770.8" r="0.6" fill="#3f86cc" opacity="0.45"/>
<circle cx="158.0" cy="833.1" r="0.9" fill="#2658a4" opacity="0.45"/>
<circle cx="134.9" cy="818.2" r="0.8" fill="#2658a4" opacity="0.45"/>
<circle cx="178.2" cy="840.3" r="0.8" fill="#3f86cc" opacity="0.45"/>
<circle cx="196.1" cy="795.9" r="0.8" fill="#3070bc" opacity="0.45"/>
<circle cx="178.1" cy="847.4" r="0.7" fill="#2b68b4" opacity="0.45"/>
<circle cx="219.9" cy="795.7" r="0.9" fill="#2b68b4" opacity="0.45"/>
<circle cx="149.5" cy="788.9" r="0.6" fill="#2b68b4" opacity="0.45"/>
<circle cx="142.0" cy="790.0" r="0.7" fill="#2b68b4" opacity="0.45"/>
<circle cx="112.2" cy="794.5" r="0.9" fill="#2658a4" opacity="0.45"/>
<circle cx="171.5" cy="811.9" r="1.0" fill="#3f86cc" opacity="0.45"/>
<circle cx="206.1" cy="810.6" r="0.8" fill="#2658a4" opacity="0.45"/>
<circle cx="182.6" cy="755.5" r="0.8" fill="#2658a4" opacity="0.45"/>
<circle cx="188.4" cy="765.2" r="0.7" fill="#3f86cc" opacity="0.45"/>
<circle cx="161.9" cy="809.7" r="0.7" fill="#2b68b4" opacity="0.45"/>
<circle cx="210.7" cy="769.3" r="0.7" fill="#2b68b4" opacity="0.45"/>
<circle cx="200.6" cy="811.9" r="0.9" fill="#3070bc" opacity="0.45"/>
<circle cx="205.4" cy="799.2" r="0.6" fill="#2b68b4" opacity="0.45"/>
<circle cx="212.0" cy="772.5" r="1.0" fill="#3478c4" opacity="0.45"/>
<circle cx="144.4" cy="760.0" r="0.8" fill="#2b68b4" opacity="0.45"/>
<circle cx="142.3" cy="808.1" r="1.0" fill="#2b68b4" opacity="0.45"/>
<circle cx="180.7" cy="762.9" r="0.9" fill="#3478c4" opacity="0.45"/>
<circle cx="202.7" cy="838.1" r="1.0" fill="#3f86cc" opacity="0.45"/>
<circle cx="207.2" cy="837.7" r="0.8" fill="#2658a4" opacity="0.45"/>
<circle cx="156.3" cy="796.6" r="1.0" fill="#3070bc" opacity="0.45"/>
<circle cx="163.0" cy="829.0" r="1.1" fill="#3478c4" opacity="0.45"/>
<circle cx="117.8" cy="827.4" r="0.7" fill="#3070bc" opacity="0.45"/>
<circle cx="148.2" cy="835.2" r="0.8" fill="#3f86cc" opacity="0.45"/>
<circle cx="168.5" cy="777.0" r="0.7" fill="#2b68b4" opacity="0.45"/>
<circle cx="188.0" cy="820.8" r="0.8" fill="#3f86cc" opacity="0.45"/>
<circle cx="177.7" cy="765.4" r="0.7" fill="#3478c4" opacity="0.45"/>
<circle cx="128.4" cy="816.9" r="0.8" fill="#3478c4" opacity="0.45"/>
<circle cx="175.3" cy="818.7" r="0.8" fill="#2658a4" opacity="0.45"/>
<circle cx="196.1" cy="804.1" r="0.7" fill="#2658a4" opacity="0.45"/>
<circle cx="225.4" cy="809.2" r="0.6" fill="#2658a4" opacity="0.45"/>
<circle cx="159.8" cy="853.8" r="0.9" fill="#2658a4" opacity="0.45"/>
<circle cx="171.4" cy="789.1" r="0.6" fill="#3f86cc" opacity="0.45"/>
<circle cx="219.1" cy="810.1" r="0.9" fill="#2b68b4" opacity="0.45"/>
<circle cx="185.8" cy="759.2" r="0.6" fill="#3478c4" opacity="0.45"/>
<circle cx="145.3" cy="836.1" r="0.9" fill="#2b68b4" opacity="0.45"/>
<circle cx="158.9" cy="835.5" r="1.0" fill="#3070bc" opacity="0.45"/>
<circle cx="145.7" cy="838.1" r="0.9" fill="#3070bc" opacity="0.45"/>
<circle cx="193.3" cy="809.5" r="0.9" fill="#3f86cc" opacity="0.45"/>
<circle cx="152.0" cy="847.3" r="1.0" fill="#2658a4" opacity="0.45"/>
<circle cx="185.3" cy="796.3" r="0.9" fill="#2b68b4" opacity="0.45"/>
<circle cx="191.8" cy="770.3" r="1.0" fill="#2658a4" opacity="0.45"/>
<circle cx="188.7" cy="759.9" r="0.6" fill="#2b68b4" opacity="0.45"/>
<circle cx="147.3" cy="780.1" r="1.1" fill="#3f86cc" opacity="0.45"/>
<circle cx="211.4" cy="812.9" r="1.0" fill="#3478c4" opacity="0.45"/>
<circle cx="194.5" cy="821.1" r="1.0" fill="#2658a4" opacity="0.45"/>
<circle cx="169.5" cy="836.4" r="0.8" fill="#2658a4" opacity="0.45"/>
<circle cx="179.9" cy="763.1" r="1.0" fill="#3f86cc" opacity="0.45"/>
<circle cx="215.1" cy="785.1" r="0.7" fill="#2b68b4" opacity="0.45"/>
<circle cx="142.8" cy="842.5" r="1.0" fill="#2658a4" opacity="0.45"/>
<circle cx="165.2" cy="843.0" r="0.9" fill="#2658a4" opacity="0.45"/>
<circle cx="162.6" cy="761.3" r="0.9" fill="#2b68b4" opacity="0.45"/>
<circle cx="210.2" cy="792.3" r="0.7" fill="#2b68b4" opacity="0.45"/>
<circle cx="203.5" cy="826.5" r="0.7" fill="#3f86cc" opacity="0.45"/>
<circle cx="145.0" cy="837.3" r="1.0" fill="#2658a4" opacity="0.45"/>
<circle cx="194.5" cy="771.3" r="0.9" fill="#2b68b4" opacity="0.45"/>
<circle cx="162.7" cy="840.9" r="0.7" fill="#2b68b4" opacity="0.45"/>
<circle cx="153.4" cy="810.1" r="0.8" fill="#2b68b4" opacity="0.45"/>
<circle cx="152.3" cy="790.3" r="0.8" fill="#3070bc" opacity="0.45"/>
<circle cx="185.4" cy="814.3" r="1.1" fill="#2b68b4" opacity="0.45"/>
<circle cx="167.4" cy="853.2" r="0.9" fill="#2658a4" opacity="0.45"/>
<circle cx="177.2" cy="811.5" r="0.7" fill="#3478c4" opacity="0.45"/>
<circle cx="151.5" cy="800.8" r="1.1" fill="#2658a4" opacity="0.45"/>
<circle cx="194.6" cy="828.7" r="0.6" fill="#3478c4" opacity="0.45"/>
<circle cx="175.5" cy="850.9" r="0.8" fill="#2b68b4" opacity="0.45"/>
<circle cx="154.4" cy="798.7" r="1.1" fill="#3f86cc" opacity="0.45"/>
<circle cx="190.9" cy="767.6" r="0.9" fill="#2658a4" opacity="0.45"/>
<circle cx="185.1" cy="787.9" r="0.8" fill="#2658a4" opacity="0.45"/>
<circle cx="215.1" cy="799.9" r="0.8" fill="#2658a4" opacity="0.45"/>
<circle cx="133.6" cy="788.3" r="0.6" fill="#3070bc" opacity="0.45"/>
<circle cx="169.0" cy="837.6" r="0.8" fill="#3478c4" opacity="0.45"/>
<circle cx="167.0" cy="811.4" r="1.0" fill="#3070bc" opacity="0.45"/>
<circle cx="200.2" cy="763.3" r="0.9" fill="#2b68b4" opacity="0.45"/>
<circle cx="163.9" cy="801.9" r="0.8" fill="#2658a4" opacity="0.45"/>
<circle cx="162.9" cy="817.2" r="0.9" fill="#3f86cc" opacity="0.45"/>
<circle cx="174.2" cy="832.1" r="0.6" fill="#2b68b4" opacity="0.45"/>
<circle cx="222.8" cy="821.1" r="0.9" fill="#2b68b4" opacity="0.45"/>
<circle cx="172.3" cy="763.5" r="0.6" fill="#2658a4" opacity="0.45"/>
<circle cx="160.3" cy="758.2" r="0.8" fill="#3f86cc" opacity="0.45"/>
<circle cx="155.3" cy="821.9" r="1.0" fill="#2658a4" opacity="0.45"/>
<circle cx="202.7" cy="815.2" r="0.9" fill="#3f86cc" opacity="0.45"/>
<circle cx="210.1" cy="799.6" r="0.8" fill="#3f86cc" opacity="0.45"/>
<circle cx="224.3" cy="821.1" r="0.9" fill="#3070bc" opacity="0.45"/>
<circle cx="155.0" cy="789.2" r="0.9" fill="#2b68b4" opacity="0.45"/>
<ellipse cx="143.0" cy="868.0" rx="44.7" ry="48.2" fill="#f3cfe2" opacity="0.42" filter="url(#b4)" transform="rotate(0 143.0 868.0)"/>
<ellipse cx="192.2" cy="851.4" rx="1.9" ry="1.5" fill="#c8407a" opacity="0.83"/>
<ellipse cx="175.9" cy="819.9" rx="2.0" ry="2.1" fill="#d0408a" opacity="0.99"/>
<ellipse cx="124.1" cy="824.6" rx="2.2" ry="2.0" fill="#b8407a" opacity="0.89"/>
<ellipse cx="152.7" cy="902.8" rx="2.5" ry="2.1" fill="#c8509a" opacity="0.92"/>
<ellipse cx="108.1" cy="846.0" rx="1.9" ry="1.9" fill="#c8407a" opacity="0.99"/>
<ellipse cx="136.0" cy="894.1" rx="2.5" ry="2.7" fill="#c8407a" opacity="0.92"/>
<ellipse cx="117.5" cy="853.1" rx="2.6" ry="2.7" fill="#e888b0" opacity="0.91"/>
<ellipse cx="144.1" cy="832.6" rx="2.1" ry="2.3" fill="#e06aa0" opacity="0.98"/>
<ellipse cx="144.3" cy="881.4" rx="2.4" ry="2.0" fill="#c8509a" opacity="0.81"/>
<ellipse cx="161.8" cy="821.3" rx="2.5" ry="2.5" fill="#b8407a" opacity="0.93"/>
<ellipse cx="197.4" cy="862.4" rx="1.9" ry="1.5" fill="#e888b0" opacity="0.86"/>
<ellipse cx="140.8" cy="920.5" rx="2.5" ry="2.5" fill="#e06aa0" opacity="0.95"/>
<ellipse cx="171.5" cy="890.5" rx="1.9" ry="1.6" fill="#b8407a" opacity="0.83"/>
<ellipse cx="127.2" cy="818.3" rx="2.3" ry="2.2" fill="#c8509a" opacity="0.81"/>
<ellipse cx="108.2" cy="860.6" rx="2.0" ry="1.7" fill="#e06aa0" opacity="0.94"/>
<ellipse cx="190.0" cy="900.5" rx="2.3" ry="1.9" fill="#d83a7a" opacity="0.85"/>
<ellipse cx="143.4" cy="812.1" rx="1.8" ry="1.8" fill="#b8407a" opacity="0.93"/>
<ellipse cx="158.5" cy="850.6" rx="1.9" ry="2.0" fill="#b8407a" opacity="0.95"/>
<ellipse cx="144.3" cy="900.5" rx="2.1" ry="1.8" fill="#d0408a" opacity="0.80"/>
<ellipse cx="127.1" cy="864.5" rx="2.4" ry="2.5" fill="#c8407a" opacity="0.88"/>
<ellipse cx="145.6" cy="820.1" rx="2.5" ry="2.4" fill="#e888b0" opacity="0.82"/>
<ellipse cx="105.1" cy="829.0" rx="2.6" ry="2.6" fill="#c8509a" opacity="0.94"/>
<ellipse cx="129.0" cy="831.8" rx="1.7" ry="1.6" fill="#d0408a" opacity="0.91"/>
<ellipse cx="183.1" cy="838.3" rx="1.8" ry="1.7" fill="#c8407a" opacity="0.90"/>
<ellipse cx="152.3" cy="864.7" rx="2.5" ry="2.3" fill="#c8509a" opacity="0.95"/>
<ellipse cx="135.9" cy="836.5" rx="1.8" ry="1.7" fill="#c8407a" opacity="0.83"/>
<ellipse cx="181.5" cy="881.9" rx="2.6" ry="2.3" fill="#c8509a" opacity="0.94"/>
<ellipse cx="117.5" cy="871.1" rx="2.6" ry="2.8" fill="#b8407a" opacity="0.84"/>
<ellipse cx="142.0" cy="854.3" rx="2.2" ry="2.4" fill="#d0408a" opacity="0.90"/>
<ellipse cx="159.7" cy="881.0" rx="2.4" ry="2.0" fill="#e888b0" opacity="0.90"/>
<ellipse cx="159.2" cy="891.4" rx="2.4" ry="2.1" fill="#d83a7a" opacity="0.96"/>
<ellipse cx="123.5" cy="857.3" rx="2.2" ry="2.2" fill="#e888b0" opacity="0.96"/>
<ellipse cx="169.8" cy="855.7" rx="2.1" ry="1.8" fill="#d83a7a" opacity="0.96"/>
<ellipse cx="136.2" cy="874.0" rx="2.0" ry="1.7" fill="#d83a7a" opacity="0.90"/>
<ellipse cx="102.6" cy="885.5" rx="1.8" ry="1.9" fill="#d83a7a" opacity="0.82"/>
<ellipse cx="150.4" cy="924.9" rx="2.4" ry="2.3" fill="#e888b0" opacity="0.80"/>
<ellipse cx="165.0" cy="849.8" rx="2.6" ry="2.8" fill="#c8407a" opacity="0.86"/>
<ellipse cx="107.2" cy="901.2" rx="2.3" ry="2.4" fill="#d83a7a" opacity="0.93"/>
<ellipse cx="168.5" cy="861.2" rx="2.3" ry="2.2" fill="#d83a7a" opacity="0.93"/>
<ellipse cx="176.7" cy="845.5" rx="1.7" ry="1.5" fill="#d0408a" opacity="0.82"/>
<ellipse cx="112.0" cy="912.9" rx="1.9" ry="1.8" fill="#b8407a" opacity="0.93"/>
<ellipse cx="134.3" cy="845.9" rx="1.9" ry="1.5" fill="#e06aa0" opacity="1.00"/>
<ellipse cx="135.3" cy="857.5" rx="2.0" ry="2.1" fill="#d83a7a" opacity="0.85"/>
<ellipse cx="138.9" cy="905.9" rx="1.7" ry="1.7" fill="#b8407a" opacity="0.97"/>
<ellipse cx="158.2" cy="872.7" rx="2.5" ry="2.5" fill="#e06aa0" opacity="0.95"/>
<ellipse cx="149.4" cy="875.9" rx="1.8" ry="2.0" fill="#e888b0" opacity="0.99"/>
<ellipse cx="137.1" cy="817.3" rx="1.8" ry="1.8" fill="#c8407a" opacity="0.96"/>
<ellipse cx="173.8" cy="875.4" rx="1.9" ry="2.0" fill="#e888b0" opacity="1.00"/>
<ellipse cx="144.2" cy="826.1" rx="2.3" ry="2.4" fill="#e888b0" opacity="0.81"/>
<ellipse cx="173.8" cy="840.3" rx="2.3" ry="2.2" fill="#e06aa0" opacity="0.88"/>
<ellipse cx="167.9" cy="875.5" rx="1.7" ry="1.5" fill="#d83a7a" opacity="0.91"/>
<ellipse cx="113.9" cy="840.8" rx="1.8" ry="1.5" fill="#e888b0" opacity="0.85"/>
<ellipse cx="150.0" cy="909.5" rx="2.5" ry="2.1" fill="#e06aa0" opacity="0.80"/>
<ellipse cx="159.1" cy="902.8" rx="2.2" ry="2.0" fill="#b8407a" opacity="0.82"/>
<ellipse cx="117.5" cy="821.8" rx="1.8" ry="1.8" fill="#d83a7a" opacity="0.83"/>
<ellipse cx="135.7" cy="879.8" rx="2.3" ry="1.9" fill="#d0408a" opacity="0.93"/>
<ellipse cx="173.5" cy="899.9" rx="2.4" ry="2.6" fill="#b8407a" opacity="0.92"/>
<ellipse cx="128.9" cy="882.6" rx="1.7" ry="1.5" fill="#c8509a" opacity="0.94"/>
<ellipse cx="180.0" cy="870.9" rx="2.1" ry="2.1" fill="#c8407a" opacity="0.87"/>
<ellipse cx="165.8" cy="895.0" rx="2.0" ry="2.1" fill="#d83a7a" opacity="0.88"/>
<ellipse cx="179.1" cy="894.6" rx="2.2" ry="2.3" fill="#c8407a" opacity="0.91"/>
<ellipse cx="182.5" cy="829.8" rx="1.7" ry="1.8" fill="#b8407a" opacity="0.89"/>
<ellipse cx="151.9" cy="885.9" rx="1.7" ry="1.8" fill="#d0408a" opacity="0.80"/>
<ellipse cx="158.7" cy="910.9" rx="2.2" ry="1.8" fill="#d0408a" opacity="0.94"/>
<ellipse cx="99.5" cy="850.1" rx="2.0" ry="1.9" fill="#d0408a" opacity="0.90"/>
<ellipse cx="188.4" cy="888.6" rx="1.9" ry="2.0" fill="#e06aa0" opacity="0.95"/>
<ellipse cx="120.2" cy="892.6" rx="2.6" ry="2.5" fill="#d0408a" opacity="0.87"/>
<ellipse cx="121.2" cy="840.2" rx="2.3" ry="2.3" fill="#d83a7a" opacity="0.86"/>
<ellipse cx="175.1" cy="863.4" rx="2.1" ry="1.8" fill="#d0408a" opacity="0.92"/>
<ellipse cx="109.2" cy="891.1" rx="2.5" ry="2.0" fill="#e06aa0" opacity="0.94"/>
<ellipse cx="170.9" cy="882.2" rx="2.2" ry="2.0" fill="#d83a7a" opacity="0.82"/>
<ellipse cx="161.2" cy="836.9" rx="2.0" ry="2.2" fill="#d0408a" opacity="0.81"/>
<ellipse cx="143.5" cy="890.0" rx="2.3" ry="2.6" fill="#c8407a" opacity="0.97"/>
<ellipse cx="152.2" cy="846.7" rx="2.6" ry="2.6" fill="#e888b0" opacity="0.89"/>
<ellipse cx="129.8" cy="875.3" rx="2.6" ry="2.6" fill="#e06aa0" opacity="0.93"/>
<ellipse cx="122.9" cy="907.5" rx="2.5" ry="2.5" fill="#e06aa0" opacity="0.93"/>
<ellipse cx="189.2" cy="882.2" rx="2.2" ry="2.2" fill="#c8509a" opacity="0.91"/>
<ellipse cx="133.5" cy="867.7" rx="2.6" ry="2.7" fill="#c8407a" opacity="0.93"/>
<ellipse cx="182.2" cy="861.8" rx="2.0" ry="1.9" fill="#e888b0" opacity="0.84"/>
<ellipse cx="106.8" cy="854.0" rx="1.9" ry="1.8" fill="#c8407a" opacity="0.91"/>
<ellipse cx="166.1" cy="867.6" rx="2.3" ry="2.3" fill="#d0408a" opacity="0.94"/>
<ellipse cx="176.1" cy="908.2" rx="2.7" ry="2.4" fill="#e888b0" opacity="0.84"/>
<ellipse cx="127.4" cy="841.1" rx="1.9" ry="1.5" fill="#b8407a" opacity="0.93"/>
<ellipse cx="123.7" cy="846.4" rx="2.5" ry="2.4" fill="#e06aa0" opacity="0.93"/>
<ellipse cx="182.4" cy="822.1" rx="1.9" ry="1.7" fill="#d83a7a" opacity="0.86"/>
<ellipse cx="94.5" cy="854.6" rx="2.6" ry="2.7" fill="#e888b0" opacity="0.88"/>
<ellipse cx="170.0" cy="833.0" rx="2.2" ry="2.4" fill="#c8407a" opacity="0.90"/>
<ellipse cx="117.4" cy="833.1" rx="2.0" ry="2.1" fill="#e888b0" opacity="1.00"/>
<ellipse cx="166.4" cy="909.1" rx="2.2" ry="2.0" fill="#d0408a" opacity="0.87"/>
<ellipse cx="99.5" cy="874.2" rx="2.1" ry="1.9" fill="#d83a7a" opacity="0.91"/>
<ellipse cx="179.4" cy="855.5" rx="2.3" ry="2.5" fill="#b8407a" opacity="0.88"/>
<ellipse cx="139.2" cy="829.5" rx="2.6" ry="2.2" fill="#e06aa0" opacity="0.82"/>
<ellipse cx="194.5" cy="886.4" rx="2.3" ry="2.4" fill="#d0408a" opacity="0.89"/>
<ellipse cx="184.2" cy="847.4" rx="2.5" ry="2.1" fill="#e06aa0" opacity="0.83"/>
<ellipse cx="138.5" cy="884.9" rx="2.2" ry="2.3" fill="#d83a7a" opacity="0.93"/>
<ellipse cx="142.8" cy="839.2" rx="2.3" ry="2.5" fill="#d83a7a" opacity="0.82"/>
<ellipse cx="101.1" cy="892.9" rx="2.7" ry="2.7" fill="#d0408a" opacity="0.90"/>
<ellipse cx="143.6" cy="848.1" rx="2.5" ry="2.6" fill="#e888b0" opacity="0.90"/>
<ellipse cx="142.2" cy="871.4" rx="2.7" ry="2.2" fill="#e06aa0" opacity="0.86"/>
<ellipse cx="113.6" cy="900.1" rx="1.8" ry="1.6" fill="#d83a7a" opacity="0.84"/>
<ellipse cx="108.2" cy="875.4" rx="1.9" ry="1.6" fill="#d0408a" opacity="0.94"/>
<ellipse cx="139.1" cy="913.6" rx="2.6" ry="2.6" fill="#c8509a" opacity="0.81"/>
<ellipse cx="124.5" cy="869.9" rx="2.5" ry="2.0" fill="#c8509a" opacity="0.88"/>
<ellipse cx="106.0" cy="868.6" rx="1.9" ry="1.5" fill="#d0408a" opacity="0.96"/>
<ellipse cx="115.2" cy="847.6" rx="2.4" ry="2.3" fill="#e06aa0" opacity="0.80"/>
<ellipse cx="161.5" cy="863.1" rx="2.7" ry="2.9" fill="#b8407a" opacity="0.93"/>
<ellipse cx="144.0" cy="909.7" rx="2.2" ry="2.3" fill="#e06aa0" opacity="0.94"/>
<ellipse cx="116.3" cy="880.8" rx="1.9" ry="1.6" fill="#e888b0" opacity="0.92"/>
<ellipse cx="127.1" cy="900.7" rx="2.3" ry="2.2" fill="#d83a7a" opacity="0.85"/>
<ellipse cx="155.0" cy="859.3" rx="2.1" ry="2.2" fill="#d83a7a" opacity="0.86"/>
<ellipse cx="175.1" cy="829.8" rx="2.5" ry="2.6" fill="#c8509a" opacity="0.92"/>
<ellipse cx="102.0" cy="858.4" rx="2.2" ry="1.9" fill="#c8407a" opacity="0.89"/>
<ellipse cx="147.5" cy="867.6" rx="1.7" ry="1.8" fill="#d83a7a" opacity="0.84"/>
<ellipse cx="103.1" cy="842.9" rx="2.4" ry="2.1" fill="#d0408a" opacity="0.85"/>
<ellipse cx="142.8" cy="861.2" rx="2.3" ry="2.0" fill="#d0408a" opacity="0.93"/>
<ellipse cx="132.8" cy="904.1" rx="1.9" ry="2.0" fill="#e888b0" opacity="0.84"/>
<ellipse cx="162.8" cy="844.2" rx="2.0" ry="1.6" fill="#d0408a" opacity="0.97"/>
<ellipse cx="129.0" cy="850.2" rx="2.6" ry="2.5" fill="#c8509a" opacity="0.80"/>
<ellipse cx="114.0" cy="888.1" rx="2.7" ry="2.3" fill="#c8509a" opacity="0.84"/>
<ellipse cx="125.6" cy="917.5" rx="2.2" ry="2.3" fill="#b8407a" opacity="0.97"/>
<ellipse cx="152.8" cy="895.9" rx="2.1" ry="1.9" fill="#d0408a" opacity="0.91"/>
<ellipse cx="171.4" cy="870.0" rx="2.2" ry="2.3" fill="#d83a7a" opacity="0.84"/>
<ellipse cx="113.3" cy="865.7" rx="1.7" ry="1.4" fill="#e06aa0" opacity="0.82"/>
<ellipse cx="91.7" cy="868.8" rx="2.5" ry="2.7" fill="#c8407a" opacity="0.85"/>
<ellipse cx="189.3" cy="857.3" rx="2.1" ry="2.2" fill="#e06aa0" opacity="0.91"/>
<ellipse cx="122.4" cy="886.5" rx="1.9" ry="1.9" fill="#b8407a" opacity="0.87"/>
<ellipse cx="109.4" cy="882.7" rx="2.6" ry="2.6" fill="#d83a7a" opacity="0.86"/>
<ellipse cx="149.7" cy="812.0" rx="2.7" ry="2.3" fill="#c8509a" opacity="0.91"/>
<ellipse cx="170.4" cy="846.6" rx="2.1" ry="1.7" fill="#d0408a" opacity="0.99"/>
<ellipse cx="189.2" cy="834.4" rx="2.5" ry="2.5" fill="#c8509a" opacity="0.87"/>
<ellipse cx="119.3" cy="899.2" rx="2.2" ry="1.8" fill="#e06aa0" opacity="0.85"/>
<ellipse cx="103.9" cy="913.2" rx="2.5" ry="2.3" fill="#c8509a" opacity="0.95"/>
<ellipse cx="101.0" cy="865.3" rx="2.1" ry="1.8" fill="#d0408a" opacity="0.87"/>
<ellipse cx="149.9" cy="855.8" rx="2.4" ry="2.4" fill="#d83a7a" opacity="0.87"/>
<ellipse cx="189.5" cy="863.8" rx="2.2" ry="1.9" fill="#b8407a" opacity="0.92"/>
<ellipse cx="132.2" cy="889.9" rx="1.8" ry="1.6" fill="#e888b0" opacity="0.83"/>
<ellipse cx="164.7" cy="885.9" rx="1.8" ry="2.0" fill="#e06aa0" opacity="0.80"/>
<ellipse cx="163.9" cy="921.1" rx="2.6" ry="2.3" fill="#b8407a" opacity="0.97"/>
<ellipse cx="112.3" cy="856.7" rx="2.5" ry="2.5" fill="#c8509a" opacity="0.90"/>
<ellipse cx="165.1" cy="902.0" rx="2.0" ry="2.1" fill="#c8509a" opacity="0.83"/>
<ellipse cx="117.2" cy="910.7" rx="2.0" ry="2.0" fill="#c8509a" opacity="0.95"/>
<ellipse cx="144.6" cy="916.1" rx="2.3" ry="2.0" fill="#c8407a" opacity="0.82"/>
<ellipse cx="150.9" cy="839.0" rx="2.5" ry="2.5" fill="#d0408a" opacity="0.84"/>
<ellipse cx="163.3" cy="827.1" rx="2.5" ry="2.6" fill="#c8509a" opacity="0.93"/>
<ellipse cx="99.8" cy="837.5" rx="2.5" ry="2.0" fill="#e888b0" opacity="0.82"/>
<ellipse cx="184.2" cy="898.0" rx="2.4" ry="2.2" fill="#d0408a" opacity="0.88"/>
<ellipse cx="131.7" cy="823.0" rx="2.0" ry="1.7" fill="#b8407a" opacity="0.91"/>
<ellipse cx="154.2" cy="832.7" rx="2.3" ry="2.6" fill="#e888b0" opacity="0.83"/>
<ellipse cx="195.9" cy="870.3" rx="1.8" ry="1.6" fill="#d83a7a" opacity="0.87"/>
<ellipse cx="97.8" cy="881.9" rx="1.8" ry="1.5" fill="#c8509a" opacity="0.93"/>
<ellipse cx="192.7" cy="875.2" rx="2.5" ry="2.7" fill="#c8509a" opacity="0.97"/>
<ellipse cx="193.0" cy="844.3" rx="2.2" ry="2.0" fill="#c8407a" opacity="0.97"/>
<ellipse cx="131.8" cy="911.3" rx="2.5" ry="2.5" fill="#e06aa0" opacity="0.87"/>
<ellipse cx="123.4" cy="876.6" rx="2.0" ry="1.7" fill="#c8509a" opacity="0.94"/>
<ellipse cx="122.2" cy="830.2" rx="2.0" ry="1.9" fill="#c8407a" opacity="0.92"/>
<ellipse cx="149.6" cy="829.0" rx="1.7" ry="1.5" fill="#b8407a" opacity="0.95"/>
<ellipse cx="170.9" cy="825.4" rx="2.5" ry="2.3" fill="#d0408a" opacity="0.96"/>
<ellipse cx="161.7" cy="855.3" rx="2.1" ry="2.1" fill="#e06aa0" opacity="0.91"/>
<ellipse cx="126.9" cy="892.5" rx="2.4" ry="2.2" fill="#c8407a" opacity="0.95"/>
<ellipse cx="90.0" cy="861.9" rx="2.2" ry="1.8" fill="#b8407a" opacity="0.93"/>
<ellipse cx="130.9" cy="920.7" rx="2.4" ry="2.3" fill="#b8407a" opacity="1.00"/>
<ellipse cx="176.2" cy="884.6" rx="2.1" ry="1.9" fill="#e888b0" opacity="0.89"/>
<ellipse cx="185.9" cy="906.2" rx="1.8" ry="1.7" fill="#d83a7a" opacity="0.83"/>
<ellipse cx="107.4" cy="835.2" rx="1.9" ry="2.1" fill="#e06aa0" opacity="0.94"/>
<ellipse cx="129.8" cy="855.9" rx="2.6" ry="2.3" fill="#e888b0" opacity="0.92"/>
<ellipse cx="155.9" cy="820.3" rx="1.8" ry="1.8" fill="#c8407a" opacity="0.96"/>
<ellipse cx="155.7" cy="919.4" rx="1.8" ry="1.5" fill="#e888b0" opacity="0.82"/>
<ellipse cx="131.0" cy="813.1" rx="2.2" ry="1.9" fill="#e888b0" opacity="0.84"/>
<ellipse cx="92.1" cy="877.0" rx="2.2" ry="2.3" fill="#b8407a" opacity="0.88"/>
<ellipse cx="119.5" cy="863.7" rx="2.5" ry="2.2" fill="#c8509a" opacity="0.97"/>
<ellipse cx="157.0" cy="841.7" rx="2.1" ry="2.2" fill="#e06aa0" opacity="0.86"/>
<ellipse cx="131.8" cy="807.5" rx="1.9" ry="1.8" fill="#d0408a" opacity="0.87"/>
<ellipse cx="95.4" cy="898.4" rx="2.6" ry="2.2" fill="#d83a7a" opacity="0.84"/>
<ellipse cx="149.2" cy="890.8" rx="2.3" ry="2.1" fill="#d83a7a" opacity="0.81"/>
<ellipse cx="187.1" cy="871.2" rx="2.6" ry="2.5" fill="#c8407a" opacity="0.84"/>
<ellipse cx="158.6" cy="814.2" rx="2.6" ry="2.2" fill="#c8407a" opacity="0.86"/>
<ellipse cx="190.7" cy="894.2" rx="1.9" ry="2.0" fill="#c8407a" opacity="0.95"/>
<ellipse cx="180.4" cy="889.0" rx="2.6" ry="2.5" fill="#b8407a" opacity="0.88"/>
<ellipse cx="111.0" cy="826.6" rx="2.6" ry="2.8" fill="#d83a7a" opacity="0.81"/>
<ellipse cx="110.0" cy="906.7" rx="2.1" ry="1.8" fill="#c8407a" opacity="0.97"/>
<ellipse cx="96.6" cy="843.6" rx="2.2" ry="1.9" fill="#e888b0" opacity="0.83"/>
<ellipse cx="156.1" cy="826.1" rx="2.0" ry="1.9" fill="#d0408a" opacity="0.89"/>
<ellipse cx="163.6" cy="914.8" rx="2.6" ry="2.2" fill="#e06aa0" opacity="0.80"/>
<ellipse cx="168.5" cy="838.4" rx="2.3" ry="1.8" fill="#c8407a" opacity="0.86"/>
<ellipse cx="171.9" cy="915.7" rx="2.6" ry="2.7" fill="#e888b0" opacity="0.87"/>
<ellipse cx="182.2" cy="910.8" rx="2.6" ry="2.5" fill="#d0408a" opacity="0.87"/>
<ellipse cx="137.2" cy="863.3" rx="1.8" ry="1.5" fill="#e06aa0" opacity="0.90"/>
<ellipse cx="139.4" cy="823.1" rx="2.7" ry="2.6" fill="#d83a7a" opacity="0.88"/>
<ellipse cx="100.6" cy="905.4" rx="2.0" ry="2.1" fill="#c8509a" opacity="0.81"/>
<ellipse cx="160.0" cy="896.9" rx="2.1" ry="2.0" fill="#c8509a" opacity="0.82"/>
<ellipse cx="93.5" cy="848.3" rx="2.6" ry="2.6" fill="#e888b0" opacity="0.87"/>
<ellipse cx="84.7" cy="875.0" rx="1.7" ry="1.4" fill="#d83a7a" opacity="0.87"/>
<ellipse cx="153.7" cy="879.5" rx="1.8" ry="1.5" fill="#e06aa0" opacity="0.87"/>
<ellipse cx="102.8" cy="878.7" rx="2.2" ry="2.0" fill="#c8509a" opacity="0.81"/>
<ellipse cx="165.1" cy="813.7" rx="1.8" ry="1.5" fill="#e888b0" opacity="0.84"/>
<ellipse cx="95.8" cy="887.4" rx="1.7" ry="1.8" fill="#d0408a" opacity="0.87"/>
<ellipse cx="138.7" cy="925.7" rx="2.5" ry="2.5" fill="#e06aa0" opacity="0.95"/>
<ellipse cx="179.7" cy="902.9" rx="2.7" ry="2.6" fill="#e888b0" opacity="0.92"/>
<ellipse cx="119.8" cy="924.5" rx="2.5" ry="2.7" fill="#d0408a" opacity="0.81"/>
<ellipse cx="169.7" cy="818.4" rx="2.6" ry="2.6" fill="#c8509a" opacity="0.91"/>
<ellipse cx="138.6" cy="899.3" rx="2.0" ry="1.8" fill="#d0408a" opacity="0.89"/>
<ellipse cx="87.8" cy="849.1" rx="2.0" ry="2.2" fill="#c8509a" opacity="0.96"/>
<ellipse cx="136.0" cy="851.4" rx="2.4" ry="2.2" fill="#d83a7a" opacity="0.95"/>
<ellipse cx="183.0" cy="875.7" rx="2.7" ry="2.5" fill="#d83a7a" opacity="0.85"/>
<ellipse cx="91.8" cy="838.2" rx="2.0" ry="1.8" fill="#e06aa0" opacity="0.86"/>
<ellipse cx="131.3" cy="926.4" rx="2.4" ry="2.2" fill="#e06aa0" opacity="0.91"/>
<ellipse cx="153.7" cy="914.1" rx="2.0" ry="1.7" fill="#d83a7a" opacity="0.81"/>
<circle cx="158.2" cy="888.8" r="1.1" fill="#d0408a" opacity="0.45"/>
<circle cx="139.4" cy="881.3" r="0.8" fill="#e888b0" opacity="0.45"/>
<circle cx="108.9" cy="907.5" r="0.8" fill="#c8509a" opacity="0.45"/>
<circle cx="178.6" cy="881.0" r="0.7" fill="#d83a7a" opacity="0.45"/>
<circle cx="132.1" cy="882.3" r="1.0" fill="#c8407a" opacity="0.45"/>
<circle cx="144.0" cy="886.5" r="0.7" fill="#e06aa0" opacity="0.45"/>
<circle cx="141.4" cy="855.1" r="0.7" fill="#e06aa0" opacity="0.45"/>
<circle cx="131.9" cy="820.1" r="0.9" fill="#c8509a" opacity="0.45"/>
<circle cx="155.1" cy="917.3" r="0.7" fill="#d0408a" opacity="0.45"/>
<circle cx="151.3" cy="918.3" r="0.7" fill="#b8407a" opacity="0.45"/>
<circle cx="140.0" cy="901.6" r="1.1" fill="#c8407a" opacity="0.45"/>
<circle cx="159.0" cy="901.3" r="0.7" fill="#b8407a" opacity="0.45"/>
<circle cx="137.3" cy="857.3" r="0.7" fill="#d83a7a" opacity="0.45"/>
<circle cx="128.9" cy="890.7" r="1.0" fill="#e888b0" opacity="0.45"/>
<circle cx="172.4" cy="848.7" r="1.1" fill="#c8407a" opacity="0.45"/>
<circle cx="148.1" cy="847.7" r="0.7" fill="#c8509a" opacity="0.45"/>
<circle cx="96.1" cy="874.2" r="0.6" fill="#c8407a" opacity="0.45"/>
<circle cx="103.9" cy="862.4" r="0.9" fill="#b8407a" opacity="0.45"/>
<circle cx="167.7" cy="890.8" r="0.8" fill="#e06aa0" opacity="0.45"/>
<circle cx="151.8" cy="842.0" r="0.6" fill="#d0408a" opacity="0.45"/>
<circle cx="130.0" cy="874.5" r="1.1" fill="#b8407a" opacity="0.45"/>
<circle cx="144.1" cy="899.9" r="1.1" fill="#d83a7a" opacity="0.45"/>
<circle cx="150.8" cy="902.3" r="0.8" fill="#c8509a" opacity="0.45"/>
<circle cx="149.3" cy="827.8" r="0.8" fill="#b8407a" opacity="0.45"/>
<circle cx="121.0" cy="905.0" r="0.7" fill="#c8509a" opacity="0.45"/>
<circle cx="115.0" cy="850.7" r="0.9" fill="#c8407a" opacity="0.45"/>
<circle cx="138.7" cy="893.0" r="0.9" fill="#c8407a" opacity="0.45"/>
<circle cx="132.5" cy="849.0" r="1.0" fill="#d83a7a" opacity="0.45"/>
<circle cx="142.4" cy="824.5" r="0.8" fill="#d83a7a" opacity="0.45"/>
<circle cx="129.8" cy="909.3" r="0.9" fill="#c8509a" opacity="0.45"/>
<circle cx="185.1" cy="895.7" r="0.8" fill="#c8407a" opacity="0.45"/>
<circle cx="114.7" cy="873.5" r="0.6" fill="#c8509a" opacity="0.45"/>
<circle cx="176.9" cy="877.3" r="1.1" fill="#d83a7a" opacity="0.45"/>
<circle cx="101.0" cy="840.7" r="0.8" fill="#c8509a" opacity="0.45"/>
<circle cx="107.6" cy="862.5" r="1.0" fill="#c8407a" opacity="0.45"/>
<circle cx="122.3" cy="915.7" r="0.9" fill="#b8407a" opacity="0.45"/>
<circle cx="167.9" cy="868.6" r="0.6" fill="#e06aa0" opacity="0.45"/>
<circle cx="110.6" cy="864.9" r="1.1" fill="#c8407a" opacity="0.45"/>
<circle cx="144.0" cy="914.8" r="1.0" fill="#e888b0" opacity="0.45"/>
<circle cx="96.0" cy="853.2" r="0.9" fill="#e888b0" opacity="0.45"/>
<circle cx="166.0" cy="885.6" r="0.6" fill="#e06aa0" opacity="0.45"/>
<circle cx="156.4" cy="896.6" r="0.8" fill="#c8407a" opacity="0.45"/>
<circle cx="157.6" cy="899.6" r="0.7" fill="#d0408a" opacity="0.45"/>
<circle cx="169.1" cy="914.8" r="0.8" fill="#c8509a" opacity="0.45"/>
<circle cx="158.9" cy="913.0" r="0.9" fill="#d83a7a" opacity="0.45"/>
<circle cx="98.3" cy="895.3" r="0.9" fill="#b8407a" opacity="0.45"/>
<circle cx="124.4" cy="844.6" r="0.9" fill="#d0408a" opacity="0.45"/>
<circle cx="184.9" cy="844.0" r="0.9" fill="#c8509a" opacity="0.45"/>
<circle cx="178.5" cy="834.4" r="1.0" fill="#d83a7a" opacity="0.45"/>
<circle cx="126.4" cy="852.1" r="0.8" fill="#e888b0" opacity="0.45"/>
<circle cx="132.8" cy="908.4" r="0.8" fill="#e06aa0" opacity="0.45"/>
<circle cx="136.3" cy="906.4" r="1.0" fill="#e06aa0" opacity="0.45"/>
<circle cx="185.8" cy="884.7" r="0.9" fill="#d83a7a" opacity="0.45"/>
<circle cx="146.7" cy="864.8" r="1.1" fill="#c8509a" opacity="0.45"/>
<circle cx="128.6" cy="837.3" r="0.7" fill="#c8407a" opacity="0.45"/>
<circle cx="159.4" cy="830.0" r="1.0" fill="#b8407a" opacity="0.45"/>
<circle cx="139.5" cy="885.8" r="0.7" fill="#c8407a" opacity="0.45"/>
<circle cx="108.6" cy="881.8" r="0.9" fill="#b8407a" opacity="0.45"/>
<circle cx="157.5" cy="886.0" r="1.0" fill="#c8407a" opacity="0.45"/>
<circle cx="142.3" cy="820.5" r="0.9" fill="#b8407a" opacity="0.45"/>
<circle cx="96.4" cy="854.6" r="0.8" fill="#b8407a" opacity="0.45"/>
<circle cx="112.5" cy="909.6" r="0.9" fill="#e888b0" opacity="0.45"/>
<circle cx="102.7" cy="884.9" r="0.7" fill="#d83a7a" opacity="0.45"/>
<circle cx="130.0" cy="916.8" r="1.0" fill="#d0408a" opacity="0.45"/>
<circle cx="150.1" cy="869.0" r="0.7" fill="#d83a7a" opacity="0.45"/>
<circle cx="100.6" cy="861.2" r="0.7" fill="#e06aa0" opacity="0.45"/>
<circle cx="161.3" cy="866.2" r="0.7" fill="#e888b0" opacity="0.45"/>
<circle cx="163.7" cy="903.7" r="0.7" fill="#d83a7a" opacity="0.45"/>
<circle cx="112.3" cy="842.8" r="0.8" fill="#b8407a" opacity="0.45"/>
<circle cx="172.9" cy="896.6" r="1.0" fill="#b8407a" opacity="0.45"/>
<circle cx="172.0" cy="910.4" r="0.8" fill="#e06aa0" opacity="0.45"/>
<circle cx="93.2" cy="858.8" r="0.9" fill="#d0408a" opacity="0.45"/>
<circle cx="116.3" cy="826.1" r="0.9" fill="#c8509a" opacity="0.45"/>
<circle cx="157.4" cy="900.0" r="1.1" fill="#e06aa0" opacity="0.45"/>
<circle cx="111.7" cy="844.0" r="0.9" fill="#d0408a" opacity="0.45"/>
<circle cx="145.4" cy="860.8" r="1.0" fill="#d0408a" opacity="0.45"/>
<circle cx="113.8" cy="892.1" r="1.0" fill="#e888b0" opacity="0.45"/>
<circle cx="130.6" cy="859.0" r="1.0" fill="#d0408a" opacity="0.45"/>
<circle cx="127.5" cy="920.1" r="1.0" fill="#c8407a" opacity="0.45"/>
<circle cx="142.0" cy="827.2" r="0.9" fill="#d83a7a" opacity="0.45"/>
<circle cx="155.3" cy="867.9" r="1.1" fill="#e888b0" opacity="0.45"/>
<circle cx="170.6" cy="915.0" r="1.0" fill="#d83a7a" opacity="0.45"/>
<circle cx="141.6" cy="898.8" r="1.0" fill="#e888b0" opacity="0.45"/>
<circle cx="130.8" cy="875.0" r="0.6" fill="#b8407a" opacity="0.45"/>
<circle cx="152.3" cy="908.2" r="0.9" fill="#d83a7a" opacity="0.45"/>
<circle cx="153.3" cy="920.7" r="0.9" fill="#e06aa0" opacity="0.45"/>
<circle cx="110.5" cy="855.7" r="0.8" fill="#b8407a" opacity="0.45"/>
<circle cx="182.1" cy="902.9" r="0.9" fill="#e06aa0" opacity="0.45"/>
<circle cx="118.2" cy="873.9" r="0.8" fill="#c8509a" opacity="0.45"/>
<circle cx="134.6" cy="910.9" r="0.7" fill="#d83a7a" opacity="0.45"/>
<circle cx="173.5" cy="887.1" r="0.8" fill="#e06aa0" opacity="0.45"/>
<circle cx="165.7" cy="853.9" r="1.0" fill="#b8407a" opacity="0.45"/>
<circle cx="187.5" cy="847.1" r="0.7" fill="#b8407a" opacity="0.45"/>
<circle cx="149.9" cy="824.5" r="1.0" fill="#d0408a" opacity="0.45"/>
<circle cx="152.1" cy="821.6" r="0.8" fill="#e06aa0" opacity="0.45"/>
<circle cx="122.5" cy="879.5" r="0.7" fill="#d0408a" opacity="0.45"/>
<circle cx="119.3" cy="843.3" r="1.0" fill="#e06aa0" opacity="0.45"/>
<circle cx="149.2" cy="918.4" r="1.1" fill="#d0408a" opacity="0.45"/>
<circle cx="176.4" cy="868.8" r="0.6" fill="#e888b0" opacity="0.45"/>
<circle cx="136.2" cy="917.0" r="0.6" fill="#b8407a" opacity="0.45"/>
<circle cx="177.5" cy="865.3" r="0.6" fill="#d83a7a" opacity="0.45"/>
<circle cx="104.5" cy="883.5" r="0.7" fill="#d0408a" opacity="0.45"/>
<circle cx="155.0" cy="886.1" r="0.9" fill="#d83a7a" opacity="0.45"/>
<circle cx="129.1" cy="901.0" r="1.0" fill="#d83a7a" opacity="0.45"/>
<circle cx="147.8" cy="857.4" r="0.6" fill="#d83a7a" opacity="0.45"/>
<circle cx="134.9" cy="872.4" r="0.9" fill="#e06aa0" opacity="0.45"/>
<circle cx="100.6" cy="892.4" r="0.8" fill="#c8509a" opacity="0.45"/>
<circle cx="105.4" cy="854.5" r="1.0" fill="#d83a7a" opacity="0.45"/>
<circle cx="166.2" cy="911.2" r="0.7" fill="#c8509a" opacity="0.45"/>
<circle cx="168.5" cy="895.3" r="0.7" fill="#c8509a" opacity="0.45"/>
<circle cx="165.5" cy="888.4" r="0.8" fill="#d0408a" opacity="0.45"/>
<circle cx="108.0" cy="829.0" r="0.8" fill="#d0408a" opacity="0.45"/>
<circle cx="126.5" cy="836.1" r="0.7" fill="#c8509a" opacity="0.45"/>
<circle cx="143.0" cy="914.3" r="0.8" fill="#c8509a" opacity="0.45"/>
<circle cx="118.6" cy="829.1" r="1.0" fill="#e888b0" opacity="0.45"/>
<circle cx="137.1" cy="896.1" r="0.7" fill="#e06aa0" opacity="0.45"/>
<circle cx="128.9" cy="856.4" r="1.0" fill="#b8407a" opacity="0.45"/>
<circle cx="109.9" cy="883.4" r="1.1" fill="#c8407a" opacity="0.45"/>
<circle cx="102.0" cy="851.1" r="0.7" fill="#b8407a" opacity="0.45"/>
<circle cx="119.0" cy="825.6" r="0.7" fill="#b8407a" opacity="0.45"/>
<circle cx="150.9" cy="844.4" r="0.7" fill="#c8509a" opacity="0.45"/>
<circle cx="177.4" cy="903.1" r="0.8" fill="#c8407a" opacity="0.45"/>
<circle cx="145.6" cy="877.1" r="0.6" fill="#d83a7a" opacity="0.45"/>
<circle cx="155.4" cy="889.2" r="0.7" fill="#e06aa0" opacity="0.45"/>
<circle cx="163.8" cy="863.9" r="0.7" fill="#e06aa0" opacity="0.45"/>
<circle cx="113.3" cy="836.9" r="0.6" fill="#c8407a" opacity="0.45"/>
<circle cx="153.0" cy="836.1" r="0.9" fill="#b8407a" opacity="0.45"/>
<circle cx="159.9" cy="873.2" r="0.8" fill="#d83a7a" opacity="0.45"/>
<circle cx="178.6" cy="862.8" r="1.1" fill="#c8407a" opacity="0.45"/>
<circle cx="146.8" cy="865.6" r="0.7" fill="#c8509a" opacity="0.45"/>
<circle cx="134.5" cy="815.7" r="1.1" fill="#b8407a" opacity="0.45"/>
<circle cx="145.2" cy="834.2" r="0.6" fill="#d0408a" opacity="0.45"/>
<circle cx="168.5" cy="891.8" r="0.7" fill="#c8407a" opacity="0.45"/>
<circle cx="136.4" cy="815.1" r="0.9" fill="#d0408a" opacity="0.45"/>
<circle cx="170.9" cy="861.5" r="1.0" fill="#e888b0" opacity="0.45"/>
<circle cx="144.3" cy="862.9" r="0.8" fill="#b8407a" opacity="0.45"/>
<circle cx="121.5" cy="867.3" r="0.9" fill="#e06aa0" opacity="0.45"/>
<circle cx="157.3" cy="832.2" r="1.0" fill="#e06aa0" opacity="0.45"/>
<circle cx="114.5" cy="875.5" r="0.8" fill="#d0408a" opacity="0.45"/>
<circle cx="112.5" cy="828.4" r="0.7" fill="#d0408a" opacity="0.45"/>
<circle cx="138.8" cy="880.9" r="1.1" fill="#c8509a" opacity="0.45"/>
<circle cx="171.4" cy="869.1" r="0.9" fill="#c8509a" opacity="0.45"/>
<circle cx="97.0" cy="847.1" r="1.1" fill="#d0408a" opacity="0.45"/>
<circle cx="162.5" cy="912.0" r="0.7" fill="#e888b0" opacity="0.45"/>
<circle cx="155.0" cy="919.3" r="1.1" fill="#e888b0" opacity="0.45"/>
<circle cx="168.6" cy="876.3" r="0.7" fill="#c8407a" opacity="0.45"/>
<circle cx="109.8" cy="900.6" r="0.6" fill="#d83a7a" opacity="0.45"/>
<circle cx="107.4" cy="828.6" r="1.0" fill="#d0408a" opacity="0.45"/>
<circle cx="141.4" cy="826.3" r="0.7" fill="#d0408a" opacity="0.45"/>
<circle cx="168.0" cy="853.9" r="0.7" fill="#e888b0" opacity="0.45"/>
<circle cx="170.2" cy="907.7" r="1.0" fill="#d0408a" opacity="0.45"/>
<circle cx="148.1" cy="823.6" r="0.7" fill="#c8407a" opacity="0.45"/>
<circle cx="171.6" cy="839.7" r="1.1" fill="#e888b0" opacity="0.45"/>
<circle cx="157.8" cy="919.8" r="1.0" fill="#e06aa0" opacity="0.45"/>
<circle cx="171.3" cy="826.8" r="0.7" fill="#d0408a" opacity="0.45"/>
<circle cx="124.7" cy="852.1" r="0.6" fill="#e888b0" opacity="0.45"/>
<circle cx="170.3" cy="840.5" r="0.6" fill="#c8509a" opacity="0.45"/>
<circle cx="117.5" cy="874.1" r="0.6" fill="#e06aa0" opacity="0.45"/>
<circle cx="160.2" cy="823.6" r="0.8" fill="#d83a7a" opacity="0.45"/>
<circle cx="112.5" cy="896.7" r="0.8" fill="#c8407a" opacity="0.45"/>
<circle cx="184.0" cy="859.0" r="0.9" fill="#c8509a" opacity="0.45"/>
<circle cx="122.1" cy="873.8" r="0.9" fill="#b8407a" opacity="0.45"/>
<circle cx="109.8" cy="893.1" r="0.8" fill="#d0408a" opacity="0.45"/>
<circle cx="94.8" cy="849.4" r="1.1" fill="#c8407a" opacity="0.45"/>
<circle cx="173.1" cy="841.7" r="0.7" fill="#b8407a" opacity="0.45"/>
<ellipse cx="248.0" cy="905.0" rx="46.4" ry="35.3" fill="#f6cce0" opacity="0.42" filter="url(#b4)" transform="rotate(0 248.0 905.0)"/>
<ellipse cx="256.7" cy="921.4" rx="2.1" ry="1.8" fill="#c8408a" opacity="0.92"/>
<ellipse cx="220.3" cy="923.9" rx="2.6" ry="2.6" fill="#e888b0" opacity="0.95"/>
<ellipse cx="266.8" cy="919.5" rx="2.4" ry="2.6" fill="#d0408a" opacity="0.93"/>
<ellipse cx="224.3" cy="904.5" rx="2.7" ry="2.3" fill="#e888b0" opacity="0.88"/>
<ellipse cx="261.4" cy="934.3" rx="1.9" ry="1.6" fill="#c8408a" opacity="0.83"/>
<ellipse cx="254.9" cy="927.5" rx="2.6" ry="2.4" fill="#d0408a" opacity="0.99"/>
<ellipse cx="225.9" cy="873.0" rx="2.6" ry="2.3" fill="#e878a8" opacity="0.92"/>
<ellipse cx="234.9" cy="865.9" rx="2.3" ry="2.5" fill="#e05a9a" opacity="0.86"/>
<ellipse cx="278.7" cy="912.4" rx="2.0" ry="2.1" fill="#e888b0" opacity="0.99"/>
<ellipse cx="267.1" cy="899.8" rx="2.2" ry="2.3" fill="#d0408a" opacity="0.98"/>
<ellipse cx="230.4" cy="909.8" rx="2.0" ry="1.8" fill="#e05a9a" opacity="0.89"/>
<ellipse cx="245.7" cy="890.0" rx="2.1" ry="2.2" fill="#e888b0" opacity="0.97"/>
<ellipse cx="243.4" cy="895.3" rx="1.7" ry="1.9" fill="#d83a7a" opacity="0.88"/>
<ellipse cx="305.3" cy="902.8" rx="2.3" ry="2.1" fill="#c8408a" opacity="0.85"/>
<ellipse cx="235.2" cy="942.6" rx="2.1" ry="2.3" fill="#c8408a" opacity="0.89"/>
<ellipse cx="274.3" cy="920.2" rx="2.2" ry="2.4" fill="#e888b0" opacity="0.99"/>
<ellipse cx="289.1" cy="896.8" rx="2.6" ry="2.5" fill="#d0408a" opacity="0.97"/>
<ellipse cx="219.5" cy="915.4" rx="1.7" ry="1.5" fill="#e05a9a" opacity="0.80"/>
<ellipse cx="262.7" cy="883.5" rx="2.5" ry="2.1" fill="#d0408a" opacity="0.95"/>
<ellipse cx="227.2" cy="885.0" rx="2.2" ry="2.4" fill="#e05a9a" opacity="0.93"/>
<ellipse cx="241.8" cy="868.0" rx="2.0" ry="1.9" fill="#e888b0" opacity="0.96"/>
<ellipse cx="198.3" cy="894.4" rx="2.6" ry="2.5" fill="#e878a8" opacity="0.93"/>
<ellipse cx="285.3" cy="910.6" rx="1.8" ry="1.5" fill="#e05a9a" opacity="0.88"/>
<ellipse cx="265.3" cy="872.1" rx="2.4" ry="2.4" fill="#d0408a" opacity="0.84"/>
<ellipse cx="220.9" cy="932.9" rx="2.6" ry="2.5" fill="#d83a7a" opacity="0.96"/>
<ellipse cx="227.1" cy="943.5" rx="2.5" ry="2.3" fill="#e878a8" opacity="0.95"/>
<ellipse cx="283.9" cy="890.8" rx="2.4" ry="2.1" fill="#e888b0" opacity="0.84"/>
<ellipse cx="206.3" cy="890.6" rx="2.7" ry="2.8" fill="#d83a7a" opacity="0.93"/>
<ellipse cx="299.9" cy="913.6" rx="2.1" ry="2.2" fill="#d83a7a" opacity="0.88"/>
<ellipse cx="247.2" cy="905.8" rx="2.3" ry="2.0" fill="#e878a8" opacity="0.87"/>
<ellipse cx="253.0" cy="910.4" rx="2.2" ry="1.8" fill="#e888b0" opacity="0.87"/>
<ellipse cx="215.2" cy="874.4" rx="1.7" ry="1.8" fill="#c8408a" opacity="0.86"/>
<ellipse cx="241.8" cy="945.1" rx="2.0" ry="1.7" fill="#e05a9a" opacity="0.94"/>
<ellipse cx="253.9" cy="877.7" rx="2.3" ry="2.2" fill="#d0408a" opacity="0.85"/>
<ellipse cx="226.7" cy="923.6" rx="2.1" ry="1.9" fill="#c8408a" opacity="0.99"/>
<ellipse cx="254.2" cy="934.6" rx="1.7" ry="1.7" fill="#c8408a" opacity="0.89"/>
<ellipse cx="232.2" cy="880.3" rx="2.3" ry="2.4" fill="#e05a9a" opacity="0.93"/>
<ellipse cx="226.3" cy="916.0" rx="2.5" ry="2.7" fill="#e878a8" opacity="0.81"/>
<ellipse cx="267.5" cy="894.0" rx="2.1" ry="1.8" fill="#e05a9a" opacity="0.87"/>
<ellipse cx="277.9" cy="890.1" rx="2.4" ry="2.4" fill="#d83a7a" opacity="0.96"/>
<ellipse cx="271.9" cy="904.8" rx="2.2" ry="1.9" fill="#e05a9a" opacity="0.87"/>
<ellipse cx="211.9" cy="910.8" rx="2.1" ry="2.1" fill="#d83a7a" opacity="0.89"/>
<ellipse cx="247.2" cy="928.3" rx="1.9" ry="2.0" fill="#e05a9a" opacity="0.95"/>
<ellipse cx="210.8" cy="886.5" rx="1.9" ry="2.0" fill="#d0408a" opacity="0.83"/>
<ellipse cx="239.1" cy="891.6" rx="2.4" ry="2.1" fill="#d0408a" opacity="0.97"/>
<ellipse cx="227.5" cy="863.9" rx="2.1" ry="1.9" fill="#e888b0" opacity="0.88"/>
<ellipse cx="233.1" cy="930.2" rx="1.9" ry="1.8" fill="#e05a9a" opacity="0.99"/>
<ellipse cx="208.9" cy="924.0" rx="1.9" ry="1.9" fill="#e888b0" opacity="0.86"/>
<ellipse cx="265.6" cy="912.3" rx="2.0" ry="1.8" fill="#c8408a" opacity="0.91"/>
<ellipse cx="258.4" cy="870.9" rx="1.7" ry="1.5" fill="#c8408a" opacity="0.80"/>
<ellipse cx="282.0" cy="897.6" rx="2.5" ry="2.5" fill="#c8408a" opacity="0.93"/>
<ellipse cx="243.3" cy="915.0" rx="2.0" ry="1.7" fill="#c8408a" opacity="0.97"/>
<ellipse cx="297.4" cy="887.5" rx="2.2" ry="2.1" fill="#d0408a" opacity="0.81"/>
<ellipse cx="220.4" cy="885.7" rx="2.4" ry="2.2" fill="#e05a9a" opacity="0.85"/>
<ellipse cx="272.2" cy="884.8" rx="1.9" ry="1.7" fill="#e878a8" opacity="0.81"/>
<ellipse cx="239.5" cy="884.6" rx="2.4" ry="2.3" fill="#d83a7a" opacity="0.86"/>
<ellipse cx="231.1" cy="891.4" rx="2.0" ry="1.9" fill="#c8408a" opacity="0.85"/>
<ellipse cx="218.5" cy="900.7" rx="2.3" ry="1.9" fill="#c8408a" opacity="0.93"/>
<ellipse cx="231.8" cy="921.0" rx="2.1" ry="1.7" fill="#e888b0" opacity="0.82"/>
<ellipse cx="258.3" cy="908.2" rx="2.0" ry="2.0" fill="#c8408a" opacity="0.95"/>
<ellipse cx="240.5" cy="900.7" rx="2.6" ry="2.3" fill="#d83a7a" opacity="0.99"/>
<ellipse cx="247.5" cy="875.9" rx="1.9" ry="1.9" fill="#e888b0" opacity="0.83"/>
<ellipse cx="237.6" cy="923.5" rx="1.9" ry="1.6" fill="#c8408a" opacity="0.95"/>
<ellipse cx="272.8" cy="874.7" rx="1.7" ry="1.6" fill="#e888b0" opacity="0.94"/>
<ellipse cx="249.5" cy="921.5" rx="1.8" ry="1.8" fill="#e878a8" opacity="0.89"/>
<ellipse cx="292.6" cy="914.3" rx="1.8" ry="1.7" fill="#e05a9a" opacity="0.80"/>
<ellipse cx="235.0" cy="914.5" rx="1.8" ry="1.5" fill="#d0408a" opacity="0.94"/>
<ellipse cx="228.9" cy="901.3" rx="2.5" ry="2.1" fill="#d0408a" opacity="0.90"/>
<ellipse cx="263.9" cy="928.9" rx="2.4" ry="2.3" fill="#e878a8" opacity="0.88"/>
<ellipse cx="243.7" cy="933.5" rx="2.2" ry="2.2" fill="#c8408a" opacity="0.85"/>
<ellipse cx="210.3" cy="896.2" rx="2.6" ry="2.2" fill="#d83a7a" opacity="0.91"/>
<ellipse cx="290.3" cy="924.3" rx="1.7" ry="1.7" fill="#e878a8" opacity="0.90"/>
<ellipse cx="231.9" cy="873.4" rx="2.3" ry="2.5" fill="#e05a9a" opacity="0.90"/>
<ellipse cx="272.9" cy="897.0" rx="2.3" ry="2.0" fill="#e878a8" opacity="0.97"/>
<ellipse cx="284.7" cy="920.1" rx="2.6" ry="2.1" fill="#e878a8" opacity="0.88"/>
<ellipse cx="285.5" cy="932.5" rx="1.7" ry="1.5" fill="#c8408a" opacity="0.88"/>
<ellipse cx="268.5" cy="879.1" rx="2.1" ry="2.0" fill="#d0408a" opacity="0.84"/>
<ellipse cx="260.1" cy="895.0" rx="2.1" ry="2.0" fill="#d83a7a" opacity="0.81"/>
<ellipse cx="251.3" cy="889.7" rx="2.6" ry="2.4" fill="#e05a9a" opacity="0.88"/>
<ellipse cx="256.2" cy="900.8" rx="2.3" ry="2.5" fill="#e888b0" opacity="0.98"/>
<ellipse cx="221.8" cy="895.7" rx="2.3" ry="1.9" fill="#e878a8" opacity="0.96"/>
<ellipse cx="250.3" cy="899.1" rx="1.9" ry="1.6" fill="#c8408a" opacity="0.94"/>
<ellipse cx="280.1" cy="940.4" rx="2.1" ry="2.2" fill="#c8408a" opacity="0.94"/>
<ellipse cx="236.8" cy="876.8" rx="2.4" ry="2.1" fill="#d83a7a" opacity="0.96"/>
<ellipse cx="283.5" cy="882.3" rx="2.0" ry="1.6" fill="#e878a8" opacity="1.00"/>
<ellipse cx="264.9" cy="905.1" rx="2.5" ry="2.4" fill="#d83a7a" opacity="0.82"/>
<ellipse cx="219.5" cy="909.3" rx="2.2" ry="1.8" fill="#c8408a" opacity="0.87"/>
<ellipse cx="214.9" cy="937.5" rx="1.9" ry="1.9" fill="#c8408a" opacity="0.97"/>
<ellipse cx="213.9" cy="918.9" rx="1.9" ry="1.6" fill="#e888b0" opacity="0.95"/>
<ellipse cx="242.6" cy="939.5" rx="2.0" ry="2.0" fill="#d0408a" opacity="0.82"/>
<ellipse cx="220.0" cy="868.9" rx="2.6" ry="2.9" fill="#e05a9a" opacity="0.90"/>
<ellipse cx="266.9" cy="939.0" rx="1.8" ry="1.6" fill="#d0408a" opacity="0.91"/>
<ellipse cx="252.0" cy="867.5" rx="2.5" ry="2.3" fill="#d83a7a" opacity="0.96"/>
<ellipse cx="291.1" cy="882.6" rx="1.9" ry="2.0" fill="#c8408a" opacity="0.92"/>
<ellipse cx="297.5" cy="898.9" rx="2.4" ry="2.0" fill="#e05a9a" opacity="0.99"/>
<ellipse cx="214.7" cy="924.9" rx="2.1" ry="1.7" fill="#c8408a" opacity="0.90"/>
<ellipse cx="260.6" cy="864.6" rx="2.6" ry="2.2" fill="#e878a8" opacity="0.97"/>
<ellipse cx="260.2" cy="876.8" rx="1.8" ry="1.7" fill="#c8408a" opacity="0.90"/>
<ellipse cx="222.6" cy="878.7" rx="1.7" ry="1.6" fill="#e888b0" opacity="0.83"/>
<ellipse cx="249.2" cy="940.6" rx="2.6" ry="2.5" fill="#e05a9a" opacity="1.00"/>
<ellipse cx="215.9" cy="880.3" rx="2.2" ry="2.0" fill="#e888b0" opacity="0.89"/>
<ellipse cx="205.1" cy="902.4" rx="2.0" ry="1.9" fill="#c8408a" opacity="0.90"/>
<ellipse cx="272.4" cy="934.0" rx="2.6" ry="2.2" fill="#e878a8" opacity="0.88"/>
<ellipse cx="271.4" cy="913.8" rx="2.4" ry="2.1" fill="#d0408a" opacity="0.94"/>
<ellipse cx="205.1" cy="908.3" rx="1.7" ry="1.4" fill="#d0408a" opacity="0.95"/>
<ellipse cx="247.4" cy="884.1" rx="2.3" ry="2.3" fill="#d0408a" opacity="0.93"/>
<ellipse cx="234.5" cy="896.6" rx="1.8" ry="1.9" fill="#d83a7a" opacity="0.95"/>
<ellipse cx="286.8" cy="903.4" rx="1.9" ry="1.8" fill="#c8408a" opacity="0.80"/>
<ellipse cx="278.2" cy="902.3" rx="2.2" ry="2.0" fill="#e888b0" opacity="0.98"/>
<ellipse cx="198.1" cy="918.2" rx="2.5" ry="2.7" fill="#d0408a" opacity="0.85"/>
<ellipse cx="205.6" cy="883.3" rx="2.3" ry="1.9" fill="#e888b0" opacity="0.92"/>
<ellipse cx="227.6" cy="931.6" rx="2.5" ry="2.1" fill="#e878a8" opacity="0.85"/>
<ellipse cx="207.1" cy="916.5" rx="2.2" ry="2.0" fill="#e05a9a" opacity="0.86"/>
<ellipse cx="246.0" cy="863.4" rx="2.1" ry="2.3" fill="#e888b0" opacity="0.90"/>
<ellipse cx="267.0" cy="888.2" rx="1.9" ry="1.9" fill="#d0408a" opacity="0.86"/>
<ellipse cx="234.8" cy="903.0" rx="1.7" ry="1.8" fill="#c8408a" opacity="0.99"/>
<ellipse cx="258.2" cy="939.6" rx="2.4" ry="2.3" fill="#c8408a" opacity="0.98"/>
<ellipse cx="271.2" cy="868.2" rx="2.5" ry="2.1" fill="#d0408a" opacity="0.87"/>
<ellipse cx="299.8" cy="904.9" rx="2.1" ry="1.9" fill="#c8408a" opacity="0.98"/>
<ellipse cx="199.2" cy="900.6" rx="2.0" ry="2.1" fill="#e888b0" opacity="0.98"/>
<ellipse cx="284.8" cy="871.7" rx="2.2" ry="2.0" fill="#e878a8" opacity="0.85"/>
<ellipse cx="204.3" cy="896.2" rx="2.6" ry="2.5" fill="#c8408a" opacity="0.91"/>
<ellipse cx="289.8" cy="876.4" rx="1.9" ry="1.7" fill="#e878a8" opacity="0.95"/>
<ellipse cx="213.9" cy="930.5" rx="2.6" ry="2.8" fill="#d0408a" opacity="0.86"/>
<ellipse cx="221.5" cy="939.8" rx="2.6" ry="2.8" fill="#c8408a" opacity="0.86"/>
<ellipse cx="253.8" cy="884.2" rx="2.0" ry="1.7" fill="#d83a7a" opacity="0.85"/>
<ellipse cx="255.4" cy="862.7" rx="1.9" ry="1.5" fill="#e05a9a" opacity="0.96"/>
<ellipse cx="304.4" cy="895.7" rx="1.8" ry="1.6" fill="#c8408a" opacity="0.98"/>
<ellipse cx="279.5" cy="926.8" rx="1.7" ry="1.7" fill="#e888b0" opacity="0.90"/>
<ellipse cx="240.4" cy="908.5" rx="1.8" ry="1.7" fill="#e05a9a" opacity="0.97"/>
<ellipse cx="292.6" cy="891.5" rx="2.3" ry="2.3" fill="#e878a8" opacity="0.82"/>
<ellipse cx="269.5" cy="924.6" rx="1.9" ry="1.7" fill="#d0408a" opacity="0.95"/>
<ellipse cx="231.7" cy="937.0" rx="2.2" ry="2.1" fill="#e888b0" opacity="0.93"/>
<ellipse cx="253.9" cy="916.3" rx="2.0" ry="1.8" fill="#d83a7a" opacity="0.94"/>
<ellipse cx="204.0" cy="874.1" rx="2.0" ry="1.7" fill="#e05a9a" opacity="0.88"/>
<ellipse cx="214.4" cy="892.1" rx="2.3" ry="2.2" fill="#d83a7a" opacity="0.99"/>
<ellipse cx="268.9" cy="947.9" rx="1.8" ry="1.7" fill="#d0408a" opacity="0.90"/>
<ellipse cx="215.0" cy="905.6" rx="2.3" ry="2.4" fill="#c8408a" opacity="0.80"/>
<ellipse cx="295.6" cy="926.2" rx="2.0" ry="2.1" fill="#d83a7a" opacity="0.97"/>
<ellipse cx="198.7" cy="909.2" rx="2.2" ry="2.0" fill="#d0408a" opacity="0.91"/>
<ellipse cx="192.1" cy="903.9" rx="2.6" ry="2.3" fill="#d0408a" opacity="0.83"/>
<ellipse cx="276.9" cy="881.3" rx="2.0" ry="1.7" fill="#c8408a" opacity="0.84"/>
<ellipse cx="296.9" cy="920.1" rx="2.0" ry="2.0" fill="#d0408a" opacity="0.81"/>
<ellipse cx="197.2" cy="883.2" rx="2.7" ry="2.3" fill="#e878a8" opacity="0.81"/>
<ellipse cx="292.7" cy="934.2" rx="2.1" ry="1.8" fill="#d83a7a" opacity="0.88"/>
<ellipse cx="209.2" cy="938.1" rx="2.4" ry="2.1" fill="#d83a7a" opacity="0.89"/>
<ellipse cx="264.4" cy="944.3" rx="2.0" ry="1.7" fill="#d0408a" opacity="0.87"/>
<ellipse cx="258.5" cy="945.5" rx="1.7" ry="1.5" fill="#c8408a" opacity="0.88"/>
<ellipse cx="257.6" cy="888.8" rx="1.9" ry="1.6" fill="#e888b0" opacity="0.96"/>
<ellipse cx="303.0" cy="922.0" rx="1.9" ry="1.9" fill="#d0408a" opacity="0.89"/>
<ellipse cx="293.0" cy="907.0" rx="2.4" ry="2.5" fill="#c8408a" opacity="0.88"/>
<ellipse cx="279.7" cy="876.3" rx="2.7" ry="2.8" fill="#c8408a" opacity="0.86"/>
<ellipse cx="243.1" cy="880.0" rx="1.7" ry="1.7" fill="#e878a8" opacity="1.00"/>
<ellipse cx="193.3" cy="888.7" rx="1.7" ry="1.8" fill="#e05a9a" opacity="0.87"/>
<ellipse cx="200.6" cy="925.8" rx="1.8" ry="1.6" fill="#d83a7a" opacity="0.86"/>
<ellipse cx="260.5" cy="916.9" rx="2.1" ry="1.9" fill="#d0408a" opacity="0.97"/>
<ellipse cx="239.8" cy="929.3" rx="2.3" ry="2.3" fill="#d0408a" opacity="0.99"/>
<ellipse cx="191.7" cy="916.2" rx="2.3" ry="2.2" fill="#e888b0" opacity="0.82"/>
<ellipse cx="241.8" cy="874.3" rx="2.2" ry="2.0" fill="#e05a9a" opacity="0.85"/>
<ellipse cx="277.2" cy="871.0" rx="2.2" ry="2.3" fill="#e05a9a" opacity="0.89"/>
<ellipse cx="246.7" cy="949.9" rx="2.0" ry="2.1" fill="#e888b0" opacity="0.95"/>
<ellipse cx="278.0" cy="935.0" rx="2.4" ry="1.9" fill="#e05a9a" opacity="0.81"/>
<ellipse cx="206.3" cy="932.1" rx="2.3" ry="2.5" fill="#e888b0" opacity="0.93"/>
<ellipse cx="307.7" cy="910.9" rx="1.7" ry="1.8" fill="#c8408a" opacity="0.86"/>
<ellipse cx="238.4" cy="935.5" rx="2.0" ry="1.8" fill="#e878a8" opacity="0.82"/>
<ellipse cx="296.3" cy="877.1" rx="2.4" ry="2.1" fill="#e888b0" opacity="0.93"/>
<ellipse cx="243.2" cy="922.8" rx="2.1" ry="1.9" fill="#d0408a" opacity="0.82"/>
<ellipse cx="277.7" cy="865.2" rx="2.3" ry="2.0" fill="#d0408a" opacity="0.82"/>
<circle cx="215.5" cy="910.9" r="0.8" fill="#e888b0" opacity="0.45"/>
<circle cx="228.6" cy="937.8" r="0.7" fill="#d83a7a" opacity="0.45"/>
<circle cx="271.3" cy="918.6" r="0.7" fill="#d0408a" opacity="0.45"/>
<circle cx="231.4" cy="879.9" r="0.6" fill="#d83a7a" opacity="0.45"/>
<circle cx="261.0" cy="897.2" r="0.9" fill="#d83a7a" opacity="0.45"/>
<circle cx="257.8" cy="882.9" r="0.9" fill="#e878a8" opacity="0.45"/>
<circle cx="258.7" cy="924.6" r="0.7" fill="#c8408a" opacity="0.45"/>
<circle cx="278.0" cy="917.4" r="0.9" fill="#e05a9a" opacity="0.45"/>
<circle cx="207.2" cy="898.2" r="0.8" fill="#d83a7a" opacity="0.45"/>
<circle cx="206.6" cy="911.7" r="0.6" fill="#d0408a" opacity="0.45"/>
<circle cx="280.1" cy="902.4" r="0.9" fill="#d83a7a" opacity="0.45"/>
<circle cx="254.8" cy="929.5" r="0.6" fill="#d83a7a" opacity="0.45"/>
<circle cx="241.3" cy="885.1" r="0.9" fill="#e888b0" opacity="0.45"/>
<circle cx="250.3" cy="900.4" r="0.6" fill="#d83a7a" opacity="0.45"/>
<circle cx="220.5" cy="913.4" r="0.7" fill="#e05a9a" opacity="0.45"/>
<circle cx="280.5" cy="915.2" r="0.7" fill="#c8408a" opacity="0.45"/>
<circle cx="206.3" cy="913.0" r="0.9" fill="#d83a7a" opacity="0.45"/>
<circle cx="296.3" cy="917.6" r="0.6" fill="#d83a7a" opacity="0.45"/>
<circle cx="269.6" cy="898.7" r="0.8" fill="#d83a7a" opacity="0.45"/>
<circle cx="241.0" cy="892.8" r="1.0" fill="#c8408a" opacity="0.45"/>
<circle cx="231.6" cy="914.0" r="0.7" fill="#e05a9a" opacity="0.45"/>
<circle cx="219.6" cy="923.3" r="0.7" fill="#d0408a" opacity="0.45"/>
<circle cx="267.4" cy="921.4" r="0.9" fill="#d0408a" opacity="0.45"/>
<circle cx="274.5" cy="913.0" r="0.9" fill="#d83a7a" opacity="0.45"/>
<circle cx="203.7" cy="891.2" r="0.8" fill="#e878a8" opacity="0.45"/>
<circle cx="221.8" cy="921.7" r="0.8" fill="#e888b0" opacity="0.45"/>
<circle cx="238.7" cy="934.1" r="0.6" fill="#d0408a" opacity="0.45"/>
<circle cx="260.5" cy="902.2" r="0.6" fill="#d0408a" opacity="0.45"/>
<circle cx="224.6" cy="926.0" r="1.0" fill="#c8408a" opacity="0.45"/>
<circle cx="262.0" cy="922.8" r="0.6" fill="#d83a7a" opacity="0.45"/>
<circle cx="288.9" cy="907.6" r="0.8" fill="#c8408a" opacity="0.45"/>
<circle cx="222.0" cy="921.5" r="1.0" fill="#d83a7a" opacity="0.45"/>
<circle cx="211.6" cy="927.9" r="0.6" fill="#d0408a" opacity="0.45"/>
<circle cx="292.7" cy="911.9" r="1.1" fill="#e878a8" opacity="0.45"/>
<circle cx="293.5" cy="903.1" r="1.1" fill="#e878a8" opacity="0.45"/>
<circle cx="296.4" cy="906.2" r="0.9" fill="#e888b0" opacity="0.45"/>
<circle cx="265.5" cy="926.5" r="0.7" fill="#e05a9a" opacity="0.45"/>
<circle cx="229.0" cy="912.6" r="0.7" fill="#e878a8" opacity="0.45"/>
<circle cx="236.0" cy="937.2" r="1.1" fill="#e888b0" opacity="0.45"/>
<circle cx="198.6" cy="896.3" r="0.8" fill="#c8408a" opacity="0.45"/>
<circle cx="268.9" cy="914.8" r="1.1" fill="#e05a9a" opacity="0.45"/>
<circle cx="254.4" cy="902.2" r="0.9" fill="#d83a7a" opacity="0.45"/>
<circle cx="234.4" cy="916.9" r="0.7" fill="#d0408a" opacity="0.45"/>
<circle cx="229.0" cy="873.4" r="0.8" fill="#e05a9a" opacity="0.45"/>
<circle cx="199.5" cy="922.0" r="1.0" fill="#d83a7a" opacity="0.45"/>
<circle cx="223.3" cy="921.4" r="1.1" fill="#e05a9a" opacity="0.45"/>
<circle cx="211.6" cy="900.1" r="0.9" fill="#d0408a" opacity="0.45"/>
<circle cx="221.2" cy="929.2" r="0.9" fill="#c8408a" opacity="0.45"/>
<circle cx="220.7" cy="884.3" r="0.9" fill="#e888b0" opacity="0.45"/>
<circle cx="253.0" cy="902.5" r="0.7" fill="#e888b0" opacity="0.45"/>
<circle cx="271.2" cy="870.1" r="0.8" fill="#e878a8" opacity="0.45"/>
<circle cx="232.8" cy="869.6" r="0.9" fill="#c8408a" opacity="0.45"/>
<circle cx="236.3" cy="880.5" r="0.8" fill="#c8408a" opacity="0.45"/>
<circle cx="262.8" cy="928.0" r="0.7" fill="#c8408a" opacity="0.45"/>
<circle cx="220.7" cy="876.0" r="0.9" fill="#d83a7a" opacity="0.45"/>
<circle cx="217.9" cy="907.0" r="1.1" fill="#d0408a" opacity="0.45"/>
<circle cx="248.1" cy="915.0" r="0.9" fill="#c8408a" opacity="0.45"/>
<circle cx="281.4" cy="898.2" r="0.9" fill="#d83a7a" opacity="0.45"/>
<circle cx="247.0" cy="929.6" r="0.6" fill="#c8408a" opacity="0.45"/>
<circle cx="243.4" cy="923.9" r="0.8" fill="#d0408a" opacity="0.45"/>
<circle cx="212.2" cy="928.3" r="0.6" fill="#d83a7a" opacity="0.45"/>
<circle cx="224.8" cy="892.3" r="0.7" fill="#c8408a" opacity="0.45"/>
<circle cx="241.6" cy="943.4" r="0.9" fill="#c8408a" opacity="0.45"/>
<circle cx="280.6" cy="875.2" r="0.9" fill="#c8408a" opacity="0.45"/>
<circle cx="269.2" cy="868.5" r="1.0" fill="#d0408a" opacity="0.45"/>
<circle cx="250.3" cy="914.9" r="1.0" fill="#c8408a" opacity="0.45"/>
<circle cx="226.0" cy="875.6" r="0.9" fill="#e05a9a" opacity="0.45"/>
<circle cx="282.7" cy="873.6" r="1.0" fill="#e05a9a" opacity="0.45"/>
<circle cx="239.4" cy="912.6" r="0.7" fill="#e05a9a" opacity="0.45"/>
<circle cx="200.5" cy="915.1" r="1.0" fill="#c8408a" opacity="0.45"/>
<circle cx="241.9" cy="869.5" r="0.7" fill="#d83a7a" opacity="0.45"/>
<circle cx="297.0" cy="894.0" r="0.6" fill="#e05a9a" opacity="0.45"/>
<circle cx="233.0" cy="934.9" r="0.9" fill="#c8408a" opacity="0.45"/>
<circle cx="279.7" cy="878.0" r="1.0" fill="#e878a8" opacity="0.45"/>
<circle cx="264.4" cy="932.7" r="1.0" fill="#c8408a" opacity="0.45"/>
<circle cx="236.3" cy="944.4" r="1.0" fill="#e888b0" opacity="0.45"/>
<circle cx="292.8" cy="895.5" r="0.7" fill="#d83a7a" opacity="0.45"/>
<circle cx="236.8" cy="916.0" r="1.1" fill="#d0408a" opacity="0.45"/>
<circle cx="292.6" cy="905.3" r="0.9" fill="#e878a8" opacity="0.45"/>
<circle cx="252.7" cy="893.0" r="0.8" fill="#e888b0" opacity="0.45"/>
<circle cx="203.5" cy="921.5" r="0.8" fill="#e888b0" opacity="0.45"/>
<circle cx="206.8" cy="926.2" r="0.6" fill="#c8408a" opacity="0.45"/>
<circle cx="237.3" cy="902.2" r="0.7" fill="#d0408a" opacity="0.45"/>
<circle cx="225.9" cy="899.4" r="0.7" fill="#e888b0" opacity="0.45"/>
<circle cx="284.6" cy="912.7" r="1.0" fill="#c8408a" opacity="0.45"/>
<circle cx="297.7" cy="911.7" r="0.9" fill="#d0408a" opacity="0.45"/>
<circle cx="235.5" cy="875.7" r="0.6" fill="#e878a8" opacity="0.45"/>
<circle cx="229.1" cy="881.1" r="1.0" fill="#d83a7a" opacity="0.45"/>
<circle cx="276.8" cy="906.0" r="0.9" fill="#e888b0" opacity="0.45"/>
<circle cx="223.0" cy="904.9" r="0.9" fill="#d83a7a" opacity="0.45"/>
<circle cx="266.7" cy="893.2" r="0.9" fill="#e05a9a" opacity="0.45"/>
<circle cx="275.9" cy="935.0" r="0.9" fill="#e888b0" opacity="0.45"/>
<circle cx="265.1" cy="917.0" r="0.9" fill="#e888b0" opacity="0.45"/>
<circle cx="230.4" cy="868.8" r="1.0" fill="#d83a7a" opacity="0.45"/>
<circle cx="289.0" cy="884.4" r="0.8" fill="#d83a7a" opacity="0.45"/>
<circle cx="233.4" cy="869.5" r="0.7" fill="#d83a7a" opacity="0.45"/>
<circle cx="274.3" cy="911.4" r="0.8" fill="#e878a8" opacity="0.45"/>
<circle cx="295.4" cy="892.2" r="1.0" fill="#c8408a" opacity="0.45"/>
<circle cx="243.5" cy="886.4" r="0.8" fill="#c8408a" opacity="0.45"/>
<circle cx="271.7" cy="933.9" r="0.8" fill="#d83a7a" opacity="0.45"/>
<circle cx="219.7" cy="899.7" r="0.7" fill="#e888b0" opacity="0.45"/>
<circle cx="280.3" cy="911.5" r="0.8" fill="#e878a8" opacity="0.45"/>
<circle cx="221.0" cy="878.8" r="0.6" fill="#d83a7a" opacity="0.45"/>
<circle cx="259.1" cy="911.4" r="0.9" fill="#c8408a" opacity="0.45"/>
<circle cx="293.9" cy="886.5" r="0.6" fill="#e878a8" opacity="0.45"/>
<circle cx="213.5" cy="896.2" r="0.6" fill="#c8408a" opacity="0.45"/>
<circle cx="248.4" cy="905.4" r="1.0" fill="#d83a7a" opacity="0.45"/>
<circle cx="228.3" cy="942.5" r="0.7" fill="#d0408a" opacity="0.45"/>
<circle cx="260.0" cy="937.8" r="0.9" fill="#d0408a" opacity="0.45"/>
<circle cx="278.9" cy="885.3" r="0.8" fill="#d0408a" opacity="0.45"/>
<circle cx="299.0" cy="903.3" r="0.6" fill="#e05a9a" opacity="0.45"/>
<circle cx="213.4" cy="886.3" r="0.8" fill="#d0408a" opacity="0.45"/>
<circle cx="199.2" cy="914.7" r="0.8" fill="#d83a7a" opacity="0.45"/>
<circle cx="263.2" cy="900.8" r="0.7" fill="#d0408a" opacity="0.45"/>
<circle cx="287.7" cy="900.5" r="0.8" fill="#d83a7a" opacity="0.45"/>
<circle cx="282.0" cy="917.9" r="0.6" fill="#d83a7a" opacity="0.45"/>
<circle cx="291.3" cy="888.8" r="0.7" fill="#e888b0" opacity="0.45"/>
<circle cx="236.8" cy="925.1" r="0.8" fill="#e878a8" opacity="0.45"/>
<circle cx="244.7" cy="903.5" r="1.0" fill="#d83a7a" opacity="0.45"/>
<circle cx="251.0" cy="931.3" r="1.0" fill="#c8408a" opacity="0.45"/>
<circle cx="276.9" cy="889.5" r="0.8" fill="#e878a8" opacity="0.45"/>
<circle cx="236.8" cy="884.6" r="0.9" fill="#e888b0" opacity="0.45"/>
<circle cx="240.0" cy="939.5" r="0.7" fill="#e888b0" opacity="0.45"/>
<circle cx="263.0" cy="908.9" r="0.9" fill="#d0408a" opacity="0.45"/>
<circle cx="216.0" cy="891.9" r="0.9" fill="#d0408a" opacity="0.45"/>
<circle cx="219.6" cy="870.9" r="1.0" fill="#c8408a" opacity="0.45"/>
<circle cx="280.8" cy="874.7" r="1.0" fill="#e878a8" opacity="0.45"/>
<circle cx="217.7" cy="882.9" r="1.0" fill="#e878a8" opacity="0.45"/>
<circle cx="258.3" cy="943.6" r="0.7" fill="#e888b0" opacity="0.45"/>
<circle cx="258.7" cy="909.5" r="0.8" fill="#e05a9a" opacity="0.45"/>
<circle cx="266.5" cy="903.2" r="1.0" fill="#d0408a" opacity="0.45"/>
<circle cx="201.2" cy="908.7" r="1.0" fill="#d83a7a" opacity="0.45"/>
<circle cx="236.1" cy="871.4" r="0.9" fill="#e878a8" opacity="0.45"/>
<circle cx="259.5" cy="897.4" r="0.9" fill="#c8408a" opacity="0.45"/>
<ellipse cx="397.0" cy="811.0" rx="58.5" ry="35.3" fill="#f0f2a8" opacity="0.42" filter="url(#b4)" transform="rotate(0 397.0 811.0)"/>
<ellipse cx="401.5" cy="824.4" rx="2.2" ry="2.3" fill="#dcdc50" opacity="0.91"/>
<ellipse cx="385.1" cy="780.7" rx="2.4" ry="2.6" fill="#d0d040" opacity="0.81"/>
<ellipse cx="361.7" cy="828.3" rx="2.2" ry="2.4" fill="#c0c838" opacity="0.84"/>
<ellipse cx="410.9" cy="832.4" rx="2.3" ry="2.5" fill="#d8d848" opacity="0.99"/>
<ellipse cx="380.1" cy="799.1" rx="2.0" ry="1.9" fill="#c8cc38" opacity="0.96"/>
<ellipse cx="446.3" cy="823.7" rx="2.5" ry="2.2" fill="#d0d040" opacity="0.81"/>
<ellipse cx="442.6" cy="796.2" rx="2.4" ry="2.1" fill="#a8b830" opacity="0.97"/>
<ellipse cx="355.4" cy="779.1" rx="2.1" ry="2.1" fill="#d0d040" opacity="0.98"/>
<ellipse cx="400.8" cy="796.4" rx="2.4" ry="2.4" fill="#c0c838" opacity="0.83"/>
<ellipse cx="371.4" cy="783.0" rx="2.7" ry="2.9" fill="#c0c838" opacity="0.88"/>
<ellipse cx="434.8" cy="786.3" rx="2.5" ry="2.7" fill="#d0d040" opacity="0.95"/>
<ellipse cx="341.9" cy="805.5" rx="2.0" ry="2.2" fill="#a8b830" opacity="0.81"/>
<ellipse cx="413.3" cy="817.8" rx="1.9" ry="1.6" fill="#d8d848" opacity="0.82"/>
<ellipse cx="382.4" cy="805.2" rx="1.9" ry="2.0" fill="#c0c838" opacity="0.85"/>
<ellipse cx="449.0" cy="803.7" rx="2.0" ry="2.0" fill="#b8c030" opacity="0.85"/>
<ellipse cx="367.4" cy="837.4" rx="1.9" ry="1.9" fill="#d0d040" opacity="0.80"/>
<ellipse cx="440.3" cy="808.6" rx="1.9" ry="1.7" fill="#c0c838" opacity="0.96"/>
<ellipse cx="366.0" cy="816.2" rx="2.4" ry="2.3" fill="#c8cc38" opacity="0.90"/>
<ellipse cx="386.8" cy="828.0" rx="1.9" ry="1.9" fill="#c8cc38" opacity="0.82"/>
<ellipse cx="401.9" cy="838.4" rx="1.9" ry="1.8" fill="#d8d848" opacity="0.83"/>
<ellipse cx="440.0" cy="781.9" rx="2.2" ry="2.1" fill="#a8b830" opacity="0.92"/>
<ellipse cx="428.6" cy="839.3" rx="2.0" ry="1.9" fill="#c0c838" opacity="0.99"/>
<ellipse cx="398.8" cy="790.7" rx="1.9" ry="1.5" fill="#c0c838" opacity="0.97"/>
<ellipse cx="453.4" cy="823.9" rx="2.1" ry="2.1" fill="#d8d848" opacity="0.82"/>
<ellipse cx="374.0" cy="769.6" rx="2.0" ry="2.2" fill="#c8cc38" opacity="0.87"/>
<ellipse cx="445.6" cy="837.5" rx="1.7" ry="1.7" fill="#d8d848" opacity="0.89"/>
<ellipse cx="395.0" cy="843.9" rx="2.4" ry="2.1" fill="#d8d848" opacity="0.96"/>
<ellipse cx="426.6" cy="823.0" rx="1.7" ry="1.7" fill="#c8cc38" opacity="0.97"/>
<ellipse cx="411.3" cy="795.1" rx="2.2" ry="1.8" fill="#a8b830" opacity="0.97"/>
<ellipse cx="365.7" cy="808.5" rx="2.5" ry="2.3" fill="#c0c838" opacity="0.87"/>
<ellipse cx="374.2" cy="794.3" rx="2.1" ry="2.3" fill="#b8c030" opacity="0.89"/>
<ellipse cx="402.4" cy="830.9" rx="2.5" ry="2.2" fill="#a8b830" opacity="0.93"/>
<ellipse cx="375.9" cy="835.1" rx="2.2" ry="2.2" fill="#d8d848" opacity="0.92"/>
<ellipse cx="435.7" cy="813.3" rx="2.6" ry="2.6" fill="#c0c838" opacity="0.86"/>
<ellipse cx="447.1" cy="814.0" rx="1.8" ry="1.5" fill="#b8c030" opacity="0.88"/>
<ellipse cx="425.0" cy="787.0" rx="2.3" ry="1.9" fill="#c0c838" opacity="0.90"/>
<ellipse cx="361.9" cy="785.2" rx="2.6" ry="2.5" fill="#d8d848" opacity="0.95"/>
<ellipse cx="454.9" cy="806.6" rx="2.6" ry="2.7" fill="#a8b830" opacity="0.80"/>
<ellipse cx="355.0" cy="810.8" rx="2.5" ry="2.5" fill="#b8c030" opacity="0.90"/>
<ellipse cx="399.3" cy="779.1" rx="2.3" ry="1.9" fill="#d8d848" opacity="0.94"/>
<ellipse cx="410.7" cy="785.8" rx="2.1" ry="1.7" fill="#d0d040" opacity="0.93"/>
<ellipse cx="427.0" cy="829.2" rx="1.8" ry="1.9" fill="#c0c838" opacity="0.91"/>
<ellipse cx="360.4" cy="794.2" rx="2.5" ry="2.4" fill="#d8d848" opacity="0.93"/>
<ellipse cx="370.6" cy="803.2" rx="2.2" ry="2.3" fill="#dcdc50" opacity="0.97"/>
<ellipse cx="360.9" cy="800.7" rx="1.7" ry="1.5" fill="#c0c838" opacity="0.89"/>
<ellipse cx="348.5" cy="828.5" rx="1.7" ry="1.7" fill="#c8cc38" opacity="0.96"/>
<ellipse cx="410.1" cy="802.4" rx="1.8" ry="1.8" fill="#dcdc50" opacity="0.94"/>
<ellipse cx="422.6" cy="840.8" rx="1.9" ry="1.8" fill="#dcdc50" opacity="0.94"/>
<ellipse cx="435.1" cy="830.8" rx="2.2" ry="2.1" fill="#b8c030" opacity="0.80"/>
<ellipse cx="394.7" cy="813.6" rx="2.2" ry="1.8" fill="#a8b830" opacity="0.90"/>
<ellipse cx="354.8" cy="796.5" rx="2.2" ry="1.9" fill="#d0d040" opacity="0.88"/>
<ellipse cx="418.3" cy="834.1" rx="2.1" ry="1.9" fill="#b8c030" opacity="0.95"/>
<ellipse cx="414.0" cy="825.7" rx="1.9" ry="2.0" fill="#a8b830" opacity="0.83"/>
<ellipse cx="417.3" cy="845.2" rx="2.6" ry="2.6" fill="#d8d848" opacity="0.99"/>
<ellipse cx="344.9" cy="844.2" rx="1.8" ry="1.5" fill="#c8cc38" opacity="0.91"/>
<ellipse cx="408.0" cy="827.6" rx="2.4" ry="2.4" fill="#d8d848" opacity="0.90"/>
<ellipse cx="398.3" cy="770.6" rx="2.6" ry="2.4" fill="#d0d040" opacity="0.81"/>
<ellipse cx="370.5" cy="831.6" rx="2.3" ry="1.9" fill="#dcdc50" opacity="0.91"/>
<ellipse cx="422.0" cy="805.1" rx="1.9" ry="2.0" fill="#c8cc38" opacity="0.99"/>
<ellipse cx="430.3" cy="782.4" rx="2.4" ry="2.2" fill="#a8b830" opacity="0.92"/>
<ellipse cx="439.6" cy="826.4" rx="1.8" ry="1.7" fill="#c0c838" opacity="0.91"/>
<ellipse cx="464.1" cy="832.9" rx="2.1" ry="1.7" fill="#c0c838" opacity="0.85"/>
<ellipse cx="402.7" cy="817.9" rx="1.7" ry="1.5" fill="#c0c838" opacity="0.88"/>
<ellipse cx="417.8" cy="789.4" rx="2.6" ry="2.5" fill="#dcdc50" opacity="0.97"/>
<ellipse cx="350.3" cy="818.0" rx="1.7" ry="1.8" fill="#c0c838" opacity="0.86"/>
<ellipse cx="409.4" cy="812.8" rx="2.4" ry="2.2" fill="#d0d040" opacity="0.98"/>
<ellipse cx="396.0" cy="832.6" rx="2.0" ry="2.0" fill="#d8d848" opacity="0.89"/>
<ellipse cx="416.7" cy="810.5" rx="1.9" ry="1.8" fill="#c8cc38" opacity="0.96"/>
<ellipse cx="386.9" cy="816.7" rx="2.2" ry="2.3" fill="#c8cc38" opacity="0.85"/>
<ellipse cx="433.2" cy="797.4" rx="1.9" ry="1.6" fill="#b8c030" opacity="0.95"/>
<ellipse cx="371.5" cy="823.6" rx="2.3" ry="1.9" fill="#b8c030" opacity="0.81"/>
<ellipse cx="394.9" cy="800.5" rx="2.6" ry="2.8" fill="#d8d848" opacity="0.83"/>
<ellipse cx="405.3" cy="844.5" rx="2.2" ry="2.2" fill="#c8cc38" opacity="0.90"/>
<ellipse cx="403.7" cy="807.4" rx="2.5" ry="2.2" fill="#b8c030" opacity="0.94"/>
<ellipse cx="388.4" cy="810.2" rx="2.4" ry="2.1" fill="#c8cc38" opacity="0.96"/>
<ellipse cx="337.0" cy="817.5" rx="2.4" ry="2.0" fill="#a8b830" opacity="0.89"/>
<ellipse cx="383.5" cy="766.8" rx="1.8" ry="1.5" fill="#c8cc38" opacity="0.99"/>
<ellipse cx="402.8" cy="850.9" rx="2.3" ry="2.3" fill="#d0d040" opacity="0.97"/>
<ellipse cx="342.8" cy="813.1" rx="2.3" ry="2.2" fill="#a8b830" opacity="0.90"/>
<ellipse cx="359.2" cy="806.9" rx="2.2" ry="2.3" fill="#d0d040" opacity="0.99"/>
<ellipse cx="356.4" cy="820.9" rx="1.7" ry="1.9" fill="#d8d848" opacity="0.97"/>
<ellipse cx="365.6" cy="790.0" rx="2.2" ry="1.8" fill="#c0c838" opacity="0.97"/>
<ellipse cx="385.7" cy="846.3" rx="2.7" ry="2.2" fill="#c8cc38" opacity="0.99"/>
<ellipse cx="440.3" cy="835.2" rx="1.9" ry="1.7" fill="#d0d040" opacity="0.90"/>
<ellipse cx="379.0" cy="784.3" rx="2.3" ry="2.5" fill="#c0c838" opacity="0.95"/>
<ellipse cx="453.6" cy="832.2" rx="2.3" ry="2.0" fill="#d8d848" opacity="0.85"/>
<ellipse cx="432.9" cy="805.3" rx="2.0" ry="2.0" fill="#a8b830" opacity="0.87"/>
<ellipse cx="463.9" cy="792.3" rx="2.0" ry="2.2" fill="#c0c838" opacity="0.96"/>
<ellipse cx="377.3" cy="841.1" rx="2.2" ry="2.4" fill="#dcdc50" opacity="0.87"/>
<ellipse cx="422.7" cy="796.6" rx="2.6" ry="2.5" fill="#c8cc38" opacity="0.87"/>
<ellipse cx="356.7" cy="839.3" rx="2.5" ry="2.2" fill="#d0d040" opacity="0.97"/>
<ellipse cx="366.1" cy="797.5" rx="2.4" ry="2.1" fill="#b8c030" opacity="0.91"/>
<ellipse cx="416.5" cy="778.1" rx="2.7" ry="2.9" fill="#b8c030" opacity="0.91"/>
<ellipse cx="454.0" cy="796.1" rx="2.6" ry="2.7" fill="#dcdc50" opacity="0.87"/>
<ellipse cx="423.1" cy="771.6" rx="2.2" ry="2.1" fill="#c0c838" opacity="0.95"/>
<ellipse cx="392.3" cy="825.7" rx="2.2" ry="2.3" fill="#b8c030" opacity="0.90"/>
<ellipse cx="365.6" cy="823.3" rx="2.6" ry="2.1" fill="#a8b830" opacity="0.82"/>
<ellipse cx="362.4" cy="846.0" rx="1.7" ry="1.6" fill="#a8b830" opacity="0.89"/>
<ellipse cx="430.8" cy="817.7" rx="1.8" ry="1.5" fill="#c8cc38" opacity="0.92"/>
<ellipse cx="335.4" cy="805.9" rx="2.3" ry="2.2" fill="#d0d040" opacity="0.85"/>
<ellipse cx="378.8" cy="823.4" rx="1.8" ry="1.9" fill="#dcdc50" opacity="0.94"/>
<ellipse cx="336.6" cy="788.5" rx="2.2" ry="2.1" fill="#dcdc50" opacity="0.95"/>
<ellipse cx="389.5" cy="789.9" rx="1.8" ry="1.6" fill="#b8c030" opacity="0.91"/>
<ellipse cx="382.7" cy="789.4" rx="2.2" ry="2.2" fill="#d8d848" opacity="0.93"/>
<ellipse cx="455.7" cy="815.5" rx="2.7" ry="2.2" fill="#d0d040" opacity="0.86"/>
<ellipse cx="353.6" cy="790.7" rx="2.7" ry="2.5" fill="#b8c030" opacity="0.89"/>
<ellipse cx="464.5" cy="818.2" rx="2.7" ry="2.7" fill="#c0c838" opacity="0.81"/>
<ellipse cx="344.5" cy="794.4" rx="2.3" ry="2.2" fill="#dcdc50" opacity="0.97"/>
<ellipse cx="469.5" cy="812.4" rx="1.9" ry="1.9" fill="#c8cc38" opacity="0.81"/>
<ellipse cx="433.7" cy="777.1" rx="2.7" ry="2.9" fill="#b8c030" opacity="0.95"/>
<ellipse cx="361.0" cy="835.1" rx="2.5" ry="2.8" fill="#b8c030" opacity="0.96"/>
<ellipse cx="372.3" cy="809.0" rx="1.8" ry="1.9" fill="#c8cc38" opacity="0.86"/>
<ellipse cx="380.1" cy="815.8" rx="2.3" ry="2.1" fill="#a8b830" opacity="0.88"/>
<ellipse cx="323.3" cy="801.7" rx="1.7" ry="1.4" fill="#b8c030" opacity="0.81"/>
<ellipse cx="434.7" cy="838.3" rx="1.9" ry="1.8" fill="#c8cc38" opacity="0.97"/>
<ellipse cx="416.5" cy="801.9" rx="2.5" ry="2.7" fill="#d0d040" opacity="0.82"/>
<ellipse cx="350.0" cy="834.5" rx="2.1" ry="2.2" fill="#c0c838" opacity="0.98"/>
<ellipse cx="419.1" cy="822.0" rx="2.5" ry="2.8" fill="#dcdc50" opacity="0.91"/>
<ellipse cx="458.9" cy="784.3" rx="2.3" ry="2.4" fill="#c8cc38" opacity="0.99"/>
<ellipse cx="345.8" cy="822.9" rx="2.5" ry="2.1" fill="#dcdc50" opacity="0.99"/>
<ellipse cx="423.3" cy="811.0" rx="1.9" ry="1.8" fill="#d0d040" opacity="0.96"/>
<ellipse cx="407.8" cy="821.4" rx="1.9" ry="2.0" fill="#c0c838" opacity="0.86"/>
<ellipse cx="436.2" cy="820.4" rx="2.5" ry="2.5" fill="#d8d848" opacity="0.99"/>
<ellipse cx="420.9" cy="816.0" rx="2.3" ry="2.5" fill="#c8cc38" opacity="0.94"/>
<ellipse cx="326.3" cy="824.8" rx="2.3" ry="2.0" fill="#b8c030" opacity="0.95"/>
<ellipse cx="428.8" cy="851.0" rx="1.9" ry="2.0" fill="#b8c030" opacity="0.83"/>
<ellipse cx="383.4" cy="773.4" rx="2.5" ry="2.4" fill="#b8c030" opacity="0.86"/>
<ellipse cx="446.8" cy="788.9" rx="2.2" ry="1.9" fill="#b8c030" opacity="0.87"/>
<ellipse cx="348.9" cy="797.8" rx="2.7" ry="2.8" fill="#dcdc50" opacity="0.96"/>
<ellipse cx="389.5" cy="833.7" rx="2.4" ry="2.2" fill="#c0c838" opacity="0.87"/>
<ellipse cx="391.9" cy="795.1" rx="2.7" ry="2.4" fill="#dcdc50" opacity="0.89"/>
<ellipse cx="461.8" cy="824.3" rx="2.4" ry="2.3" fill="#d0d040" opacity="0.92"/>
<ellipse cx="390.9" cy="839.5" rx="2.3" ry="2.4" fill="#c0c838" opacity="0.90"/>
<ellipse cx="412.9" cy="851.1" rx="2.2" ry="2.0" fill="#d0d040" opacity="0.93"/>
<ellipse cx="378.6" cy="854.0" rx="2.0" ry="1.6" fill="#c0c838" opacity="0.88"/>
<ellipse cx="371.9" cy="849.7" rx="2.4" ry="2.5" fill="#d0d040" opacity="0.83"/>
<ellipse cx="391.0" cy="784.4" rx="2.5" ry="2.1" fill="#c8cc38" opacity="0.95"/>
<ellipse cx="392.1" cy="773.7" rx="2.1" ry="2.3" fill="#d8d848" opacity="0.80"/>
<ellipse cx="335.9" cy="795.4" rx="2.0" ry="2.1" fill="#c0c838" opacity="0.95"/>
<ellipse cx="388.9" cy="769.1" rx="2.3" ry="2.0" fill="#c0c838" opacity="0.99"/>
<ellipse cx="406.4" cy="781.4" rx="2.7" ry="2.6" fill="#b8c030" opacity="0.96"/>
<ellipse cx="405.9" cy="792.5" rx="2.5" ry="2.8" fill="#d0d040" opacity="0.98"/>
<ellipse cx="401.0" cy="802.4" rx="1.8" ry="1.6" fill="#a8b830" opacity="0.84"/>
<ellipse cx="349.6" cy="804.7" rx="2.7" ry="2.6" fill="#d0d040" opacity="0.96"/>
<ellipse cx="397.1" cy="807.2" rx="2.3" ry="2.1" fill="#d0d040" opacity="0.87"/>
<ellipse cx="386.1" cy="794.4" rx="2.5" ry="2.0" fill="#a8b830" opacity="0.81"/>
<ellipse cx="408.9" cy="837.7" rx="2.5" ry="2.0" fill="#c0c838" opacity="0.94"/>
<ellipse cx="447.8" cy="831.1" rx="2.0" ry="1.9" fill="#c8cc38" opacity="0.84"/>
<ellipse cx="391.8" cy="819.6" rx="2.4" ry="2.0" fill="#c0c838" opacity="0.94"/>
<ellipse cx="411.5" cy="773.9" rx="1.8" ry="1.9" fill="#c8cc38" opacity="0.89"/>
<ellipse cx="433.9" cy="845.7" rx="2.4" ry="2.1" fill="#a8b830" opacity="0.94"/>
<ellipse cx="468.0" cy="803.8" rx="1.9" ry="2.1" fill="#b8c030" opacity="0.95"/>
<ellipse cx="405.3" cy="769.8" rx="2.6" ry="2.6" fill="#c8cc38" opacity="0.90"/>
<ellipse cx="362.6" cy="771.6" rx="2.2" ry="2.4" fill="#d0d040" opacity="0.83"/>
<ellipse cx="383.7" cy="834.4" rx="2.2" ry="2.4" fill="#dcdc50" opacity="0.81"/>
<ellipse cx="428.4" cy="793.9" rx="1.9" ry="1.7" fill="#c8cc38" opacity="0.91"/>
<ellipse cx="355.1" cy="830.3" rx="1.8" ry="1.7" fill="#b8c030" opacity="0.99"/>
<ellipse cx="415.6" cy="839.2" rx="2.3" ry="2.2" fill="#d0d040" opacity="0.81"/>
<ellipse cx="389.0" cy="800.9" rx="1.8" ry="1.7" fill="#c0c838" opacity="0.90"/>
<ellipse cx="331.0" cy="812.2" rx="2.6" ry="2.2" fill="#d8d848" opacity="0.82"/>
<ellipse cx="412.4" cy="767.5" rx="2.7" ry="2.9" fill="#a8b830" opacity="0.90"/>
<ellipse cx="337.5" cy="823.6" rx="2.6" ry="2.2" fill="#d8d848" opacity="0.89"/>
<ellipse cx="454.6" cy="790.3" rx="2.5" ry="2.3" fill="#d8d848" opacity="0.80"/>
<ellipse cx="394.5" cy="766.1" rx="2.5" ry="2.2" fill="#d8d848" opacity="0.89"/>
<ellipse cx="340.8" cy="830.6" rx="1.7" ry="1.6" fill="#a8b830" opacity="0.95"/>
<ellipse cx="460.5" cy="811.2" rx="1.9" ry="1.8" fill="#c8cc38" opacity="0.92"/>
<ellipse cx="365.5" cy="780.9" rx="2.3" ry="2.0" fill="#d0d040" opacity="0.80"/>
<ellipse cx="418.7" cy="783.5" rx="2.0" ry="1.7" fill="#d8d848" opacity="1.00"/>
<ellipse cx="324.4" cy="794.8" rx="1.9" ry="1.7" fill="#d0d040" opacity="0.91"/>
<ellipse cx="439.0" cy="790.9" rx="2.5" ry="2.3" fill="#dcdc50" opacity="0.90"/>
<ellipse cx="385.3" cy="840.5" rx="1.9" ry="2.0" fill="#c8cc38" opacity="0.89"/>
<ellipse cx="430.2" cy="811.7" rx="1.9" ry="2.0" fill="#c0c838" opacity="0.85"/>
<ellipse cx="332.1" cy="801.1" rx="2.1" ry="2.1" fill="#dcdc50" opacity="0.82"/>
<ellipse cx="423.8" cy="780.9" rx="2.2" ry="2.1" fill="#b8c030" opacity="0.91"/>
<ellipse cx="443.0" cy="803.3" rx="1.9" ry="1.6" fill="#c8cc38" opacity="0.81"/>
<ellipse cx="461.3" cy="804.0" rx="2.0" ry="1.7" fill="#b8c030" opacity="0.87"/>
<ellipse cx="444.7" cy="778.4" rx="2.0" ry="2.1" fill="#c8cc38" opacity="0.86"/>
<ellipse cx="442.4" cy="817.9" rx="1.7" ry="1.9" fill="#c8cc38" opacity="0.88"/>
<ellipse cx="437.3" cy="801.3" rx="2.3" ry="2.5" fill="#b8c030" opacity="0.81"/>
<ellipse cx="355.9" cy="845.2" rx="2.2" ry="1.9" fill="#b8c030" opacity="1.00"/>
<ellipse cx="373.2" cy="776.6" rx="2.6" ry="2.7" fill="#a8b830" opacity="0.93"/>
<ellipse cx="433.6" cy="771.1" rx="1.8" ry="1.6" fill="#c0c838" opacity="0.99"/>
<ellipse cx="375.0" cy="818.1" rx="2.6" ry="2.1" fill="#d0d040" opacity="0.85"/>
<ellipse cx="322.6" cy="808.9" rx="2.5" ry="2.4" fill="#dcdc50" opacity="0.84"/>
<ellipse cx="424.3" cy="834.4" rx="2.1" ry="2.2" fill="#c0c838" opacity="0.93"/>
<ellipse cx="459.4" cy="829.4" rx="1.9" ry="2.1" fill="#dcdc50" opacity="0.89"/>
<ellipse cx="427.8" cy="845.3" rx="2.0" ry="1.8" fill="#d0d040" opacity="0.95"/>
<ellipse cx="457.8" cy="837.1" rx="2.1" ry="1.7" fill="#c8cc38" opacity="0.85"/>
<ellipse cx="398.6" cy="856.3" rx="1.9" ry="2.1" fill="#b8c030" opacity="0.98"/>
<ellipse cx="374.8" cy="788.5" rx="2.2" ry="2.2" fill="#d0d040" opacity="0.81"/>
<ellipse cx="345.7" cy="781.9" rx="1.8" ry="1.5" fill="#dcdc50" opacity="0.97"/>
<ellipse cx="345.5" cy="838.4" rx="1.9" ry="1.9" fill="#b8c030" opacity="0.91"/>
<ellipse cx="360.3" cy="815.5" rx="2.2" ry="1.8" fill="#c8cc38" opacity="0.82"/>
<ellipse cx="428.4" cy="801.7" rx="1.7" ry="1.5" fill="#d8d848" opacity="0.97"/>
<ellipse cx="378.7" cy="847.2" rx="1.9" ry="1.7" fill="#c0c838" opacity="0.90"/>
<ellipse cx="402.4" cy="786.2" rx="2.3" ry="2.0" fill="#c8cc38" opacity="0.93"/>
<ellipse cx="325.3" cy="818.9" rx="1.7" ry="1.6" fill="#b8c030" opacity="0.95"/>
<ellipse cx="448.4" cy="795.9" rx="2.1" ry="2.2" fill="#a8b830" opacity="0.96"/>
<ellipse cx="332.8" cy="832.1" rx="2.1" ry="2.1" fill="#d8d848" opacity="0.99"/>
<ellipse cx="367.9" cy="845.2" rx="1.8" ry="1.7" fill="#dcdc50" opacity="0.94"/>
<ellipse cx="376.2" cy="804.7" rx="2.1" ry="1.8" fill="#c0c838" opacity="0.89"/>
<ellipse cx="331.7" cy="820.4" rx="1.8" ry="1.6" fill="#c0c838" opacity="0.93"/>
<ellipse cx="392.1" cy="852.5" rx="2.5" ry="2.4" fill="#b8c030" opacity="0.92"/>
<ellipse cx="460.2" cy="798.0" rx="2.0" ry="2.2" fill="#dcdc50" opacity="0.92"/>
<ellipse cx="449.1" cy="844.1" rx="2.0" ry="1.9" fill="#d0d040" opacity="0.89"/>
<ellipse cx="379.0" cy="778.4" rx="1.9" ry="1.6" fill="#dcdc50" opacity="0.85"/>
<ellipse cx="423.3" cy="849.2" rx="2.0" ry="2.0" fill="#c8cc38" opacity="0.83"/>
<ellipse cx="330.4" cy="793.9" rx="2.2" ry="2.0" fill="#c8cc38" opacity="0.88"/>
<ellipse cx="400.6" cy="812.4" rx="2.4" ry="2.6" fill="#b8c030" opacity="0.86"/>
<ellipse cx="379.1" cy="830.1" rx="1.8" ry="1.9" fill="#a8b830" opacity="0.99"/>
<ellipse cx="337.3" cy="811.2" rx="2.0" ry="2.0" fill="#b8c030" opacity="0.89"/>
<ellipse cx="341.6" cy="799.6" rx="2.2" ry="1.8" fill="#a8b830" opacity="0.91"/>
<ellipse cx="348.8" cy="811.3" rx="2.2" ry="2.1" fill="#dcdc50" opacity="0.84"/>
<circle cx="427.9" cy="813.1" r="0.6" fill="#c0c838" opacity="0.45"/>
<circle cx="360.7" cy="789.6" r="0.7" fill="#b8c030" opacity="0.45"/>
<circle cx="352.0" cy="806.7" r="0.7" fill="#d8d848" opacity="0.45"/>
<circle cx="370.1" cy="786.7" r="0.9" fill="#a8b830" opacity="0.45"/>
<circle cx="388.2" cy="795.0" r="0.7" fill="#dcdc50" opacity="0.45"/>
<circle cx="412.1" cy="791.2" r="1.1" fill="#d0d040" opacity="0.45"/>
<circle cx="365.1" cy="802.1" r="0.6" fill="#d0d040" opacity="0.45"/>
<circle cx="446.1" cy="785.5" r="0.7" fill="#dcdc50" opacity="0.45"/>
<circle cx="362.1" cy="806.0" r="0.8" fill="#dcdc50" opacity="0.45"/>
<circle cx="443.6" cy="781.8" r="1.0" fill="#d0d040" opacity="0.45"/>
<circle cx="381.9" cy="791.7" r="0.6" fill="#d8d848" opacity="0.45"/>
<circle cx="382.7" cy="785.6" r="0.9" fill="#c8cc38" opacity="0.45"/>
<circle cx="437.3" cy="786.1" r="1.0" fill="#d0d040" opacity="0.45"/>
<circle cx="454.9" cy="796.5" r="1.1" fill="#b8c030" opacity="0.45"/>
<circle cx="443.3" cy="812.4" r="1.1" fill="#a8b830" opacity="0.45"/>
<circle cx="411.2" cy="850.7" r="1.1" fill="#d8d848" opacity="0.45"/>
<circle cx="441.1" cy="834.4" r="1.1" fill="#d8d848" opacity="0.45"/>
<circle cx="433.7" cy="803.2" r="0.7" fill="#dcdc50" opacity="0.45"/>
<circle cx="378.6" cy="828.9" r="0.8" fill="#b8c030" opacity="0.45"/>
<circle cx="420.9" cy="798.3" r="1.1" fill="#c0c838" opacity="0.45"/>
<circle cx="394.2" cy="782.9" r="0.9" fill="#b8c030" opacity="0.45"/>
<circle cx="385.1" cy="803.0" r="0.8" fill="#c0c838" opacity="0.45"/>
<circle cx="365.0" cy="836.1" r="0.9" fill="#b8c030" opacity="0.45"/>
<circle cx="412.7" cy="842.1" r="0.9" fill="#d8d848" opacity="0.45"/>
<circle cx="370.0" cy="843.4" r="0.7" fill="#a8b830" opacity="0.45"/>
<circle cx="455.0" cy="821.2" r="0.8" fill="#b8c030" opacity="0.45"/>
<circle cx="400.0" cy="827.1" r="0.6" fill="#a8b830" opacity="0.45"/>
<circle cx="366.9" cy="789.2" r="0.8" fill="#dcdc50" opacity="0.45"/>
<circle cx="347.2" cy="815.8" r="0.8" fill="#dcdc50" opacity="0.45"/>
<circle cx="345.2" cy="835.2" r="0.8" fill="#a8b830" opacity="0.45"/>
<circle cx="413.7" cy="813.0" r="0.8" fill="#c8cc38" opacity="0.45"/>
<circle cx="355.2" cy="806.5" r="1.0" fill="#d0d040" opacity="0.45"/>
<circle cx="372.2" cy="829.0" r="1.0" fill="#c8cc38" opacity="0.45"/>
<circle cx="376.2" cy="807.6" r="0.7" fill="#a8b830" opacity="0.45"/>
<circle cx="383.8" cy="802.5" r="0.7" fill="#d0d040" opacity="0.45"/>
<circle cx="445.5" cy="836.4" r="0.8" fill="#a8b830" opacity="0.45"/>
<circle cx="408.4" cy="783.8" r="0.7" fill="#b8c030" opacity="0.45"/>
<circle cx="430.2" cy="794.5" r="0.8" fill="#d8d848" opacity="0.45"/>
<circle cx="458.5" cy="799.7" r="0.8" fill="#d8d848" opacity="0.45"/>
<circle cx="338.8" cy="793.8" r="0.8" fill="#c8cc38" opacity="0.45"/>
<circle cx="415.8" cy="809.2" r="0.9" fill="#d8d848" opacity="0.45"/>
<circle cx="374.7" cy="782.6" r="0.9" fill="#d8d848" opacity="0.45"/>
<circle cx="426.1" cy="780.4" r="0.6" fill="#dcdc50" opacity="0.45"/>
<circle cx="340.1" cy="797.8" r="0.7" fill="#b8c030" opacity="0.45"/>
<circle cx="351.7" cy="824.8" r="1.0" fill="#d0d040" opacity="0.45"/>
<circle cx="441.1" cy="818.1" r="0.9" fill="#a8b830" opacity="0.45"/>
<circle cx="401.2" cy="816.6" r="0.8" fill="#dcdc50" opacity="0.45"/>
<circle cx="423.5" cy="806.7" r="1.1" fill="#a8b830" opacity="0.45"/>
<circle cx="385.4" cy="796.0" r="0.8" fill="#c8cc38" opacity="0.45"/>
<circle cx="337.1" cy="800.2" r="0.8" fill="#d8d848" opacity="0.45"/>
<circle cx="432.3" cy="838.9" r="0.8" fill="#c8cc38" opacity="0.45"/>
<circle cx="404.8" cy="833.2" r="0.7" fill="#c0c838" opacity="0.45"/>
<circle cx="456.4" cy="821.9" r="0.8" fill="#c8cc38" opacity="0.45"/>
<circle cx="432.8" cy="785.0" r="0.9" fill="#a8b830" opacity="0.45"/>
<circle cx="396.7" cy="815.7" r="0.7" fill="#a8b830" opacity="0.45"/>
<circle cx="420.6" cy="838.7" r="0.9" fill="#d8d848" opacity="0.45"/>
<circle cx="450.1" cy="810.2" r="1.0" fill="#d0d040" opacity="0.45"/>
<circle cx="391.1" cy="824.1" r="1.0" fill="#d8d848" opacity="0.45"/>
<circle cx="367.7" cy="839.8" r="1.0" fill="#d8d848" opacity="0.45"/>
<circle cx="405.4" cy="840.3" r="0.7" fill="#c0c838" opacity="0.45"/>
<circle cx="381.1" cy="834.2" r="0.9" fill="#b8c030" opacity="0.45"/>
<circle cx="411.7" cy="812.0" r="0.7" fill="#dcdc50" opacity="0.45"/>
<circle cx="387.3" cy="792.3" r="0.8" fill="#dcdc50" opacity="0.45"/>
<circle cx="344.5" cy="794.9" r="0.7" fill="#d0d040" opacity="0.45"/>
<circle cx="391.1" cy="834.0" r="0.8" fill="#c8cc38" opacity="0.45"/>
<circle cx="373.1" cy="790.2" r="0.7" fill="#b8c030" opacity="0.45"/>
<circle cx="340.0" cy="826.0" r="1.0" fill="#b8c030" opacity="0.45"/>
<circle cx="384.8" cy="786.7" r="0.6" fill="#d8d848" opacity="0.45"/>
<circle cx="376.3" cy="798.6" r="0.8" fill="#d8d848" opacity="0.45"/>
<circle cx="351.1" cy="833.2" r="0.9" fill="#a8b830" opacity="0.45"/>
<circle cx="366.9" cy="792.6" r="0.7" fill="#b8c030" opacity="0.45"/>
<circle cx="389.6" cy="822.8" r="1.0" fill="#d8d848" opacity="0.45"/>
<circle cx="379.3" cy="782.2" r="0.9" fill="#c0c838" opacity="0.45"/>
<circle cx="432.1" cy="827.9" r="1.0" fill="#b8c030" opacity="0.45"/>
<circle cx="367.9" cy="791.7" r="0.7" fill="#dcdc50" opacity="0.45"/>
<circle cx="383.0" cy="811.3" r="0.7" fill="#a8b830" opacity="0.45"/>
<circle cx="419.2" cy="820.7" r="0.9" fill="#a8b830" opacity="0.45"/>
<circle cx="407.5" cy="840.6" r="1.0" fill="#d8d848" opacity="0.45"/>
<circle cx="433.5" cy="832.4" r="1.1" fill="#b8c030" opacity="0.45"/>
<circle cx="446.7" cy="837.1" r="0.8" fill="#c8cc38" opacity="0.45"/>
<circle cx="409.8" cy="812.3" r="0.9" fill="#d0d040" opacity="0.45"/>
<circle cx="430.6" cy="782.1" r="0.7" fill="#b8c030" opacity="0.45"/>
<circle cx="372.5" cy="839.0" r="1.1" fill="#d0d040" opacity="0.45"/>
<circle cx="380.2" cy="843.7" r="0.9" fill="#c8cc38" opacity="0.45"/>
<circle cx="383.6" cy="828.6" r="0.9" fill="#c8cc38" opacity="0.45"/>
<circle cx="372.3" cy="803.8" r="1.1" fill="#c0c838" opacity="0.45"/>
<circle cx="429.7" cy="803.2" r="0.8" fill="#b8c030" opacity="0.45"/>
<circle cx="366.0" cy="845.3" r="0.9" fill="#a8b830" opacity="0.45"/>
<circle cx="371.5" cy="782.3" r="0.6" fill="#d8d848" opacity="0.45"/>
<circle cx="413.9" cy="794.6" r="0.8" fill="#b8c030" opacity="0.45"/>
<circle cx="397.0" cy="787.8" r="0.8" fill="#dcdc50" opacity="0.45"/>
<circle cx="429.1" cy="842.1" r="0.9" fill="#d0d040" opacity="0.45"/>
<circle cx="371.6" cy="807.7" r="0.9" fill="#c0c838" opacity="0.45"/>
<circle cx="452.9" cy="793.0" r="1.1" fill="#b8c030" opacity="0.45"/>
<circle cx="410.4" cy="842.4" r="0.8" fill="#b8c030" opacity="0.45"/>
<circle cx="386.3" cy="803.0" r="0.9" fill="#c8cc38" opacity="0.45"/>
<circle cx="407.3" cy="842.1" r="0.6" fill="#a8b830" opacity="0.45"/>
<circle cx="423.7" cy="809.7" r="1.0" fill="#c8cc38" opacity="0.45"/>
<circle cx="410.2" cy="830.0" r="1.1" fill="#d0d040" opacity="0.45"/>
<circle cx="428.8" cy="780.3" r="0.8" fill="#dcdc50" opacity="0.45"/>
<circle cx="428.6" cy="829.1" r="0.9" fill="#c0c838" opacity="0.45"/>
<circle cx="385.4" cy="814.4" r="1.0" fill="#c8cc38" opacity="0.45"/>
<circle cx="410.0" cy="788.3" r="0.9" fill="#d8d848" opacity="0.45"/>
<circle cx="392.2" cy="795.3" r="1.0" fill="#b8c030" opacity="0.45"/>
<circle cx="370.8" cy="805.5" r="0.7" fill="#c8cc38" opacity="0.45"/>
<circle cx="386.6" cy="826.4" r="1.0" fill="#b8c030" opacity="0.45"/>
<circle cx="455.1" cy="793.4" r="0.8" fill="#c0c838" opacity="0.45"/>
<circle cx="446.0" cy="832.5" r="0.6" fill="#c0c838" opacity="0.45"/>
<circle cx="406.3" cy="772.2" r="1.0" fill="#c0c838" opacity="0.45"/>
<circle cx="395.3" cy="787.8" r="1.0" fill="#dcdc50" opacity="0.45"/>
<circle cx="380.9" cy="848.5" r="0.8" fill="#dcdc50" opacity="0.45"/>
<circle cx="405.3" cy="837.5" r="1.0" fill="#b8c030" opacity="0.45"/>
<circle cx="360.3" cy="801.4" r="1.0" fill="#c8cc38" opacity="0.45"/>
<circle cx="410.5" cy="818.8" r="0.6" fill="#c0c838" opacity="0.45"/>
<circle cx="462.3" cy="802.7" r="0.7" fill="#c0c838" opacity="0.45"/>
<circle cx="393.0" cy="774.2" r="0.7" fill="#c0c838" opacity="0.45"/>
<circle cx="348.2" cy="833.7" r="0.8" fill="#b8c030" opacity="0.45"/>
<circle cx="383.2" cy="812.1" r="1.0" fill="#a8b830" opacity="0.45"/>
<circle cx="386.2" cy="777.1" r="1.1" fill="#c8cc38" opacity="0.45"/>
<circle cx="389.9" cy="851.2" r="1.0" fill="#dcdc50" opacity="0.45"/>
<circle cx="351.1" cy="783.3" r="0.7" fill="#b8c030" opacity="0.45"/>
<circle cx="407.8" cy="811.0" r="0.9" fill="#c0c838" opacity="0.45"/>
<circle cx="405.5" cy="787.9" r="0.8" fill="#dcdc50" opacity="0.45"/>
<circle cx="366.4" cy="833.2" r="0.7" fill="#d0d040" opacity="0.45"/>
<circle cx="359.2" cy="803.4" r="0.6" fill="#c0c838" opacity="0.45"/>
<circle cx="433.0" cy="834.8" r="0.7" fill="#b8c030" opacity="0.45"/>
<circle cx="435.5" cy="795.9" r="0.9" fill="#c0c838" opacity="0.45"/>
<circle cx="401.4" cy="778.9" r="0.8" fill="#dcdc50" opacity="0.45"/>
<circle cx="374.3" cy="829.8" r="1.0" fill="#a8b830" opacity="0.45"/>
<circle cx="392.8" cy="812.6" r="0.6" fill="#b8c030" opacity="0.45"/>
<circle cx="337.1" cy="828.7" r="0.9" fill="#a8b830" opacity="0.45"/>
<circle cx="386.7" cy="827.4" r="0.8" fill="#d8d848" opacity="0.45"/>
<circle cx="345.7" cy="824.1" r="0.7" fill="#c0c838" opacity="0.45"/>
<circle cx="402.8" cy="827.1" r="1.1" fill="#d8d848" opacity="0.45"/>
<circle cx="407.4" cy="850.5" r="0.6" fill="#dcdc50" opacity="0.45"/>
<circle cx="393.0" cy="774.5" r="1.0" fill="#a8b830" opacity="0.45"/>
<circle cx="361.1" cy="843.4" r="1.1" fill="#c8cc38" opacity="0.45"/>
<circle cx="421.5" cy="830.1" r="1.0" fill="#c0c838" opacity="0.45"/>
<circle cx="417.6" cy="843.6" r="0.9" fill="#dcdc50" opacity="0.45"/>
<circle cx="437.5" cy="807.4" r="0.6" fill="#d0d040" opacity="0.45"/>
<circle cx="354.1" cy="819.6" r="0.8" fill="#d0d040" opacity="0.45"/>
<circle cx="357.9" cy="796.3" r="0.7" fill="#d0d040" opacity="0.45"/>
<circle cx="383.6" cy="808.3" r="0.7" fill="#d0d040" opacity="0.45"/>
<circle cx="381.6" cy="845.4" r="0.7" fill="#a8b830" opacity="0.45"/>
<circle cx="355.3" cy="825.3" r="1.0" fill="#d0d040" opacity="0.45"/>
<circle cx="420.6" cy="793.1" r="0.8" fill="#d8d848" opacity="0.45"/>
<circle cx="337.0" cy="804.2" r="1.0" fill="#c0c838" opacity="0.45"/>
<circle cx="347.5" cy="832.8" r="1.1" fill="#a8b830" opacity="0.45"/>
<circle cx="375.6" cy="832.8" r="0.8" fill="#c0c838" opacity="0.45"/>
<circle cx="366.1" cy="845.3" r="0.8" fill="#c8cc38" opacity="0.45"/>
<circle cx="429.9" cy="837.1" r="0.9" fill="#b8c030" opacity="0.45"/>
<circle cx="435.0" cy="839.5" r="0.9" fill="#b8c030" opacity="0.45"/>
<circle cx="400.8" cy="826.0" r="0.9" fill="#c8cc38" opacity="0.45"/>
<circle cx="390.9" cy="802.8" r="1.1" fill="#dcdc50" opacity="0.45"/>
<circle cx="383.6" cy="791.4" r="0.9" fill="#b8c030" opacity="0.45"/>
<circle cx="441.6" cy="812.9" r="1.0" fill="#d8d848" opacity="0.45"/>
<circle cx="426.1" cy="829.2" r="0.7" fill="#c8cc38" opacity="0.45"/>
<circle cx="331.4" cy="820.7" r="0.6" fill="#c8cc38" opacity="0.45"/>
<circle cx="380.1" cy="809.5" r="0.7" fill="#c0c838" opacity="0.45"/>
<circle cx="404.6" cy="826.7" r="1.0" fill="#b8c030" opacity="0.45"/>
<circle cx="453.6" cy="819.2" r="1.0" fill="#dcdc50" opacity="0.45"/>
<circle cx="331.6" cy="799.8" r="1.0" fill="#c8cc38" opacity="0.45"/>
<circle cx="370.0" cy="812.9" r="0.8" fill="#b8c030" opacity="0.45"/>
<circle cx="338.4" cy="805.5" r="1.0" fill="#d0d040" opacity="0.45"/>
<circle cx="391.9" cy="792.1" r="0.9" fill="#a8b830" opacity="0.45"/>
<circle cx="415.0" cy="832.9" r="1.0" fill="#d0d040" opacity="0.45"/>
<circle cx="450.2" cy="792.7" r="1.0" fill="#b8c030" opacity="0.45"/>
<circle cx="397.5" cy="845.9" r="0.8" fill="#b8c030" opacity="0.45"/>
<circle cx="354.4" cy="841.9" r="0.7" fill="#b8c030" opacity="0.45"/>
<circle cx="353.9" cy="815.9" r="0.7" fill="#d8d848" opacity="0.45"/>
<ellipse cx="303.3" cy="809.5" rx="2.0" ry="1.5" fill="#c8c030" opacity="0.74"/>
<ellipse cx="333.1" cy="809.8" rx="1.5" ry="1.2" fill="#d8d040" opacity="0.68"/>
<ellipse cx="262.1" cy="784.2" rx="1.8" ry="1.4" fill="#e0d048" opacity="0.73"/>
<ellipse cx="329.3" cy="784.7" rx="1.9" ry="1.8" fill="#d8d040" opacity="0.80"/>
<ellipse cx="280.2" cy="785.7" rx="1.8" ry="1.5" fill="#d8c838" opacity="0.92"/>
<ellipse cx="321.6" cy="796.2" rx="1.5" ry="1.4" fill="#c8c030" opacity="0.70"/>
<ellipse cx="299.3" cy="800.8" rx="2.3" ry="2.0" fill="#d8c838" opacity="0.78"/>
<ellipse cx="273.7" cy="790.3" rx="1.7" ry="1.5" fill="#c8c030" opacity="0.93"/>
<ellipse cx="342.5" cy="784.6" rx="2.1" ry="1.9" fill="#e8b030" opacity="0.68"/>
<ellipse cx="338.3" cy="804.6" rx="1.7" ry="1.6" fill="#c8c030" opacity="0.85"/>
<ellipse cx="335.7" cy="776.1" rx="2.0" ry="1.6" fill="#e0d048" opacity="0.92"/>
<ellipse cx="296.4" cy="786.2" rx="2.3" ry="2.4" fill="#d8c838" opacity="0.78"/>
<ellipse cx="287.4" cy="800.3" rx="1.8" ry="1.9" fill="#e0d048" opacity="0.78"/>
<ellipse cx="310.2" cy="783.6" rx="1.6" ry="1.3" fill="#d8c838" opacity="0.86"/>
<ellipse cx="336.4" cy="791.3" rx="1.6" ry="1.6" fill="#e0d048" opacity="0.81"/>
<ellipse cx="251.1" cy="787.9" rx="1.6" ry="1.8" fill="#d8d040" opacity="0.73"/>
<ellipse cx="299.5" cy="792.7" rx="1.7" ry="1.7" fill="#d8c838" opacity="0.73"/>
<ellipse cx="270.4" cy="784.3" rx="1.4" ry="1.2" fill="#c8c030" opacity="0.67"/>
<ellipse cx="324.0" cy="776.9" rx="2.2" ry="2.1" fill="#c8c030" opacity="0.72"/>
<ellipse cx="313.0" cy="796.5" rx="1.8" ry="2.0" fill="#e8b030" opacity="0.70"/>
<ellipse cx="312.0" cy="807.7" rx="1.5" ry="1.5" fill="#d8d040" opacity="0.74"/>
<ellipse cx="315.8" cy="815.1" rx="1.9" ry="2.0" fill="#e8b030" opacity="0.78"/>
<ellipse cx="330.4" cy="799.3" rx="2.3" ry="1.8" fill="#e8b030" opacity="0.68"/>
<ellipse cx="263.2" cy="794.0" rx="1.4" ry="1.1" fill="#e0d048" opacity="0.93"/>
<ellipse cx="337.5" cy="819.8" rx="1.8" ry="1.4" fill="#e8b030" opacity="0.86"/>
<ellipse cx="329.9" cy="820.2" rx="1.8" ry="1.5" fill="#d8d040" opacity="0.95"/>
<ellipse cx="319.7" cy="805.2" rx="1.4" ry="1.4" fill="#d8d040" opacity="0.91"/>
<ellipse cx="341.0" cy="813.0" rx="2.1" ry="1.8" fill="#c8c030" opacity="0.80"/>
<ellipse cx="290.5" cy="780.2" rx="1.8" ry="2.0" fill="#c8c030" opacity="0.99"/>
<ellipse cx="303.3" cy="786.0" rx="2.1" ry="1.9" fill="#d8c838" opacity="0.95"/>
<ellipse cx="278.0" cy="799.2" rx="1.7" ry="1.6" fill="#d8d040" opacity="0.72"/>
<ellipse cx="324.4" cy="812.9" rx="1.7" ry="1.4" fill="#d8d040" opacity="0.97"/>
<ellipse cx="289.7" cy="788.3" rx="1.9" ry="1.8" fill="#d8c838" opacity="0.98"/>
<ellipse cx="345.9" cy="792.2" rx="2.2" ry="2.3" fill="#c8c030" opacity="0.73"/>
<ellipse cx="299.9" cy="779.5" rx="1.6" ry="1.5" fill="#d8c838" opacity="0.68"/>
<ellipse cx="306.7" cy="793.4" rx="1.8" ry="1.4" fill="#d8d040" opacity="0.92"/>
<ellipse cx="256.8" cy="791.6" rx="1.5" ry="1.4" fill="#d8d040" opacity="0.71"/>
<ellipse cx="316.7" cy="790.6" rx="1.9" ry="1.8" fill="#e0d048" opacity="0.98"/>
<ellipse cx="344.9" cy="777.9" rx="2.1" ry="2.1" fill="#c8c030" opacity="0.79"/>
<ellipse cx="339.8" cy="797.2" rx="2.0" ry="1.8" fill="#d8d040" opacity="0.81"/>
<ellipse cx="321.6" cy="784.0" rx="1.6" ry="1.3" fill="#d8c838" opacity="0.86"/>
<ellipse cx="306.1" cy="801.4" rx="1.6" ry="1.3" fill="#d8c838" opacity="0.90"/>
<ellipse cx="297.2" cy="807.0" rx="1.5" ry="1.1" fill="#d8c838" opacity="0.95"/>
<ellipse cx="292.5" cy="794.7" rx="1.5" ry="1.2" fill="#e8b030" opacity="0.72"/>
<ellipse cx="392" cy="733" rx="34" ry="20" fill="#d0eed8" opacity="0.4" filter="url(#b4)" transform="rotate(-14 392 733)"/>
<ellipse cx="336.1" cy="763.3" rx="1.8" ry="1.7" fill="#58b848" opacity="0.71"/>
<ellipse cx="283.1" cy="764.0" rx="1.6" ry="1.2" fill="#58b848" opacity="0.85"/>
<ellipse cx="324.9" cy="759.4" rx="1.5" ry="1.5" fill="#68c058" opacity="1.00"/>
<ellipse cx="265.8" cy="774.5" rx="2.0" ry="1.8" fill="#48b060" opacity="0.92"/>
<ellipse cx="312.2" cy="750.6" rx="2.0" ry="1.8" fill="#98d058" opacity="0.94"/>
<ellipse cx="292.2" cy="765.6" rx="2.0" ry="1.5" fill="#58b848" opacity="0.86"/>
<ellipse cx="272.6" cy="766.0" rx="1.6" ry="1.4" fill="#68c058" opacity="0.94"/>
<ellipse cx="320.9" cy="754.1" rx="1.7" ry="1.4" fill="#58b848" opacity="0.82"/>
<ellipse cx="315.5" cy="766.6" rx="2.2" ry="1.8" fill="#98d058" opacity="0.91"/>
<ellipse cx="325.3" cy="744.6" rx="2.1" ry="1.6" fill="#68c058" opacity="0.80"/>
<ellipse cx="330.2" cy="739.1" rx="1.4" ry="1.4" fill="#68c058" opacity="0.95"/>
<ellipse cx="307.2" cy="760.3" rx="2.1" ry="1.9" fill="#48b060" opacity="0.87"/>
<ellipse cx="297.6" cy="758.8" rx="1.9" ry="1.8" fill="#78c850" opacity="0.82"/>
<ellipse cx="337.8" cy="748.7" rx="2.3" ry="2.3" fill="#98d058" opacity="0.87"/>
<ellipse cx="276.0" cy="772.0" rx="2.3" ry="2.3" fill="#98d058" opacity="0.71"/>
<ellipse cx="288.4" cy="772.3" rx="1.6" ry="1.2" fill="#a8d040" opacity="0.88"/>
<ellipse cx="297.7" cy="770.8" rx="1.9" ry="2.1" fill="#98d058" opacity="0.85"/>
<ellipse cx="317.3" cy="759.8" rx="1.8" ry="1.5" fill="#58b848" opacity="0.94"/>
<ellipse cx="309.0" cy="767.5" rx="1.9" ry="1.5" fill="#48b060" opacity="0.92"/>
<ellipse cx="339.7" cy="755.5" rx="2.0" ry="1.8" fill="#78c850" opacity="0.71"/>
<ellipse cx="318.4" cy="745.6" rx="2.0" ry="2.1" fill="#a8d040" opacity="0.88"/>
<ellipse cx="336.6" cy="741.9" rx="2.2" ry="1.7" fill="#58b848" opacity="0.65"/>
<ellipse cx="304.3" cy="750.4" rx="1.6" ry="1.6" fill="#68c058" opacity="0.89"/>
<ellipse cx="328.9" cy="750.4" rx="2.2" ry="2.4" fill="#58b848" opacity="0.75"/>
<ellipse cx="287.6" cy="758.5" rx="2.3" ry="1.9" fill="#58b848" opacity="1.00"/>
<ellipse cx="344.6" cy="759.3" rx="1.4" ry="1.4" fill="#58c088" opacity="0.99"/>
<ellipse cx="394.6" cy="742.8" rx="1.7" ry="1.7" fill="#48b878" opacity="0.81"/>
<ellipse cx="427.3" cy="741.1" rx="1.8" ry="1.4" fill="#58b848" opacity="0.85"/>
<ellipse cx="417.9" cy="723.6" rx="2.0" ry="2.1" fill="#58b848" opacity="0.79"/>
<ellipse cx="371.8" cy="727.7" rx="1.5" ry="1.1" fill="#48b878" opacity="0.78"/>
<ellipse cx="402.8" cy="715.8" rx="1.5" ry="1.4" fill="#68c060" opacity="0.70"/>
<ellipse cx="409.0" cy="721.0" rx="1.7" ry="1.9" fill="#68c060" opacity="0.85"/>
<ellipse cx="392.2" cy="750.0" rx="1.7" ry="1.3" fill="#38a868" opacity="0.72"/>
<ellipse cx="421.5" cy="702.5" rx="1.5" ry="1.2" fill="#68c060" opacity="0.96"/>
<ellipse cx="338.6" cy="755.7" rx="1.9" ry="1.5" fill="#38a868" opacity="0.68"/>
<ellipse cx="353.0" cy="744.3" rx="2.0" ry="2.0" fill="#48b070" opacity="0.77"/>
<ellipse cx="353.6" cy="734.6" rx="2.0" ry="1.8" fill="#58c088" opacity="0.95"/>
<ellipse cx="366.5" cy="752.3" rx="2.1" ry="1.6" fill="#68c060" opacity="0.78"/>
<ellipse cx="384.4" cy="726.4" rx="1.6" ry="1.5" fill="#48b878" opacity="0.75"/>
<ellipse cx="402.6" cy="750.6" rx="2.2" ry="2.2" fill="#48b070" opacity="0.90"/>
<ellipse cx="401.9" cy="740.5" rx="1.4" ry="1.6" fill="#48b878" opacity="0.78"/>
<ellipse cx="421.1" cy="754.3" rx="2.0" ry="2.1" fill="#58c088" opacity="0.85"/>
<ellipse cx="418.4" cy="734.3" rx="1.7" ry="1.7" fill="#58b848" opacity="0.81"/>
<ellipse cx="386.7" cy="732.2" rx="1.4" ry="1.1" fill="#48b878" opacity="0.69"/>
<ellipse cx="396.9" cy="715.7" rx="1.4" ry="1.4" fill="#48b070" opacity="0.69"/>
<ellipse cx="411.2" cy="756.6" rx="1.9" ry="1.6" fill="#68c060" opacity="0.95"/>
<ellipse cx="365.6" cy="733.7" rx="2.2" ry="1.9" fill="#38a868" opacity="0.68"/>
<ellipse cx="386.9" cy="756.2" rx="1.6" ry="1.7" fill="#58b848" opacity="0.72"/>
<ellipse cx="424.9" cy="722.6" rx="2.2" ry="2.0" fill="#58b848" opacity="0.97"/>
<ellipse cx="378.3" cy="758.4" rx="1.7" ry="1.5" fill="#58c088" opacity="0.84"/>
<ellipse cx="376.5" cy="721.9" rx="2.1" ry="1.7" fill="#38a868" opacity="0.88"/>
<ellipse cx="416.0" cy="745.0" rx="2.3" ry="1.9" fill="#2f9a5a" opacity="0.92"/>
<ellipse cx="351.7" cy="755.3" rx="2.3" ry="2.4" fill="#58b848" opacity="0.73"/>
<ellipse cx="380.0" cy="736.7" rx="1.8" ry="1.4" fill="#38a868" opacity="0.66"/>
<ellipse cx="425.0" cy="730.6" rx="2.2" ry="2.3" fill="#48b878" opacity="0.85"/>
<ellipse cx="429.1" cy="753.3" rx="1.6" ry="1.3" fill="#58b848" opacity="0.70"/>
<ellipse cx="394.4" cy="730.9" rx="1.4" ry="1.4" fill="#48b878" opacity="0.85"/>
<ellipse cx="421.2" cy="709.8" rx="1.8" ry="1.6" fill="#48b878" opacity="0.66"/>
<ellipse cx="362.4" cy="761.1" rx="1.7" ry="1.5" fill="#68c060" opacity="0.84"/>
<ellipse cx="425.8" cy="715.2" rx="1.9" ry="1.5" fill="#2f9a5a" opacity="0.72"/>
<ellipse cx="369.8" cy="761.1" rx="1.4" ry="1.2" fill="#68c060" opacity="0.94"/>
<ellipse cx="375.2" cy="732.2" rx="2.1" ry="1.9" fill="#48b070" opacity="0.70"/>
<ellipse cx="434.2" cy="737.7" rx="1.6" ry="1.6" fill="#68c060" opacity="0.99"/>
<ellipse cx="414.6" cy="752.1" rx="1.5" ry="1.5" fill="#68c060" opacity="0.75"/>
<ellipse cx="398.5" cy="726.9" rx="1.8" ry="1.7" fill="#68c060" opacity="0.95"/>
<ellipse cx="411.6" cy="731.6" rx="1.9" ry="2.0" fill="#48b878" opacity="0.72"/>
<ellipse cx="338.9" cy="748.0" rx="2.2" ry="2.2" fill="#58c088" opacity="0.86"/>
<ellipse cx="402.1" cy="731.6" rx="1.4" ry="1.1" fill="#48b878" opacity="0.97"/>
<ellipse cx="404.0" cy="758.8" rx="2.2" ry="1.8" fill="#2f9a5a" opacity="0.86"/>
<ellipse cx="340.1" cy="764.0" rx="2.1" ry="1.9" fill="#68c060" opacity="0.71"/>
<ellipse cx="433.6" cy="729.3" rx="2.3" ry="2.1" fill="#48b878" opacity="0.77"/>
<ellipse cx="358.4" cy="752.2" rx="1.8" ry="1.5" fill="#58c088" opacity="0.69"/>
<ellipse cx="372.1" cy="743.2" rx="1.7" ry="1.5" fill="#48b878" opacity="0.92"/>
<ellipse cx="357.9" cy="740.4" rx="2.0" ry="1.8" fill="#68c060" opacity="0.94"/>
<ellipse cx="381.6" cy="717.5" rx="1.6" ry="1.6" fill="#58c088" opacity="0.78"/>
<ellipse cx="434.8" cy="751.6" rx="2.3" ry="1.9" fill="#68c060" opacity="0.83"/>
<ellipse cx="337.7" cy="741.6" rx="1.4" ry="1.2" fill="#58c088" opacity="0.93"/>
<ellipse cx="362.9" cy="744.7" rx="1.6" ry="1.3" fill="#2f9a5a" opacity="0.74"/>
<ellipse cx="388.7" cy="721.7" rx="1.8" ry="2.0" fill="#58c088" opacity="1.00"/>
<ellipse cx="416.3" cy="715.2" rx="2.1" ry="1.7" fill="#48b070" opacity="0.70"/>
<ellipse cx="427.2" cy="703.0" rx="2.1" ry="1.8" fill="#68c060" opacity="0.68"/>
<ellipse cx="401.6" cy="707.6" rx="1.9" ry="1.8" fill="#38a868" opacity="0.78"/>
<ellipse cx="414.5" cy="702.7" rx="1.8" ry="1.6" fill="#68c060" opacity="0.84"/>
<ellipse cx="433.0" cy="744.8" rx="2.3" ry="1.7" fill="#68c060" opacity="0.82"/>
<ellipse cx="348.5" cy="750.4" rx="1.5" ry="1.2" fill="#2f9a5a" opacity="0.81"/>
<ellipse cx="346.7" cy="736.6" rx="1.5" ry="1.5" fill="#58b848" opacity="0.82"/>
<ellipse cx="387.6" cy="739.6" rx="2.3" ry="2.0" fill="#48b878" opacity="0.74"/>
<ellipse cx="370.9" cy="722.1" rx="2.2" ry="1.7" fill="#48b070" opacity="0.71"/>
<ellipse cx="372.9" cy="755.3" rx="2.0" ry="1.6" fill="#48b878" opacity="0.80"/>
<ellipse cx="425.7" cy="748.4" rx="1.5" ry="1.4" fill="#48b878" opacity="0.73"/>
<ellipse cx="360.8" cy="727.8" rx="1.5" ry="1.2" fill="#2f9a5a" opacity="0.74"/>
<ellipse cx="411.1" cy="712.5" rx="2.1" ry="1.6" fill="#48b878" opacity="0.68"/>
<ellipse cx="421.0" cy="718.5" rx="1.4" ry="1.4" fill="#2f9a5a" opacity="0.74"/>
<ellipse cx="384.3" cy="747.4" rx="1.8" ry="1.4" fill="#58c088" opacity="0.87"/>
<ellipse cx="376.4" cy="747.4" rx="1.7" ry="1.7" fill="#58b848" opacity="0.98"/>
<ellipse cx="353.2" cy="761.7" rx="2.0" ry="1.8" fill="#48b070" opacity="0.81"/>
<ellipse cx="381.3" cy="753.6" rx="1.9" ry="1.6" fill="#58b848" opacity="0.87"/>
<ellipse cx="392.1" cy="758.4" rx="2.2" ry="2.3" fill="#58c088" opacity="0.80"/>
<ellipse cx="431.7" cy="723.9" rx="2.2" ry="1.8" fill="#48b878" opacity="0.68"/>
<ellipse cx="407.6" cy="741.1" rx="1.5" ry="1.2" fill="#38a868" opacity="0.87"/>
<ellipse cx="387.6" cy="715.4" rx="1.6" ry="1.6" fill="#58b848" opacity="0.73"/>
<ellipse cx="440.4" cy="753.4" rx="2.1" ry="1.6" fill="#48b070" opacity="0.78"/>
<ellipse cx="425.4" cy="697.3" rx="1.8" ry="1.4" fill="#48b878" opacity="0.88"/>
<ellipse cx="421.8" cy="739.9" rx="2.2" ry="1.7" fill="#48b878" opacity="0.72"/>
<ellipse cx="402.3" cy="721.7" rx="2.0" ry="1.9" fill="#58b848" opacity="0.93"/>
<ellipse cx="431.2" cy="717.1" rx="2.3" ry="2.0" fill="#48b070" opacity="0.78"/>
<ellipse cx="398.2" cy="754.6" rx="2.0" ry="1.9" fill="#68c060" opacity="0.90"/>
<ellipse cx="347.0" cy="743.7" rx="1.5" ry="1.4" fill="#38a868" opacity="0.66"/>
<ellipse cx="371.1" cy="736.1" rx="1.6" ry="1.7" fill="#68c060" opacity="0.66"/>
<ellipse cx="406.4" cy="726.8" rx="1.8" ry="1.4" fill="#58b848" opacity="0.76"/>
<ellipse cx="393.0" cy="736.8" rx="1.6" ry="1.4" fill="#48b070" opacity="0.67"/>
<ellipse cx="413.3" cy="738.0" rx="2.1" ry="1.9" fill="#58b848" opacity="0.77"/>
<ellipse cx="408.8" cy="704.8" rx="1.9" ry="1.6" fill="#48b878" opacity="0.82"/>
<ellipse cx="394.4" cy="721.0" rx="1.9" ry="1.5" fill="#48b878" opacity="0.81"/>
<ellipse cx="403.0" cy="907.0" rx="48.2" ry="37.0" fill="#fbd6b0" opacity="0.42" filter="url(#b4)" transform="rotate(0 403.0 907.0)"/>
<ellipse cx="421.0" cy="897.9" rx="2.1" ry="2.3" fill="#f08a38" opacity="0.86"/>
<ellipse cx="386.9" cy="920.9" rx="2.6" ry="2.2" fill="#f49040" opacity="0.83"/>
<ellipse cx="383.0" cy="877.0" rx="1.9" ry="1.9" fill="#f4a050" opacity="0.95"/>
<ellipse cx="432.2" cy="903.5" rx="2.7" ry="2.7" fill="#f08a38" opacity="0.90"/>
<ellipse cx="413.7" cy="871.4" rx="1.8" ry="1.8" fill="#f49040" opacity="0.83"/>
<ellipse cx="407.7" cy="931.0" rx="1.7" ry="1.7" fill="#e86a20" opacity="0.87"/>
<ellipse cx="399.8" cy="874.8" rx="1.8" ry="1.9" fill="#f08a38" opacity="0.92"/>
<ellipse cx="438.0" cy="880.4" rx="1.8" ry="2.0" fill="#ee6a30" opacity="0.88"/>
<ellipse cx="397.0" cy="896.5" rx="1.8" ry="1.6" fill="#f49040" opacity="0.80"/>
<ellipse cx="372.6" cy="898.4" rx="2.1" ry="1.7" fill="#ee6a30" opacity="0.97"/>
<ellipse cx="359.7" cy="890.6" rx="2.5" ry="2.0" fill="#f49040" opacity="0.99"/>
<ellipse cx="411.6" cy="887.3" rx="1.9" ry="1.6" fill="#f4a050" opacity="0.93"/>
<ellipse cx="357.4" cy="899.5" rx="2.1" ry="1.9" fill="#f49040" opacity="0.96"/>
<ellipse cx="359.4" cy="918.0" rx="2.0" ry="2.1" fill="#f08a38" opacity="0.81"/>
<ellipse cx="414.2" cy="938.3" rx="1.9" ry="1.6" fill="#e86a20" opacity="0.82"/>
<ellipse cx="375.3" cy="925.5" rx="2.1" ry="2.0" fill="#e86a20" opacity="0.94"/>
<ellipse cx="430.1" cy="918.0" rx="1.8" ry="1.6" fill="#e86a20" opacity="0.92"/>
<ellipse cx="368.1" cy="923.3" rx="2.0" ry="1.8" fill="#f4a050" opacity="0.90"/>
<ellipse cx="403.9" cy="884.8" rx="2.5" ry="2.4" fill="#ee6a30" opacity="0.97"/>
<ellipse cx="392.4" cy="899.7" rx="2.1" ry="2.0" fill="#e86a20" opacity="0.94"/>
<ellipse cx="383.8" cy="905.2" rx="2.4" ry="2.2" fill="#f4a050" opacity="0.86"/>
<ellipse cx="422.9" cy="930.9" rx="2.3" ry="2.0" fill="#ee6a30" opacity="0.90"/>
<ellipse cx="392.1" cy="865.2" rx="1.9" ry="1.8" fill="#f07a28" opacity="0.89"/>
<ellipse cx="397.5" cy="932.8" rx="2.2" ry="1.8" fill="#e86a20" opacity="1.00"/>
<ellipse cx="374.6" cy="906.1" rx="1.8" ry="1.7" fill="#e86a20" opacity="0.86"/>
<ellipse cx="413.5" cy="922.5" rx="2.3" ry="2.2" fill="#f08a38" opacity="0.88"/>
<ellipse cx="376.5" cy="868.6" rx="2.0" ry="1.7" fill="#ee6a30" opacity="0.98"/>
<ellipse cx="410.4" cy="951.0" rx="2.4" ry="2.2" fill="#f4a050" opacity="0.82"/>
<ellipse cx="423.6" cy="886.2" rx="2.2" ry="2.0" fill="#e86a20" opacity="0.90"/>
<ellipse cx="392.4" cy="915.6" rx="2.1" ry="2.2" fill="#ee6a30" opacity="0.88"/>
<ellipse cx="404.3" cy="909.8" rx="2.2" ry="1.8" fill="#f49040" opacity="0.89"/>
<ellipse cx="431.8" cy="934.5" rx="2.4" ry="2.6" fill="#f08a38" opacity="0.97"/>
<ellipse cx="433.3" cy="941.7" rx="2.5" ry="2.1" fill="#f07a28" opacity="0.81"/>
<ellipse cx="364.6" cy="908.9" rx="2.7" ry="2.2" fill="#f4a050" opacity="0.87"/>
<ellipse cx="427.9" cy="894.9" rx="2.2" ry="1.8" fill="#e86a20" opacity="0.87"/>
<ellipse cx="390.2" cy="909.5" rx="2.7" ry="2.6" fill="#f49040" opacity="0.85"/>
<ellipse cx="423.8" cy="937.8" rx="2.4" ry="2.0" fill="#ee6a30" opacity="0.82"/>
<ellipse cx="388.7" cy="875.0" rx="2.2" ry="1.9" fill="#f08a38" opacity="0.93"/>
<ellipse cx="394.8" cy="939.8" rx="2.2" ry="2.3" fill="#f08a38" opacity="0.93"/>
<ellipse cx="397.8" cy="920.5" rx="2.7" ry="2.2" fill="#f49040" opacity="0.92"/>
<ellipse cx="379.1" cy="910.3" rx="2.7" ry="2.4" fill="#ee6a30" opacity="0.97"/>
<ellipse cx="416.3" cy="914.2" rx="1.8" ry="1.6" fill="#f08a38" opacity="0.91"/>
<ellipse cx="402.5" cy="926.1" rx="1.8" ry="1.8" fill="#f49040" opacity="0.84"/>
<ellipse cx="388.0" cy="928.5" rx="2.1" ry="2.3" fill="#f08a38" opacity="0.99"/>
<ellipse cx="389.5" cy="893.5" rx="2.1" ry="1.9" fill="#f07a28" opacity="0.87"/>
<ellipse cx="385.9" cy="951.0" rx="2.3" ry="2.0" fill="#f07a28" opacity="0.87"/>
<ellipse cx="403.5" cy="941.3" rx="2.4" ry="2.3" fill="#e86a20" opacity="0.92"/>
<ellipse cx="436.0" cy="920.7" rx="2.2" ry="1.9" fill="#f08a38" opacity="0.84"/>
<ellipse cx="370.7" cy="941.1" rx="1.8" ry="1.9" fill="#f4a050" opacity="0.93"/>
<ellipse cx="362.9" cy="881.6" rx="1.8" ry="1.6" fill="#ee6a30" opacity="0.93"/>
<ellipse cx="399.7" cy="946.0" rx="2.1" ry="2.2" fill="#f07a28" opacity="0.82"/>
<ellipse cx="370.9" cy="913.1" rx="2.6" ry="2.5" fill="#f4a050" opacity="0.83"/>
<ellipse cx="425.1" cy="947.4" rx="1.9" ry="1.6" fill="#f49040" opacity="0.97"/>
<ellipse cx="458.4" cy="909.7" rx="1.7" ry="1.9" fill="#f08a38" opacity="0.85"/>
<ellipse cx="387.6" cy="934.6" rx="2.2" ry="2.1" fill="#f07a28" opacity="0.96"/>
<ellipse cx="446.2" cy="926.8" rx="1.7" ry="1.5" fill="#f49040" opacity="0.88"/>
<ellipse cx="441.9" cy="894.4" rx="1.8" ry="1.7" fill="#e86a20" opacity="0.96"/>
<ellipse cx="416.7" cy="882.1" rx="1.8" ry="1.6" fill="#f4a050" opacity="0.90"/>
<ellipse cx="408.9" cy="880.5" rx="2.1" ry="2.0" fill="#f07a28" opacity="0.99"/>
<ellipse cx="408.9" cy="913.4" rx="2.7" ry="2.8" fill="#f4a050" opacity="0.92"/>
<ellipse cx="411.8" cy="902.2" rx="2.3" ry="2.3" fill="#e86a20" opacity="0.84"/>
<ellipse cx="449.8" cy="895.7" rx="2.5" ry="2.5" fill="#f4a050" opacity="0.93"/>
<ellipse cx="403.9" cy="895.6" rx="2.2" ry="2.1" fill="#f4a050" opacity="0.99"/>
<ellipse cx="363.1" cy="931.6" rx="2.4" ry="2.4" fill="#f49040" opacity="0.87"/>
<ellipse cx="373.1" cy="931.5" rx="2.6" ry="2.6" fill="#f49040" opacity="0.94"/>
<ellipse cx="446.5" cy="889.7" rx="2.1" ry="2.2" fill="#f07a28" opacity="0.92"/>
<ellipse cx="409.6" cy="894.5" rx="2.3" ry="2.2" fill="#f07a28" opacity="0.81"/>
<ellipse cx="457.8" cy="901.1" rx="2.3" ry="2.2" fill="#f4a050" opacity="0.81"/>
<ellipse cx="400.2" cy="915.0" rx="2.2" ry="2.1" fill="#f07a28" opacity="0.82"/>
<ellipse cx="378.2" cy="884.2" rx="1.8" ry="1.9" fill="#f08a38" opacity="0.82"/>
<ellipse cx="445.8" cy="902.6" rx="1.7" ry="1.8" fill="#f08a38" opacity="0.94"/>
<ellipse cx="422.2" cy="925.2" rx="2.2" ry="1.8" fill="#e86a20" opacity="0.85"/>
<ellipse cx="437.4" cy="886.3" rx="1.8" ry="1.6" fill="#f49040" opacity="0.82"/>
<ellipse cx="344.6" cy="901.0" rx="2.2" ry="2.1" fill="#f49040" opacity="0.96"/>
<ellipse cx="348.9" cy="914.4" rx="2.1" ry="1.9" fill="#f08a38" opacity="0.80"/>
<ellipse cx="413.4" cy="865.1" rx="2.5" ry="2.1" fill="#ee6a30" opacity="0.90"/>
<ellipse cx="372.3" cy="882.1" rx="2.2" ry="2.4" fill="#f08a38" opacity="0.86"/>
<ellipse cx="386.9" cy="882.4" rx="2.2" ry="1.8" fill="#f08a38" opacity="0.92"/>
<ellipse cx="392.7" cy="946.0" rx="1.8" ry="1.9" fill="#f4a050" opacity="0.81"/>
<ellipse cx="394.2" cy="873.5" rx="1.9" ry="1.8" fill="#f07a28" opacity="0.94"/>
<ellipse cx="379.2" cy="900.9" rx="2.2" ry="1.7" fill="#f07a28" opacity="0.93"/>
<ellipse cx="428.8" cy="880.7" rx="2.0" ry="1.7" fill="#f49040" opacity="0.95"/>
<ellipse cx="380.6" cy="892.7" rx="2.2" ry="2.3" fill="#ee6a30" opacity="0.88"/>
<ellipse cx="391.0" cy="887.8" rx="1.9" ry="2.0" fill="#f08a38" opacity="0.94"/>
<ellipse cx="413.4" cy="928.7" rx="2.6" ry="2.5" fill="#f08a38" opacity="0.87"/>
<ellipse cx="425.7" cy="902.4" rx="2.0" ry="2.2" fill="#f4a050" opacity="0.88"/>
<ellipse cx="408.3" cy="873.8" rx="2.4" ry="2.5" fill="#f07a28" opacity="0.81"/>
<ellipse cx="430.2" cy="928.1" rx="2.0" ry="2.0" fill="#f08a38" opacity="0.88"/>
<ellipse cx="440.8" cy="933.9" rx="2.6" ry="2.8" fill="#ee6a30" opacity="0.81"/>
<ellipse cx="354.6" cy="884.5" rx="1.8" ry="1.6" fill="#ee6a30" opacity="0.97"/>
<ellipse cx="448.5" cy="910.9" rx="2.2" ry="2.0" fill="#f08a38" opacity="0.87"/>
<ellipse cx="415.5" cy="892.3" rx="1.8" ry="1.9" fill="#e86a20" opacity="0.81"/>
<ellipse cx="381.2" cy="864.4" rx="2.0" ry="1.9" fill="#f08a38" opacity="0.99"/>
<ellipse cx="437.5" cy="909.2" rx="2.5" ry="2.4" fill="#ee6a30" opacity="0.97"/>
<ellipse cx="454.3" cy="888.8" rx="2.5" ry="2.5" fill="#ee6a30" opacity="0.81"/>
<ellipse cx="369.2" cy="888.5" rx="2.2" ry="2.2" fill="#e86a20" opacity="0.81"/>
<ellipse cx="405.8" cy="901.4" rx="1.9" ry="1.9" fill="#f07a28" opacity="0.95"/>
<ellipse cx="367.0" cy="902.6" rx="2.0" ry="2.0" fill="#f4a050" opacity="0.86"/>
<ellipse cx="443.6" cy="879.6" rx="2.0" ry="1.9" fill="#f07a28" opacity="1.00"/>
<ellipse cx="423.5" cy="914.5" rx="1.8" ry="1.8" fill="#f07a28" opacity="0.82"/>
<ellipse cx="441.4" cy="916.4" rx="2.0" ry="2.0" fill="#f07a28" opacity="0.87"/>
<ellipse cx="381.4" cy="940.8" rx="2.1" ry="2.0" fill="#e86a20" opacity="0.95"/>
<ellipse cx="430.5" cy="870.0" rx="2.1" ry="1.8" fill="#f08a38" opacity="0.91"/>
<ellipse cx="433.4" cy="893.5" rx="2.3" ry="2.4" fill="#e86a20" opacity="0.94"/>
<ellipse cx="430.0" cy="908.9" rx="2.1" ry="2.0" fill="#f4a050" opacity="0.97"/>
<ellipse cx="439.3" cy="900.9" rx="2.0" ry="1.6" fill="#f08a38" opacity="0.97"/>
<ellipse cx="382.9" cy="924.9" rx="2.2" ry="2.2" fill="#ee6a30" opacity="0.86"/>
<ellipse cx="404.7" cy="919.0" rx="2.0" ry="1.9" fill="#ee6a30" opacity="0.95"/>
<ellipse cx="373.3" cy="918.7" rx="2.3" ry="2.4" fill="#e86a20" opacity="0.94"/>
<ellipse cx="403.7" cy="935.2" rx="2.3" ry="2.4" fill="#f4a050" opacity="0.85"/>
<ellipse cx="356.5" cy="907.5" rx="2.5" ry="2.8" fill="#ee6a30" opacity="0.89"/>
<ellipse cx="357.5" cy="876.0" rx="1.9" ry="1.7" fill="#f08a38" opacity="0.96"/>
<ellipse cx="351.8" cy="889.4" rx="1.8" ry="1.9" fill="#e86a20" opacity="0.94"/>
<ellipse cx="416.0" cy="945.5" rx="2.6" ry="2.2" fill="#f49040" opacity="0.80"/>
<ellipse cx="418.1" cy="903.4" rx="2.1" ry="1.7" fill="#f08a38" opacity="0.97"/>
<ellipse cx="353.7" cy="917.9" rx="2.3" ry="2.4" fill="#e86a20" opacity="0.98"/>
<ellipse cx="350.3" cy="902.4" rx="1.9" ry="1.9" fill="#f49040" opacity="0.91"/>
<ellipse cx="362.3" cy="923.1" rx="2.1" ry="1.7" fill="#f08a38" opacity="0.94"/>
<ellipse cx="453.1" cy="917.4" rx="1.8" ry="1.7" fill="#f08a38" opacity="0.83"/>
<ellipse cx="367.1" cy="917.3" rx="2.2" ry="2.0" fill="#f49040" opacity="0.88"/>
<ellipse cx="375.7" cy="877.0" rx="2.7" ry="2.6" fill="#f08a38" opacity="0.96"/>
<ellipse cx="347.4" cy="893.0" rx="2.0" ry="1.9" fill="#f4a050" opacity="0.87"/>
<ellipse cx="364.4" cy="943.6" rx="2.0" ry="2.2" fill="#e86a20" opacity="0.93"/>
<ellipse cx="423.2" cy="908.3" rx="1.9" ry="1.7" fill="#e86a20" opacity="0.93"/>
<ellipse cx="380.3" cy="917.8" rx="2.6" ry="2.8" fill="#f07a28" opacity="0.88"/>
<ellipse cx="364.9" cy="874.6" rx="2.3" ry="2.2" fill="#f08a38" opacity="0.97"/>
<ellipse cx="393.3" cy="880.1" rx="2.6" ry="2.3" fill="#f08a38" opacity="0.86"/>
<ellipse cx="411.5" cy="908.1" rx="2.1" ry="2.0" fill="#f4a050" opacity="0.92"/>
<ellipse cx="429.8" cy="887.9" rx="2.6" ry="2.2" fill="#f4a050" opacity="0.81"/>
<ellipse cx="419.7" cy="919.6" rx="1.7" ry="1.5" fill="#f08a38" opacity="0.86"/>
<ellipse cx="447.6" cy="921.1" rx="2.7" ry="2.7" fill="#f07a28" opacity="0.84"/>
<ellipse cx="386.6" cy="898.5" rx="2.6" ry="2.5" fill="#f49040" opacity="0.82"/>
<ellipse cx="394.9" cy="905.0" rx="1.8" ry="1.6" fill="#f07a28" opacity="0.88"/>
<ellipse cx="405.7" cy="947.0" rx="2.2" ry="2.0" fill="#f49040" opacity="0.95"/>
<ellipse cx="420.8" cy="865.3" rx="2.3" ry="2.5" fill="#f07a28" opacity="0.86"/>
<ellipse cx="452.4" cy="882.8" rx="2.4" ry="2.6" fill="#f08a38" opacity="0.92"/>
<ellipse cx="348.1" cy="908.4" rx="2.2" ry="2.0" fill="#f07a28" opacity="0.97"/>
<ellipse cx="374.6" cy="893.0" rx="1.9" ry="1.7" fill="#f4a050" opacity="0.92"/>
<ellipse cx="445.5" cy="873.7" rx="2.1" ry="1.7" fill="#f4a050" opacity="0.94"/>
<ellipse cx="416.6" cy="876.3" rx="1.9" ry="2.1" fill="#e86a20" opacity="0.99"/>
<ellipse cx="437.2" cy="868.5" rx="2.4" ry="2.5" fill="#f07a28" opacity="0.81"/>
<ellipse cx="422.9" cy="872.8" rx="2.6" ry="2.3" fill="#f08a38" opacity="0.94"/>
<ellipse cx="397.6" cy="890.2" rx="2.6" ry="2.2" fill="#f49040" opacity="0.83"/>
<ellipse cx="384.8" cy="912.2" rx="1.9" ry="1.9" fill="#f08a38" opacity="0.84"/>
<ellipse cx="402.7" cy="868.8" rx="1.9" ry="2.0" fill="#e86a20" opacity="1.00"/>
<ellipse cx="342.5" cy="907.3" rx="1.7" ry="1.7" fill="#f08a38" opacity="0.94"/>
<ellipse cx="380.9" cy="932.6" rx="1.8" ry="1.9" fill="#f07a28" opacity="0.97"/>
<ellipse cx="454.1" cy="925.8" rx="2.0" ry="2.1" fill="#e86a20" opacity="0.81"/>
<ellipse cx="376.2" cy="947.3" rx="1.9" ry="2.0" fill="#f49040" opacity="0.93"/>
<ellipse cx="433.9" cy="875.0" rx="2.3" ry="2.1" fill="#e86a20" opacity="1.00"/>
<ellipse cx="393.6" cy="927.2" rx="2.4" ry="2.6" fill="#f49040" opacity="0.84"/>
<ellipse cx="387.1" cy="942.9" rx="2.2" ry="2.0" fill="#f08a38" opacity="0.87"/>
<ellipse cx="343.2" cy="921.0" rx="1.9" ry="1.8" fill="#f4a050" opacity="0.86"/>
<ellipse cx="441.5" cy="922.6" rx="1.7" ry="1.8" fill="#e86a20" opacity="0.98"/>
<ellipse cx="369.4" cy="868.5" rx="2.1" ry="2.3" fill="#f08a38" opacity="0.91"/>
<ellipse cx="448.7" cy="933.6" rx="2.5" ry="2.5" fill="#e86a20" opacity="0.92"/>
<ellipse cx="422.7" cy="880.1" rx="1.7" ry="1.4" fill="#ee6a30" opacity="0.82"/>
<ellipse cx="398.4" cy="862.4" rx="1.8" ry="1.7" fill="#f08a38" opacity="0.95"/>
<ellipse cx="459.7" cy="892.3" rx="1.9" ry="1.9" fill="#ee6a30" opacity="0.89"/>
<ellipse cx="464.9" cy="913.1" rx="2.3" ry="2.5" fill="#ee6a30" opacity="0.82"/>
<ellipse cx="452.2" cy="904.5" rx="2.5" ry="2.7" fill="#f49040" opacity="0.88"/>
<ellipse cx="366.0" cy="896.3" rx="1.8" ry="1.5" fill="#f4a050" opacity="0.80"/>
<ellipse cx="356.8" cy="927.9" rx="2.7" ry="2.7" fill="#f07a28" opacity="0.96"/>
<ellipse cx="417.2" cy="933.5" rx="2.6" ry="2.7" fill="#f07a28" opacity="0.91"/>
<ellipse cx="383.7" cy="887.9" rx="1.8" ry="1.9" fill="#f08a38" opacity="0.85"/>
<ellipse cx="459.3" cy="917.6" rx="2.2" ry="2.1" fill="#f07a28" opacity="0.84"/>
<ellipse cx="352.1" cy="896.6" rx="2.5" ry="2.6" fill="#f07a28" opacity="0.82"/>
<ellipse cx="349.0" cy="928.3" rx="2.4" ry="1.9" fill="#f08a38" opacity="0.90"/>
<ellipse cx="358.2" cy="935.5" rx="2.0" ry="2.0" fill="#f07a28" opacity="0.97"/>
<ellipse cx="387.9" cy="869.3" rx="2.0" ry="1.6" fill="#f08a38" opacity="1.00"/>
<ellipse cx="406.8" cy="861.6" rx="2.7" ry="2.7" fill="#f49040" opacity="0.94"/>
<ellipse cx="436.9" cy="929.4" rx="1.9" ry="1.8" fill="#f49040" opacity="0.81"/>
<ellipse cx="399.4" cy="880.8" rx="2.1" ry="2.2" fill="#e86a20" opacity="0.87"/>
<ellipse cx="376.2" cy="936.8" rx="2.3" ry="2.4" fill="#e86a20" opacity="0.90"/>
<ellipse cx="462.8" cy="904.4" rx="2.4" ry="2.1" fill="#e86a20" opacity="0.81"/>
<ellipse cx="410.3" cy="942.6" rx="2.6" ry="2.1" fill="#f49040" opacity="0.90"/>
<ellipse cx="440.2" cy="940.3" rx="2.6" ry="2.5" fill="#f49040" opacity="0.96"/>
<ellipse cx="443.6" cy="907.8" rx="2.3" ry="2.3" fill="#f07a28" opacity="0.95"/>
<ellipse cx="393.3" cy="952.4" rx="2.2" ry="1.9" fill="#f07a28" opacity="0.82"/>
<ellipse cx="434.8" cy="914.7" rx="2.7" ry="2.1" fill="#f07a28" opacity="0.82"/>
<ellipse cx="400.0" cy="953.0" rx="2.6" ry="2.6" fill="#e86a20" opacity="0.81"/>
<ellipse cx="359.5" cy="912.2" rx="2.1" ry="2.1" fill="#ee6a30" opacity="0.93"/>
<circle cx="445.3" cy="886.9" r="0.9" fill="#f4a050" opacity="0.45"/>
<circle cx="377.2" cy="927.5" r="1.0" fill="#e86a20" opacity="0.45"/>
<circle cx="366.1" cy="883.0" r="0.8" fill="#f08a38" opacity="0.45"/>
<circle cx="431.5" cy="906.6" r="1.0" fill="#ee6a30" opacity="0.45"/>
<circle cx="379.3" cy="943.7" r="1.1" fill="#ee6a30" opacity="0.45"/>
<circle cx="438.3" cy="897.2" r="0.8" fill="#e86a20" opacity="0.45"/>
<circle cx="402.2" cy="887.4" r="0.9" fill="#f49040" opacity="0.45"/>
<circle cx="355.8" cy="908.2" r="0.6" fill="#f49040" opacity="0.45"/>
<circle cx="436.1" cy="925.5" r="1.0" fill="#f4a050" opacity="0.45"/>
<circle cx="398.5" cy="893.1" r="1.1" fill="#f08a38" opacity="0.45"/>
<circle cx="384.9" cy="933.9" r="0.9" fill="#f4a050" opacity="0.45"/>
<circle cx="435.1" cy="942.0" r="1.0" fill="#f4a050" opacity="0.45"/>
<circle cx="415.2" cy="942.1" r="0.8" fill="#f49040" opacity="0.45"/>
<circle cx="450.2" cy="912.9" r="1.1" fill="#f4a050" opacity="0.45"/>
<circle cx="424.3" cy="900.5" r="0.8" fill="#ee6a30" opacity="0.45"/>
<circle cx="441.1" cy="882.8" r="0.8" fill="#ee6a30" opacity="0.45"/>
<circle cx="432.5" cy="918.8" r="0.7" fill="#f4a050" opacity="0.45"/>
<circle cx="399.1" cy="946.3" r="1.0" fill="#e86a20" opacity="0.45"/>
<circle cx="359.8" cy="891.7" r="0.9" fill="#f49040" opacity="0.45"/>
<circle cx="379.5" cy="943.3" r="0.8" fill="#f07a28" opacity="0.45"/>
<circle cx="352.6" cy="893.8" r="0.7" fill="#f07a28" opacity="0.45"/>
<circle cx="374.2" cy="894.0" r="0.8" fill="#ee6a30" opacity="0.45"/>
<circle cx="430.8" cy="870.4" r="0.8" fill="#e86a20" opacity="0.45"/>
<circle cx="404.7" cy="910.5" r="0.9" fill="#ee6a30" opacity="0.45"/>
<circle cx="434.4" cy="903.3" r="0.9" fill="#e86a20" opacity="0.45"/>
<circle cx="402.3" cy="901.9" r="0.7" fill="#e86a20" opacity="0.45"/>
<circle cx="434.2" cy="890.6" r="0.7" fill="#f4a050" opacity="0.45"/>
<circle cx="421.6" cy="945.5" r="0.7" fill="#f49040" opacity="0.45"/>
<circle cx="407.4" cy="866.2" r="0.9" fill="#ee6a30" opacity="0.45"/>
<circle cx="368.4" cy="889.4" r="0.7" fill="#ee6a30" opacity="0.45"/>
<circle cx="387.3" cy="931.6" r="0.7" fill="#ee6a30" opacity="0.45"/>
<circle cx="401.8" cy="943.2" r="0.8" fill="#f08a38" opacity="0.45"/>
<circle cx="393.3" cy="929.3" r="1.0" fill="#f08a38" opacity="0.45"/>
<circle cx="405.4" cy="881.0" r="1.1" fill="#f08a38" opacity="0.45"/>
<circle cx="361.9" cy="932.2" r="1.1" fill="#e86a20" opacity="0.45"/>
<circle cx="435.0" cy="932.8" r="0.6" fill="#f08a38" opacity="0.45"/>
<circle cx="383.4" cy="942.5" r="0.9" fill="#f07a28" opacity="0.45"/>
<circle cx="393.4" cy="881.3" r="0.7" fill="#f4a050" opacity="0.45"/>
<circle cx="373.3" cy="903.8" r="1.0" fill="#f49040" opacity="0.45"/>
<circle cx="363.3" cy="893.4" r="1.0" fill="#f4a050" opacity="0.45"/>
<circle cx="375.8" cy="874.5" r="0.7" fill="#ee6a30" opacity="0.45"/>
<circle cx="432.3" cy="890.3" r="0.8" fill="#ee6a30" opacity="0.45"/>
<circle cx="404.0" cy="894.9" r="1.1" fill="#ee6a30" opacity="0.45"/>
<circle cx="455.3" cy="916.5" r="1.0" fill="#f08a38" opacity="0.45"/>
<circle cx="438.4" cy="877.8" r="0.7" fill="#f07a28" opacity="0.45"/>
<circle cx="413.3" cy="908.5" r="0.9" fill="#e86a20" opacity="0.45"/>
<circle cx="407.3" cy="885.9" r="0.7" fill="#f08a38" opacity="0.45"/>
<circle cx="373.8" cy="898.7" r="0.7" fill="#e86a20" opacity="0.45"/>
<circle cx="434.3" cy="933.7" r="0.8" fill="#f4a050" opacity="0.45"/>
<circle cx="354.9" cy="903.6" r="0.7" fill="#e86a20" opacity="0.45"/>
<circle cx="408.9" cy="948.3" r="1.0" fill="#f08a38" opacity="0.45"/>
<circle cx="400.2" cy="894.7" r="0.8" fill="#f07a28" opacity="0.45"/>
<circle cx="371.7" cy="903.9" r="0.9" fill="#f08a38" opacity="0.45"/>
<circle cx="366.7" cy="917.4" r="0.7" fill="#f07a28" opacity="0.45"/>
<circle cx="456.3" cy="908.2" r="1.0" fill="#ee6a30" opacity="0.45"/>
<circle cx="452.5" cy="894.6" r="0.7" fill="#f4a050" opacity="0.45"/>
<circle cx="364.6" cy="888.3" r="0.7" fill="#ee6a30" opacity="0.45"/>
<circle cx="413.5" cy="928.4" r="1.0" fill="#e86a20" opacity="0.45"/>
<circle cx="443.3" cy="887.4" r="1.0" fill="#e86a20" opacity="0.45"/>
<circle cx="424.7" cy="878.8" r="0.8" fill="#ee6a30" opacity="0.45"/>
<circle cx="419.5" cy="878.5" r="1.0" fill="#f08a38" opacity="0.45"/>
<circle cx="414.9" cy="875.9" r="0.8" fill="#f4a050" opacity="0.45"/>
<circle cx="390.8" cy="945.3" r="0.8" fill="#f08a38" opacity="0.45"/>
<circle cx="448.1" cy="907.4" r="0.7" fill="#f08a38" opacity="0.45"/>
<circle cx="439.3" cy="906.9" r="0.8" fill="#f07a28" opacity="0.45"/>
<circle cx="374.6" cy="930.6" r="0.9" fill="#ee6a30" opacity="0.45"/>
<circle cx="373.1" cy="921.0" r="0.7" fill="#e86a20" opacity="0.45"/>
<circle cx="404.9" cy="911.5" r="0.7" fill="#f4a050" opacity="0.45"/>
<circle cx="417.1" cy="923.7" r="0.7" fill="#e86a20" opacity="0.45"/>
<circle cx="445.6" cy="926.5" r="1.0" fill="#e86a20" opacity="0.45"/>
<circle cx="436.9" cy="939.1" r="1.0" fill="#f08a38" opacity="0.45"/>
<circle cx="412.7" cy="939.1" r="0.7" fill="#f07a28" opacity="0.45"/>
<circle cx="438.0" cy="922.2" r="1.1" fill="#f4a050" opacity="0.45"/>
<circle cx="390.1" cy="900.3" r="0.9" fill="#f08a38" opacity="0.45"/>
<circle cx="437.1" cy="897.4" r="1.1" fill="#f4a050" opacity="0.45"/>
<circle cx="388.8" cy="929.4" r="0.7" fill="#f07a28" opacity="0.45"/>
<circle cx="419.0" cy="899.5" r="0.8" fill="#f4a050" opacity="0.45"/>
<circle cx="425.7" cy="940.8" r="0.9" fill="#f49040" opacity="0.45"/>
<circle cx="421.5" cy="911.4" r="0.7" fill="#ee6a30" opacity="0.45"/>
<circle cx="357.1" cy="894.1" r="0.7" fill="#f4a050" opacity="0.45"/>
<circle cx="380.4" cy="941.1" r="0.7" fill="#f4a050" opacity="0.45"/>
<circle cx="392.6" cy="890.2" r="0.9" fill="#f49040" opacity="0.45"/>
<circle cx="420.0" cy="902.0" r="1.0" fill="#f08a38" opacity="0.45"/>
<circle cx="417.5" cy="894.5" r="0.8" fill="#ee6a30" opacity="0.45"/>
<circle cx="401.0" cy="931.9" r="0.8" fill="#f4a050" opacity="0.45"/>
<circle cx="383.4" cy="925.7" r="0.7" fill="#f07a28" opacity="0.45"/>
<circle cx="374.7" cy="891.2" r="0.9" fill="#ee6a30" opacity="0.45"/>
<circle cx="431.1" cy="889.2" r="0.7" fill="#f07a28" opacity="0.45"/>
<circle cx="380.0" cy="921.9" r="0.7" fill="#ee6a30" opacity="0.45"/>
<circle cx="351.5" cy="892.4" r="0.9" fill="#f08a38" opacity="0.45"/>
<circle cx="416.6" cy="866.9" r="0.8" fill="#ee6a30" opacity="0.45"/>
<circle cx="385.5" cy="911.1" r="1.0" fill="#f49040" opacity="0.45"/>
<circle cx="394.2" cy="920.8" r="0.9" fill="#f4a050" opacity="0.45"/>
<circle cx="350.9" cy="904.0" r="0.9" fill="#f4a050" opacity="0.45"/>
<circle cx="409.2" cy="913.4" r="0.8" fill="#e86a20" opacity="0.45"/>
<circle cx="430.2" cy="885.8" r="1.0" fill="#f49040" opacity="0.45"/>
<circle cx="395.8" cy="946.8" r="0.7" fill="#ee6a30" opacity="0.45"/>
<circle cx="374.3" cy="936.4" r="0.7" fill="#f4a050" opacity="0.45"/>
<circle cx="404.7" cy="898.0" r="1.0" fill="#f07a28" opacity="0.45"/>
<circle cx="427.6" cy="925.9" r="1.1" fill="#e86a20" opacity="0.45"/>
<circle cx="411.1" cy="948.8" r="0.9" fill="#f49040" opacity="0.45"/>
<circle cx="447.4" cy="884.9" r="1.1" fill="#f49040" opacity="0.45"/>
<circle cx="391.9" cy="879.4" r="0.7" fill="#f4a050" opacity="0.45"/>
<circle cx="439.4" cy="918.4" r="0.6" fill="#f49040" opacity="0.45"/>
<circle cx="396.7" cy="938.8" r="0.9" fill="#e86a20" opacity="0.45"/>
<circle cx="455.2" cy="893.3" r="0.7" fill="#f07a28" opacity="0.45"/>
<circle cx="375.0" cy="891.0" r="0.6" fill="#f49040" opacity="0.45"/>
<circle cx="391.4" cy="932.8" r="0.8" fill="#f08a38" opacity="0.45"/>
<circle cx="381.9" cy="874.8" r="0.9" fill="#f08a38" opacity="0.45"/>
<circle cx="374.0" cy="918.1" r="0.9" fill="#f07a28" opacity="0.45"/>
<circle cx="366.8" cy="936.4" r="1.1" fill="#e86a20" opacity="0.45"/>
<circle cx="365.8" cy="898.1" r="0.6" fill="#f08a38" opacity="0.45"/>
<circle cx="408.7" cy="935.4" r="0.8" fill="#e86a20" opacity="0.45"/>
<circle cx="437.4" cy="914.7" r="0.9" fill="#e86a20" opacity="0.45"/>
<circle cx="389.0" cy="881.1" r="0.9" fill="#f07a28" opacity="0.45"/>
<circle cx="431.9" cy="874.5" r="1.0" fill="#ee6a30" opacity="0.45"/>
<circle cx="373.9" cy="931.6" r="0.9" fill="#ee6a30" opacity="0.45"/>
<circle cx="447.9" cy="900.5" r="1.1" fill="#e86a20" opacity="0.45"/>
<circle cx="441.1" cy="902.6" r="0.7" fill="#f49040" opacity="0.45"/>
<circle cx="392.3" cy="905.6" r="1.0" fill="#e86a20" opacity="0.45"/>
<circle cx="443.8" cy="897.9" r="0.6" fill="#f08a38" opacity="0.45"/>
<circle cx="429.6" cy="918.2" r="1.0" fill="#e86a20" opacity="0.45"/>
<circle cx="407.3" cy="947.5" r="0.6" fill="#f4a050" opacity="0.45"/>
<circle cx="418.3" cy="892.9" r="1.1" fill="#ee6a30" opacity="0.45"/>
<circle cx="420.6" cy="899.4" r="0.7" fill="#e86a20" opacity="0.45"/>
<circle cx="446.4" cy="890.9" r="0.6" fill="#ee6a30" opacity="0.45"/>
<circle cx="411.5" cy="921.6" r="0.9" fill="#f4a050" opacity="0.45"/>
<circle cx="362.2" cy="893.6" r="0.9" fill="#f08a38" opacity="0.45"/>
<circle cx="384.0" cy="876.1" r="0.6" fill="#f4a050" opacity="0.45"/>
<circle cx="425.1" cy="946.2" r="0.7" fill="#ee6a30" opacity="0.45"/>
<circle cx="375.2" cy="901.0" r="1.1" fill="#f08a38" opacity="0.45"/>
<circle cx="375.9" cy="912.2" r="1.0" fill="#f08a38" opacity="0.45"/>
<circle cx="404.8" cy="948.0" r="0.9" fill="#f08a38" opacity="0.45"/>
<circle cx="431.2" cy="921.5" r="0.7" fill="#f4a050" opacity="0.45"/>
<circle cx="382.8" cy="907.6" r="0.8" fill="#f49040" opacity="0.45"/>
<circle cx="400.9" cy="907.8" r="0.9" fill="#f49040" opacity="0.45"/>
<circle cx="407.1" cy="944.6" r="1.1" fill="#f49040" opacity="0.45"/>
<circle cx="414.1" cy="935.0" r="0.8" fill="#f07a28" opacity="0.45"/>
<circle cx="439.1" cy="918.0" r="1.0" fill="#e86a20" opacity="0.45"/>
<circle cx="382.2" cy="914.1" r="0.9" fill="#ee6a30" opacity="0.45"/>
<circle cx="367.8" cy="906.6" r="0.7" fill="#f07a28" opacity="0.45"/>
<circle cx="415.1" cy="905.5" r="0.8" fill="#ee6a30" opacity="0.45"/>
<circle cx="351.0" cy="908.1" r="0.7" fill="#f49040" opacity="0.45"/>
<circle cx="410.4" cy="947.1" r="0.7" fill="#f07a28" opacity="0.45"/>
<circle cx="380.0" cy="943.0" r="0.9" fill="#f4a050" opacity="0.45"/>
<ellipse cx="332.0" cy="880.9" rx="2.2" ry="2.0" fill="#ee5030" opacity="0.86"/>
<ellipse cx="380.8" cy="865.6" rx="2.2" ry="2.1" fill="#ee5a30" opacity="0.85"/>
<ellipse cx="356.6" cy="859.4" rx="2.3" ry="1.7" fill="#e8413a" opacity="0.92"/>
<ellipse cx="341.2" cy="877.8" rx="2.0" ry="1.5" fill="#e8413a" opacity="0.70"/>
<ellipse cx="371.5" cy="891.1" rx="2.2" ry="2.1" fill="#e8413a" opacity="0.79"/>
<ellipse cx="345.4" cy="865.9" rx="2.0" ry="1.8" fill="#e8413a" opacity="0.81"/>
<ellipse cx="304.0" cy="866.8" rx="1.5" ry="1.5" fill="#ee5030" opacity="0.87"/>
<ellipse cx="325.2" cy="884.9" rx="1.8" ry="1.6" fill="#e8413a" opacity="0.92"/>
<ellipse cx="285.3" cy="838.6" rx="1.6" ry="1.3" fill="#f07a28" opacity="0.96"/>
<ellipse cx="312.9" cy="871.4" rx="1.9" ry="1.8" fill="#e8413a" opacity="0.71"/>
<ellipse cx="319.1" cy="849.1" rx="1.7" ry="1.7" fill="#ee5a30" opacity="0.94"/>
<ellipse cx="313.3" cy="845.9" rx="1.9" ry="2.1" fill="#f07a28" opacity="0.67"/>
<ellipse cx="361.6" cy="872.2" rx="1.7" ry="1.3" fill="#ee5030" opacity="0.71"/>
<ellipse cx="356.0" cy="903.7" rx="1.9" ry="1.8" fill="#ee5030" opacity="0.94"/>
<ellipse cx="362.0" cy="886.1" rx="2.0" ry="1.7" fill="#e8413a" opacity="0.69"/>
<ellipse cx="339.9" cy="856.7" rx="2.2" ry="1.8" fill="#e8413a" opacity="0.89"/>
<ellipse cx="344.0" cy="887.4" rx="2.2" ry="2.3" fill="#e8413a" opacity="0.85"/>
<ellipse cx="325.8" cy="858.7" rx="2.2" ry="1.7" fill="#e8413a" opacity="0.72"/>
<ellipse cx="346.1" cy="899.9" rx="1.6" ry="1.7" fill="#e8413a" opacity="0.79"/>
<ellipse cx="363.6" cy="906.7" rx="2.0" ry="1.6" fill="#e8413a" opacity="0.84"/>
<ellipse cx="316.8" cy="877.3" rx="2.2" ry="1.8" fill="#e8413a" opacity="0.78"/>
<ellipse cx="368.9" cy="868.0" rx="2.3" ry="2.4" fill="#f07a28" opacity="0.78"/>
<ellipse cx="354.6" cy="870.2" rx="1.7" ry="1.4" fill="#ee5a30" opacity="0.99"/>
<ellipse cx="349.1" cy="910.0" rx="1.7" ry="1.5" fill="#ee5030" opacity="0.90"/>
<ellipse cx="298.0" cy="841.7" rx="2.2" ry="2.4" fill="#e8413a" opacity="0.79"/>
<ellipse cx="376.0" cy="878.5" rx="1.6" ry="1.5" fill="#f07a28" opacity="0.84"/>
<ellipse cx="293.2" cy="850.6" rx="1.6" ry="1.7" fill="#f07a28" opacity="0.97"/>
<ellipse cx="302.0" cy="856.6" rx="2.3" ry="2.4" fill="#e8413a" opacity="0.75"/>
<ellipse cx="292.9" cy="858.0" rx="1.5" ry="1.6" fill="#ee5030" opacity="0.82"/>
<ellipse cx="333.0" cy="866.6" rx="1.5" ry="1.5" fill="#f07a28" opacity="0.87"/>
<ellipse cx="376.2" cy="871.6" rx="1.9" ry="2.0" fill="#e8413a" opacity="0.95"/>
<ellipse cx="300.9" cy="848.1" rx="1.5" ry="1.4" fill="#ee5030" opacity="0.86"/>
<ellipse cx="334.4" cy="891.6" rx="1.6" ry="1.4" fill="#f07a28" opacity="0.71"/>
<ellipse cx="311.2" cy="861.2" rx="1.4" ry="1.4" fill="#e8413a" opacity="0.68"/>
<ellipse cx="349.4" cy="892.7" rx="1.6" ry="1.5" fill="#ee5030" opacity="0.78"/>
<ellipse cx="273.6" cy="839.4" rx="2.0" ry="1.8" fill="#ee5a30" opacity="0.72"/>
<ellipse cx="348.0" cy="876.9" rx="1.7" ry="1.4" fill="#e8413a" opacity="1.00"/>
<ellipse cx="280.8" cy="843.7" rx="1.8" ry="1.4" fill="#e8413a" opacity="0.71"/>
<ellipse cx="320.3" cy="865.7" rx="1.6" ry="1.6" fill="#f07a28" opacity="1.00"/>
<ellipse cx="365.1" cy="879.5" rx="1.9" ry="2.0" fill="#e8413a" opacity="0.82"/>
<ellipse cx="335.9" cy="873.2" rx="1.8" ry="1.5" fill="#ee5a30" opacity="0.87"/>
<ellipse cx="355.1" cy="882.9" rx="1.8" ry="1.8" fill="#e8413a" opacity="0.98"/>
<ellipse cx="340.7" cy="895.5" rx="1.9" ry="1.5" fill="#ee5030" opacity="0.93"/>
<ellipse cx="317.5" cy="858.6" rx="2.2" ry="2.0" fill="#ee5a30" opacity="0.92"/>
<ellipse cx="362.6" cy="894.3" rx="1.5" ry="1.3" fill="#f07a28" opacity="0.93"/>
<ellipse cx="359.6" cy="865.8" rx="2.2" ry="1.7" fill="#ee5030" opacity="0.76"/>
<ellipse cx="328.4" cy="872.1" rx="2.2" ry="1.7" fill="#ee5030" opacity="0.72"/>
<ellipse cx="165.0" cy="812.0" rx="1.7" ry="2.7" fill="#2a6f9a"/>
<ellipse cx="147.0" cy="876.0" rx="1.7" ry="2.7" fill="#2a6f9a"/>
<ellipse cx="252.0" cy="900.0" rx="1.7" ry="2.7" fill="#2a6f9a"/>
<ellipse cx="404.0" cy="802.0" rx="1.7" ry="2.7" fill="#2a6f9a"/>
<ellipse cx="420.0" cy="806.0" rx="1.7" ry="2.7" fill="#2a6f9a"/>
<ellipse cx="403.0" cy="901.0" rx="1.7" ry="2.7" fill="#2a6f9a"/>
<ellipse cx="400.0" cy="915.0" rx="1.7" ry="2.7" fill="#2a6f9a"/>
<ellipse cx="258.0" cy="912.0" rx="1.7" ry="2.7" fill="#2a6f9a"/>
<ellipse cx="135.0" cy="850.0" rx="1.7" ry="2.7" fill="#2a6f9a"/>
<path d="M464.0,895.0 C464.3,886.3 466.0,875.0 471.0,868.0 C476.0,861.0 484.2,855.5 494.0,853.0 C503.8,850.5 519.3,850.5 530.0,853.0 C540.7,855.5 552.0,860.5 558.0,868.0 C564.0,875.5 566.7,888.3 566.0,898.0 C565.3,907.7 561.3,919.3 554.0,926.0 C546.7,932.7 532.7,936.3 522.0,938.0 C511.3,939.7 498.8,939.0 490.0,936.0 C481.2,933.0 473.3,926.8 469.0,920.0 C464.7,913.2 463.7,903.7 464.0,895.0Z" fill="#fefcfa"/>
<text x="515" y="889.5" font-size="25.5" text-anchor="middle" textLength="75" lengthAdjust="spacingAndGlyphs" stroke="#fefcfa" stroke-width="0.36">Neural</text>
<text x="515.5" y="920" font-size="25.5" text-anchor="middle" textLength="50" lengthAdjust="spacingAndGlyphs" stroke="#fefcfa" stroke-width="0.36">cells</text>
<path d="M563,868 L591.6,850 L615,836 L623,825" stroke="#555560" stroke-width="1" fill="none"/>
<path d="M409.0,884.0 C399.8,880.8 372.3,871.3 354.0,865.0 C335.7,858.7 315.0,852.8 299.0,846.0 C283.0,839.2 268.8,831.8 258.0,824.0 C247.2,816.2 239.7,807.7 234.0,799.0 C228.3,790.3 226.0,778.5 224.0,772.0 C222.0,765.5 222.3,762.0 222.0,760.0 L221.4,749.0" fill="none" stroke="#2f8f8f" stroke-width="5.6" stroke-linecap="round"/>
<path d="M212.0,767.0 L221.4,749.0 L235.5,763.5" fill="none" stroke="#2f8f8f" stroke-width="5.2" stroke-linecap="round" stroke-linejoin="miter"/>
<path d="M409.0,884.0 C399.8,880.8 372.3,871.3 354.0,865.0 C335.7,858.7 315.0,852.8 299.0,846.0 C283.0,839.2 268.8,831.8 258.0,824.0 C247.2,816.2 239.7,807.7 234.0,799.0 C228.3,790.3 226.0,778.5 224.0,772.0 C222.0,765.5 222.3,762.0 222.0,760.0 L221.4,749.0" fill="none" stroke="#86d2c8" stroke-width="2.8" stroke-linecap="round"/>
<path d="M212.0,767.0 L221.4,749.0 L235.5,763.5" fill="none" stroke="#86d2c8" stroke-width="2.4" stroke-linecap="round" stroke-linejoin="miter"/>
<path d="M668.0,618.0 C661.7,620.5 644.2,627.0 630.0,633.0 C615.8,639.0 598.7,645.8 583.0,654.0 C567.3,662.2 550.0,672.7 536.0,682.0 C522.0,691.3 510.0,701.8 499.0,710.0 C488.0,718.2 478.7,725.5 470.0,731.0 C461.3,736.5 454.9,739.6 447.0,743.0 C439.1,746.4 429.2,750.8 422.4,751.5 C415.6,752.2 410.1,749.8 406.0,747.4 C401.9,745.0 399.3,738.7 398.0,737.0 L396.5,714.5" fill="none" stroke="#2f8f8f" stroke-width="5.6" stroke-linecap="round"/>
<path d="M388.0,734.5 L396.5,714.5 L410.5,734.5" fill="none" stroke="#2f8f8f" stroke-width="5.2" stroke-linecap="round" stroke-linejoin="miter"/>
<path d="M668.0,618.0 C661.7,620.5 644.2,627.0 630.0,633.0 C615.8,639.0 598.7,645.8 583.0,654.0 C567.3,662.2 550.0,672.7 536.0,682.0 C522.0,691.3 510.0,701.8 499.0,710.0 C488.0,718.2 478.7,725.5 470.0,731.0 C461.3,736.5 454.9,739.6 447.0,743.0 C439.1,746.4 429.2,750.8 422.4,751.5 C415.6,752.2 410.1,749.8 406.0,747.4 C401.9,745.0 399.3,738.7 398.0,737.0 L396.5,714.5" fill="none" stroke="#86d2c8" stroke-width="2.8" stroke-linecap="round"/>
<path d="M388.0,734.5 L396.5,714.5 L410.5,734.5" fill="none" stroke="#86d2c8" stroke-width="2.4" stroke-linecap="round" stroke-linejoin="miter"/>
<circle cx="410" cy="885" r="3" fill="#2f8f8f"/>
<circle cx="668" cy="618" r="3.5" fill="#a8e0c8" stroke="#3a9a9a" stroke-width="1"/>
<circle cx="721.0" cy="266.0" r="2.0" fill="#f4c8c0"/>
<circle cx="835.0" cy="298.0" r="2.5" fill="#f8d8d0"/>
<circle cx="938.0" cy="355.0" r="2.0" fill="#f8d0c8"/>
<circle cx="642.0" cy="683.0" r="1.8" fill="#f0a8a0"/>
<circle cx="530.0" cy="660.0" r="1.6" fill="#f4b8a8"/>
<circle cx="557.0" cy="659.0" r="1.5" fill="#f4c0b0"/>
<circle cx="710.0" cy="80.0" r="1.3" fill="#e04a6a"/>
<circle cx="721" cy="347" r="6" fill="#fffdfa"/>
<circle cx="789" cy="957" r="7.5" fill="#fffdfa"/>
</svg>
</body></html>
